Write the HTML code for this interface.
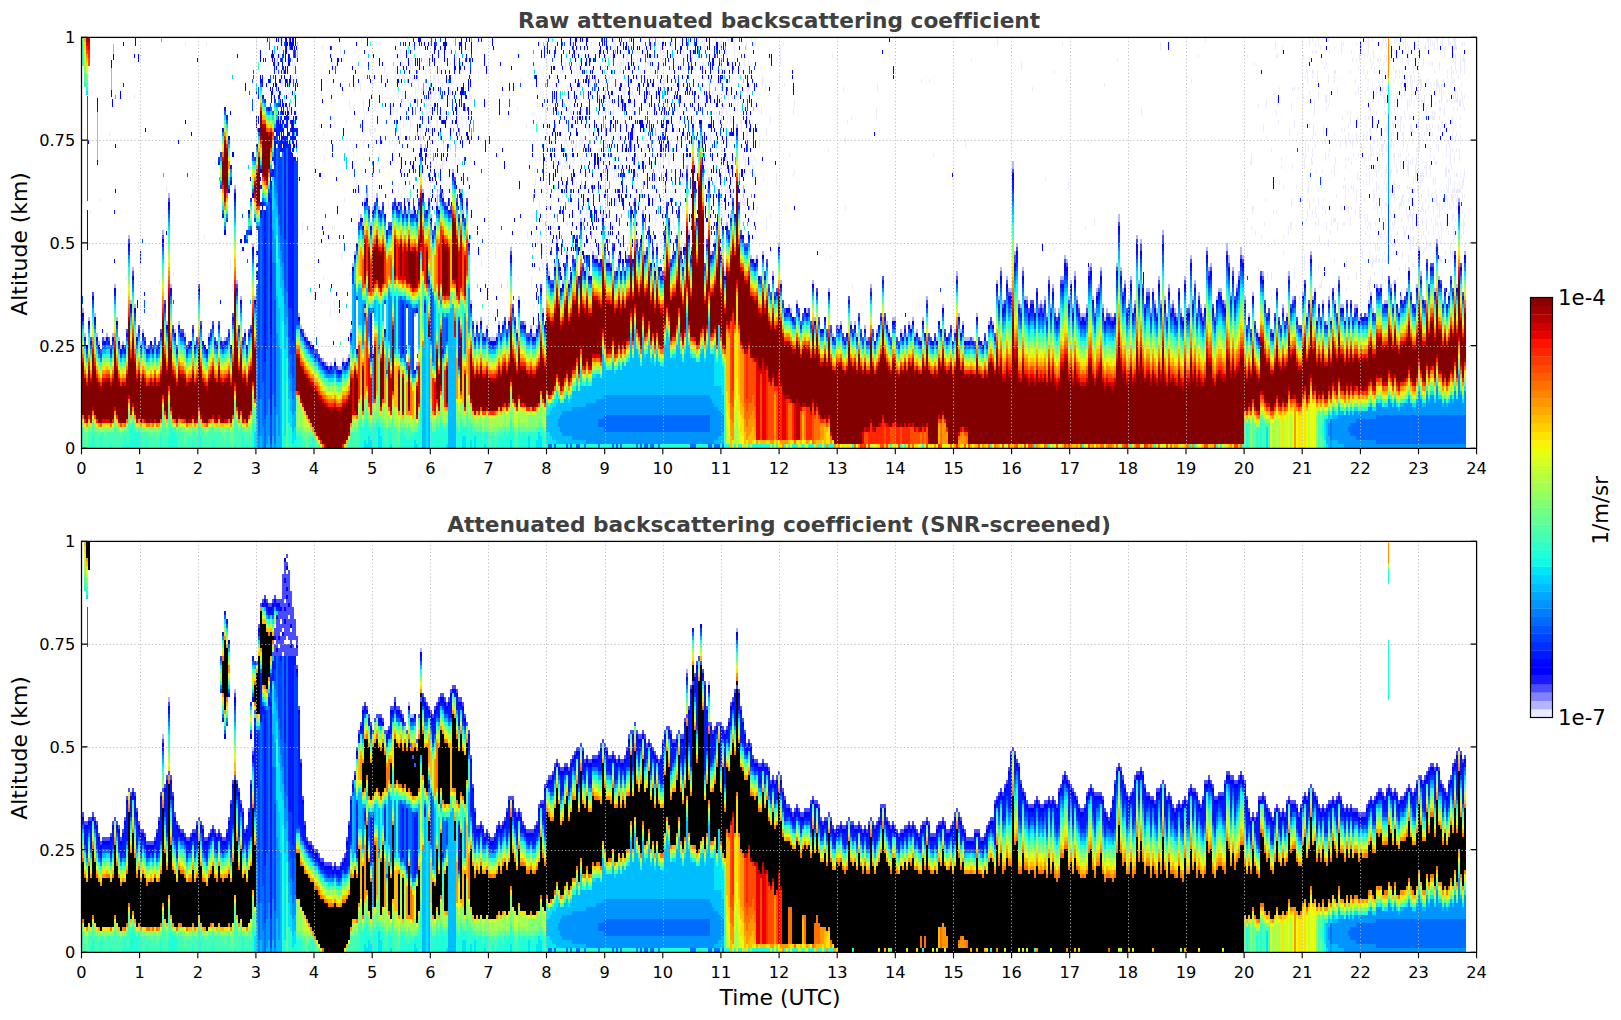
<!DOCTYPE html>
<html><head><meta charset="utf-8"><title>Backscatter</title>
<style>
html,body{margin:0;padding:0;background:#fff}
svg{display:block}
text{font-family:"DejaVu Sans","Liberation Sans",sans-serif;fill:#000;font-variant-ligatures:none;font-feature-settings:"liga" 0,"clig" 0}
.tk{font-size:16.2px}
.lb{font-size:21.9px}
.cb{font-size:21.3px}
.ti{font-size:21.7px;font-weight:bold;fill:#404040}
</style></head><body>
<svg width="1621" height="1020" viewBox="0 0 1621 1020">
<rect width="1621" height="1020" fill="#fff"/>
<g fill="none" stroke-width="2" shape-rendering="crispEdges">
<path stroke="#b4b4ff" d="m83 313v-5m2 29v-4m4-12v-4m6 0v-4m2 24v-4m2 12v-4m6 0v-4m2 0v-4m6 4v-4m2-45v-4m2 37v-4m2 24v-4m2 12v-4m2 0v-4m6-102v-4m2 69v-4m2-29v-4m2 41v-4m2 33v-4m4 12v-4m2-8v-4m4 20v-4m16-110v-5m4 95v-4m2-123v-5m2 95v-4m4 49v-4m4-4v-4m6 16v-4m10 12v-4m14-4v-4m12 8v-4m4 4v-4m10-148v-4m2 99v-4m4 20v-4m4 37v-4m8-82v-4m2 57v-4m44 21v-4m2 16v-4m4 12v-4m6 12v-4m12 21v-4m4 8v-4m4 4v-4m4 0v-4m4 12v-4m2 4v-4m2-4v-4m4 4v-4m2 0v-4m2-21v-4m2-62v-4m2-8v-4m6-33v-4m2 12v-4m2 91v-5m0-106v-4m2 0v-5m4 33v-4m2 132v-5m0-139v-4m4-8v-5m2 17v-4m18 0v-4m2 8v-4m4 8v-4m4 4v-4m2-8v-4m2 16v-4m2 4v-4m2 107v-4m2 53v-4m4-214v-4m2 49v-4m8 29v-4m4 12v-4m2-16v-4m2 8v-4m4-8v-5m4 13v-4m6-29v-4m8 24v-4m2 25v-4m6 33v-4m2 65v-4m4 37v-4m2-8v-4m4 0v-4m4 20v-4m2-4v-4m4 16v-4m2 4v-4m2 4v-4m2 0v-4m2-8v-4m4 4v-4m6 0v-4m2-66v-4m6 86v-4m2-29v-4m6 29v-4m6 8v-4m2 12v-4m2 4v-4m2-4v-4m6-12v-5m6-32v-5m6-4v-4m2-20v-4m6 45v-4m4-25v-4m2 33v-4m12-58v-4m4 53v-4m4 9v-5m4-16v-4m2 8v-4m2 4v-4m2 8v-4m4-41v-4m4 49v-4m2 4v-4m8 12v-4m2-8v-4m6 16v-4m2-8v-4m16-41v-4m2 45v-4m10 20v-4m2-20v-4m4 33v-5m12-16v-4m8 0v-4m2 20v-4m2-16v-4m2-74v-4m2 70v-5m20-49v-4m2 78v-4m4-8v-4m6 16v-4m4 25v-5m2-45v-4m4-4v-4m6-86v-4m14 135v-4m4 8v-4m2 0v-4m6 0v-4m10 25v-5m6-24v-4m2 41v-4m8 28v-4m2 9v-5m6-4v-4m10 13v-5m6-24v-4m2 41v-4m14-25v-4m4 49v-4m6-4v-4m2 0v-4m10 4v-4m4 4v-4m2 16v-4m8-4v-4m2 16v-4m4-49v-4m6 49v-4m10-4v-4m2 12v-4m4-8v-4m2 4v-4m6 16v-4m2 8v-4m4 4v-4m2-8v-4m2 8v-4m2-4v-4m2 20v-4m2 0v-4m4 12v-4m2-16v-4m4-17v-4m10 45v-4m6-29v-4m12 29v-4m2-53v-5m2 46v-4m2 20v-4m2-4v-4m2 20v-4m2 4v-4m2 4v-4m4 4v-4m4-20v-4m6 32v-4m6-16v-4m4 4v-4m4-37v-4m2 20v-4m2-25v-4m2 37v-4m4-20v-4m2 16v-4m2 4v-4m2-119v-8m2 94v-4m2-4v-4m2 61v-4m2 8v-4m2-33v-4m2 33v-4m2 4v-4m8 17v-5m4 0v-4m2 0v-4m2 8v-4m2-4v-4m2 21v-4m2-33v-4m2 32v-4m2-16v-4m2 29v-5m4 5v-5m2-28v-4m2 4v-4m2-17v-4m2 8v-4m2 41v-4m2-12v-4m2 28v-4m2-28v-5m2 29v-4m2 12v-4m2 13v-4m2 4v-4m2 4v-4m2-5v-4m2-33v-4m2 0v-4m2 37v-4m2 17v-5m2-16v-4m2 0v-4m2-13v-4m2 41v-4m2 17v-4m2-4v-5m4 9v-4m6-46v-4m2-41v-8m2 57v-4m2 25v-4m2-4v-4m4 24v-4m2-20v-4m2 37v-5m2-4v-4m2-61v-4m2 49v-4m2-37v-4m6 53v-4m2 4v-4m2 25v-5m2-16v-4m2 16v-4m2 13v-5m2-28v-4m2 28v-4m2-65v-5m2 70v-4m2 21v-4m2-25v-4m2 24v-4m2 0v-4m2 13v-5m2 9v-4m4 0v-5m4-28v-4m4 32v-4m2-45v-4m2 45v-4m2-12v-4m2 33v-5m2-12v-4m2 16v-4m2 13v-4m2-5v-4m2-53v-4m2 24v-4m2 0v-4m4 54v-4m2-13v-4m2-4v-4m2 4v-4m4 16v-4m2-49v-8m2 20v-8m2 41v-4m2-21v-4m4 21v-4m2-8v-5m2-16v-8m2 12v-4m2 45v-4m4 21v-4m4-17v-4m4 41v-4m2 8v-4m4-57v-5m10 62v-4m10-21v-4m4 13v-4m2-37v-5m4 29v-4m10 0v-4m4 25v-4m4-58v-4m2 49v-4m2-4v-4m2 33v-4m6-13v-4m4 25v-4m2-21v-4m2 25v-4m4-13v-4m4-20v-4m2 32v-4m2 4v-4m2 17v-4m10-9v-4m2 4v-4m2 17v-4m8 0v-4m2-9v-4m2-4v-4m2 21v-5m4-20v-4m4 4v-4m4 20v-4m2 4v-4m4-12v-4m4 0v-4m4 33v-5m2-8v-4m6-4v-4m2-17v-4m8 21v-4m2-33v-4m2 29v-5m2 29v-4m12-4v-4m2-45v-4m2 41v-4m4 28v-4m6-4v-4m8-4v-4m2-82v-4m6 57v-4"/>
<path stroke="#4b4bff" d="m91 341v-4m2-41v-4m8 62v-5m2-8v-4m6 4v-4m2 12v-4m14 4v-4m2-12v-4m2-86v-4m4 37v-5m6 58v-4m6 16v-4m4 12v-4m4 4v-4m2-4v-4m2 12v-4m2 0v-4m2-8v-4m2-90v-4m2 69v-4m4-98v-4m4 131v-4m4 24v-4m4-12v-4m2 4v-4m4 20v-4m2 0v-4m4-12v-4m4 16v-4m2-49v-4m2 41v-4m10 12v-4m2-4v-4m2 20v-4m2 8v-4m2-16v-4m4 24v-4m4 0v-4m2-4v-4m4-12v-4m2-120v-4m2 99v-4m2 45v-4m4 16v-4m6-4v-4m2 0v-4m52 8v-4m4 12v-4m8 17v-5m2 5v-5m2 9v-4m2 8v-4m4 8v-4m4 8v-4m4 4v-4m4 4v-4m8 0v-4m14-136v-4m10-12v-4m6 0v-4m6 12v-4m2-4v-4m6 24v-4m2 4v-4m2-16v-4m2 0v-4m6 8v-4m6 164v-4m10-144v-4m2-12v-4m6 16v-4m4-8v-4m4 37v-5m8-37v-4m4 17v-4m6 8v-4m4-25v-4m2 25v-4m2 20v-4m6 8v-4m2-16v-4m6 127v-4m6 16v-4m4 4v-4m6 8v-4m12 0v-4m4-12v-4m2 16v-4m4-74v-4m2 57v-4m2 17v-4m6 8v-4m2 4v-4m4 16v-4m2 4v-4m10-8v-4m2-33v-4m6-17v-4m4 21v-4m2 4v-4m6-13v-4m6 4v-4m8-4v-4m2 8v-4m2-20v-4m6 32v-4m22-16v-4m6 24v-4m2-16v-4m2 33v-5m14-12v-4m2-45v-4m4-4v-4m2 45v-4m2 16v-4m8 0v-4m2-17v-4m4 25v-4m10 29v-5m2-36v-5m2-24v-4m2 20v-4m2 45v-4m6-20v-4m2-25v-4m8-33v-4m4 90v-4m14 12v-4m2-20v-4m6 16v-4m6-58v-4m10 46v-5m4-28v-4m6 8v-4m2 33v-5m4 17v-4m2 4v-4m14 37v-4m4 0v-5m2-8v-4m2 29v-4m2 12v-4m4 4v-4m2 0v-4m6 16v-4m2 13v-5m10 13v-4m4-4v-5m2 17v-4m2-4v-4m6 0v-5m2 17v-4m6-29v-4m2 33v-4m8 16v-4m4 0v-4m4 16v-4m2-8v-4m6 12v-4m2 8v-4m4-37v-4m4 37v-4m6-12v-4m2 20v-4m2 12v-4m6 4v-4m2-45v-4m2 45v-4m8-12v-4m2-33v-4m2 41v-4m6 28v-4m6 4v-4m2 8v-4m6-12v-4m14 16v-4m8-33v-4m2 37v-4m2 8v-4m4 0v-4m10 0v-4m4 8v-4m2-4v-4m6-45v-4m14 65v-4m4 8v-4m4 0v-4m6 0v-4m2 12v-4m4-20v-4m4 20v-4m4-29v-4m2-24v-5m2 37v-4m2 0v-4m2-16v-4m2 16v-4m2 4v-4m2-119v-4m2 94v-8m2-4v-4m2 61v-4m2 9v-5m2-32v-5m4 33v-4m2 13v-5m2-4v-4m2 4v-4m4-8v-4m2 25v-5m2 0v-4m2 9v-5m2-4v-4m2 21v-4m2-33v-4m2 33v-5m2-16v-4m2 29v-4m2 8v-4m2 0v-4m2-29v-4m2 4v-4m2-17v-4m2 8v-4m2 41v-4m4 13v-5m2-28v-4m2 28v-4m2 13v-5m2 13v-4m4 4v-4m2-4v-5m2-32v-5m2 0v-4m4 50v-4m2-17v-4m2 0v-4m2-12v-5m2 42v-5m4 9v-4m2 4v-4m2 8v-4m2 4v-4m2 0v-4m2-42v-4m2-41v-4m2 54v-5m2 25v-4m2-4v-4m2 29v-5m2 0v-4m2-20v-4m4 28v-4m2-61v-4m2 49v-4m2-33v-8m2 45v-4m2 24v-4m2-8v-4m2 4v-4m2 25v-4m4-5v-4m2 13v-4m2-29v-4m2 28v-4m2-61v-8m2 69v-4m2 21v-4m2-25v-4m2 25v-5m2 0v-4m2 13v-4m2 8v-4m2-25v-4m2 29v-4m2 8v-4m2-33v-4m2 33v-5m2 5v-5m2-45v-4m2 45v-4m2-12v-4m2 33v-4m2-13v-4m2 17v-5m2 13v-4m4-62v-4m2 25v-5m2 0v-4m2 41v-4m2 17v-4m6-21v-4m2 12v-4m2 8v-4m2-49v-4m2 16v-4m2 37v-4m2-20v-5m2 29v-4m2-4v-4m2-8v-4m2-17v-4m2 8v-4m2 45v-4m2 29v-4m4 8v-4m4-4v-4m6-45v-5m2 9v-4m2 28v-4m2 17v-4m2 0v-5m2 25v-4m4-12v-4m2-21v-4m2 33v-4m2 12v-4m2-12v-5m2 17v-4m4-41v-4m2 32v-4m2 0v-4m2 0v-4m2 25v-4m2 12v-4m2 4v-4m4-41v-4m4 24v-4m2-41v-4m8 53v-4m2 17v-4m4 8v-4m4-17v-4m4-8v-4m4 29v-4m2-29v-4m8 24v-4m2 21v-4m2-13v-4m2 21v-4m2-4v-5m6 9v-4m4 4v-4m10 4v-4m4-21v-4m4 20v-4m6-24v-4m2 16v-4m2 20v-4m10 0v-4m2 0v-4m6 0v-4m4 16v-4m6-24v-4m4 28v-4m2-37v-4m2 29v-4m2-17v-4m2 4v-4m4-16v-4m4 41v-4m4 12v-4m6-8v-4m2 16v-4m2-33v-4m4-45v-4m2 65v-4m2 33v-4"/>
<path stroke="#00f" d="m83 317v-4m4 36v-4m2-20v-4m4-21v-4m2 25v-4m2 24v-4m2 12v-4m6 0v-4m2 0v-4m6 4v-4m2-45v-4m2 37v-4m2 24v-4m2 13v-5m2 0v-4m6-98v-4m2 65v-4m2-24v-4m2 37v-5m2 33v-4m6 0v-4m4 21v-5m4-4v-4m12-98v-4m4 90v-4m2-119v-4m2 90v-4m4 49v-4m4-4v-4m12 20v-4m4 8v-4m4-53v-4m4 57v-4m2 8v-4m2 9v-5m2-8v-4m12 8v-4m4-106v-5m4-37v-4m0-49v-4m2 213v-4m0-160v-4m2-24v-5m2 46v-5m6 111v-4m0-57v-4m4 98v-4m2 16v-4m2-131v-4m2 25v-5m2 21v-4m0-49v-5m2 111v-4m4-168v-4m2 45v-4m0-86v-4m10 254v-82m28 70v-4m2 16v-4m4 12v-4m4 8v-4m2 8v-4m2 4v-4m10 21v-4m4 8v-4m4 4v-4m4 0v-4m4 12v-4m2 4v-4m2-4v-4m4 4v-4m2 0v-4m2-21v-4m2-62v-4m2-8v-4m2 99v-5m0-102v-4m4-21v-4m2 12v-4m2-20v-4m2 0v-4m4 32v-4m2-12v-4m6 4v-4m6 123v-4m0-111v-4m2 21v-5m10-20v-4m8 4v-4m2 12v-4m2-8v-4m6 172v-4m0-156v-4m2 103v-5m4-156v-4m2 50v-5m4 21v-4m4 12v-4m4 12v-4m2-16v-4m2 8v-4m4-8v-4m6 16v-4m4-33v-4m8 25v-5m2 25v-4m6 33v-4m2 65v-4m4 37v-4m2-8v-4m4 0v-4m4 20v-4m2-4v-4m4 16v-4m2 4v-4m2 4v-4m2 0v-4m2-8v-4m4 4v-4m6 0v-4m2-62v-4m6 82v-4m2-29v-4m6 29v-4m6 8v-4m2 12v-4m2 4v-4m2-4v-4m4-37v-4m2 29v-4m2 16v-4m4-45v-4m6-5v-4m2-20v-4m4 49v-4m2 0v-4m4-25v-4m2 33v-4m2-4v-4m6-33v-4m2 41v-4m2-50v-4m4 54v-5m2-12v-4m2 25v-4m2 4v-4m2-17v-4m2 8v-4m2 4v-4m4 4v-4m2-37v-4m4 49v-4m2 4v-4m8 13v-5m4 5v-5m2-8v-4m8-45v-4m2 53v-4m2-53v-4m6 41v-4m2-21v-4m2 45v-4m6 12v-4m4 13v-5m2-20v-4m2 24v-4m6-28v-4m16 20v-4m4 0v-4m4-8v-4m6-46v-4m2 37v-4m4-94v-4m2 49v-4m6 20v-4m2 78v-4m4-8v-4m2-17v-4m4 37v-4m4 25v-4m2-46v-4m8-8v-4m2-82v-4m6 111v-4m6 4v-4m4 28v-4m2 8v-4m2 0v-4m2 21v-4m4-17v-4m10 25v-4m6-25v-4m2 41v-4m6 29v-5m2 5v-5m4 13v-4m4-9v-4m8 9v-5m2 9v-4m6-25v-4m2 41v-4m6 12v-4m2 4v-4m2-8v-4m4-21v-4m4 49v-4m8-8v-4m6 12v-4m4-4v-4m4 4v-4m2 16v-4m18 8v-4m4-12v-4m8 4v-4m2 12v-4m4-8v-4m2 4v-4m6 16v-4m2 8v-4m6-8v-4m2 8v-4m2-4v-4m4 16v-4m4 12v-4m2-16v-4m2 16v-4m8 12v-4m4 4v-4m2-16v-4m2 12v-4m2-16v-5m4 33v-4m6 8v-4m6-20v-4m2 20v-4m2-4v-4m2 20v-4m4 4v-4m8-20v-4m4 28v-4m2 8v-4m6-16v-4m4 4v-4m4-37v-4m4-4v-4m2 37v-5m2 0v-4m2-16v-4m2 16v-4m2 4v-4m2-115v-8m2 94v-4m2-8v-4m6 29v-4m2 28v-4m2 8v-4m2 13v-4m2-5v-4m2 4v-4m2 13v-4m2-17v-4m2 25v-4m4 4v-4m6-25v-4m2 33v-4m2-17v-4m4 33v-4m6-33v-4m2-13v-8m2 8v-4m2 41v-4m2-16v-4m2 33v-4m2-29v-4m2 28v-4m4 21v-4m2 0v-4m2 8v-4m2-4v-4m2-33v-4m2 0v-5m2 33v-4m4 0v-4m2 0v-4m2-12v-4m2 41v-4m2 12v-4m4 0v-4m4 8v-4m2 0v-4m2-41v-5m2-41v-4m2 54v-4m2 24v-4m2-4v-4m2 29v-4m4-25v-4m2 33v-4m2 0v-5m2-61v-4m2 49v-4m2-33v-4m2 41v-4m2 25v-5m2-8v-4m6 0v-4m2 21v-5m2 13v-4m2-29v-4m4-37v-4m2 65v-4m4-8v-4m2 25v-4m2 0v-5m2 13v-4m4-21v-4m2 29v-4m2 8v-4m2-33v-4m2 33v-4m2 4v-4m2-46v-4m2 45v-4m6 0v-4m2 17v-4m2 12v-4m2-8v-5m2-49v-4m2 25v-4m2 0v-5m2 42v-5m4-4v-4m2-4v-4m2 8v-4m2 12v-4m2 9v-5m2-49v-4m2 16v-4m4 13v-4m2 28v-4m2-4v-4m2-8v-4m2-17v-4m2 8v-4m2 45v-4m4 17v-4m4-17v-4m4 41v-4m2 8v-4m2-57v-4m2 8v-4m10 57v-4m4-37v-4m10 29v-4m16-17v-4m2-8v-4m2 37v-4m2-9v-4m2-41v-4m2 45v-4m2-4v-4m2 33v-4m2-8v-5m4 0v-4m8 21v-4m2-25v-4m2 16v-4m6 9v-5m2 5v-5m2 17v-4m6-13v-4m6 9v-5m2 17v-4m4 0v-4m4 4v-4m2-9v-4m2-4v-4m2 21v-4m4-21v-4m4 4v-4m4 20v-4m2 4v-4m8-16v-4m2 24v-4m2 13v-4m2-9v-4m6-4v-4m2-16v-5m4 37v-4m4-12v-4m2-33v-4m4 53v-4m8-29v-4m4 29v-4m4-8v-4m8 28v-4m2-4v-4m6-37v-4m2 37v-4m2-78v-4m2 65v-4m4-8v-4"/>
<path stroke="#0019ff" d="m83 321v-4m2 24v-4m6 8v-4m4-16v-4m8 24v-4m6 4v-4m2 13v-5m4-53v-4m10 62v-5m2-12v-4m2-82v-4m2 66v-5m8 25v-4m2 20v-4m4 0v-4m4 13v-5m4 5v-5m4 5v-5m2 0v-4m2-8v-4m2-86v-4m2 65v-4m4-94v-4m2 90v-4m2 41v-4m4 25v-5m4-12v-4m2 4v-4m2 8v-4m2 17v-5m2 0v-4m4-12v-4m8 0v-4m10 12v-4m2-4v-4m2 20v-4m2 8v-4m2-16v-4m0-160v-4m4 188v-4m0-127v-4m0-82v-4m2 217v-4m0-230v-4m2 238v-4m0-221v-5m2 222v-4m2-164v-4m2 156v-4m2-115v-4m2 94v-4m2 45v-4m4 16v-4m0-90v-4m2-4v-8m4 102v-4m2 0v-4m2-74v-4m0-94v-5m4 128v-9m0-4v-4m0-8v-4m0-103v-4m4 74v-8m0-4v-4m0-13v-4m2 21v-4m0-103v-4m2 267v-152m4-8v-9m0-82v-4m2 308v-82m0-82v-53m0-9v-8m0-4v-4m2 4v-8m0-8v-4m2 8v-29m0-4v-4m2 16v-4m0-4v-16m2 28v-4m0-8v-12m0-25v-4m2 57v-12m0-8v-4m2 24v-4m0-4v-8m0-4v-4m0-4v-4m0-50v-4m2 173v-103m0-8v-4m2 24v-12m0-8v-13m2 193v-164m0-8v-4m2 176v-156m0-12v-4m0-4v-4m2 213v-184m0-5v-4m0-4v-12m2 29v-4m0-17v-4m0-4v-4m2 8v-8m6 209v-4m4 12v-4m8 17v-4m4 8v-4m6 12v-4m4 8v-4m8 4v-4m8 0v-4m20-49v-4m4-99v-4m2 148v-45m2 45v-4m2-144v-4m2-4v-4m4 20v-4m2-4v-4m6 24v-4m2 4v-4m2-16v-4m2 0v-4m4 12v-4m4 144v-50m0-86v-4m4 94v-4m4-86v-4m2 4v-4m4 8v-4m2-12v-4m2-45v-5m4 161v-9m4-20v-4m0-74v-4m4 37v-4m8-37v-5m2 161v-5m2-139v-4m2 4v-4m4 8v-4m4-25v-4m2 25v-4m2 164v-45m0-99v-4m8-12v-4m6 127v-4m4 8v-4m2 12v-4m4 4v-4m6 8v-4m12 0v-4m4-12v-4m2 16v-4m4-70v-4m2 54v-5m2 17v-4m4-13v-4m2 25v-4m2 4v-4m6 16v-4m10-8v-4m8-54v-4m4 21v-4m2 4v-4m4-33v-4m2 24v-4m6 4v-4m8-4v-4m2 8v-4m8 8v-4m16 0v-4m2 4v-4m4-12v-4m6 24v-4m2-16v-4m6 16v-4m6 17v-5m2-8v-4m2 4v-4m8-12v-4m2 16v-4m8 0v-4m2-16v-5m4 25v-4m8 29v-4m2 4v-4m4-66v-4m2 20v-4m2 45v-4m2-4v-4m2 0v-4m2-8v-4m2-25v-4m4 61v-4m4-90v-4m4 90v-4m2-131v-4m6 20v-4m8 107v-4m2-54v-4m10 13v-5m4 37v-4m6 13v-4m2-13v-4m2-12v-4m4-66v-4m4 107v-4m10 28v-4m14 21v-4m10 24v-4m2 0v-4m8 25v-4m6 4v-4m8 4v-4m2 16v-4m16-29v-4m22 41v-4m4 12v-4m2 8v-4m4-37v-4m4 37v-4m6-12v-4m2 20v-4m4 0v-4m2 16v-4m4-45v-4m6 45v-4m4-12v-4m2-33v-4m2 41v-4m20 16v-4m2 12v-4m8 4v-4m4 8v-4m8-33v-4m4 41v-4m4 0v-4m10 0v-4m6 0v-4m4 8v-4m2-49v-4m10 65v-4m6 4v-4m6 4v-4m6 0v-4m6-12v-4m4 20v-4m2-45v-4m2 20v-4m2-20v-4m2 37v-4m2 0v-5m2-16v-4m2 16v-4m2 4v-4m2-111v-8m2 90v-4m2-4v-8m2 58v-5m2 9v-4m2-29v-4m2 28v-4m4 17v-4m2-4v-5m2 5v-5m2 13v-4m2-17v-4m4 17v-5m4 0v-4m2 21v-4m2-29v-4m4 12v-4m2 25v-4m2 12v-4m2-4v-4m2-29v-4m2 8v-4m2-12v-5m2 5v-5m2 42v-5m2-16v-4m2 33v-4m2-29v-4m2 29v-5m2 9v-4m4 12v-4m6-37v-4m2 0v-4m2 32v-4m2 17v-4m2-13v-4m2 0v-4m2-12v-4m4 49v-4m2-4v-4m2 8v-4m2 4v-4m2 8v-4m2 0v-4m2-41v-4m2-41v-5m2 54v-4m2 24v-4m2-4v-4m2 29v-4m2-4v-5m2-16v-4m2 33v-4m4-62v-8m2 49v-4m2-33v-4m2 41v-4m2 25v-4m2-9v-4m2 0v-4m2 25v-4m2-17v-4m2 21v-4m4-21v-4m2 25v-5m2-57v-4m2 66v-5m2 17v-4m2-21v-4m4 21v-4m2 12v-4m2 4v-4m2-21v-4m2 29v-4m2 8v-4m2-33v-4m2 33v-4m2 4v-4m2-46v-4m2 46v-5m2-16v-4m2 33v-4m2-9v-4m2 17v-4m4 0v-4m2-50v-4m2 25v-4m2 0v-4m2 41v-4m2 12v-4m2-13v-4m2-4v-4m2 8v-4m2 13v-5m2 9v-4m2-50v-4m2 17v-5m2 33v-4m2-16v-4m2 28v-4m4-16v-4m2-17v-4m2 8v-4m4 66v-4m4 8v-4m2-29v-4m2 29v-4m6-41v-4m4 28v-4m2 17v-4m2 0v-4m2 24v-4m4-12v-4m4 8v-4m2 12v-4m2-12v-4m2 16v-4m4-41v-4m2 33v-5m2 0v-4m2 0v-4m2 25v-4m4 12v-4m14-29v-4m6 29v-4m4 8v-4m2 4v-4m2-17v-4m8 17v-4m2-29v-4m8 24v-4m2 21v-4m4 4v-4m2-4v-4m6 8v-4m4 4v-4m14-21v-4m10-8v-4m2 16v-4m2 21v-5m2-16v-4m8 20v-4m2 0v-4m4-20v-4m2 24v-4m4 17v-5m4-49v-4m2 29v-4m4 28v-4m2-37v-4m2 29v-4m4-17v-4m4-16v-4m2 41v-4m2 4v-4m2 24v-4m2-8v-4m6-8v-4m2 16v-4m6-78v-4m4 90v-4m2-33v-4"/>
<path stroke="#0042ff" d="m87 354v-5m2-20v-4m4-21v-4m4 45v-4m2 13v-5m2 9v-4m6-9v-4m6 4v-4m4-12v-4m2 24v-4m2 13v-4m2 0v-5m6-94v-4m4 33v-4m2 37v-4m2 32v-4m6 0v-4m8 12v-4m4 0v-4m10-28v-5m2 25v-4m2-115v-4m6 131v-4m4-4v-4m12 20v-4m4 9v-5m2-4v-4m2-45v-4m4 57v-4m2 9v-5m2 9v-4m2-9v-4m10-180v-4m2 192v-4m0-156v-4m0-28v-5m6 70v-4m4 136v-5m0-168v-4m2 148v-4m2-115v-4m2 94v-4m4 16v-4m4 37v-4m2 17v-5m0-106v-4m0-4v-5m2 5v-5m2-28v-4m2 61v-4m2 53v-4m0-82v-4m0-57v-4m2 73v-4m2 173v-173m4 156v-172m2 209v-57m0-156v-4m0-99v-4m2 250v-143m0-95v-4m4 337v-29m0-217v-9m0-16v-4m4 238v-107m0-123v-12m0-62v-4m4 115v-66m0-41v-4m2 132v-78m4 131v-49m4 98v-29m2 46v-46m2 70v-37m2 13v-193m2 164v-164m2 164v-4m10 28v-4m2 9v-5m2 5v-5m4 9v-4m4 12v-4m2 8v-4m4 8v-4m4 4v-4m2 4v-4m2 0v-4m4 12v-4m8-4v-4m4-25v-4m2-53v-13m4 29v-4m0-45v-4m2-17v-4m2 0v-4m4 86v-4m2-98v-4m4 33v-5m2-12v-4m12 123v-4m0-29v-4m0-78v-4m2 21v-4m10-21v-4m4 148v-58m0-90v-4m2 98v-4m2-86v-4m8 164v-66m2 5v-5m0-90v-4m2 156v-4m6-164v-4m2 106v-4m0-82v-4m2 4v-4m4 127v-53m0-62v-4m6-8v-4m6-4v-4m4 139v-24m2-99v-4m4-33v-4m8 25v-4m2 24v-4m2 8v-4m4 29v-4m2 66v-5m4 37v-4m6-12v-4m6 12v-4m6 16v-4m4 0v-4m2-8v-4m4 4v-4m6 0v-4m8 16v-4m8-4v-4m2 12v-4m4 0v-4m2 12v-4m4-4v-4m4-37v-4m2 29v-4m2 16v-4m4-45v-4m6-4v-5m6 25v-4m2 0v-4m4-25v-4m4 25v-4m6-33v-4m2 41v-4m2-50v-4m4 54v-4m2-13v-4m2 25v-4m2 4v-4m2-17v-4m10-33v-4m4 49v-4m2 4v-4m6 13v-4m6 4v-4m2-9v-4m8-45v-4m2 53v-4m2-53v-4m6 41v-4m2-21v-4m2 45v-4m6 12v-4m4 13v-4m2-21v-4m2 25v-5m6-28v-4m2-25v-4m12 8v-4m2 45v-4m4 0v-4m2-70v-4m2 66v-4m6-46v-4m2 37v-4m4-94v-4m2 49v-4m2 102v-4m6-4v-4m2 0v-4m2-4v-4m2-17v-4m2-24v-4m2 65v-4m6-24v-5m8-8v-4m4-8v-4m4 37v-4m2 12v-4m2 4v-4m2-4v-4m4 28v-4m2 8v-4m2 0v-4m2 21v-4m2 4v-4m6-13v-4m2 29v-4m2 12v-4m8-41v-4m2 41v-4m2 20v-4m4 13v-4m6 12v-4m2 4v-4m2-8v-5m6 13v-4m2 0v-4m2 8v-4m2 0v-4m2 16v-4m2-33v-4m6 37v-4m2 16v-4m4-8v-4m2 16v-4m2-33v-4m2 37v-4m4 16v-4m2-8v-4m10 12v-4m4-4v-4m4 4v-4m8 16v-4m6 4v-4m4-4v-4m6 0v-4m4-41v-4m4 49v-4m4 16v-4m2-12v-4m2 4v-4m2 20v-4m2 8v-4m24-16v-4m2 16v-4m4 4v-4m4 12v-4m6-16v-4m2 12v-4m2-16v-4m4 32v-4m2 0v-4m10-12v-4m2 20v-4m2-4v-4m8 16v-4m4 8v-4m2-20v-4m10 28v-4m10-49v-4m2 21v-5m2-20v-4m4 33v-4m2-17v-4m2 16v-4m2 4v-4m2-111v-4m2 87v-5m2-4v-4m2 54v-4m2 8v-4m2-29v-4m2 29v-5m2 5v-5m2 17v-4m2-4v-4m2 4v-4m2 12v-4m2-17v-4m2 21v-4m2 0v-4m2 8v-4m2-4v-5m2 21v-4m2-29v-4m2 29v-4m2-13v-4m2 25v-4m4 4v-4m2-29v-4m2 8v-4m2-12v-4m2 4v-4m2 41v-4m2-17v-4m4 0v-4m2 29v-4m2 8v-4m2 12v-4m2 4v-4m2 4v-4m2-4v-4m2-29v-4m2 0v-4m2 33v-5m2 17v-4m4-17v-4m2-12v-4m2 37v-4m2 16v-4m2-4v-4m4 8v-4m6-37v-8m2-37v-8m2 53v-4m2 24v-4m2-4v-4m2 29v-4m2-4v-4m2-17v-4m2 33v-4m2-4v-4m2-54v-4m2 45v-4m2-33v-4m2 41v-4m2 25v-4m2-9v-4m2 0v-4m2 25v-4m2-17v-4m2 21v-4m2 8v-4m2-25v-4m2 25v-4m2-58v-4m4 78v-4m4-4v-4m6 12v-4m2-21v-4m8 25v-4m4-45v-5m2 46v-4m2-17v-4m2 33v-4m2-8v-5m4 21v-4m2-4v-4m2-50v-4m2 25v-4m2 0v-4m2 41v-4m2 12v-4m2-12v-5m2-4v-4m2 8v-4m2 13v-4m4-46v-4m2 17v-4m2 32v-4m2-16v-4m2 29v-5m2-8v-4m2-4v-4m2-17v-4m2 9v-5m2 42v-5m2 29v-4m2-8v-4m8 20v-4m2 8v-4m4-53v-4m2 29v-5m4 13v-4m4 24v-4m4-37v-4m10 29v-4m2-33v-4m6 24v-4m4 29v-4m4-25v-4m2-8v-4m2 37v-4m2-8v-5m2-41v-4m2 45v-4m4 25v-4m2-8v-4m4 0v-5m10-8v-4m2 17v-5m4-16v-4m2 29v-4m2 4v-4m8 0v-5m6 9v-4m6 12v-4m4 4v-4m2-8v-5m2-4v-4m2 21v-4m2 4v-4m2-21v-4m4 4v-4m2 21v-5m2 5v-5m2 5v-5m10 5v-5m4 0v-4m6-4v-4m6 17v-5m4-12v-4m6 16v-4m4-33v-4m4 9v-5m2 5v-5m2 29v-4m2-41v-4m10 62v-5m2-4v-4m6-37v-4m2 37v-4m4-16v-5"/>
<path stroke="#006bff" d="m83 325v-4m2 24v-4m6 8v-4m2-37v-4m2 25v-4m8 24v-4m2 4v-4m6 13v-4m4-54v-4m12 45v-4m4-20v-4m2-25v-4m2 37v-4m4 20v-4m2 21v-5m4 0v-4m2 13v-4m10 4v-4m2 0v-5m2-8v-4m2-86v-4m6-29v-4m2 86v-4m2 41v-4m8 8v-4m2 4v-4m2 8v-4m2 17v-4m6-17v-4m6-33v-4m2 37v-4m10 12v-4m2-4v-4m2 20v-4m4-12v-4m4 25v-5m0-135v-4m2 139v-4m0-115v-4m0-111v-4m2 238v-4m0-221v-4m2 221v-4m0-148v-4m0-41v-4m6 70v-4m4 131v-4m2-20v-5m8 33v-4m0-119v-4m2 16v-4m2 37v-4m0-66v-4m0-28v-4m4 201v-74m2 152v-37m0-263v-4m2 267v-181m0-49v-4m0-78v-4m2 344v-45m0-180v-4m2 250v-29m2-4v-66m2 50v-197m0-9v-4m2 259v-4m0-333v-4m2 288v-132m0-148v-4m2 333v-37m0-107v-37m0-78v-8m2 16v-45m0-41v-4m2 123v-12m2 37v-16m2 28v-111m2 152v-16m2 4v-144m2 210v-21m2 37v-20m2 45v-21m2 13v-37m6-17v-4m4 12v-4m2 8v-4m8 17v-4m4 8v-4m6 12v-4m12 8v-4m4 4v-4m2-4v-4m6 0v-4m6-99v-4m8-24v-5m2 91v-4m0-107v-4m4 127v-25m0-90v-4m2 148v-4m2-45v-5m2-94v-4m2-4v-4m2 147v-4m0-127v-4m2 8v-4m2-4v-4m4 164v-4m2-135v-5m2 5v-5m2-16v-4m2 0v-4m4 143v-49m0-82v-4m2 86v-4m2 62v-4m0-132v-4m2 144v-62m2 70v-4m0-144v-4m2 127v-41m0-94v-4m2 164v-66m0-82v-4m2 160v-4m0-152v-4m6-8v-4m2-45v-4m8 131v-4m0-4v-4m0-66v-4m4 156v-66m0-53v-4m2-4v-5m4-12v-4m2-12v-4m2 160v-4m0-5v-32m2 32v-32m0-103v-4m2 4v-4m4 8v-4m4-25v-4m4 185v-4m0-45v-4m8-107v-4m6 127v-4m4 8v-4m2 12v-4m4 4v-4m2 4v-4m4 8v-4m2 4v-4m4 4v-4m10-16v-4m2 16v-4m4-70v-4m2 54v-4m2 16v-4m4-12v-5m2 25v-4m2 4v-4m6 16v-4m6 4v-4m4-8v-4m8-53v-5m2 177v-4m2 4v-4m0-152v-4m2 4v-4m2 160v-4m2-189v-4m2 25v-5m6 5v-5m2 177v-4m2-152v-4m2 160v-4m2-177v-4m2 8v-4m2 181v-4m2 4v-4m4-168v-5m2 177v-4m10-177v-4m2 4v-4m2 185v-4m0-17v-8m0-148v-4m2 160v-8m0-148v-4m2 160v-8m0-189v-4m2 206v-17m0-160v-4m2 181v-17m2 17v-17m2 17v-17m2 33v-4m0-12v-17m0-160v-4m2 181v-17m2 33v-4m0-12v-17m0-135v-4m2 156v-17m0-148v-4m2 185v-4m0-12v-17m2 17v-17m2 17v-17m0-135v-4m2 156v-17m0-148v-4m2 169v-17m0-148v-4m2 169v-17m2 17v-17m2 17v-17m2 33v-4m0-12v-17m0-164v-4m2 185v-17m0-152v-4m2 189v-4m0-12v-17m2 17v-17m0-189v-4m2 226v-4m0-12v-17m2 33v-4m0-12v-17m0-156v-4m2 177v-17m0-176v-4m2 213v-4m0-12v-17m2 33v-4m0-12v-17m0-156v-4m2 177v-17m2 17v-17m2 33v-4m0-12v-17m2 17v-17m0-131v-4m2 152v-17m2 17v-17m2 17v-17m2 17v-17m0-185v-4m2 206v-17m2 17v-17m0-152v-4m2 173v-17m0-156v-4m2 177v-17m0-168v-4m2 189v-17m2 17v-17m2 17v-17m0-139v-5m2 161v-17m2 17v-17m2 17v-17m2 33v-4m0-12v-17m0-148v-4m2 185v-4m0-12v-17m0-283v-4m2 320v-4m0-12v-17m2 17v-17m2 17v-17m0-267v-4m2 288v-17m0-283v-4m2 304v-17m2 17v-17m2 17v-17m0-164v-4m2 201v-4m0-12v-17m0-222v-4m2 259v-4m4 4v-4m2 4v-4m2 4v-4m4 4v-4m0-209v-5m2 54v-4m4-37v-4m2-13v-4m2-12v-4m4-66v-4m14 131v-4m12 0v-4m10 25v-4m16 37v-4m2 8v-4m24 12v-4m2-25v-4m6 41v-4m10 12v-4m6-4v-4m2 0v-4m8-21v-4m8 41v-4m4 0v-4m4 0v-4m6-33v-4m4 53v-4m2-4v-4m8-12v-4m4 20v-4m12 4v-4m2 8v-4m2-4v-4m2 12v-4m2-8v-4m2 8v-4m2-4v-4m2 20v-4m2 0v-4m4 12v-4m6-32v-5m10 41v-4m8-4v-4m6 0v-4m2 16v-4m2-4v-4m2-49v-4m8 65v-4m4 4v-4m12 4v-4m2 9v-5m6-16v-4m2 0v-4m2 8v-4m6-12v-4m2-21v-4m2 33v-4m2 4v-4m2-17v-4m2 17v-5m4-106v-9m2 87v-4m2-5v-4m2 54v-4m2 8v-4m2-29v-4m2 29v-4m2 4v-4m4 8v-4m2 4v-4m2 12v-4m2-17v-4m2 21v-4m2 0v-4m2 8v-4m2-4v-4m2 20v-4m2-29v-4m2 29v-4m2-13v-4m2 25v-4m2 8v-4m2 0v-4m2-29v-4m2 8v-4m2-12v-4m2 4v-4m4 20v-4m2 29v-4m2-25v-4m4 33v-4m2 12v-4m4 4v-4m2-4v-4m2-29v-4m2 0v-4m2 33v-4m2 16v-4m2-17v-4m2 4v-4m2-12v-4m2 37v-4m4 8v-4m2 4v-4m2 8v-4m2 4v-4m2 0v-4m2-33v-4m2-41v-4m2 49v-4m2 25v-5m2-4v-4m4 21v-4m2-17v-4m4 25v-4m2-54v-4m2 45v-4m2-33v-4m2 41v-4m6 8v-4m2 25v-4m2-17v-4m4 25v-4m2-25v-4m2 25v-4m2-54v-8m2 62v-4m2 20v-4m2-25v-4m2 25v-4m2 0v-4m2 12v-4m2 8v-4m2-21v-4m2 25v-4m2 8v-4m2-33v-4m4 33v-4m2-41v-4m4 24v-4m2 33v-4m2-8v-4m2 12v-4m2 12v-4m2-4v-4m2-50v-4m2 25v-4m2 0v-4m4 49v-4m2-12v-4m2-5v-4m2 9v-5m2 13v-4m2 4v-4m2-46v-4m2 17v-4m2 33v-5m2-16v-4m2 29v-4m2-9v-4m2-4v-4m2-16v-5m2 9v-4m2 41v-4m4 16v-4m2 16v-4m2-29v-4m2 29v-4m6-41v-4m2 8v-4m4 37v-4m4 20v-4m4-12v-4m4 8v-4m2 12v-4m2-12v-4m2 16v-4m4-37v-4m2 29v-4m2 0v-5m4 21v-4m4 12v-4m2-25v-4m2-8v-4m6-21v-4m4 37v-4m6 29v-4m4 8v-4m2 4v-4m2-16v-5m2 132v-21m0-90v-4m6 0v-4m8 8v-4m2-12v-5m2 124v-5m0-98v-4m2 111v-13m2 13v-13m0-94v-4m2 111v-13m0-102v-4m2 123v-21m2 21v-21m0-90v-4m2 115v-21m0-94v-4m2 119v-21m2 21v-21m0-94v-4m2 119v-21m2 21v-21m2 21v-21m2 21v-21m2 21v-21m2 25v-29m0-115v-4m2 148v-29m0-115v-4m2 148v-29m2 29v-29m2 29v-29m2 29v-29m2 29v-29m0-127v-4m2 160v-29m0-115v-4m2 148v-29m2 29v-29m0-119v-4m2 152v-29m2 29v-29m0-94v-4m2 127v-29m2 29v-29m0-102v-5m2 136v-29m0-107v-4m2 140v-29m2 29v-29m0-131v-4m2 164v-29m0-111v-4m2 144v-29m2 29v-29m0-98v-4m2 131v-29m0-115v-4m2 148v-29m0-152v-4m2 185v-29m0-127v-4m2 160v-29m2 29v-29m0-102v-5m2 136v-29m2 29v-29m0-119v-4m2 152v-29m2 29v-29m2 29v-29m2 29v-29m2 29v-29m0-123v-4m2 156v-29m0-123v-4m2 156v-29m0-102v-5m2 136v-29m0-115v-4m2 148v-29m2 29v-29m2 29v-29m0-127v-4m2 160v-29m0-115v-4m2 148v-29m0-148v-4m2 181v-29m2 29v-29m0-197v-4m2 230v-29m2 29v-29m0-111v-4m2 144v-29m0-148v-4"/>
<path stroke="#0094ff" d="m87 358v-4m2-21v-4m8 20v-4m2 13v-4m2 8v-4m6-9v-4m2 4v-4m4 4v-4m2-41v-4m2 33v-4m8 29v-4m4-95v-4m4 37v-4m4 61v-4m6 0v-4m6 17v-4m2 0v-5m2 9v-4m2-5v-4m8-90v-4m2 66v-4m2 24v-4m2-111v-4m2 86v-4m4 45v-4m2 17v-4m2-17v-4m10 21v-5m2 5v-5m6 0v-4m4-8v-4m2 21v-5m2 9v-4m2 8v-4m2-9v-4m8 9v-5m4-164v-4m0-20v-4m2-21v-4m4 86v-4m4 144v-4m0-181v-4m2 160v-4m2-107v-8m2 90v-4m6 53v-4m2 0v-4m2 17v-4m4-17v-4m4-20v-5m2 111v-61m0-206v-4m2 300v-12m2 0v-37m2 49v-21m0-324v-4m4 345v-29m0-209v-4m2 234v-37m0-284v-4m4 325v-41m0-132v-33m2 218v-4m0-181v-24m0-41v-13m2 230v-82m0-127v-13m2 243v-91m0-102v-17m2 41v-16m2 29v-17m2 62v-21m2 13v-25m2 86v-20m2 33v-17m2 41v-16m2 12v-20m2-62v-4m2 4v-4m4 16v-4m6 17v-5m4 9v-4m4 8v-4m4 12v-4m6 12v-4m2 4v-4m2 4v-4m2 4v-4m2 0v-4m4 12v-4m6-4v-4m6-25v-4m4 8v-65m2 74v-4m0-99v-4m2-16v-5m2 0v-4m2 119v-41m4-94v-4m2 131v-4m2-20v-5m2 95v-45m12-132v-4m2 21v-4m2 102v-49m2 66v-62m4 53v-53m2-78v-4m2 86v-4m2-82v-4m4 90v-4m0-78v-4m2 90v-4m2 4v-4m6 78v-4m0-152v-4m2 90v-4m0-78v-4m6-16v-4m2 20v-4m2 4v-4m4 127v-4m0-111v-4m2 70v-4m4-74v-4m4 90v-4m2 17v-4m2 41v-5m2-4v-4m0-24v-4m2-91v-4m4-33v-4m4 29v-4m2 20v-4m2-16v-4m4 152v-37m0-87v-4m4 103v-41m0-33v-4m2 66v-4m2 24v-4m2 16v-4m6-12v-4m6 12v-4m12 0v-4m2 12v-4m2-4v-4m2 0v-4m4 4v-4m2-58v-4m2 54v-4m12 20v-4m2 12v-4m4 0v-4m10-37v-4m2 29v-4m2 16v-4m2-53v-4m8 4v-4m4 151v-8m2 13v-17m0-115v-4m2 140v-25m2 25v-25m2 25v-25m0-144v-4m2 173v-25m2 25v-25m0-123v-4m2 156v-33m2 33v-33m2 33v-33m0-156v-4m2 193v-33m0-119v-4m2 156v-33m0-172v-5m2 210v-33m2 33v-33m2 37v-41m0-136v-4m2 181v-41m2 41v-41m0-115v-4m2 160v-41m0-136v-4m2 181v-41m2 41v-45m2 45v-17m0-8v-20m2 45v-17m0-8v-20m2 45v-17m0-8v-20m2 45v-12m0-17v-20m2 49v-12m0-17v-20m2 49v-12m0-17v-20m2 49v-12m0-17v-20m0-119v-5m2 173v-12m0-17v-20m2 49v-12m0-17v-20m0-111v-4m2 164v-12m0-17v-20m2 49v-12m0-17v-20m2 49v-12m0-17v-20m0-111v-4m2 164v-12m0-17v-20m0-124v-4m2 177v-12m0-17v-20m2 49v-12m0-17v-20m2 49v-12m0-17v-20m2 49v-12m0-17v-20m0-173v-4m2 226v-12m0-17v-20m0-124v-4m2 177v-12m0-17v-20m0-181v-4m2 234v-12m0-17v-20m2 49v-12m0-17v-20m2 49v-12m0-17v-20m0-144v-4m2 197v-12m0-17v-20m2 49v-12m0-17v-20m2 49v-12m0-17v-20m2 49v-12m0-17v-20m2 49v-12m0-17v-20m0-119v-5m2 173v-12m0-17v-20m2 49v-12m0-17v-20m2 49v-12m0-17v-20m0-136v-4m2 189v-12m0-17v-20m0-115v-4m2 168v-12m0-17v-20m2 49v-12m0-17v-20m0-111v-4m2 164v-12m0-17v-20m0-148v-4m2 201v-12m0-17v-20m0-177v-4m2 230v-12m0-17v-20m0-160v-5m2 214v-12m0-17v-20m0-124v-4m2 177v-12m0-17v-20m2 49v-12m0-17v-20m2 49v-12m0-17v-20m2 49v-12m0-17v-20m0-173v-4m2 226v-12m0-17v-20m0-132v-4m2 185v-12m0-17v-20m2 49v-12m0-17v-20m0-136v-4m2 189v-12m0-17v-20m0-210v-4m2 263v-12m0-17v-20m0-148v-4m2 201v-12m0-17v-20m2 49v-12m0-17v-20m2 49v-12m0-17v-20m0-197v-5m2 251v-12m0-17v-20m0-165v-4m2 218v-12m0-17v-20m2 49v-12m0-17v-20m2 49v-12m0-17v-20m0-218v-4m2 271v-12m0-17v-20m0-119v-5m2 173v-12m0-17v-20m2 49v-12m0-17v-20m2 49v-45m2 45v-41m0-140v-4m2 181v-33m0-152v-4m2 189v-33m0-172v-5m2 206v-25m0-205v-4m2 234v-25m2 21v-17m4-176v-4m8-9v-4m4-8v-4m2 33v-4m4 16v-4m2 4v-4m2-4v-4m4 28v-4m4 4v-4m4 21v-4m4 0v-4m2-9v-4m2 29v-4m6 12v-4m2 0v-4m2-37v-4m2 41v-4m4 29v-4m10 12v-4m4-4v-4m2 16v-4m2-4v-4m2 0v-4m4 4v-4m2 16v-4m2-33v-4m6 37v-4m6 4v-4m2 16v-4m2-33v-4m2 37v-4m6 4v-4m6 12v-4m2 8v-4m8-4v-4m6-12v-4m4 28v-4m4 4v-4m2 4v-4m4-4v-4m6 0v-4m2-8v-4m2-29v-4m8 61v-4m2-12v-4m2 4v-4m2 20v-4m22 4v-4m4-12v-4m6 16v-4m2 8v-4m4 0v-4m4-8v-4m4-8v-4m6 28v-4m8-49v-4m2 41v-4m4 12v-4m4 16v-4m4 4v-4m2 4v-4m4-16v-4m2 24v-4m6 0v-4m10 4v-4m2-41v-4m2 25v-4m2-21v-4m2 33v-4m4-17v-4m2 17v-4m2 0v-5m2-102v-4m2 82v-4m2-4v-5m2 54v-4m2 8v-4m2-29v-4m2 29v-4m2 4v-4m2 12v-4m8-12v-5m2 21v-4m2 0v-4m2 8v-4m2-4v-4m4-13v-4m2 29v-4m4 8v-4m2 8v-4m2 0v-4m2-29v-4m2 8v-4m2-12v-4m2 4v-4m2 37v-4m2-13v-4m2 29v-4m2-25v-4m2 25v-4m2 12v-4m2 12v-4m2 0v-4m2 8v-4m2-4v-4m2-29v-4m2 0v-4m2 33v-4m2 16v-4m2-16v-5m2 5v-5m2-12v-4m2 37v-4m2 12v-4m2 0v-4m2 4v-4m4 8v-4m2 0v-4m2-33v-4m2-41v-4m2 49v-4m4 16v-4m2 25v-4m2 0v-4m2-17v-4m2 29v-4m2 0v-4m2-54v-4m2 45v-4m2-33v-4m2 41v-4m2 21v-4m2-8v-5m2 5v-5m2 25v-4m2-16v-5m2 17v-4m2 12v-4m2-25v-4m2 25v-4m2-54v-4m2 58v-4m4-9v-4m2 25v-4m2 0v-4m2 12v-4m4-16v-5m2 25v-4m2 8v-4m2-33v-4m2 33v-4m2 4v-4m2-37v-8m2 41v-4m2-13v-4m6 29v-4m2 12v-4m2-4v-4m2-45v-9m2 25v-4m2 0v-4m2 37v-4m4 0v-4m2-4v-5m6 17v-4m2-45v-5m2 17v-4m2 33v-4m2-17v-4m2 29v-4m2-9v-4m2-4v-4m2-16v-4m2 8v-4m2 41v-4m2 24v-4m10 8v-4m2 8v-4m2-53v-4m4 29v-4m4 12v-4m6 8v-4m2-21v-4m10 29v-4m4-4v-4m4-4v-5m4 29v-4m8-4v-4m2-8v-4m2-37v-5m2 42v-5m4 25v-4m2-8v-4m4 0v-4m6 123v-13m2 25v-8m2 0v-21m0-115v-4m2 140v-21m0-102v-4m2 127v-21m2 25v-29m0-119v-4m2 152v-29m0-94v-4m2 127v-29m0-94v-4m2 131v-33m2 33v-37m2 37v-16m0-5v-12m2 33v-12m0-13v-12m0-94v-4m2 135v-12m0-13v-8m2 33v-12m0-13v-12m2 37v-8m0-21v-8m0-90v-4m2 131v-8m0-21v-4m2 33v-8m0-21v-8m2 37v-8m0-21v-8m0-82v-4m2 123v-8m0-21v-8m2 37v-8m0-21v-8m0-82v-4m2 123v-8m0-21v-12m0-90v-4m2 135v-8m0-21v-12m0-99v-4m2 144v-8m0-21v-8m0-86v-4m2 127v-8m0-21v-8m0-86v-4m2 127v-4m0-29v-12m2 45v-4m0-29v-12m0-99v-4m2 148v-4m0-29v-12m0-103v-4m2 152v-4m0-29v-8m0-90v-4m2 135v-4m0-29v-8m0-90v-4m2 135v-4m0-29v-8m0-90v-4m2 135v-4m0-29v-16m0-107v-4m2 160v-4m0-29v-12m2 45v-4m0-29v-8m0-90v-4m2 135v-4m0-29v-12m2 45v-4m0-29v-8m0-90v-4m2 135v-4m0-29v-4m2 37v-4m0-29v-8m0-94v-5m2 140v-4m0-29v-8m2 41v-4m0-29v-12m2 45v-4m0-29v-12m0-99v-4m2 148v-4m0-29v-16m2 49v-4m0-29v-12m2 45v-4m0-29v-8m0-90v-4m2 135v-4m0-29v-8m2 41v-4m0-29v-12m2 45v-4m0-29v-24m0-124v-4m2 185v-4m0-29v-16m2 49v-4m0-29v-8m0-94v-5m2 140v-4m0-29v-8m2 41v-4m0-29v-20m0-119v-5m2 177v-4m0-29v-12m0-103v-4m2 152v-4m0-29v-20m0-115v-4m2 172v-4m0-29v-20m0-115v-4m2 172v-4m0-29v-12m0-99v-4m2 148v-4m0-29v-29m0-127v-4m2 193v-4m0-29v-16m2 49v-4m0-29v-16m2 49v-4m0-29v-8m2 41v-4m0-29v-12m0-99v-4m2 148v-4m0-29v-8m0-90v-4m2 135v-4m0-29v-12m0-95v-4m2 144v-4m0-29v-16m0-107v-4m2 160v-4m0-29v-12m2 45v-4m0-29v-24m2 57v-4m0-29v-16m0-99v-4m2 152v-4m0-29v-41m0-152v-4m2 230v-4m0-29v-20m0-115v-4m2 172v-4m0-29v-12m2 45v-4m0-29v-24m0-120v-4"/>
<path stroke="#00bdff" d="m83 329v-4m2 24v-4m6 9v-5m2-36v-5m2 25v-4m8 25v-5m2 5v-5m12-12v-4m2 21v-5m2 13v-4m2 0v-4m4-9v-4m2-78v-4m2 62v-4m4 8v-4m4 20v-4m2 21v-4m4 0v-5m2 13v-4m12 0v-4m2-9v-4m2-82v-4m2 66v-4m4-91v-4m4 119v-4m8 8v-4m2 4v-4m2 8v-4m8-4v-4m2 21v-4m4-50v-4m12 45v-4m2-4v-4m2 21v-5m4-12v-4m2 21v-5m4 5v-5m0-123v-4m4 123v-4m0-193v-4m2 33v-4m4 49v-4m2 86v-4m2 41v-4m2-20v-4m6-74v-4m2 110v-4m0-111v-4m2-20v-4m2 65v-4m2-45v-4m0-49v-4m2 287v-29m0-193v-4m2 4v-4m2 226v-12m4-234v-4m0-91v-4m2 345v-4m0-329v-4m2 337v-12m2-267v-4m2 283v-12m0-206v-20m0-53v-5m2 87v-41m0-70v-4m0-17v-4m2 345v-33m0-82v-37m0-78v-12m0-86v-5m2 333v-12m0-91v-37m0-49v-16m0-140v-4m2 349v-99m0-61v-21m2 29v-16m2 69v-24m2 12v-20m2 82v-21m2 33v-20m2 41v-17m2 12v-16m6-70v-4m4 12v-4m6 13v-4m8 16v-4m4 8v-4m2 8v-4m12 8v-4m4 4v-4m2-4v-4m4 4v-4m2 0v-4m4-12v-70m2-17v-4m4 62v-37m2 37v-37m2 16v-4m0-61v-4m2 90v-4m0-17v-4m0-86v-4m2 82v-4m2-66v-4m2 21v-4m2-13v-4m2 99v-17m0-82v-4m2-4v-4m2 148v-5m0-4v-41m0-82v-4m2 8v-4m2 99v-17m0-86v-4m2 127v-4m4-45v-4m4-70v-4m2 140v-5m4 5v-5m0-127v-4m2 144v-4m2-58v-4m0-70v-4m4 4v-4m2-8v-4m2 164v-4m0-144v-4m2 4v-4m2 86v-4m4 41v-45m2-45v-4m0-86v-4m2 287v-103m2 103v-135m0-13v-4m4 152v-111m0-45v-4m0-74v-4m2 78v-4m2 82v-4m2 4v-62m0-65v-4m4-13v-4m2-12v-4m2 8v-4m2 12v-4m2 4v-4m2 234v-135m2 135v-140m2 140v-144m2 144v-111m8-111v-4m2 95v-4m2-99v-4m2 123v-4m8 12v-4m2 12v-4m4 4v-4m2 4v-4m4 9v-5m2 5v-5m2 5v-5m2 5v-5m2 0v-4m10 0v-4m4-65v-5m4 62v-4m2 16v-4m2-24v-4m2 24v-4m2 4v-4m10 16v-4m2 4v-4m2-4v-4m2 0v-4m2-29v-4m6 132v-17m2 17v-17m0-127v-4m2 152v-25m0-115v-4m2 148v-33m2 33v-33m2 37v-41m0-144v-4m2 189v-17m0-8v-20m0-119v-4m2 168v-12m0-17v-12m2 41v-8m0-25v-8m0-107v-4m2 152v-8m0-25v-12m0-119v-4m2 168v-8m0-25v-16m2 49v-8m0-25v-8m0-107v-4m2 152v-8m0-25v-12m2 45v-4m0-33v-16m0-120v-4m2 177v-4m0-33v-16m0-115v-5m2 173v-4m0-33v-21m2 58v-4m0-33v-16m2 53v-4m0-33v-21m0-147v-4m2 209v-4m0-33v-21m0-106v-4m2 168v-4m0-33v-21m0-102v-4m2 123v-17m2 17v-17m0-98v-4m2 119v-17m2 17v-25m2 25v-25m0-107v-4m2 132v-25m0-103v-4m2 132v-25m0-98v-5m2 128v-21m0-102v-5m2 128v-45m0-119v-5m2 165v-29m0-107v-4m2 140v-25m0-94v-5m2 124v-25m0-94v-5m2 124v-25m2 25v-33m0-103v-4m2 140v-21m2 21v-25m0-86v-4m2 115v-29m0-95v-4m2 128v-25m2 25v-33m2 33v-29m0-82v-4m2 115v-33m0-91v-4m2 128v-33m2 33v-58m2 58v-37m2 37v-62m0-115v-4m2 181v-46m0-94v-4m2 144v-37m0-91v-4m2 132v-29m2 29v-58m0-107v-4m2 169v-37m0-91v-4m2 132v-41m0-91v-4m2 136v-50m0-102v-4m2 156v-33m2 33v-41m2 41v-29m0-82v-4m2 115v-41m2 41v-33m2 33v-29m0-78v-4m2 111v-29m2 29v-50m2 50v-62m2 62v-54m2 54v-37m2 37v-37m0-91v-4m2 132v-37m0-95v-4m2 136v-50m0-94v-4m2 148v-62m2 62v-41m2 41v-33m0-82v-4m2 119v-41m2 41v-78m0-128v-4m2 210v-50m2 50v-37m2 37v-37m0-222v-4m2 263v-37m2 37v-33m2 33v-33m0-210v-4m2 247v-41m0-218v-4m2 263v-46m2 46v-33m2 33v-46m0-94v-4m2 144v-74m0-123v-5m2 206v-45m0-87v-4m2 140v-49m2 90v-4m0-33v-21m2 58v-4m0-33v-21m2 58v-8m0-25v-25m2 58v-8m0-25v-25m0-119v-4m2 181v-12m0-17v-20m0-156v-4m2 53v-4m4-37v-4m2-13v-4m2-12v-4m4-66v-4m6 107v-4m8 28v-4m4 9v-5m4 17v-4m4-17v-4m8 41v-4m2-12v-4m10 29v-5m4 13v-4m2 4v-4m4 12v-4m4-8v-4m10 12v-4m8 12v-4m2-25v-4m4 41v-4m2 4v-4m12 12v-4m4-4v-4m2 0v-4m6 12v-4m2-28v-5m2 29v-4m4 4v-4m2 16v-4m8-4v-4m6-33v-4m4 54v-5m10-20v-4m2 12v-4m2 12v-4m10 13v-5m2-4v-4m8-4v-4m2 8v-4m2-4v-4m4 16v-4m8 4v-4m2-24v-4m6 41v-5m8-8v-4m6 12v-4m6 9v-5m8-4v-4m4 13v-5m10 5v-5m6 5v-5m6 5v-5m2-12v-4m2 0v-4m2 8v-4m4-29v-4m4 0v-4m2 33v-4m2 0v-4m2-13v-4m2 17v-4m2 0v-4m2-99v-8m2 82v-4m2-4v-4m2 53v-4m4-25v-4m2 29v-4m2 4v-4m2 12v-4m2-4v-4m2 4v-4m2 12v-4m2-12v-4m2 20v-4m2 0v-4m2 8v-4m2-4v-4m2 16v-4m2-25v-4m2 29v-4m2-16v-5m4 33v-4m4-33v-4m2 8v-4m2-12v-4m2 4v-4m2 37v-4m2-13v-4m2 29v-4m2-25v-4m2 25v-4m6 16v-4m4 0v-4m2-29v-4m2 0v-4m2 33v-4m4-4v-4m2 4v-4m2-13v-4m2 37v-4m2 12v-4m4 0v-4m2 4v-4m2 8v-4m2 0v-4m2-33v-4m2-37v-8m2 49v-4m2 21v-4m2 0v-5m2 25v-4m2 0v-4m2-17v-4m2 29v-4m2 0v-4m2-54v-4m2 46v-5m2-28v-9m2 42v-5m2 21v-4m2-8v-4m2 4v-4m4 4v-4m2 16v-4m2 12v-4m2-25v-4m2 25v-4m2-54v-4m2 58v-4m2 16v-4m2-20v-5m2 25v-4m2 0v-4m2 12v-4m2 4v-4m2-16v-4m2 24v-4m2 8v-4m2-33v-4m2 33v-4m2 4v-4m2-37v-4m2 37v-4m2-13v-4m2 29v-4m2-8v-4m2 16v-4m6-45v-4m2 20v-4m2 0v-4m2 37v-4m2 12v-4m2-8v-4m2-4v-4m2 4v-4m2 12v-4m2 8v-4m2-41v-8m2 16v-4m2 33v-4m2-17v-4m4 17v-5m2-4v-4m2-16v-4m2 8v-4m2 41v-4m4 12v-4m2 16v-4m2-28v-5m2 29v-4m8-37v-4m4 37v-4m6 20v-4m4-33v-4m2 29v-4m2 12v-4m2-12v-4m2 16v-4m4-37v-4m4 25v-4m4 20v-4m4 12v-4m2-24v-5m2-8v-4m8 21v-4m2-5v-4m6 29v-4m4 8v-4m2 111v-25m0-82v-4m2 115v-12m0-13v-8m0-98v-4m2 20v-4m2 119v-8m0-21v-8m2 37v-8m0-21v-4m2 33v-8m0-21v-4m0-86v-4m2 123v-4m0-29v-8m2 41v-4m0-29v-4m2 37v-4m0-29v-4m2-78v-4m2-12v-4m2 20v-4m4 4v-4m2-4v-4m4 94v-4m0-78v-4m6 0v-4m6 82v-4m6-99v-4m4 4v-4m10 4v-4m4 103v-4m0-99v-4m4 115v-4m0-82v-4m2 86v-4m2 4v-4m2-90v-5m4 91v-4m0-107v-4m2 24v-4m4 17v-4m2 86v-4m0-95v-4m4-8v-4m2 119v-4m2 4v-4m0-86v-4m2 82v-4m0-111v-4m2 127v-4m2-115v-4m2 4v-4m4-17v-4m2 37v-4m2 4v-4m2 115v-4m0-86v-4m2 90v-4m2 8v-4m4-4v-4m2 8v-4m0-95v-4m2-29v-4m4-41v-4m2 173v-4m0-107v-4m2 28v-4"/>
<path stroke="#00e5f7" d="m87 362v-4m0-263v-4m2 246v-4m4-16v-4m4 41v-5m10 5v-5m2 5v-5m2 13v-4m2-4v-5m2-41v-4m10 58v-4m4-91v-4m2 62v-4m2-25v-4m4 62v-5m6 0v-4m6 17v-4m2 0v-4m2 8v-4m2-4v-5m2 13v-4m6-95v-4m4 82v-4m2-107v-4m2 82v-4m4 45v-4m2 17v-4m2-17v-4m8 25v-4m2 0v-4m2 4v-4m6 0v-5m2-41v-4m2 37v-4m2 21v-4m6 0v-5m8 9v-4m6 4v-4m0-144v-4m2-86v-5m2 239v-5m0-221v-4m2 61v-4m2 181v-4m2-25v-4m2-103v-4m6 99v-4m2 37v-5m2 0v-4m2 17v-4m2-136v-4m2 123v-4m2-66v-4m0-78v-4m0-20v-4m2 287v-16m0-115v-4m4-173v-4m2 29v-4m0-70v-4m2 111v-5m6-4v-4m2-70v-4m2 99v-25m0-4v-4m0-57v-5m4 181v-33m0-28v-17m0-107v-4m2 201v-49m2 90v-61m2 33v-25m2 140v-87m2 9v-21m2 86v-24m2 28v-16m2 33v-12m2 8v-13m8-82v-4m4 13v-5m6 13v-4m2 8v-4m2 4v-4m4 12v-4m8 12v-4m2 4v-4m2 4v-4m2 0v-4m10 4v-4m6-25v-4m2 13v-4m2-70v-17m2 29v-4m2-4v-4m0-45v-4m4 114v-4m2 103v-8m2 8v-4m0-148v-4m2 156v-12m0-95v-4m0-29v-4m2 144v-8m2-132v-4m2 17v-4m2 4v-21m2 148v-21m2 21v-12m2-132v-4m2 0v-4m0-66v-4m2 144v-70m2 45v-4m0-102v-4m2 213v-4m0-82v-4m0-62v-4m0-53v-4m4-21v-4m6 8v-4m2 148v-4m2 8v-4m0-140v-4m2 156v-4m2-21v-4m2-41v-4m2 82v-4m0-70v-4m2 144v-8m2 8v-4m0-70v-4m0-140v-4m2 123v-4m0-131v-4m2 49v-4m4-29v-4m2 226v-148m0-74v-4m2 74v-4m0-16v-5m2-36v-5m2 17v-4m2 127v-4m0-62v-4m4 54v-41m2-5v-4m0-4v-4m2 66v-4m2-41v-4m2 135v-4m4-222v-4m2-29v-4m2 8v-4m2 25v-4m2 164v-4m0-140v-4m2-16v-4m2 242v-12m2 12v-12m0-201v-5m4 58v-4m2 164v-8m0-119v-4m2 24v-4m2 111v-12m6-99v-4m4 115v-4m2-99v-4m12 0v-4m2 12v-4m2-4v-4m2 0v-4m4 4v-4m2 115v-8m2-115v-4m12 20v-4m2 12v-4m2 103v-12m0-87v-4m2 0v-4m6 107v-8m2 8v-16m2 16v-12m2-107v-4m2 16v-4m2 107v-12m0-17v-12m0-119v-4m2 164v-12m0-17v-8m2 37v-8m0-25v-8m2 41v-4m0-33v-4m0-107v-4m2 152v-4m0-33v-8m0-115v-4m2 123v-12m10-120v-4m2 136v-4m2 0v-4m0-103v-4m6 98v-8m0-123v-4m4 135v-16m6 16v-8m0-107v-4m6 111v-4m0-103v-4m2 111v-4m10-8v-4m6-82v-4m4 98v-4m0-82v-4m4 82v-4m4-86v-5m6 91v-4m0-87v-4m2 70v-4m0-107v-4m2 54v-5m2 62v-4m4 29v-4m2-99v-4m4 107v-4m4-9v-4m0-94v-4m2 119v-4m2-95v-4m2 107v-4m2-8v-5m0-86v-4m6 29v-4m2-33v-4m2 86v-4m0-107v-4m2 123v-4m0-98v-4m2 41v-5m2 87v-4m2 4v-4m4-128v-4m2 45v-4m4 91v-5m0-86v-4m2 58v-4m2-62v-4m2 111v-4m0-83v-4m4-65v-4m2 37v-5m4 124v-5m2-168v-4m2 185v-4m0-78v-4m2 73v-4m2-24v-4m0-115v-4m4 69v-4m2 123v-41m0-86v-4m2 131v-24m0-123v-4m2 151v-61m0-115v-4m2 180v-32m2 41v-29m4-123v-4m8-9v-4m2-78v-4m2 74v-4m2 33v-4m6 16v-4m2-4v-4m12 45v-4m4 0v-4m2-8v-5m10 33v-4m2-37v-4m12 66v-4m8 4v-4m10 4v-4m4-21v-4m6 37v-4m10-21v-4m4 45v-4m10 4v-4m10 0v-4m6-12v-4m2 20v-4m6 13v-5m10-4v-4m4-12v-4m2-29v-4m20 57v-4m2-4v-4m2 12v-4m8 4v-4m6 9v-5m2-12v-4m8 21v-5m4 0v-4m2 9v-5m2-12v-4m4-8v-4m2 24v-4m6 0v-4m4 8v-4m2-45v-4m10 62v-5m2 5v-5m4 5v-5m4-16v-4m6 29v-4m2-5v-4m10 4v-4m2-37v-4m2 21v-4m2-17v-4m2 33v-4m2 0v-4m2-12v-5m4 13v-4m2-95v-8m2 78v-4m2-4v-4m4 53v-4m2-25v-4m4 29v-4m2 12v-4m2-4v-4m2 4v-4m2 12v-4m2-12v-4m10 24v-4m2-24v-5m4 9v-4m2 24v-4m4 4v-4m2-25v-4m2 9v-5m2-12v-4m2 4v-4m2 37v-4m2-12v-5m2 29v-4m2-25v-4m2 25v-4m2 8v-4m2 12v-4m2 4v-4m2 4v-4m4-33v-4m2 0v-4m4 41v-4m2-12v-4m4-13v-4m4 45v-4m2-4v-4m2 8v-4m2 4v-4m6-33v-4m2-37v-4m2 45v-4m2 21v-4m2 0v-4m2 24v-4m4-20v-5m2 29v-4m2 0v-4m2-49v-9m2 46v-4m2-29v-4m2 37v-4m2 20v-4m2-8v-4m2 4v-4m2 20v-4m2-12v-4m2 16v-4m4-16v-5m4-32v-5m2 58v-4m2 16v-4m2-20v-4m4 20v-4m4 12v-4m2-16v-4m6-9v-4m2 33v-4m2 4v-4m2-37v-4m2 37v-4m2-12v-5m2 29v-4m2-8v-4m2 16v-4m2 8v-4m2-4v-4m2-41v-4m2 20v-4m2 0v-4m2 37v-4m2 12v-4m4-16v-4m2 4v-4m2 12v-4m2 8v-4m2-41v-4m2 12v-4m2 33v-4m2-17v-4m2 25v-4m2-4v-4m2-5v-4m2-16v-4m2 8v-4m4 57v-4m6-24v-4m4 36v-4m4-49v-4m2 8v-4m2 25v-4m2 131v-21m0-94v-4m2 0v-4m2 20v-4m4-8v-4m12 4v-4m2-29v-4m2 29v-4m2 0v-4m2 0v-4m4 28v-4m6-33v-4m2 33v-4m2-8v-4m2-37v-4m4 37v-5m2 29v-4m2-8v-4m4 0v-4m2 123v-21m2 29v-4m2-29v-4m2 8v-4m2-4v-4m0-99v-4m2 111v-4m0-90v-4m4 90v-4m0-103v-4m2 29v-4m2 4v-4m4 90v-4m0-86v-4m2 98v-4m2 0v-4m0-86v-4m2 98v-4m2 0v-4m2 4v-4m0-82v-4m4 8v-4m2 8v-4m4 4v-4m2-8v-4m2-4v-5m2 103v-4m0-78v-4m2 86v-4m0-78v-4m2 78v-4m2-91v-4m2 99v-4m2-78v-4m2 90v-4m0-82v-4m2 90v-4m0-82v-4m2 82v-4m0-99v-4m2 111v-4m2 8v-4m0-82v-4m4 90v-4m0-82v-4m4 0v-4m2 4v-4m4 90v-4m0-91v-4m2-12v-4m2 25v-5m2 99v-4m0-82v-4m2 90v-4m4-12v-5m0-115v-4m2 132v-4m0-99v-4m2 25v-4m6-9v-4m2 95v-4m2 4v-4m2 12v-4m0-91v-4m2 82v-4m2 17v-4m2 4v-4m0-95v-4m4 12v-4m2 17v-4m2 86v-4m0-86v-5m2-12v-4m4 99v-5m0-110v-5m2 33v-4m2 74v-4m0-140v-4m4 177v-4m2-8v-5m0-110v-5"/>
<path stroke="#21ffd6" d="m83 333v-4m2 25v-5m0-262v-4m2 8v-4m4 361v-4m0-86v-4m2 94v-12m2-99v-4m4 29v-4m2 90v-12m0-70v-4m2-4v-4m2 4v-4m6 94v-4m4-131v-5m2 33v-4m2 21v-4m2 12v-4m2 86v-4m0-82v-4m2 90v-12m2 12v-4m0-95v-4m2 103v-4m0-173v-4m2 181v-21m2 21v-25m0-123v-4m2 152v-16m0-103v-4m2 123v-16m2 16v-16m0-87v-4m2 107v-12m4-78v-4m2 94v-8m14 8v-12m0-87v-4m2-78v-4m2 62v-4m4 127v-12m0-201v-5m2 218v-21m0-114v-5m2 140v-16m0-87v-4m2 107v-16m2 16v-12m2-91v-4m2 8v-4m2 4v-4m2 9v-5m8 99v-8m0-95v-4m2 21v-4m4 90v-21m0-114v-5m2 140v-12m4-74v-4m2 8v-4m4-13v-4m2 103v-8m0-99v-4m6 4v-4m2 21v-4m0-173v-4m0-12v-4m2-21v-4m2 222v-4m2-140v-4m2 139v-4m6 103v-4m0-214v-4m2 82v-4m2 41v-4m4 107v-12m4 12v-4m2-95v-4m2-119v-4m2 226v-25m0-147v-5m2 161v-5m0-106v-4m2-160v-5m6-45v-4m4 99v-4m2-78v-5m4 70v-4m4 82v-28m6 213v-127m2 127v-12m2-54v-24m2 90v-25m2 21v-17m2 21v-4m2 4v-8m2 8v-12m0-103v-4m2 119v-12m0-103v-4m2 119v-12m4-82v-5m4 9v-4m2 94v-4m0-82v-4m2 90v-12m10-58v-4m4 8v-4m10 8v-4m2 4v-4m2 4v-4m2-4v-4m4 4v-4m2 0v-4m6-16v-5m2 13v-4m0-99v-4m2 74v-4m2 123v-21m0-98v-4m0-37v-4m0-49v-5m2 218v-21m0-184v-4m2 201v-17m0-94v-4m0-107v-4m2 230v-25m0-205v-4m2 226v-9m0-201v-4m2 218v-8m0-66v-4m0-119v-4m2 209v-21m0-201v-4m2 226v-21m2 21v-25m0-123v-4m0-82v-4m2 217v-4m0-197v-4m2 214v-9m0-86v-37m2 144v-21m0-102v-4m0-99v-4m2 230v-4m0-99v-4m2 37v-4m0-74v-4m0-49v-4m2 205v-21m2 17v-12m2-132v-33m0-45v-4m2 78v-4m2 62v-66m0-66v-4m2 78v-4m2 156v-16m0-136v-4m2 156v-16m2 16v-12m0-140v-4m2 156v-8m0-210v-4m2 222v-8m0-140v-4m0-78v-4m2 234v-12m2 12v-12m2 4v-8m0-206v-4m2 222v-12m0-128v-4m2 148v-21m0-127v-4m2 152v-41m0-238v-4m2 160v-41m0-74v-4m6 12v-4m2 234v-21m0-78v-4m2 103v-16m2 16v-16m0-189v-4m2 209v-21m0-98v-33m0-74v-4m2 230v-16m0-74v-4m0-128v-4m2 226v-25m0-213v-4m2 242v-21m0-114v-5m0-94v-4m2 238v-16m0-74v-4m2 90v-17m0-78v-4m0-123v-4m2 8v-4m2 86v-12m6 152v-21m0-82v-37m2 140v-16m0-115v-4m2 135v-25m2 13v-9m0-73v-50m0-74v-4m2 210v-9m0-69v-4m2 94v-21m0-123v-4m0-82v-4m2 234v-12m0-99v-4m0-74v-4m2 185v-13m0-102v-4m2 127v-16m2 4v-4m0-78v-5m2 99v-12m0-91v-4m2 107v-16m2 16v-16m0-91v-4m2 111v-8m0-86v-5m2 95v-12m0-78v-5m2 99v-16m4-74v-4m2 94v-8m0-82v-4m2 4v-4m2 94v-4m0-90v-5m2 99v-12m2 12v-12m2 12v-8m2 8v-16m2 16v-12m0-87v-4m2 103v-16m2 8v-17m0-143v-4m2 172v-16m2-95v-4m2 16v-4m2 103v-16m0-111v-4m2 131v-12m0-95v-4m2 111v-16m0-91v-4m2 111v-16m2 16v-12m2 0v-4m2 16v-16m2 16v-12m0-82v-5m2 99v-16m0-78v-5m2 91v-8m0-87v-4m2 0v-4m2 99v-9m0-119v-4m2 144v-16m4 16v-4m2-152v-4m2 12v-4m2 152v-4m4 4v-4m0-181v-4m2 189v-4m0-45v-4m0-111v-4m2 168v-4m0-140v-4m2 148v-4m0-144v-4m2 152v-4m0-45v-4m0-111v-4m2 115v-4m2 57v-4m0-144v-4m4 152v-4m0-53v-5m0-110v-5m2 177v-4m0-53v-5m0-106v-4m4 16v-4m2 160v-4m0-201v-4m2 209v-4m0-58v-4m0-98v-4m2 8v-4m2 164v-4m2 4v-4m0-58v-4m0-90v-4m2 160v-4m0-58v-4m0-90v-4m2 160v-4m2 4v-4m0-168v-5m2 177v-4m0-168v-5m2 9v-4m2 172v-4m0-66v-4m0-94v-4m2 172v-4m0-205v-4m2 213v-4m0-181v-4m2 189v-4m0-164v-4m2 172v-4m0-164v-4m2 172v-4m2-82v-4m0-95v-4m2 189v-4m2-156v-4m2 164v-4m0-168v-5m2 99v-4m0-78v-4m2 164v-4m2 4v-4m2 4v-4m0-82v-4m0-82v-5m2 177v-4m2 4v-4m0-214v-4m2 222v-4m2 4v-4m0-222v-4m2 41v-4m2 193v-4m0-173v-4m2 99v-4m2 86v-4m0-107v-4m0-98v-5m2 41v-4m2 87v-5m0-82v-4m2 185v-4m2-164v-4m2 78v-5m2 99v-4m0-156v-4m2 164v-4m2-160v-4m2 168v-4m0-78v-4m2 86v-4m0-78v-4m2 86v-4m0-99v-4m2 107v-4m0-218v-4m2 226v-4m2 4v-4m2 4v-4m0-173v-4m2 181v-4m0-177v-4m2 185v-4m0-189v-4m2 197v-4m0-111v-4m2 119v-4m0-90v-5m2 99v-4m0-82v-4m0-74v-4m2 168v-4m2 4v-4m0-251v-4m2 259v-4m0-99v-4m0-86v-4m4 107v-4m0-214v-4m2 222v-4m2 94v-4m2 4v-4m0-82v-4m0-201v-5m2 296v-4m0-304v-4m2 312v-4m0-95v-4m2 103v-4m2 4v-4m0-185v-4m4 16v-4m2 181v-4m0-90v-5m4-106v-4m2-25v-4m2 238v-4m0-173v-4m2 99v-4m0-119v-4m2 209v-4m2 4v-4m2 4v-4m2-209v-5m2-12v-4m2 234v-4m4 4v-4m2 4v-4m2-193v-4m2 12v-4m4 193v-4m4 4v-4m0-168v-5m2 177v-4m0-164v-4m2 172v-4m0-168v-5m2 177v-4m0-152v-4m2 160v-4m2 4v-4m0-173v-4m2 181v-4m2 4v-4m2 4v-4m0-144v-4m2 12v-4m2 144v-4m0-152v-4m2 20v-4m2 144v-4m4-144v-4m2 21v-4m2 135v-4m0-119v-4m4 127v-4m4 4v-4m2 4v-4m0-111v-4m2 119v-4m0-123v-4m4 20v-4m2 115v-4m0-115v-4m2 0v-4m2 8v-4m2 123v-4m2 4v-4m0-107v-4m2 115v-4m4-136v-4m2 144v-4m2 4v-4m0-99v-4m4 107v-4m0-111v-4m2 16v-4m2 107v-4m2 4v-4m0-103v-4m2 111v-4m2-90v-5m2-8v-4m4 4v-4m4 17v-5m2 0v-4m2-28v-4m2 28v-4m2 111v-4m2-103v-4m8 17v-5m6 5v-5m2-41v-4m2 41v-4m6 0v-4m4-37v-4m2 37v-4m2 12v-4m4 111v-4m0-90v-5m2-12v-4m2 4v-4m2 21v-5m2 9v-4m2 94v-4m4 4v-4m4-103v-4m4 0v-4m6 21v-5m4 99v-4m2-95v-4m2-24v-4m2 32v-4m12 0v-4m6 13v-5m2 0v-4m10-12v-4m2 20v-4m2-4v-4m8 17v-5m4 9v-4m4 0v-5m8 9v-4m2-13v-4m2 111v-4m0-107v-4m2 8v-4m6-8v-4m2-17v-4m4 29v-4m2-12v-4m2 12v-4m2 4v-4m2-95v-4m2 74v-4m2 0v-8m2 49v-4m2 8v-4m2-25v-4m2 25v-4m2 8v-4m2 12v-4m2-4v-4m2 4v-4m2 119v-4m0-103v-4m2-12v-4m2 16v-4m2 0v-4m2 8v-4m2-4v-4m2 20v-4m2 107v-4m0-127v-4m2 24v-4m2-12v-4m2 24v-4m2 8v-4m2 0v-4m2-24v-5m2 9v-4m2-13v-4m2 4v-4m2 37v-4m2-12v-4m4 0v-5m2 25v-4m2 8v-4m2 12v-4m2 107v-4m2-99v-4m2-4v-4m2-25v-4m2 0v-4m2 29v-4m2 16v-4m2-12v-4m2 0v-4m2-9v-4m2 33v-4m4 8v-4m4 8v-4m2 4v-4m2 0v-4m2-29v-4m2-37v-4m2 45v-4m2 21v-4m2 0v-4m2 24v-4m2-4v-4m2 119v-4m0-127v-4m2 28v-4m4-53v-4m4 8v-4m2 37v-4m2 20v-4m2-8v-4m2 4v-4m2 20v-4m2-12v-4m2 127v-4m0-107v-4m2 8v-4m2-20v-4m2 20v-4m2-49v-4m2 57v-4m2 16v-4m2-20v-4m2 20v-4m4 8v-4m2 8v-4m2-16v-4m2 20v-4m2 8v-4m2-28v-5m6 140v-4m0-144v-4m2 37v-4m2 119v-4m0-127v-4m2 28v-4m2-8v-4m4 20v-4m2-4v-4m2-41v-4m2 20v-4m2 0v-4m2 37v-4m2 12v-4m2 107v-4m0-115v-4m2 0v-4m2 127v-4m0-119v-4m2 12v-4m2 8v-4m2-41v-4m2 12v-4m2 33v-4m2-17v-4m2 25v-4m2-4v-4m2-4v-5m2-12v-8m2 160v-4m0-148v-4m2 37v-4m2 123v-25m0-74v-4m2-8v-4m2 16v-4m4-4v-4m2 111v-16m2-78v-5m2 99v-29m0-119v-4m2 8v-4m2 25v-4m8 28v-4m4-32v-5m2 29v-4m2 12v-4m2-12v-4m2 16v-4m2 0v-4m8-12v-4m2 20v-4m6-16v-4m6 12v-4m2-37v-4m2 41v-4m8 20v-4m2 103v-13m0-98v-4m2 127v-8m0-21v-4m0-74v-4m2 82v-4m0-74v-4m2-16v-4m2 20v-4m2-20v-5m2 17v-4m2 94v-4m0-78v-4m2-25v-4m6 115v-4m0-74v-4m4 4v-4m4 4v-4m2-4v-4m4 12v-4m2 78v-4m2 4v-4m2 4v-4m0-74v-4m2 82v-4m2 0v-4m8-95v-4m2 99v-4m2-91v-4m2 103v-4m8-95v-4m4 95v-4m0-91v-4m4 29v-4m6 78v-4m0-82v-4m4 82v-4m2 12v-4m4-74v-4m2-13v-4m2-28v-5m4 132v-4m2-78v-4m2 74v-5m0-102v-4m2 119v-4m2-107v-4m2 4v-4m4-17v-4m2 37v-4m4 25v-4m10 82v-4m0-87v-4m4 95v-4m4-107v-4m2 29v-5m2-28v-4"/>
<path stroke="#42ffb5" d="m83 448v-21m0-90v-4m0-267v-24m2 406v-8m0-357v-9m2 13v-4m2 365v-16m0-91v-4m2 107v-12m2 4v-13m0-102v-4m2 131v-16m2 16v-16m0-74v-4m2 94v-12m2 0v-4m2 16v-16m2 16v-12m2 12v-16m0-74v-4m2 94v-16m0-74v-4m2 90v-12m0-66v-4m2 86v-16m0-74v-4m2 94v-21m2 21v-16m2 16v-16m2 16v-12m2 8v-12m2 4v-4m0-66v-4m2 82v-12m2 12v-25m0-143v-5m2 156v-4m0-94v-4m2 98v-4m2 13v-5m2-69v-4m2 78v-5m2 9v-4m0-70v-4m2 90v-16m0-78v-5m2 99v-16m2 8v-8m0-66v-4m2 86v-12m0-70v-4m2 86v-12m2 12v-12m0-70v-4m2 86v-16m0-74v-4m2 94v-8m0-74v-4m2 86v-12m0-74v-4m2 78v-4m2 16v-29m0-148v-4m2 181v-21m2 21v-12m0-91v-4m2 95v-25m0-168v-8m2 192v-4m0-106v-4m2 119v-5m2 5v-5m0-73v-5m2 87v-4m0-66v-4m2 86v-16m2 16v-16m2 16v-16m2 16v-4m2 4v-12m0-70v-4m2 86v-12m0-74v-4m2 90v-12m2 4v-8m2 16v-16m2 16v-12m0-78v-4m2 73v-4m2 13v-9m0-82v-4m2 107v-16m2 16v-12m2 12v-12m2 12v-16m2 16v-16m2 8v-13m2 21v-16m0-74v-4m2 94v-16m0-70v-4m2 90v-16m0-87v-4m2 107v-16m2 16v-12m0-74v-4m0-152v-4m2 246v-8m0-218v-4m0-94v-4m2 328v-16m0-74v-4m0-222v-4m2 320v-16m0-251v-4m0-25v-4m2 300v-4m2-107v-4m2 111v-33m0-176v-5m2 218v-25m0-110v-5m2 140v-16m2 16v-21m0-102v-4m2 115v-4m0-74v-4m2 94v-16m0-78v-5m2 95v-12m2 16v-16m0-206v-4m2 226v-12m0-91v-4m0-131v-4m2 217v-4m2 8v-4m0-209v-4m0-41v-4m2 57v-4m2 4v-4m2-57v-4m0-62v-4m4 107v-5m6-28v-4m2-9v-4m2-24v-4m0-9v-4m2 8v-4m10 312v-41m4 66v-4m6-8v-4m2 4v-4m2 4v-4m0-87v-4m2 107v-12m0-87v-4m2 103v-8m2-82v-4m2 94v-8m2 4v-8m4 12v-8m0-70v-4m2 4v-4m2 82v-4m0-70v-4m2 8v-4m4 8v-4m4 8v-4m4 4v-4m2 0v-4m10 4v-4m4 70v-8m2 8v-16m0-78v-5m2 99v-16m2 16v-16m2 16v-16m2 16v-25m0-180v-4m2 188v-8m2-119v-4m2 127v-4m0-119v-4m2 123v-8m0-111v-4m0-8v-4m2 143v-4m2 9v-5m0-119v-4m2 123v-4m2 4v-4m0-98v-4m0-21v-4m0-74v-4m2 205v-4m0-94v-4m2 102v-4m0-61v-4m0-50v-4m2 127v-4m0-193v-4m2 201v-4m2 21v-17m0-192v-5m2 218v-16m2-83v-4m0-57v-4m0-41v-4m2 193v-5m0-184v-4m2 209v-29m0-115v-4m2 148v-21m0-69v-4m0-136v-4m2 234v-16m0-74v-4m2 94v-4m0-86v-4m0-128v-4m2 210v-5m0-61v-4m0-140v-4m2 214v-5m0-197v-4m2 210v-9m2 13v-8m0-132v-4m2 144v-13m2 9v-4m0-54v-4m0-144v-4m2 210v-4m0-202v-4m2 156v-4m0-74v-4m2-65v-5m2 197v-4m0-205v-4m2 193v-8m0-136v-4m2 70v-4m2-95v-4m4 74v-4m2 131v-4m2-131v-4m0-37v-4m4 180v-4m2 9v-5m0-114v-5m2 115v-4m0-106v-5m2 119v-4m0-24v-37m2 70v-5m0-205v-4m2 209v-4m0-110v-5m2 5v-5m2-82v-4m2-29v-4m2 9v-5m2 234v-4m0-205v-4m2 21v-5m2 193v-4m0-106v-13m0-86v-4m2 217v-4m2-110v-5m0-69v-4m2 192v-12m0-115v-12m2 148v-13m0-139v-25m2 168v-4m2 9v-5m0-82v-4m2 91v-5m2 9v-4m2-78v-5m2 83v-5m2 13v-8m4-83v-4m2 103v-16m0-74v-4m2 94v-12m2 4v-8m2 16v-12m2 8v-12m2 4v-4m0-87v-4m2 95v-4m0-78v-5m2 91v-8m0-87v-4m2 91v-5m0-86v-4m2 99v-4m2-91v-4m2 86v-4m0-135v-4m2 152v-5m0-98v-4m2 123v-16m2 16v-12m2-4v-5m0-102v-4m2 115v-4m4-87v-4m2 95v-4m0-78v-5m2 5v-5m2 0v-4m2 91v-4m4 0v-5m2 5v-5m2 0v-4m0-110v-5m2 124v-5m0-94v-4m2 119v-16m0-87v-4m2 62v-4m0-111v-4m2 123v-4m4 0v-4m0-99v-4m2 103v-4m0-107v-4m8 119v-4m4-123v-5m10-12v-4m8 131v-4m2-106v-5m6 5v-5m4 103v-4m2 4v-4m4-16v-5m4 21v-4m2 4v-4m2 4v-4m0-82v-4m6 90v-4m6-86v-4m2 12v-4m4-8v-5m6 58v-4m2 24v-4m4-86v-4m8-4v-4m4 20v-4m4 4v-4m2 99v-4m2-66v-4m2 4v-4m2-33v-4m2 78v-4m2 12v-4m0-90v-4m2 119v-4m0-74v-4m6 69v-4m2-111v-4m6 41v-4m2 50v-5m0-110v-5m4 83v-5m2-127v-4m2 66v-4m2 160v-4m0-119v-4m2-74v-4m4 28v-4m2 103v-4m4 37v-4m0-107v-4m2 152v-5m2-78v-4m2-4v-4m2 103v-4m4-4v-5m2-102v-4m2 201v-41m0-111v-4m2-41v-4m2 8v-4m6-12v-5m2-78v-4m2 74v-4m2 33v-4m8 8v-4m2 25v-5m14 21v-4m2-8v-4m10 32v-4m2-37v-4m8 62v-4m2 4v-4m2 8v-4m2 8v-4m6 0v-4m14-21v-4m2 37v-4m8 12v-4m6-28v-5m4 46v-5m6-4v-4m18 13v-5m2-16v-4m2 20v-4m4 0v-4m6-28v-5m4 50v-4m2-5v-4m4-12v-4m8 20v-4m12 4v-4m2 9v-5m2-4v-4m2 13v-5m4-4v-4m4 13v-5m2 0v-4m4 13v-4m12 4v-4m4 4v-4m6-25v-4m2 24v-4m6 0v-4m2 17v-4m2-5v-4m2-45v-4m8 62v-4m4 4v-4m8-17v-4m4 25v-4m4 0v-5m10 5v-5m2-36v-5m2 25v-4m2-16v-5m2 29v-4m2 4v-4m2-12v-4m2 12v-4m2 4v-4m2-90v-9m2 74v-4m2 0v-4m2 45v-4m2 8v-4m2-24v-5m2 25v-4m6 8v-4m2 4v-4m2 12v-4m2-12v-4m2 16v-4m2 0v-4m2 8v-4m2-4v-4m4-8v-4m2 24v-4m2-12v-4m2 24v-4m2 8v-4m2 0v-4m2-24v-4m2 8v-4m2-13v-4m2 4v-4m2 37v-4m2-12v-4m2 24v-4m2-20v-4m2 24v-4m2 8v-4m2 12v-4m2 0v-4m2 8v-4m2-4v-4m2-24v-5m2 0v-4m2 29v-4m2 16v-4m2-12v-4m2 0v-4m2-8v-5m2 33v-4m2 12v-4m2 0v-4m2 4v-4m4 8v-4m2 0v-4m2-28v-5m2-32v-9m2 46v-5m2 21v-4m2 0v-4m4 16v-4m2-12v-4m4 20v-4m2-45v-4m2 37v-4m2-25v-4m2 37v-4m2 20v-4m2-8v-4m2 4v-4m2 20v-4m2-12v-4m4 20v-4m2-20v-4m2 20v-4m2-45v-8m2 57v-4m4-8v-4m2 20v-4m2 0v-4m2 12v-4m4-12v-4m2 20v-4m2 8v-4m2-28v-4m2 28v-4m2 4v-4m2-33v-4m2 37v-4m2-12v-4m2 28v-4m2-8v-4m2 12v-4m2 12v-4m2-4v-4m2-41v-4m2 21v-5m2 0v-4m2 37v-4m4-4v-4m2 0v-4m2 4v-4m2 12v-4m4-37v-4m2 12v-4m2 33v-4m2-16v-5m2 25v-4m2-4v-4m2-4v-4m2-13v-4m2 4v-4m2 37v-4m4 119v-29m0-78v-4m4-16v-4m4 115v-5m0-73v-5m2 99v-21m2-123v-4m2 148v-29m2 29v-25m2 4v-4m0-86v-4m2 115v-25m0-90v-4m2 20v-4m4-8v-4m2-16v-4m6 20v-4m6-25v-4m2 29v-4m2 0v-4m6 24v-4m2 4v-4m2-20v-4m2-9v-4m2 33v-4m4-45v-4m4 33v-4m2 28v-4m2 111v-37m0-82v-4m2 111v-13m2 25v-12m0-13v-12m6 0v-4m0-82v-4m6 90v-4m6 4v-4m0-78v-4m2 86v-4m0-78v-4m4 0v-4m4 86v-4m0-78v-4m6 8v-4m2 86v-4m2-74v-4m2 8v-4m4 4v-4m2-8v-4m2 82v-4m0-82v-4m2 20v-4m2 4v-4m4-16v-5m2 91v-4m2-70v-4m2 4v-4m2 4v-4m2-21v-4m2 103v-4m2-70v-4m4 4v-4m2 86v-4m2 0v-4m0-78v-4m2 86v-4m0-78v-4m4-4v-5m2-12v-4m2 25v-4m2 12v-4m4 78v-4m2-9v-4m2 13v-4m0-91v-4m2 25v-4m2 86v-4m4-91v-4m2 87v-5m0-94v-4m2 103v-5m2 13v-4m0-82v-5m2 74v-4m0-107v-4m2 128v-4m2-87v-4m2 103v-4m2 0v-4m0-82v-5m2 95v-4m0-74v-4m2-4v-4m2 82v-4m0-91v-4m4 90v-4m0-102v-4m2 32v-4m2 66v-4m0-131v-5m2 161v-5m2 13v-4m2-9v-4"/>
<path stroke="#63ff94" d="m83 42v-5m2 403v-8m0-74v-4m0-280v-4m2 378v-16m0-66v-4m0-279v-4m2 353v-5m0-82v-4m2 91v-5m2-4v-4m0-94v-4m2 111v-5m0-86v-4m4 99v-4m0-66v-4m2 8v-4m4 70v-4m0-70v-4m10 69v-4m0-106v-4m2 119v-5m0-82v-4m2 21v-4m2 78v-4m2-66v-4m4 70v-5m0-73v-5m2 70v-8m0-131v-4m4 143v-4m0-111v-4m2 127v-4m0-90v-4m2 103v-5m2-78v-4m2 87v-5m4-65v-4m4 78v-4m2 4v-4m0-70v-4m2 78v-4m4 8v-8m2 4v-4m2 0v-5m0-73v-5m2 70v-8m0-135v-5m2 156v-4m0-94v-4m2 111v-9m0-78v-4m2 66v-8m0-156v-4m2 180v-4m2-70v-4m6 87v-5m0-78v-4m2 87v-5m0-73v-5m2 5v-5m2 95v-12m0-74v-4m2 82v-4m2 4v-4m2 4v-4m0-70v-4m2 74v-5m0-78v-4m2 21v-4m2 74v-4m2-9v-4m0-102v-4m4 49v-4m2 78v-4m0-66v-4m2 74v-4m0-62v-4m2 66v-5m0-69v-4m2 78v-5m0-73v-5m2-4v-4m6 91v-5m2-65v-4m0-189v-4m2 271v-4m0-288v-4m2 300v-8m0-70v-4m4 74v-5m0-73v-5m2 95v-12m0-66v-4m2 86v-16m2-21v-8m0-164v-4m2 188v-4m0-102v-4m2 119v-5m0-78v-4m2 82v-4m2 9v-5m4-61v-4m2 70v-5m0-73v-5m2 87v-4m2-13v-8m0-131v-4m0-91v-4m0-12v-4m2 258v-16m0-82v-4m4-177v-4m4 53v-4m2-78v-4m2 13v-5m2 70v-4m2-61v-5m2 9v-4m14 328v-25m10 9v-5m0-90v-4m2 99v-5m0-90v-4m2 99v-5m2 9v-4m2 8v-8m2 16v-12m2 4v-8m0-70v-4m2 78v-4m0-66v-4m2 74v-4m0-66v-4m2 78v-4m2 12v-8m6-58v-4m4 8v-4m4 4v-4m8 9v-5m2 5v-5m2-4v-4m4 70v-4m0-62v-4m2 0v-4m4-12v-4m2 74v-5m2 5v-5m0-135v-4m0-25v-4m2 164v-4m2 0v-4m0-82v-4m0-90v-4m2 192v-4m0-69v-5m0-102v-4m2 176v-8m0-78v-4m0-107v-4m2 193v-4m0-189v-4m2 209v-4m0-74v-4m2 86v-4m0-176v-4m2 180v-4m0-115v-4m0-70v-4m2 197v-8m2 4v-8m0-193v-4m2 205v-4m0-12v-45m0-128v-4m2 197v-4m0-74v-4m2 82v-4m0-119v-4m2 131v-4m0-127v-4m2 140v-5m0-176v-4m2 180v-4m2 4v-4m0-57v-4m0-70v-4m2 131v-4m0-189v-4m4 210v-5m0-201v-4m2 222v-12m2-5v-4m2-57v-4m0-66v-4m2 135v-4m0-53v-4m0-140v-4m2 210v-5m2 0v-4m0-69v-5m0-127v-4m2 214v-5m2-123v-4m2 132v-5m0-197v-4m2 206v-5m2-4v-4m0-65v-5m2 50v-4m0-128v-4m0-90v-4m2 45v-4m2 86v-4m2 8v-4m0-66v-4m2 45v-4m0-45v-4m2 136v-5m0-65v-4m0-41v-4m2 197v-5m0-57v-4m2 66v-5m0-127v-4m2 127v-4m0-86v-4m0-33v-4m0-66v-4m2 205v-4m2-4v-4m0-119v-4m0-78v-4m2 8v-4m2 213v-4m0-110v-5m4-78v-4m2 70v-4m4 8v-4m2 127v-4m0-70v-4m2 87v-5m0-49v-4m2 45v-4m2 8v-4m0-61v-4m0-119v-5m2 197v-4m2-8v-4m0-103v-4m0-16v-4m0-62v-4m2 205v-4m2 4v-4m0-90v-4m2 102v-4m2-65v-4m2 78v-5m0-78v-4m2 87v-5m2 0v-4m0-78v-4m2 17v-4m2 78v-5m0-69v-4m2 78v-5m4 9v-4m2-70v-4m2 78v-4m2-74v-4m2 78v-5m2 5v-5m2 5v-5m4 5v-5m2 5v-5m2-8v-8m0-123v-4m2 143v-4m2 9v-5m0-86v-4m2 99v-4m0-78v-5m2 78v-4m2 9v-5m0-82v-4m2 91v-5m0-82v-4m2 91v-5m2 5v-5m2 5v-5m2 5v-5m2 5v-5m0-69v-4m2 78v-5m2-78v-4m2 82v-4m0-78v-4m2 82v-4m8-123v-4m8 99v-5m0-119v-4m2 25v-4m2 119v-4m0-91v-4m2 0v-4m2-12v-4m4 115v-4m2-99v-4m2-12v-4m2 8v-4m2 98v-4m2 17v-5m0-90v-4m2 78v-4m0-119v-4m4 49v-4m2 90v-4m2-78v-4m2 4v-4m2 82v-4m2 4v-4m0-90v-4m2 4v-4m2 8v-4m2 4v-4m2-37v-4m2 123v-4m0-91v-4m2 21v-4m2 4v-4m4-13v-4m2 107v-4m0-74v-4m4 74v-4m0-78v-4m2 16v-4m2 74v-4m2 8v-4m2-82v-4m2 82v-4m2-21v-4m0-94v-5m2 128v-4m0-74v-4m2-50v-4m2 41v-4m2 95v-5m0-73v-5m4-32v-4m2 119v-5m0-73v-5m2 0v-4m2 74v-4m2-53v-4m4 82v-4m0-66v-4m2 61v-4m2-57v-4m8-54v-4m6 128v-5m0-73v-5m2 83v-5m0-78v-4m2-8v-4m2 74v-4m0-90v-5m2 41v-4m4 82v-4m4-86v-4m2 99v-5m10 0v-4m0-201v-4m4 218v-4m2-9v-4m0-78v-4m2-49v-4m2 70v-5m4 74v-4m2-94v-4m2-25v-4m2 62v-5m4 132v-29m6-135v-4m2-13v-4m4-61v-5m6 103v-4m2 12v-4m2 4v-4m6 21v-4m4 4v-4m4 20v-4m2-16v-5m6 33v-4m6 13v-5m6-4v-4m4 29v-4m16 16v-4m2-4v-4m2 0v-4m2 8v-4m2 0v-4m2 16v-4m6-24v-5m2 29v-4m6 4v-4m2 16v-4m4 0v-4m6 4v-4m6 13v-5m2 9v-4m4-33v-4m2 28v-4m2 8v-4m2 0v-4m12 17v-4m2 4v-4m4-5v-4m6 0v-4m4-37v-4m4 45v-4m6 0v-4m2 4v-4m14 8v-4m4 0v-4m6 21v-4m4-13v-4m4-12v-4m2 33v-5m2 9v-4m4 0v-5m4-8v-4m2 12v-4m8 9v-5m8-45v-4m2 37v-4m4 12v-4m4 17v-4m6 4v-4m6 4v-4m4 8v-4m6-13v-4m4 4v-4m4-24v-4m4 4v-4m2 28v-4m2 4v-4m2-12v-4m2 12v-4m2 4v-4m2-90v-4m2 73v-8m2 0v-4m2 45v-4m2 8v-4m2-24v-4m2 24v-4m2 4v-4m2 12v-4m2 0v-4m2 4v-4m6 8v-4m2 0v-4m2 8v-4m2-4v-4m2 16v-4m2-20v-4m2 24v-4m2-12v-4m4 29v-5m4-28v-4m2 8v-4m2-13v-4m2 4v-4m2 37v-4m2-12v-4m2 24v-4m2-20v-4m4 28v-4m4 8v-4m4 0v-4m2-24v-4m2 0v-5m2 29v-4m4 0v-4m2 0v-4m2-8v-4m2 32v-4m2 13v-5m4 0v-4m2 4v-4m2 9v-5m2 0v-4m2-28v-4m2-33v-4m2 41v-4m2 20v-4m2 0v-4m2 20v-4m2 0v-4m2-12v-4m2 24v-4m2 0v-4m2-45v-4m2 37v-4m2-25v-4m2 37v-4m4 8v-4m2 4v-4m4 4v-4m2 12v-4m2 12v-4m2-20v-4m2 20v-4m2-45v-4m4 61v-4m2-16v-4m2 20v-4m2 0v-4m2 12v-4m2 4v-4m4 4v-4m2 9v-5m2-28v-4m2 28v-4m2 4v-4m2-33v-4m4 21v-4m4 16v-4m2 12v-4m4 4v-4m2-41v-4m2 21v-4m2 0v-5m4 41v-4m2-8v-4m4 0v-4m2 12v-4m2 4v-4m2-37v-4m2 12v-4m4 13v-4m2 24v-4m2-4v-4m2-4v-4m2-13v-4m2 4v-4m2 148v-29m0-82v-4m2 21v-5m4 5v-5m2 99v-29m0-94v-4m2 127v-25m0-78v-4m4 17v-4m2 65v-4m2 4v-4m0-107v-4m2 119v-4m0-90v-4m8 29v-5m6-8v-4m2 12v-4m4 0v-4m2 0v-4m2-29v-4m6 21v-4m2 20v-4m8-24v-5m4 21v-4m4 0v-4m8 127v-12m0-13v-8m0-74v-4m2-8v-4m4 20v-4m4 74v-4m0-70v-4m2 70v-4m0-86v-4m2 16v-4m2 12v-4m2 70v-4m0-91v-4m4 29v-4m2 12v-4m2 70v-4m2 8v-4m0-66v-4m4 74v-4m0-66v-4m2 70v-4m0-70v-4m2 78v-4m2-62v-4m2 70v-4m4-66v-4m6-12v-4m2 90v-4m2 4v-4m2-4v-4m0-82v-5m2 91v-4m2-82v-5m2 95v-4m2 4v-4m2 4v-4m2-4v-4m2-78v-5m2 95v-4m2-91v-4m2 99v-4m2-66v-4m6-8v-4m2 82v-4m4 4v-4m2 8v-4m2 4v-4m0-70v-4m2-12v-5m2-28v-4m6 49v-4m2-33v-4m6 8v-4m2 29v-4m4-9v-4m2 95v-4m2-66v-4m6 78v-4m4-82v-5m2-24v-4m4-41v-4m2 57v-4m2 29v-4m2-29v-4"/>
<path stroke="#84ff73" d="m83 427v-4m0-82v-4m2 95v-5m0-357v-4m2 13v-5m2 353v-4m2-61v-4m4 69v-4m0-78v-4m2 91v-5m0-65v-4m2 74v-5m4 5v-5m0-65v-4m2 74v-5m2 5v-5m0-65v-4m2 74v-5m0-65v-4m2 74v-5m0-57v-4m2 66v-5m2-4v-4m0-98v-4m2 110v-4m2 9v-5m2-57v-4m2 66v-5m2 5v-5m4-143v-4m2 53v-4m2-21v-4m2 33v-4m2 29v-4m4 8v-4m2 70v-5m0-69v-4m2 78v-5m2-57v-4m2 66v-5m2 5v-5m2 5v-5m2 5v-5m0-65v-4m2 12v-4m2 66v-5m0-61v-4m4 49v-4m0-127v-4m2 147v-4m0-86v-4m4-78v-4m2 74v-4m2 37v-5m2 9v-4m2 78v-5m2 0v-4m4 9v-5m2 5v-5m2-57v-4m2 66v-5m0-61v-4m2 70v-5m4 5v-5m2 5v-5m0-65v-4m2-37v-4m2 110v-4m0-74v-4m2 87v-5m2 5v-5m8 0v-4m2 9v-5m0-65v-4m2 74v-5m0-61v-4m2 65v-4m0-74v-4m2 87v-5m0-250v-4m2 259v-5m0-61v-4m2 70v-5m0-209v-4m2 218v-5m0-65v-4m0-148v-4m2-49v-5m4 280v-5m0-86v-4m2 66v-4m0-156v-4m6 184v-4m0-90v-4m2 37v-4m2 74v-5m0-69v-4m2 78v-5m4 5v-5m0-78v-4m0-123v-4m2 193v-16m0-111v-4m4-119v-4m6-46v-4m4 91v-5m2-69v-4m28 307v-28m4 28v-20m0-58v-4m2 87v-5m2-69v-4m2 82v-4m0-70v-4m4 74v-5m4-53v-4m4 8v-4m6 12v-4m4 9v-5m4 5v-5m2 0v-4m2 9v-5m8 0v-4m6 50v-5m0-69v-4m2 78v-5m2 0v-4m0-65v-4m2 12v-4m2 57v-4m0-82v-4m0-45v-4m0-33v-4m2 172v-4m0-127v-4m2 143v-4m2-8v-8m2 4v-12m0-91v-4m2 119v-8m0-107v-4m0-70v-4m2 197v-4m0-49v-4m2 53v-16m2 12v-4m0-82v-4m0-99v-4m2 189v-12m0-103v-4m2 123v-12m2 16v-4m0-111v-4m0-65v-5m2 189v-8m0-82v-4m0-99v-4m2 201v-4m0-70v-4m2 37v-4m0-82v-4m2 131v-8m0-168v-4m2 180v-4m0-172v-4m2 172v-4m0-103v-4m0-37v-4m2 164v-4m0-131v-4m0-66v-4m2 209v-4m0-135v-4m2 148v-5m0-135v-4m0-58v-4m2 197v-4m0-127v-4m2 139v-8m0-184v-5m2 62v-4m2 90v-4m0-139v-5m4 70v-4m0-61v-5m2 202v-5m0-41v-4m0-147v-5m2 197v-12m2 12v-4m0-45v-4m2 45v-8m0-115v-4m0-70v-4m2 177v-37m0-87v-4m2 66v-4m0-45v-4m6 24v-4m2 123v-4m2 8v-4m0-168v-4m2 176v-8m0-45v-4m0-123v-4m2 176v-8m2 12v-8m0-53v-4m0-128v-4m2 189v-8m0-90v-4m2 110v-4m2-57v-4m0-132v-4m2 201v-8m0-61v-5m0-123v-4m4 8v-4m2 70v-4m0-94v-5m2 9v-4m2 221v-16m0-95v-4m0-82v-4m2 209v-16m0-98v-5m2 107v-12m0-86v-4m0-95v-4m2 205v-16m0-99v-4m2 123v-8m0-53v-4m2 53v-8m2 16v-4m0-74v-4m2 82v-8m2 12v-8m0-66v-4m2 82v-8m2 8v-4m2 4v-8m0-61v-4m2 69v-8m2 17v-5m2 0v-8m2 8v-12m0-61v-5m2 83v-5m0-65v-4m2 74v-5m0-65v-4m2 74v-5m2 5v-5m0-65v-4m2 74v-5m2 0v-4m0-74v-4m2 13v-4m2 73v-4m0-74v-4m2 82v-16m0-66v-4m2 13v-5m2 78v-4m0-78v-4m2 70v-20m0-99v-4m2 135v-16m0-74v-4m4 103v-5m2-4v-4m0-90v-4m2 102v-4m2 4v-4m2 4v-4m0-74v-4m4 82v-12m0-57v-4m2 73v-16m2 16v-12m2 12v-12m0-57v-4m2 73v-16m2 12v-12m2 8v-20m0-82v-4m2 114v-4m0-86v-4m2 99v-5m0-78v-4m2-53v-4m4 16v-4m2 4v-4m2-8v-4m4 107v-4m6 4v-4m2 0v-5m0-106v-4m2 28v-4m2 95v-4m2-5v-4m2 4v-4m2-119v-4m6 123v-4m0-90v-4m4-4v-4m2 106v-4m2 4v-4m12-29v-4m8-57v-4m2 74v-4m4-62v-4m4 78v-4m4-70v-4m2 70v-4m2-74v-4m6 49v-4m0-91v-4m2 119v-4m4 21v-4m0-95v-4m2 74v-4m4 20v-4m2-90v-4m2 107v-4m2-5v-4m0-74v-4m8 29v-4m2 70v-4m2-17v-4m0-78v-4m4-8v-4m2 41v-4m4-4v-5m6 78v-4m2 13v-4m0-66v-4m2-13v-4m2 41v-4m0-102v-4m2 143v-4m2-57v-4m2 78v-5m0-201v-4m2 66v-4m2 37v-4m2 119v-4m0-189v-4m4 184v-4m0-152v-4m6 128v-5m4 41v-4m0-69v-5m2-4v-4m4-41v-4m4 144v-4m0-107v-4m2 127v-12m0-66v-4m2-41v-4m2 8v-4m10-25v-4m6 226v-4m4-185v-4m2 25v-4m4 8v-4m4 16v-4m8-8v-4m4 33v-5m2-12v-4m6-21v-4m4 54v-4m4 12v-4m6 12v-4m2 4v-4m2-8v-4m4 127v-4m4 4v-4m8-136v-4m2 37v-4m6 12v-4m2 4v-4m6-28v-4m6 45v-4m4-5v-4m2 0v-4m6 13v-5m2-24v-4m8 37v-4m2-17v-4m4 25v-4m2-5v-4m6-28v-4m6 41v-5m4-12v-4m4 4v-4m4 21v-5m2 9v-4m6 4v-4m2 8v-4m2-4v-5m4 0v-4m6 4v-4m6 9v-5m8 5v-5m8 13v-4m10-25v-4m4 29v-4m4-5v-4m10 9v-5m10 9v-4m4 8v-4m6 4v-4m6 4v-4m4-17v-4m6-16v-4m2 20v-4m2-12v-4m2 28v-4m4-12v-4m2 12v-4m2 4v-4m2-86v-8m2 74v-5m2-4v-4m2 45v-4m4-20v-4m2 24v-4m2 4v-4m2 12v-4m2 0v-4m4 8v-4m2-12v-4m2 20v-4m2 0v-4m2 8v-4m2-4v-4m2 17v-5m2-20v-4m2 24v-4m2-12v-4m2 20v-4m4 4v-4m2-20v-4m2 8v-4m2-12v-5m2 9v-9m4 21v-4m2 24v-4m2-20v-4m2 20v-4m4 17v-5m2 5v-5m2 5v-5m2 0v-4m2-24v-4m2 0v-4m2 28v-4m2 12v-4m2-8v-4m2 0v-4m2-8v-4m2 32v-4m2 13v-4m2-5v-4m2 9v-5m2 5v-5m4 5v-5m2-28v-4m2-33v-4m2 41v-4m2 20v-4m4 16v-4m2 0v-4m2-12v-4m2 24v-4m2 0v-4m2-45v-4m2 37v-4m2-25v-4m2 37v-4m2 16v-4m2-4v-4m2 4v-4m2 16v-4m4 0v-4m4-12v-4m2 20v-4m2-45v-4m2 49v-4m2 17v-5m2-16v-4m2 20v-4m2 0v-4m4 13v-5m2-16v-4m6-4v-4m2 28v-4m2 4v-4m2-32v-5m2 33v-4m2-8v-4m2 24v-4m2-4v-4m2 12v-4m2 9v-5m4-45v-4m2 21v-4m2 0v-4m2 32v-4m2 13v-5m2-8v-4m2-4v-4m2 8v-4m4 12v-4m2-37v-4m2 13v-5m2 29v-4m2-12v-4m2 24v-4m2-4v-4m2-4v-4m2-13v-4m2 4v-4m6 41v-4m2 107v-25m2-4v-4m8-107v-4m2 9v-5m4 115v-4m0-78v-4m2 86v-4m0-82v-4m2 21v-5m4-8v-4m2-16v-4m6 20v-4m8 0v-4m2 0v-4m6 24v-4m2 4v-4m2-20v-4m4 20v-4m4-45v-4m4 33v-4m2 131v-33m2-82v-4m2 86v-4m2 0v-4m2 8v-4m0-66v-4m2 74v-4m2-82v-4m8 86v-4m2-94v-5m2 25v-4m2 78v-4m2 8v-4m2-78v-4m4 4v-4m6 8v-4m4 8v-4m2 74v-4m0-62v-4m2 70v-4m2 4v-4m2 0v-4m0-70v-4m2 74v-4m2-58v-4m2 4v-4m4-16v-4m4 16v-4m2 4v-4m2 4v-4m2-21v-4m4 29v-4m2 70v-4m2-62v-4m4 0v-4m2 4v-4m2 78v-4m2-78v-4m2 78v-5m0-86v-4m2 25v-4m2 12v-4m4 70v-4m2-9v-4m0-94v-4m2 111v-5m0-82v-4m2 99v-4m0-70v-4m4 65v-4m0-90v-4m2 107v-4m0-78v-5m2 78v-4m0-86v-4m2 94v-4m0-86v-4m4-16v-5m2 37v-4m2 4v-4m4 91v-4m0-74v-4m2 16v-4m2-4v-4m2 74v-5m0-82v-4m2 95v-4m2-9v-4m2 17v-4m0-78v-5m2 58v-4m0-119v-4m2 147v-4m0-86v-4m4 90v-4"/>
<path stroke="#a5ff52" d="m85 362v-4m0-292v-8m2 374v-5m0-57v-4m2-17v-4m4-16v-4m6 45v-4m2 66v-5m0-53v-4m4-4v-4m8 0v-4m4-9v-4m2 21v-4m2 70v-5m2-57v-4m2 4v-4m2 61v-4m0-65v-4m2 57v-4m2 16v-4m0-82v-4m2-20v-5m2 115v-4m4 8v-4m0-69v-5m8 83v-5m2-57v-4m2 0v-4m2 8v-4m4 66v-5m4-69v-4m2-70v-4m4 147v-4m0-69v-5m2 54v-4m0-144v-4m2 74v-4m2 106v-4m4-53v-4m2-12v-5m2 9v-4m2 4v-4m2 8v-4m2 74v-5m4-61v-4m2 65v-4m0-69v-5m2 21v-4m4 53v-4m4-49v-4m2 8v-4m2 66v-5m2-65v-4m2 0v-4m2-5v-4m8 21v-4m2-160v-4m2-70v-4m2 12v-4m2 226v-4m0-177v-4m2 259v-5m0-57v-4m2 61v-4m0-78v-4m2-94v-4m2 176v-4m0-94v-4m2 110v-4m0-69v-5m2-16v-4m6 41v-4m2 61v-4m0-65v-4m2 73v-4m0-209v-4m2 78v-4m0-103v-4m2 152v-4m0-115v-4m0-33v-4m2 49v-4m2 4v-4m2-57v-5m0-53v-4m4 98v-4m8-41v-4m2-24v-9m22 288v-4m0-54v-4m2 90v-28m0-58v-4m4 90v-16m0-57v-5m2 83v-5m2 5v-5m2 5v-5m0-61v-4m4 8v-4m4 8v-4m4 12v-4m2 8v-4m4 9v-5m4 5v-5m8 9v-4m4-5v-4m4 4v-4m4-20v-4m2 69v-8m0-53v-4m2 61v-4m2 8v-8m0-152v-4m2 152v-8m2 4v-12m0-156v-4m4 164v-4m0-103v-4m0-66v-4m2 62v-4m0-58v-4m4 86v-4m2-65v-5m2 181v-4m2-8v-4m0-66v-4m0-103v-4m2 82v-4m0-61v-5m4 181v-4m2 12v-12m0-168v-4m2 192v-45m0-127v-4m2 103v-5m4 62v-8m0-173v-4m2 197v-16m0-45v-4m2 65v-4m0-57v-4m0-128v-4m2 201v-4m0-61v-4m2 61v-53m0-140v-4m4 201v-53m0-140v-4m2 201v-12m0-119v-4m2 131v-8m0-119v-4m2 135v-8m2 8v-8m2-33v-4m0-147v-5m2 70v-4m0-57v-4m4-58v-4m2 45v-4m2 21v-5m2 5v-5m2-4v-4m2 197v-16m0-160v-4m2 184v-8m0-127v-4m4 127v-4m0-70v-4m0-103v-4m2 82v-4m2 103v-8m0-181v-4m2 205v-20m0-91v-4m0-82v-4m2 205v-12m2 4v-4m0-103v-4m2-69v-5m6 74v-4m0-4v-4m2 62v-5m2-110v-4m2 65v-4m2 66v-4m0-119v-4m2 73v-4m0-61v-4m2 164v-25m0-65v-5m0-82v-4m2 193v-16m2 12v-4m0-74v-4m4 33v-4m2 65v-8m0-61v-5m4 0v-4m2 82v-8m2 0v-4m0-53v-4m4 69v-8m2 8v-8m2 8v-8m2 8v-8m2 8v-12m0-53v-4m2 65v-12m2 16v-12m2 8v-12m4 16v-12m2 8v-12m4-74v-4m2 94v-4m0-78v-4m2 17v-4m2 65v-16m2 20v-12m0-62v-4m2 78v-12m0-62v-4m2 78v-12m2 16v-12m0-57v-4m4 0v-5m6 5v-5m2 0v-4m2-24v-4m2 106v-16m2 20v-16m2-115v-4m2 8v-4m8-25v-4m2 25v-4m6 4v-4m6 12v-4m2-12v-4m2 8v-4m2 90v-4m2-70v-4m2 70v-4m0-111v-4m4 135v-4m0-82v-4m6 8v-4m2-16v-4m2 8v-4m2 90v-4m0-82v-4m2 90v-4m0-78v-4m2 90v-4m0-82v-4m2-37v-4m2 28v-4m2 99v-4m0-74v-4m2 82v-4m0-74v-4m2 82v-4m2-91v-4m2 29v-4m2 74v-4m4-66v-4m2-8v-4m8 49v-4m0-86v-4m2 49v-4m4-13v-4m6-20v-4m2 41v-4m2 0v-5m2 66v-4m2-45v-4m6-13v-4m2 91v-4m0-62v-4m2 74v-4m2-62v-4m4 33v-4m0-86v-5m2 103v-4m2 25v-5m2-69v-4m4 65v-4m0-74v-4m2-20v-4m2 41v-5m6-65v-4m2 61v-4m6 95v-5m2-102v-4m4-95v-4m4 144v-4m2-17v-4m2-49v-4m2 139v-4m0-65v-4m6 82v-4m0-103v-4m4 102v-4m0-65v-4m10-33v-4m2 209v-4m0-218v-4m2 222v-17m0-188v-4m2 209v-25m0-258v-4m4 98v-4m4 16v-4m2 4v-4m4 185v-4m2-160v-4m4 4v-4m4 20v-4m2-16v-4m2 20v-4m12 21v-5m4 0v-4m8 25v-4m2 8v-4m8 4v-4m6 4v-4m4 4v-4m6 119v-4m2-127v-4m2 28v-4m6 4v-4m8 21v-4m4-5v-4m6 13v-4m10 0v-5m8 5v-5m12 5v-5m2 13v-4m4-9v-4m4-37v-4m10 41v-4m2 4v-4m8 17v-4m4 4v-4m6-9v-4m2 17v-4m6 8v-4m2-13v-4m4-12v-4m8 33v-4m2 8v-4m2-13v-4m6 13v-5m8 13v-4m2-4v-5m2-41v-4m2 37v-4m4 12v-4m2 17v-4m2 4v-4m2 4v-4m4 4v-4m4-17v-4m6 29v-4m2-4v-4m8-5v-4m2 13v-4m4-13v-4m2-12v-4m2 28v-4m2 0v-4m4 0v-4m2 4v-4m2-82v-8m2 70v-4m2-5v-4m2 45v-4m2 4v-4m2-20v-4m2 24v-4m2 4v-4m2 13v-5m4-4v-4m2 13v-5m2-12v-4m4 16v-4m4 0v-4m2 17v-4m2-21v-4m4 119v-4m0-107v-4m2 21v-5m2 9v-4m2 0v-5m2-20v-4m2 8v-4m2-12v-4m2 8v-4m2 28v-4m2-8v-4m2 25v-5m2-20v-4m2 20v-4m2 8v-4m2 13v-4m2 4v-4m2 4v-4m4-29v-4m2 0v-4m2 28v-4m2 13v-5m2-8v-4m2 0v-4m2-8v-4m6 33v-5m4 9v-4m2 4v-4m4-29v-4m2-29v-8m2 164v-4m0-119v-4m2 20v-4m2-4v-4m2 25v-5m2 0v-4m2-12v-4m2 25v-5m2 0v-4m2-41v-8m2 37v-4m2-21v-8m2 37v-4m2 16v-4m2-4v-4m4 17v-5m2-12v-4m2 16v-4m2 9v-5m2-16v-4m2 20v-4m2-45v-4m2 49v-4m2 17v-4m2-17v-4m4 16v-4m2 9v-5m2 9v-4m2-17v-4m2 115v-4m0-90v-5m2 9v-4m2-25v-4m2 29v-5m2 5v-5m2-32v-4m2 32v-4m2-8v-4m2 119v-4m0-90v-5m2-4v-4m2 13v-5m2 9v-4m2-5v-4m2-37v-4m2 21v-4m2 0v-4m2 32v-4m2 13v-4m2-9v-4m2-4v-4m2 8v-4m2 8v-4m2 107v-4m0-95v-4m2-37v-4m2 13v-4m2 28v-4m2-12v-4m2 24v-4m2-4v-4m2-4v-4m2-12v-5m2 9v-9m2 111v-4m0-74v-4m2 86v-4m0-61v-4m2 65v-4m2 8v-4m0-61v-4m2-25v-4m2 24v-4m2 82v-4m0-65v-4m2 73v-4m0-61v-4m2 57v-4m0-98v-5m2 107v-4m2-78v-4m4 12v-4m4 111v-25m0-65v-4m2 94v-29m2-94v-4m2 127v-29m0-74v-4m2 13v-5m4 0v-4m2 0v-4m2-28v-5m2 140v-33m2-82v-4m2 0v-4m2 20v-4m8-24v-4m4 20v-4m2-33v-4m2 37v-4m2 0v-4m2 94v-4m0-66v-4m2 70v-4m2-62v-4m2-8v-4m4 20v-4m2 62v-4m2-58v-4m2 62v-4m0-78v-4m2 90v-4m0-70v-4m2 12v-4m2 62v-4m2 12v-4m2-66v-4m2 12v-4m2 62v-4m2-54v-4m2 62v-4m2-54v-4m2-4v-4m2 70v-4m0-62v-4m2 74v-4m0-58v-4m6 0v-4m2 4v-4m4-12v-4m6 74v-4m0-74v-4m4 82v-4m0-74v-4m8 78v-5m0-78v-4m2 91v-4m0-74v-4m4 0v-5m4 95v-4m0-62v-4m2 66v-4m2 4v-4m2-70v-4m2 74v-4m8-58v-4m2-12v-4m8 86v-4m0-66v-4m10 70v-4m0-70v-4m2 61v-4m0-94v-4m2 115v-5m2 5v-5m2 13v-4m0-66v-4m4 74v-4m4-87v-4m2 13v-4m2-25v-4m4 78v-4m0-111v-4m4 152v-4m0-70v-4m2-29v-4"/>
<path stroke="#c5ff31" d="m83 423v-4m0-74v-4m2-283v-4m2 20v-4m4 296v-4m4-13v-4m8 21v-4m4 4v-4m2 4v-4m6 57v-4m0-90v-4m6 53v-4m8-82v-4m6 57v-4m2 29v-4m4 8v-4m2 61v-4m0-61v-4m2 8v-4m2 12v-4m8-4v-4m4 8v-4m2 61v-4m4-86v-4m4-74v-4m2 164v-4m2-57v-4m2 73v-4m0-61v-4m6 69v-4m2 4v-4m14-57v-4m2-37v-4m2 33v-5m6 25v-4m4 57v-4m2-69v-5m2 17v-4m4-8v-5m2-176v-4m2 201v-4m0-218v-4m2 222v-4m2 4v-4m0-156v-4m2 225v-4m6-172v-4m2 78v-4m6 45v-4m2 65v-4m0-61v-4m6 65v-8m0-61v-5m2 46v-4m0-218v-4m6-21v-4m4 45v-4m2-70v-4m2 13v-4m4 41v-4m0-33v-4m2 8v-4m28 230v-5m4 78v-12m0-53v-4m2 69v-8m2 8v-4m2-53v-4m8 16v-4m2 70v-4m4-53v-5m8 9v-4m2 0v-5m2 9v-4m4 4v-4m4 0v-5m4-4v-4m10 29v-4m0-66v-4m0-82v-4m2 90v-4m2 86v-4m0-57v-4m0-58v-4m0-41v-4m2 90v-4m2-25v-4m2 45v-4m0-110v-5m2 21v-4m4 49v-4m0-62v-4m6 123v-4m0-106v-4m2 98v-4m0-33v-4m0-62v-4m2 181v-4m0-111v-4m4 127v-4m0-127v-4m0-29v-4m2 41v-4m2 119v-4m0-86v-5m2-82v-4m2 197v-12m2 16v-8m0-180v-5m4 62v-4m0-49v-4m4 4v-4m2 123v-4m0-128v-4m2 160v-4m0-139v-4m4 65v-4m4 62v-4m0-128v-4m2 54v-5m2 66v-4m2-41v-4m2 8v-4m2 16v-4m0-37v-4m2 95v-4m0-74v-4m2 98v-4m0-86v-29m2 41v-4m0-41v-4m2 45v-4m2-53v-5m2 91v-4m0-25v-4m4-58v-4m2 4v-4m2 82v-4m2-69v-5m2 70v-4m0-94v-4m2 8v-4m2 24v-4m4 181v-4m0-78v-4m6-33v-4m2 65v-4m4 13v-5m6 70v-4m0-53v-4m2 57v-4m2 8v-4m0-53v-4m4 0v-4m2 65v-4m0-49v-4m2 57v-4m0-49v-4m2 57v-4m0-49v-4m2 57v-4m0-49v-4m4-8v-5m2 13v-4m2-4v-5m2 0v-4m2 13v-4m2-5v-4m2-49v-4m4 131v-16m2 20v-16m2-78v-4m6 25v-5m2 66v-4m2-49v-4m4 4v-4m2 4v-4m4 53v-4m4 0v-4m0-62v-4m2 74v-4m0-53v-5m6 54v-4m0-91v-4m2 4v-4m2 91v-4m0-95v-4m2 94v-4m0-106v-5m4 42v-5m2 91v-4m0-87v-4m4 82v-4m0-98v-4m2 115v-4m0-83v-4m8-37v-4m2 123v-4m2-127v-4m2 41v-4m4 86v-4m0-86v-4m2 20v-4m4 74v-4m2 4v-4m8-115v-4m2 111v-4m12-58v-4m2 66v-4m0-70v-4m4 78v-4m2 8v-4m0-62v-4m2-8v-4m2 74v-5m0-65v-4m4 74v-5m2-114v-5m4 119v-4m0-65v-4m2-9v-4m2 66v-4m0-78v-4m2 106v-4m4-86v-4m4 21v-5m2 25v-4m2 53v-4m8-78v-4m4-8v-4m4 102v-4m2 4v-4m0-65v-4m4 49v-4m4-29v-4m2 57v-4m2-37v-4m4 49v-4m0-61v-4m2-128v-4m2 66v-4m2 148v-4m2-185v-4m2 180v-4m2 0v-4m0-144v-4m2 165v-5m2-8v-4m2-119v-4m4 66v-4m2 65v-4m0-66v-4m4-41v-4m4 33v-4m2 111v-4m0-58v-4m2 148v-17m0-172v-4m2 193v-8m0-177v-4m6 172v-16m2 8v-20m2 45v-17m0-197v-4m4 33v-4m8 29v-4m4 8v-4m4 16v-4m8-8v-4m2 24v-4m2 144v-4m0-127v-4m2-13v-4m2 152v-4m0-127v-4m4-37v-5m4 54v-4m2 12v-4m10 12v-4m2-8v-4m4 20v-4m2-4v-4m4 4v-4m4 12v-4m2-28v-5m10 140v-4m4-90v-5m2-28v-4m2 32v-4m10 4v-4m4 103v-4m0-82v-4m2 0v-4m2-25v-4m2 123v-4m0-95v-4m4 4v-4m4-4v-4m4 25v-4m2-4v-5m2 13v-4m2 4v-4m2 90v-4m0-123v-4m2 131v-4m8-103v-4m2-24v-5m2 33v-4m2 12v-4m4 17v-4m2 90v-4m4-82v-4m6 90v-4m6-95v-4m2 9v-5m8 13v-4m2 90v-4m4 4v-4m0-86v-4m4 4v-4m2 8v-4m10-4v-5m2-12v-4m6 25v-4m8-41v-5m4 50v-4m10 8v-4m8 4v-4m8 8v-4m2-13v-4m2 0v-4m6-16v-4m2 24v-4m2 107v-4m0-115v-4m2 29v-5m2 99v-4m0-95v-4m2 103v-4m0-111v-4m2 16v-4m2 4v-4m2-82v-4m2 66v-4m2-4v-5m4 46v-5m2 99v-4m0-115v-4m2 24v-4m2 103v-4m0-95v-4m2 13v-4m2-5v-4m2 4v-4m2 13v-4m2-13v-4m2 17v-5m4 5v-5m2 0v-4m4-8v-4m2 21v-5m2-8v-4m2 21v-4m2 8v-4m2 0v-4m2 94v-4m0-111v-4m2 8v-4m2-12v-4m2 8v-4m2 28v-4m2-8v-4m4 0v-4m2 20v-4m2 9v-5m2 13v-4m4 90v-4m0-82v-4m2-4v-5m2-20v-4m2 0v-4m2 28v-4m2 13v-4m4-13v-4m2-8v-4m2 29v-5m2 99v-4m0-82v-4m2 0v-4m2 4v-4m2 8v-4m2 4v-4m2 0v-4m2-25v-4m2 123v-4m0-148v-4m2 37v-4m2 20v-4m2-4v-4m2 25v-4m4-17v-4m2 115v-4m0-86v-4m4-46v-4m2 33v-4m2-20v-5m2 140v-4m0-103v-4m2 17v-5m2-4v-4m2 0v-4m2 21v-4m2-13v-4m2 17v-5m2 99v-4m0-86v-4m2-17v-4m4 115v-4m0-140v-4m2 49v-4m2 17v-4m2 90v-4m0-103v-4m2 17v-5m2 5v-5m2 9v-4m4-13v-4m2 21v-4m2 8v-4m2-25v-4m6-8v-4m2 32v-4m2-8v-4m2 25v-4m4 94v-4m2-82v-4m2-4v-5m2-32v-9m2 21v-4m2 0v-4m2 33v-5m4 0v-4m2-4v-4m2 8v-4m2 8v-4m2 9v-5m2-32v-9m2 17v-8m2 28v-4m2-12v-4m4 16v-4m2-4v-4m2-12v-4m2 8v-4m2 28v-4m4 8v-4m4 70v-4m0-78v-4m2 94v-4m0-65v-5m6-32v-4m2 4v-4m2 106v-4m0-78v-4m2 12v-4m2 78v-4m2-57v-4m4 65v-4m0-70v-4m2 107v-37m4 37v-29m2-78v-4m2 111v-29m2 29v-33m2-98v-4m2 102v-4m0-74v-4m4 0v-4m4 25v-5m2 5v-5m2-20v-4m2-4v-4m2 28v-4m2 107v-41m2-107v-4m2 37v-4m6 8v-4m4 74v-4m2-54v-4m4-12v-4m2 82v-4m2-82v-4m4 86v-4m2-86v-4m2 24v-4m6 0v-4m2 78v-4m2-70v-4m2 78v-4m2 0v-4m6 4v-4m0-58v-4m2 8v-4m2 62v-4m4 0v-4m0-62v-4m4 74v-4m2 4v-4m0-58v-4m2-16v-4m2 78v-4m0-70v-4m4 82v-4m0-62v-4m2 70v-4m0-62v-4m2 70v-4m0-62v-4m6 70v-4m0-62v-4m2 62v-5m0-69v-4m2 86v-4m0-62v-4m4 0v-4m2 4v-4m4-4v-4m2 69v-4m0-78v-4m2 95v-4m0-66v-4m2 78v-4m0-62v-4m2 70v-4m4-17v-4m0-86v-4m2 24v-4m2 25v-4m4 57v-4m0-82v-4m2 99v-5m0-69v-4m2-13v-4m2 4v-4m6 17v-5m2 5v-5m4 13v-4m2 16v-4m2 66v-4m0-66v-4m6 57v-4m2 17v-5m0-69v-4m4 69v-4m0-78v-4m4 82v-4m0-82v-4"/>
<path stroke="#e6ff10" d="m85 427v-4m0-57v-4m0-308v-4m2 324v-4m0-300v-4m2 288v-5m4 70v-4m0-82v-4m4 37v-4m14 12v-4m2 57v-4m0-57v-4m2-33v-4m2 29v-5m2 21v-4m6 8v-4m2-8v-4m2-66v-4m2 53v-4m2 78v-4m0-94v-4m6 45v-4m10 20v-4m2 0v-4m2 8v-4m4 4v-4m4-8v-4m2 49v-4m0-115v-4m2 57v-4m2 21v-4m2-91v-4m2 70v-4m6 49v-4m2-12v-4m2 8v-4m2 4v-4m2 69v-4m0-57v-4m2 12v-4m2 0v-4m2 4v-4m2-8v-4m6-25v-4m4 45v-4m6 61v-4m0-57v-4m2 0v-4m6 12v-4m4 4v-4m4-152v-4m2-70v-4m2 226v-4m0-185v-4m0-8v-4m2 217v-4m2 53v-4m0-70v-4m2 54v-4m0-140v-4m4 107v-4m2-17v-4m6 41v-4m2 53v-4m0-57v-4m2-140v-4m2 78v-4m2 119v-4m0-70v-4m2-164v-4m6-46v-4m4 82v-4m2-8v-4m32 230v-4m2-45v-4m4 12v-4m6 12v-4m2 8v-4m2 4v-4m2 70v-4m2-54v-4m6 13v-4m2 4v-4m2 4v-4m8 8v-4m4-4v-5m6 54v-4m2-70v-4m2 8v-4m2-4v-4m2-70v-21m2 13v-4m2 123v-4m0-115v-4m0-29v-4m4-13v-4m2 169v-4m0-78v-5m0-82v-4m2 78v-4m2 78v-4m2-70v-4m2 37v-4m2 4v-4m0-37v-4m0-62v-4m2 17v-4m6 119v-5m0-106v-4m6 180v-4m0-45v-4m0-115v-4m2 16v-4m0-24v-5m2 136v-4m2-78v-4m0-45v-5m4 58v-4m0-54v-4m2 144v-4m2-131v-5m6 189v-4m0-119v-4m2 8v-4m0-57v-4m2 180v-29m2 37v-4m0-176v-4m2 53v-4m2 70v-82m0-95v-4m2 103v-4m0-54v-4m2 21v-4m2 4v-4m2-5v-4m2 21v-4m4 176v-4m0-37v-4m2-139v-5m2 136v-4m2 37v-4m4-29v-4m0-54v-4m2 54v-4m2-115v-4m2 57v-4m2 4v-4m2 20v-4m2 99v-4m2 12v-33m0-135v-4m2-17v-4m4 148v-4m0-115v-4m2 74v-4m0-83v-4m2 173v-4m2-58v-4m4 33v-4m2-4v-4m4 0v-5m26 66v-4m4-111v-4m2 111v-4m0-62v-4m2 12v-4m2 17v-4m2-21v-4m2 21v-5m2 5v-5m4 13v-4m2 57v-4m2-53v-4m2 61v-4m2 4v-4m2-53v-4m2 0v-5m2 50v-4m0-70v-4m2 24v-4m4 58v-4m0-95v-4m2 107v-4m0-95v-4m4 99v-4m6-99v-4m2 107v-4m4-4v-5m0-90v-4m6 99v-5m0-82v-4m2 82v-4m0-90v-4m2 98v-4m2-107v-4m2 37v-4m4 78v-4m8 4v-4m2-90v-4m2 8v-4m2 4v-4m4 8v-4m2 57v-4m2-65v-5m2 21v-4m4 4v-4m2 66v-5m0-73v-5m2 95v-4m0-62v-4m8-8v-4m4 70v-5m4-106v-4m2 49v-4m2 37v-4m2 24v-4m0-66v-4m4 91v-4m4-70v-4m2 65v-4m0-61v-4m4 78v-5m0-57v-4m2 57v-4m2 17v-4m2-78v-5m4 29v-4m2 62v-4m0-54v-4m2 41v-4m2-12v-4m0-78v-4m4 53v-4m6 53v-4m0-66v-4m2-20v-4m2 106v-4m0-61v-4m2 78v-5m2-73v-5m2-61v-4m2 131v-4m0-66v-4m4 86v-4m2-127v-4m2 37v-4m2 107v-5m2-197v-4m4 144v-4m2-17v-4m2 41v-4m2-20v-4m2 65v-4m4-86v-4m4 33v-4m2 78v-4m4 73v-16m2 25v-17m2-172v-4m2-13v-4m2 185v-12m0-156v-4m2 160v-21m0-213v-4m2 266v-16m2 33v-12m0-173v-4m2 189v-8m4-165v-4m2-4v-4m6 185v-4m8-156v-4m2 20v-4m12 21v-4m2 131v-4m0-160v-4m8 172v-4m0-111v-4m2 4v-4m2 119v-4m2-103v-4m6 0v-4m4 111v-4m4 8v-4m2-107v-4m2 111v-4m4-95v-4m2-20v-4m4 37v-5m2 5v-5m12 13v-4m4-4v-5m2 99v-4m16 4v-4m0-82v-4m4 0v-4m14 94v-4m2-86v-4m12 4v-4m4-5v-4m2 4v-4m2 103v-4m2-78v-4m2-4v-4m2 8v-4m2-4v-5m2 13v-4m8 4v-4m2 0v-4m2 94v-4m4-95v-4m4-12v-4m2 119v-4m4 4v-4m0-78v-4m4 86v-4m2-95v-4m4 103v-4m2 4v-4m0-86v-4m2 94v-4m0-82v-4m2 90v-4m2-90v-5m2 99v-4m0-78v-4m2-4v-4m4-9v-4m6 25v-4m2 86v-4m2-78v-4m4 86v-4m2-78v-4m2-17v-4m4 107v-4m0-78v-4m4 0v-4m8 90v-4m2-82v-4m2-29v-4m2 24v-4m2-12v-4m4 25v-5m2-12v-4m2 16v-4m4-78v-8m2 66v-4m2-4v-4m2 135v-4m0-90v-5m2 9v-4m2-21v-4m4 25v-5m4 5v-5m2 5v-5m4-4v-4m2 17v-4m2 0v-5m2 99v-4m0-86v-4m4 8v-4m2-17v-4m2 111v-4m0-86v-4m2-9v-4m2 107v-4m0-82v-4m2 8v-4m2 86v-4m0-82v-4m2-21v-4m2 8v-4m2-12v-4m2 8v-4m2 29v-5m2-8v-4m2 21v-4m2-17v-4m2 21v-5m2 9v-4m4 8v-4m4 90v-4m0-86v-4m2-21v-4m2 0v-4m4 123v-4m0-82v-4m2-13v-4m2 4v-4m2-8v-4m2 29v-4m2 12v-4m2 0v-4m2 4v-4m4 8v-4m2 86v-4m0-82v-4m2-25v-4m2-29v-4m2 37v-4m4 12v-4m4 17v-5m2-8v-4m4 17v-5m2-36v-5m2 33v-4m2-20v-4m4 45v-4m4-9v-4m2 21v-4m2-13v-4m2 17v-4m2 8v-4m2-17v-4m2 111v-4m0-90v-5m2-36v-9m2 144v-4m0-90v-5m4-4v-4m2 17v-4m4 8v-4m2 4v-4m2-13v-4m2 21v-4m2 8v-4m2-25v-4m2 25v-4m2 4v-4m2-29v-4m2 33v-5m2-8v-4m2 25v-4m2 90v-4m0-95v-4m2 13v-4m4 4v-4m2-33v-4m2 16v-4m2 0v-4m2 33v-4m2 8v-4m4-13v-4m2 8v-4m2 103v-4m0-90v-5m4-28v-4m2 12v-4m2 24v-4m2-12v-4m2 20v-4m2 0v-4m2-4v-4m2-12v-4m2 8v-4m2 28v-4m2 17v-4m4 4v-4m6 4v-4m2 8v-4m2 49v-4m2 4v-4m0-86v-4m4 102v-4m2-70v-4m2 107v-29m2 4v-4m0-57v-4m4-29v-4m2 94v-4m0-66v-4m6 74v-4m0-61v-5m2 0v-4m2 103v-45m2-62v-4m2 111v-37m0-74v-4m4 115v-37m0-62v-4m6 103v-41m0-74v-4m4 119v-37m2-74v-4m2 115v-57m2 57v-45m2 45v-45m0-74v-4m2 24v-4m2-4v-4m2 74v-4m0-58v-4m2-8v-4m2 78v-4m2 4v-4m0-53v-5m2 54v-4m2-50v-4m2 54v-4m2 8v-4m0-62v-4m2 12v-4m2 54v-4m2 12v-4m0-58v-4m2 66v-4m0-58v-4m2 70v-4m0-54v-4m4 4v-4m4 4v-4m2-4v-4m2 4v-4m2 12v-4m4 58v-4m2-54v-4m2 62v-4m0-54v-4m4 54v-4m0-62v-4m2 16v-4m8 54v-5m0-65v-4m8 69v-4m0-69v-5m2 83v-5m0-65v-4m10 78v-4m4 4v-4m0-62v-4m4-17v-4m8 87v-5m0-65v-4m2-25v-4m2 98v-4m0-69v-5m2 87v-4m2-58v-4m2-29v-4m4 86v-4m0-74v-4m2 82v-4m2-53v-4m2 53v-4m0-86v-4m2 106v-4m4-49v-4m2 62v-5m6 0v-4m0-69v-5m2 83v-5m0-65v-4m2-25v-4m2 33v-4m2 41v-4m0-103v-4m4 78v-4"/>
<path stroke="#ffe300" d="m83 349v-4m2-295v-8m2 24v-4m2 361v-4m2 8v-4m0-53v-4m2-29v-4m2 90v-4m0-65v-5m2 78v-4m2-49v-4m2 8v-4m2 53v-4m0-53v-4m2 61v-4m0-53v-4m2 61v-4m2 4v-4m0-53v-4m6-33v-4m2 94v-4m4-41v-4m2 0v-4m6 37v-4m0-107v-4m4 29v-4m2 28v-4m2 86v-4m4-49v-4m2-4v-4m2 65v-4m0-53v-4m10 61v-4m0-53v-4m4 8v-4m4-78v-4m6 111v-4m0-128v-4m2 70v-4m2 33v-4m2 8v-4m20 12v-4m2 57v-4m4-65v-4m4 20v-4m2 8v-4m6-16v-4m2 73v-4m0-53v-4m4-8v-4m4-156v-5m0-41v-4m2 279v-4m0-53v-4m0-234v-4m2 299v-4m0-53v-4m8-107v-4m2 74v-4m4 94v-4m0-74v-4m2 90v-4m0-53v-4m2 0v-4m6-4v-4m2-58v-4m0-115v-4m2 164v-4m0-127v-4m0-25v-4m4 41v-4m2-58v-4m0-45v-4m4 90v-4m4-57v-4m4 20v-4m24 205v-4m2 58v-4m0-50v-4m4 70v-4m6-37v-4m2 8v-4m6 70v-4m6-45v-5m10 13v-4m2 0v-4m2 8v-4m4 4v-4m4 53v-4m2-53v-5m2 0v-4m8-12v-4m2-25v-4m0-82v-4m2 90v-4m2-82v-4m2 90v-4m0-45v-4m2-8v-4m2 135v-4m0-53v-5m0-110v-4m2 184v-4m0-115v-4m0-41v-4m2-12v-4m2 172v-4m0-168v-5m4 66v-4m2 123v-4m0-57v-5m0-49v-4m0-53v-4m2 168v-4m0-66v-4m0-98v-5m4 62v-4m0-29v-4m2 103v-4m4-37v-4m0-54v-24m2 53v-4m2 82v-4m2 4v-4m0-74v-4m0-45v-4m6 53v-4m2 98v-4m0-86v-4m0-45v-4m2 53v-4m0-58v-4m4 165v-5m2-147v-4m2 147v-4m0-82v-4m2 119v-4m0-45v-4m2-173v-4m2 160v-4m6-24v-5m2 95v-4m4-144v-4m2 90v-4m2-33v-4m0-61v-4m2 90v-4m0-99v-4m2 86v-4m0-74v-4m2 13v-5m2 74v-4m0-65v-5m4 9v-4m2 69v-4m0-94v-4m2 90v-4m0-78v-4m2 152v-4m0-50v-4m2 8v-4m2 21v-4m0-25v-4m2 74v-4m0-62v-4m0-53v-4m2 176v-4m2-33v-4m0-53v-4m2 32v-4m4 13v-4m2 65v-4m4-49v-4m4 4v-4m2 4v-4m2 53v-4m0-49v-4m4 12v-4m2 4v-4m2 4v-4m2 0v-4m2-4v-4m6 57v-4m0-53v-5m2 13v-4m2 53v-4m0-53v-5m2 42v-5m0-82v-4m10 111v-4m2 4v-4m2 4v-4m0-49v-4m8 12v-4m2 4v-4m16-49v-5m2 5v-5m2-8v-4m2-16v-4m2 115v-5m2-69v-4m2 0v-5m4-20v-4m2 29v-5m6-16v-4m2 82v-4m4-4v-4m0-99v-4m2 41v-4m2 86v-4m0-74v-4m2-8v-4m2 94v-4m0-70v-4m2 4v-4m2 66v-4m4 4v-4m2 4v-4m0-70v-4m2 82v-4m2-111v-4m2 103v-5m4 13v-4m0-66v-4m2 74v-4m6 4v-4m0-58v-4m2-8v-4m2 78v-4m0-58v-4m6-8v-4m2 4v-4m2 41v-4m0-74v-4m4-4v-4m4 49v-4m2-9v-4m2-16v-4m6 86v-4m0-66v-4m4 21v-4m2 24v-4m4 58v-5m0-53v-4m2 66v-4m4-87v-4m2-20v-4m2 90v-4m0-70v-4m2 98v-4m2-61v-4m2 4v-4m4 41v-4m4-21v-4m2 49v-4m2-37v-4m0-82v-4m4 78v-4m2-127v-5m2 197v-4m4-172v-4m4 29v-5m4 144v-4m2-111v-4m2 127v-4m2-57v-4m4 74v-5m2-119v-4m2 119v-4m2-82v-4m4 156v-20m0-132v-4m2 164v-16m0-140v-4m4 185v-4m2-41v-66m2 115v-4m0-66v-82m0-127v-4m2 246v-16m0-160v-5m2 202v-17m2 33v-4m0-8v-17m0-156v-4m2 12v-4m2 181v-8m6 4v-4m0-152v-4m2 8v-4m2 0v-4m2 160v-4m2-136v-4m6 144v-4m2 4v-4m0-127v-5m4-4v-4m2 144v-4m0-119v-4m4 131v-4m2 4v-4m0-131v-5m10 136v-4m0-103v-4m2 111v-4m4 4v-4m0-107v-4m2 119v-8m4-99v-4m2 107v-4m0-103v-4m2 8v-4m4 12v-4m2-28v-4m4 12v-4m2 24v-4m4 103v-4m2-95v-4m2 103v-12m0-74v-4m2 90v-17m0-102v-4m2 33v-5m2 95v-4m0-78v-4m4 90v-4m0-90v-5m4 5v-5m2 99v-4m0-82v-4m4 90v-4m2 4v-4m0-111v-4m2 25v-5m2 9v-4m2 0v-5m4-4v-4m8 107v-4m0-78v-4m4-37v-4m2 37v-4m2 12v-4m2 86v-4m2 4v-4m0-90v-5m2-4v-4m2-24v-4m2 32v-4m2 13v-5m2 99v-4m6 4v-4m12 4v-4m2-90v-5m2 99v-4m2-95v-4m2 103v-4m2 4v-4m2-78v-4m2 4v-4m8 0v-4m2 90v-4m0-78v-4m4 0v-4m2 8v-4m4-4v-4m2-13v-4m6 25v-4m8-41v-4m4 135v-4m2 4v-4m0-90v-5m4 17v-4m6 4v-4m6 4v-4m4 8v-4m4 82v-4m2-90v-5m2 0v-4m2 9v-5m8-12v-4m2 25v-4m2 4v-4m2-13v-4m2 17v-5m2 0v-4m2-69v-9m2 62v-4m2 0v-8m2 41v-4m2 8v-4m2-21v-4m2 21v-5m4 13v-4m2 0v-4m2 4v-4m2 8v-4m2-9v-4m2 17v-4m2 90v-4m0-86v-4m2 8v-4m2-4v-5m2 17v-4m2-17v-4m2 21v-4m2-9v-4m8-4v-4m2 8v-4m2-8v-8m2 8v-4m2 29v-4m2-9v-4m2 21v-4m2-17v-4m2 21v-4m2 94v-4m0-82v-4m2 8v-4m2 4v-4m2 4v-4m2 0v-4m2-21v-4m2 0v-4m2 25v-5m4 0v-4m2 4v-4m2-8v-4m2 29v-4m2 12v-4m4 0v-4m2 4v-4m4 4v-4m2-25v-4m2-29v-4m2 37v-4m2 16v-4m2 0v-4m2 21v-4m2 0v-4m2-9v-4m2 21v-4m2 0v-4m2-37v-4m2 32v-4m2 107v-4m0-123v-4m2 28v-4m4 8v-4m2 4v-4m4 4v-4m4 21v-4m2-17v-4m2 17v-4m2-37v-4m2 45v-4m2 12v-4m2-13v-4m2 17v-4m2 90v-4m0-86v-4m2 12v-4m2 4v-4m2 86v-4m0-95v-4m2 21v-4m2 86v-4m2-103v-4m2 25v-4m2 4v-4m2-29v-4m2 33v-4m2-9v-4m4 13v-5m2 13v-4m2 8v-4m2 0v-4m2-33v-4m2 127v-4m0-107v-4m2 0v-4m4 37v-4m2-8v-5m2 99v-4m0-95v-4m4 13v-4m2 4v-4m2 94v-4m0-119v-4m2 12v-4m2 25v-5m2 99v-4m0-107v-4m2 21v-5m2 0v-4m2-4v-4m2-12v-4m2 8v-4m2 29v-5m2 17v-4m2-8v-5m2 70v-4m2-4v-4m0-70v-4m2 86v-4m0-57v-4m2 69v-4m2 4v-4m2-98v-4m2 8v-4m2 94v-4m0-70v-4m2 12v-4m4 17v-4m4-9v-4m2 66v-4m4 12v-4m0-57v-4m2 94v-37m0-66v-4m4 74v-4m2-90v-4m4 94v-4m2-70v-4m4 115v-33m0-57v-4m2 94v-33m0-57v-4m2 53v-4m2 45v-49m0-74v-4m2 28v-4m2 62v-4m2-99v-4m2 37v-4m2 70v-4m2 12v-4m2 0v-4m6-49v-5m4-12v-4m2 74v-4m2-74v-4m6-4v-4m8 82v-4m0-58v-4m4 66v-4m0-58v-4m2 70v-4m2 0v-4m2 4v-4m2 8v-4m2-54v-4m2 8v-4m6-8v-4m4 66v-4m2-50v-4m2 50v-5m0-61v-4m2 70v-5m0-61v-4m2 4v-4m2 16v-4m8-8v-4m2 16v-4m2-12v-4m2 20v-4m2 66v-4m0-54v-4m2-4v-4m2 66v-4m0-58v-4m4 62v-5m0-61v-4m2 61v-4m2-49v-4m2 12v-4m2 4v-4m4 41v-4m4-37v-4m2 66v-4m2-13v-4m2-53v-4m4-13v-4m2 91v-5m2-98v-4m2 33v-4m2 73v-4m0-65v-4m2 82v-4m2-66v-4m2 74v-4m0-54v-4m2 58v-5m0-57v-4m6 49v-4m0-74v-4m4-37v-4m2 53v-4m2 91v-5m2-12v-4m0-74v-4"/>
<path stroke="#ffbd00" d="m83 354v-5m2 21v-4m0-324v-5m2 25v-4m2 300v-4m8 16v-4m10 4v-4m4 12v-4m2-4v-4m4-8v-4m2 73v-4m6-45v-4m2-8v-4m2-62v-4m2 123v-4m0-70v-4m2-16v-4m2 28v-4m2 25v-4m2-4v-4m8 20v-4m2 4v-4m2 53v-4m0-49v-4m2 8v-4m4 4v-4m4-8v-4m2-66v-4m2 127v-4m0-70v-4m2 82v-4m0-57v-4m2-87v-4m8 111v-4m2-12v-4m2 8v-4m2 4v-4m2 8v-4m2 12v-4m2 53v-4m0-49v-4m2 57v-4m0-49v-4m2-8v-4m4 12v-4m2 49v-4m0-78v-4m2 94v-4m2 8v-4m0-49v-4m6 0v-4m2 0v-4m2 61v-4m4 8v-4m0-49v-4m2 53v-4m2 8v-4m2 4v-4m0-49v-4m4-168v-4m2 168v-4m4-8v-5m2 46v-4m0-124v-8m2 156v-4m0-78v-4m2 33v-4m10 8v-4m4 29v-5m0-86v-4m4-82v-4m2-58v-4m4 37v-4m0-61v-5m2 5v-5m2 13v-4m4 33v-5m0-24v-4m2 8v-4m28 230v-4m2 8v-4m2 57v-4m0-45v-4m2 8v-4m8 16v-4m2 4v-4m2 8v-4m2 9v-5m4 9v-4m4 8v-4m2 4v-4m8 8v-4m4-4v-4m2 4v-4m2 53v-4m4-70v-4m2 53v-4m2 4v-4m4-139v-21m2 140v-54m0-90v-4m2 115v-4m0-66v-4m2 111v-4m0-160v-5m2 87v-4m0-83v-4m8 111v-4m0-41v-4m2 107v-4m0-54v-4m0-103v-4m6 66v-4m2 70v-4m0-66v-4m0-37v-4m4 37v-4m0-21v-4m2 4v-4m2 148v-4m2 12v-41m0-136v-4m2 181v-41m0-127v-4m4 0v-5m2 189v-4m0-172v-4m6 123v-4m2-115v-4m2 180v-4m0-172v-4m2 57v-4m4-62v-4m4 0v-4m2 66v-4m0-41v-4m4 24v-4m0-24v-5m2 169v-41m0-82v-29m2 131v-4m4 33v-4m0-115v-4m0-45v-4m2 180v-4m2-123v-4m4 127v-4m2-45v-4m2-54v-4m2-12v-49m4 74v-5m2-78v-4m2 21v-4m2-17v-4m2 181v-37m2-62v-4m0-49v-4m2 127v-53m0-41v-4m0-41v-5m4 177v-4m0-62v-4m2 78v-4m2-41v-4m2 49v-4m0-49v-4m4 0v-4m8 16v-4m12 49v-4m0-45v-4m2-4v-4m10-9v-4m2 13v-5m4 54v-4m0-58v-4m2 21v-4m2 4v-4m4 12v-4m2 4v-4m2 0v-4m6 53v-4m0-45v-4m2 0v-4m2-25v-4m2 24v-4m2 13v-4m2-50v-4m2 8v-4m14 91v-4m2-91v-4m2 86v-4m4-70v-4m2-12v-4m4-12v-5m2 111v-4m8-8v-4m6-78v-4m2 82v-4m0-70v-4m2 4v-4m4 8v-4m2 49v-4m2-57v-4m2 86v-4m4-62v-4m2 57v-4m0-65v-4m6 78v-5m4 5v-5m0-57v-4m2 70v-4m0-54v-4m4 53v-4m4 4v-4m0-53v-4m2 29v-4m2-37v-5m2 74v-4m2-65v-5m2 54v-4m2 24v-4m0-53v-4m2 0v-4m10 61v-4m0-57v-4m4 28v-4m4 33v-4m4-70v-4m2 37v-4m2 57v-4m2 4v-4m2-70v-4m2-20v-4m2 41v-4m4 0v-4m4-5v-4m2 78v-4m4-119v-4m2 136v-5m0-94v-4m4 90v-4m0-180v-5m2 185v-4m0-131v-4m2 151v-4m0-49v-4m2-16v-5m2 33v-4m2-12v-4m4 53v-4m0-57v-5m2-12v-4m2-20v-5m2 58v-4m4 74v-4m0-50v-4m2 91v-58m2 70v-66m2 111v-12m0-185v-4m2-12v-5m2 17v-4m2 53v-4m2 103v-62m2 82v-12m0-140v-4m2 160v-12m2 37v-12m4 12v-8m0-169v-4m2 181v-12m0-144v-4m2 156v-13m2 13v-4m4-132v-4m2 144v-4m2 4v-4m2 4v-4m2-148v-4m4 33v-4m6 127v-4m2-156v-4m4 49v-4m2 12v-4m4 111v-4m6-95v-4m6 103v-4m0-91v-4m2 95v-25m6 29v-4m0-99v-4m4-16v-4m2 32v-4m2 103v-8m2 4v-4m2 4v-4m0-82v-4m2 4v-4m2 90v-17m2 5v-5m8-61v-4m4-4v-4m6 12v-4m2 0v-4m16 8v-4m2-4v-4m4 12v-4m8 0v-4m8 90v-4m4-82v-4m2 8v-4m4-8v-5m2 17v-4m2 8v-4m2-4v-4m4 0v-4m6 4v-4m6 8v-4m6-4v-5m2 13v-4m2-21v-4m12 111v-21m0-69v-5m8 17v-4m4-4v-4m4 8v-4m4-9v-4m2 17v-4m10 90v-4m0-78v-4m4 86v-4m0-74v-4m2 82v-4m0-95v-4m8 103v-4m2-74v-4m8 0v-4m2-29v-4m2 119v-4m0-90v-5m2-8v-4m2 25v-4m2 4v-4m2-13v-4m4 107v-4m0-90v-5m2 99v-4m0-164v-4m2 57v-4m2 0v-4m2 37v-4m2 90v-4m2-103v-4m2 21v-4m2 4v-4m2 12v-4m2 0v-4m2 4v-4m2 8v-4m2-8v-5m2 99v-4m0-78v-4m2 0v-4m2 8v-4m2-4v-4m2 16v-4m2-17v-4m2 21v-4m2-8v-5m2 17v-4m2 8v-4m2 0v-4m2-17v-4m2 107v-4m0-95v-4m2-8v-4m2 4v-4m2 29v-4m2-9v-4m2 103v-4m0-78v-4m2 86v-4m0-99v-4m2 21v-4m4 12v-4m2 4v-4m2 4v-4m2 0v-4m2-21v-4m2 111v-4m0-107v-4m2 25v-4m2 12v-4m2-8v-5m2 99v-4m0-90v-5m2-8v-4m2 29v-4m4 4v-4m4 8v-4m2 4v-4m4-25v-4m2-24v-9m2 37v-4m2 17v-5m2 0v-4m2 21v-4m2 86v-4m0-82v-4m2-9v-4m2 21v-4m2 0v-4m2-37v-4m2 32v-4m2-20v-4m2 28v-4m2 17v-4m2-4v-5m2 5v-5m2 17v-4m2 86v-4m0-90v-5m2 13v-4m4-9v-4m2 17v-4m2-37v-4m4 53v-4m4 0v-4m2 0v-4m4 12v-4m2-12v-5m4 21v-4m2 82v-4m0-99v-4m2 25v-4m2 4v-4m2-29v-4m2 33v-4m2-9v-4m2 21v-4m2-4v-4m2 12v-4m2 86v-4m0-74v-4m4-37v-4m2 16v-4m2 111v-4m0-107v-4m2 115v-4m0-82v-4m2 12v-4m2-8v-4m2 0v-5m2 5v-5m2 13v-4m2 4v-4m2-29v-4m2 123v-4m0-107v-4m2 25v-4m2-13v-4m2 21v-4m4 94v-4m0-99v-4m2-8v-8m2 8v-4m2 86v-4m2 8v-4m2 0v-4m0-53v-4m2 12v-4m2-21v-4m4 29v-4m2 8v-4m2 41v-4m0-78v-4m2 86v-4m4 12v-4m0-57v-5m2 66v-4m0-62v-4m2 74v-4m2-49v-4m2 53v-4m2-78v-4m2 86v-4m0-57v-5m6 66v-4m0-53v-4m2 0v-5m2 54v-4m0-74v-4m2 90v-4m0-62v-4m2 0v-4m4 17v-5m2 66v-4m2 4v-4m2-74v-4m4 78v-4m2-66v-4m2 54v-5m0-78v-4m2 99v-4m2-66v-4m2 25v-5m2-4v-4m2 13v-5m2 54v-4m0-58v-4m4 21v-4m4 0v-5m2 46v-4m2-50v-4m2 66v-4m0-50v-4m2 46v-5m0-61v-4m2 24v-4m2 4v-4m2 13v-5m4 54v-4m2-58v-4m2 17v-5m2-4v-4m2 4v-4m2 13v-5m2 50v-4m4 4v-4m0-46v-4m2 4v-4m2 50v-4m2 0v-5m0-53v-4m2 16v-4m2 58v-4m4-66v-4m4 70v-4m2 4v-4m0-54v-4m2 62v-4m0-54v-4m2-16v-4m4 82v-4m2-5v-4m2 13v-4m8 0v-5m0-53v-4m4-16v-5m2 83v-5m2 9v-4m2 4v-4m2-66v-4m2-25v-4m2 90v-4m0-61v-4m6-9v-4m2 86v-4m2-4v-4m0-66v-4m2 74v-4m0-66v-4m2 25v-4m2 45v-4m4-45v-4m2 20v-4m8 49v-4m0-61v-4m2 73v-4m0-57v-4m4 65v-4m0-57v-4m2 33v-5m0-90v-4m2 123v-4m0-66v-4m2 25v-4m2-25v-4"/>
<path stroke="#ff9700" d="m87 427v-4m0-45v-4m0-316v-4m4 320v-4m2-29v-4m2 21v-4m4 73v-4m0-45v-4m2 8v-4m2-4v-4m2 4v-4m10 45v-4m0-74v-4m4 41v-4m4 57v-4m0-45v-4m6-70v-4m2 49v-4m2 66v-4m2 12v-4m4 8v-4m2 8v-4m2-53v-4m2 8v-4m14 57v-4m4-20v-4m0-99v-4m6 99v-4m0-115v-5m2 144v-4m0-74v-4m2 90v-4m0-53v-4m2 8v-4m4 57v-4m14 4v-4m0-53v-4m2 65v-4m0-45v-4m4-37v-4m2 29v-4m4 69v-4m0-45v-4m2 8v-4m6-16v-4m2 16v-4m4-8v-4m2 16v-4m2-177v-4m2 185v-4m0-160v-4m0-70v-4m2 242v-4m0-226v-4m2 29v-8m2 266v-4m0-45v-4m4-103v-4m4 156v-4m2-74v-4m2 33v-4m2 0v-4m2 61v-4m0-45v-4m4-12v-4m4-17v-4m2-168v-4m4-17v-4m0-37v-4m6 86v-4m2-8v-4m28 176v-4m2 4v-4m8 74v-4m2 8v-4m0-45v-4m2 57v-4m0-45v-4m2 58v-5m0-49v-4m2 62v-4m8-37v-4m4 8v-4m8 4v-4m2 8v-4m4 4v-4m6-4v-4m2 0v-5m2 41v-4m2-49v-4m2-4v-4m4 41v-4m0-54v-4m2-65v-25m2 8v-4m2 140v-54m2 50v-5m2-90v-4m0-49v-4m2 20v-4m2 41v-4m0-49v-4m2 0v-4m2 156v-54m0-49v-4m2-41v-4m4 102v-4m0-98v-4m2 168v-45m2-95v-4m4 115v-4m0-86v-4m2 41v-4m6 98v-4m4-37v-4m0-82v-4m2-45v-4m2 180v-33m2 33v-4m0-176v-5m2 156v-4m2 33v-24m0-95v-4m2-49v-4m2 8v-4m4-54v-4m2 91v-5m4 21v-4m0-45v-4m2 78v-4m0-54v-24m4 180v-4m2-119v-37m2 90v-4m2 29v-4m0-123v-4m2 90v-4m0-99v-4m2 8v-4m2 144v-4m0-62v-4m2 111v-4m0-168v-4m2 8v-4m4 49v-4m0-74v-4m2 111v-4m0-99v-4m2 189v-41m4 41v-4m0-66v-4m2-78v-4m2 127v-4m4-12v-5m4 13v-4m6 12v-4m4 4v-4m2 4v-4m2 0v-4m6 12v-4m4 45v-4m0-41v-4m2 45v-4m0-45v-4m4 53v-4m2-49v-4m2 12v-4m2-4v-4m2-46v-4m6 62v-4m8 0v-4m6 53v-4m2-37v-4m8-33v-4m6-21v-4m4 13v-4m4-9v-4m2 82v-4m0-94v-4m2 20v-4m2 25v-4m2 0v-4m2 73v-4m2-90v-4m2 103v-5m2 0v-4m2-4v-4m2 4v-4m0-78v-4m4 16v-4m2 54v-4m0-91v-4m2 115v-4m0-70v-4m2 8v-4m2-8v-4m2 20v-4m2 70v-4m0-62v-4m8-8v-4m2 8v-4m2-37v-4m4 41v-4m2 4v-4m6 70v-4m0-54v-4m4-8v-4m2 16v-4m6 49v-4m0-53v-4m4 33v-4m0-66v-4m4-4v-4m2 98v-4m2-45v-4m4-29v-4m4 90v-4m2-70v-4m2 86v-4m0-49v-4m2 49v-4m0-53v-4m2 74v-5m4-49v-4m4 8v-4m2-29v-4m2 50v-4m0-66v-4m2 82v-4m4-33v-4m2 4v-4m2 49v-4m2-78v-4m2 94v-4m2 12v-4m4-49v-4m0-74v-4m2 119v-4m4 16v-4m0-180v-4m6 20v-4m10 53v-4m4 119v-4m10 17v-5m0-86v-4m4 74v-4m0-66v-4m2 78v-4m0-66v-4m2 173v-17m2 21v-17m2-90v-4m2-156v-4m2 70v-4m2 168v-54m2 58v-53m2 78v-13m0-143v-5m2 169v-13m0-151v-5m2 165v-17m2 13v-17m2 12v-16m0-119v-4m2 148v-17m2 25v-4m0-148v-4m4 20v-4m2-16v-4m2 20v-4m6 144v-4m2 4v-4m0-132v-4m2 136v-45m2-74v-4m4 127v-4m0-123v-4m2 135v-8m2 4v-4m2 4v-4m0-103v-4m2 4v-4m2 8v-4m2 8v-4m6 0v-4m4 78v-4m2-70v-4m2 107v-4m8 4v-4m2-111v-4m2 24v-4m2 95v-17m2 17v-17m2 4v-4m0-74v-4m2 103v-4m2-17v-4m0-94v-4m2 119v-4m2-74v-4m2 86v-4m2-86v-4m2 94v-4m10-107v-4m2 25v-4m2 8v-4m2 0v-4m2 12v-4m2 86v-4m0-95v-4m2 17v-4m10-29v-4m2 37v-4m2 12v-4m4-8v-4m2-5v-4m2-24v-4m2 32v-4m2 13v-4m6 0v-5m10 17v-4m4 4v-4m2-4v-4m4 0v-5m2 17v-4m6 8v-4m12 4v-4m2 82v-4m0-78v-4m2 8v-4m4-4v-4m2 86v-25m0-74v-4m2 103v-21m0-61v-4m2 86v-12m6-62v-4m2 82v-4m2-123v-4m2 131v-8m2 4v-8m2 8v-12m0-74v-4m2 90v-8m0-66v-4m2 4v-4m2 4v-4m4 4v-4m8 4v-4m2 82v-4m2-78v-4m4-4v-4m2 0v-5m2 9v-4m4 94v-4m0-107v-4m2 25v-4m2-9v-4m2 25v-4m4-13v-4m2 13v-4m2 4v-4m2-66v-8m2 57v-4m2 0v-4m2 37v-4m2 4v-4m2-17v-4m2 21v-4m2 4v-4m2 12v-4m2 0v-4m2 4v-4m2 8v-4m2 82v-4m0-86v-4m4 12v-4m4 0v-4m2 90v-4m6-86v-4m2 16v-4m2 8v-4m2 0v-4m2-17v-4m4-4v-4m2 111v-4m0-103v-4m4 111v-4m0-90v-5m2 21v-4m2-17v-4m2 103v-4m2-78v-4m2 12v-4m4 4v-4m4-25v-4m2 0v-4m2 111v-4m0-82v-4m2 12v-4m2 82v-4m0-86v-4m2 4v-4m2-9v-4m4 33v-4m2 78v-4m0-74v-4m2 4v-4m2 8v-4m2 78v-4m0-70v-4m2 0v-4m2-21v-4m2-24v-4m2 32v-4m2 17v-4m2 0v-5m2 21v-4m2 0v-4m2-8v-5m2 21v-4m2 82v-4m0-78v-4m2-33v-8m2 33v-5m2-20v-4m2 29v-5m2 17v-4m2-4v-4m2 94v-4m0-86v-4m2 16v-4m2-8v-4m2 12v-4m2 8v-4m2-12v-5m2 17v-4m2-37v-4m2 41v-4m2 16v-4m2-16v-5m4 17v-4m2 86v-4m0-74v-4m2 82v-4m0-70v-4m2-12v-4m2 16v-4m2 8v-4m2-21v-4m2 25v-4m2 82v-4m0-74v-4m2-25v-8m2 115v-4m2-90v-5m2 21v-4m2-4v-4m2 12v-4m2 8v-4m2-4v-4m2-29v-4m2 16v-4m2 0v-4m2 29v-4m2 12v-4m2-8v-4m2 0v-4m2 4v-4m4 12v-4m2-29v-4m2 12v-4m2 111v-4m0-82v-4m2-13v-4m2 21v-4m2-4v-5m2 0v-4m2-8v-4m2 4v-4m2 25v-4m2 16v-4m8-4v-4m2 61v-4m6-86v-4m2 86v-4m0-62v-4m6 25v-4m2 57v-4m2-61v-5m2 58v-4m0-66v-4m2 25v-4m2 61v-4m0-49v-4m2 53v-4m0-58v-4m10 62v-4m2 45v-45m0-62v-4m2 74v-4m2-45v-4m2 4v-4m2 45v-4m2 0v-4m0-66v-4m2 29v-5m2-4v-4m2-28v-5m2 33v-4m2 62v-4m0-58v-4m2 74v-4m2 0v-4m2 8v-4m4 4v-4m0-45v-4m2 53v-4m2-4v-4m0-54v-4m4-4v-4m2 70v-4m6 4v-4m2 4v-4m2 8v-4m2-4v-4m0-50v-4m2 17v-5m2 46v-4m10-42v-4m2 54v-4m0-41v-5m4 50v-4m2-54v-4m6 12v-4m2 41v-4m0-53v-4m4 61v-4m0-53v-4m2 16v-4m6 45v-4m2 8v-4m0-53v-4m2 16v-4m2-12v-4m2 20v-4m2 8v-4m2 50v-5m0-49v-4m2 58v-5m0-49v-4m4 53v-4m0-53v-4m4 8v-4m2 12v-4m2 4v-4m2 49v-4m2-12v-4m0-66v-4m4 95v-5m0-49v-4m2 58v-5m0-49v-4m2 41v-4m2-45v-4m6 65v-4m2-90v-4m2 94v-4m0-57v-4m2 65v-4m2 13v-5m2 0v-4m0-53v-4m2 16v-4m2-4v-4m4 0v-4m2 45v-4m0-66v-4m4 53v-4m0-82v-4m4 127v-4"/>
<path stroke="#ff7100" d="m83 419v-4m0-57v-4m2 20v-4m4-8v-4m4 57v-4m0-66v-4m4 33v-4m10 4v-4m2 4v-4m2 57v-4m2-49v-4m2-29v-4m2 25v-4m4 24v-4m4 49v-4m2 0v-4m0-49v-4m2 37v-4m0-91v-4m4 25v-4m2 29v-5m2 25v-4m2-4v-4m2 16v-4m6 53v-4m0-41v-4m2 49v-4m2-45v-4m2 53v-4m2-49v-4m2 57v-4m2-45v-4m2 49v-4m0-49v-4m2-62v-4m2 49v-4m2 21v-4m2-82v-4m2 65v-4m6 90v-4m2-57v-4m2 61v-4m0-49v-4m2 4v-4m2 8v-4m2 57v-4m2-45v-4m2 4v-4m6 0v-4m6 8v-4m6 0v-4m2 53v-4m0-49v-4m6 12v-4m6 4v-4m0-217v-5m4 46v-5m2 230v-4m0-49v-4m4-8v-4m2-78v-5m2 66v-4m2 33v-4m14-58v-4m2-98v-4m0-17v-4m10 8v-4m4-49v-4m4 12v-4m28 226v-4m4 12v-4m10 20v-4m2 4v-4m2 9v-5m2 9v-4m2 57v-4m2-45v-4m4 8v-4m2 4v-4m2 4v-4m10 0v-4m2 4v-4m6-21v-4m6 49v-4m0-41v-4m6 45v-4m2-123v-4m2 37v-4m0-41v-5m0-36v-5m2 128v-4m2 24v-4m4-33v-4m2-102v-5m2 62v-4m2 70v-4m0-58v-4m0-45v-4m4 8v-4m2 41v-25m2 148v-4m0-45v-4m0-82v-21m2 4v-4m4 29v-4m0-45v-5m2 50v-4m2 94v-4m0-82v-4m0-37v-4m2 45v-4m0-41v-4m2 12v-4m2 41v-4m2-33v-4m2 45v-4m2 131v-29m0-94v-4m0-41v-4m2 4v-4m6 123v-4m0-74v-4m0-49v-5m4 115v-4m0-111v-4m12 156v-4m2-94v-45m4 156v-4m2-91v-4m2-57v-4m10 53v-4m2 16v-4m0-61v-5m2 74v-4m2-8v-4m0-58v-4m2 70v-4m4-53v-4m2 160v-41m2-9v-4m4 33v-4m2-4v-4m4 0v-4m8 16v-4m2 4v-4m4 4v-4m6 0v-4m2-4v-4m8 28v-4m0-69v-5m2 41v-4m2 13v-4m4-9v-4m2 21v-4m2 4v-4m4 12v-4m2 4v-4m2 0v-4m4 8v-4m2 0v-4m4 33v-4m2-37v-5m2 13v-4m2 37v-4m2-78v-5m2 91v-4m2-78v-4m2 78v-5m6 9v-4m8-74v-4m4-17v-4m4 74v-4m0-82v-4m4-9v-4m4 111v-4m2-4v-4m2 12v-4m4-8v-4m0-66v-4m2 8v-4m2 70v-4m0-62v-4m2 70v-4m2 8v-4m4-13v-4m0-61v-4m4 78v-4m2 4v-4m0-54v-4m2-12v-4m4 24v-4m4 58v-4m2-58v-4m2 12v-4m4-8v-4m6-41v-4m2 37v-4m4 78v-5m0-69v-4m2 45v-4m6 12v-4m6-21v-4m2-16v-4m4 74v-5m2 5v-5m6-86v-4m2 86v-4m0-45v-4m6-16v-5m2 46v-4m2-25v-4m2 16v-4m2 41v-4m0-49v-4m2-58v-4m2 58v-5m2 21v-4m4 57v-4m0-115v-4m2 37v-4m2 94v-4m2-184v-4m2 49v-4m4 131v-4m0-49v-4m2 24v-4m0-66v-4m2 115v-4m2-49v-4m2-4v-4m2-13v-4m2-20v-4m2 106v-4m4-29v-4m6 115v-16m2 20v-16m0-168v-4m2 16v-4m2 45v-4m0-111v-4m2 160v-4m2 20v-4m2 9v-5m0-82v-4m2 156v-16m2 24v-16m2 8v-16m0-132v-4m2 148v-12m0-111v-4m2 123v-16m2 24v-12m0-111v-4m4 16v-4m8-8v-4m2 25v-4m6 82v-4m0-66v-4m4-33v-4m4 49v-4m6 111v-37m2 37v-37m4 41v-4m2-103v-4m4 21v-5m2-4v-4m2 99v-29m2-66v-4m4 13v-5m2 95v-4m0-115v-4m2 119v-21m2 21v-29m2 29v-21m8-57v-4m4 82v-4m0-78v-4m8 8v-4m2 0v-4m2 12v-4m2 8v-4m2 0v-4m8 86v-4m8-74v-4m2-4v-4m2 12v-4m2 4v-4m2-33v-4m12-4v-4m8 49v-4m6 4v-4m14-4v-4m2 90v-4m4-78v-4m2 8v-4m2 78v-12m4 12v-12m0-66v-4m2-21v-4m2 29v-4m2 8v-4m8-8v-4m2 90v-21m8-57v-4m2 86v-4m0-82v-4m6-33v-4m2 119v-4m0-82v-5m2 87v-4m0-66v-4m6 82v-8m4-66v-4m6-12v-5m2 21v-4m4 8v-4m6 78v-4m6 4v-4m0-74v-4m2-25v-4m2 25v-4m2-9v-4m2 25v-4m2 0v-4m2-8v-5m2 13v-4m2 4v-4m2-66v-4m2 160v-4m0-103v-4m2 0v-4m2 37v-4m2 4v-4m2-17v-4m2 21v-4m2 4v-4m6 86v-4m2-70v-4m2-8v-4m2 12v-4m2 4v-4m2 4v-4m2 82v-4m0-78v-4m2 12v-4m2-16v-5m2 21v-4m4 8v-4m2 8v-4m2 0v-4m2-16v-5m2 5v-5m2-4v-4m2 4v-4m2 25v-4m2-4v-4m4 0v-5m2 17v-4m2 8v-4m2 82v-4m2-70v-4m4 0v-4m2-17v-4m2 0v-4m2 25v-4m2 12v-4m2-8v-4m2 4v-4m2 90v-4m0-95v-4m2 103v-4m0-74v-4m2 12v-4m2 0v-4m2 78v-4m0-70v-4m2 78v-4m2-66v-4m2 0v-4m2 78v-4m0-95v-4m2-24v-4m2 32v-4m2 103v-4m0-82v-4m2 0v-4m4 16v-4m2-8v-4m2 20v-4m2 0v-4m2-33v-4m2 29v-4m2-17v-8m2 29v-4m2 16v-4m2-4v-4m2 4v-4m2 90v-4m0-70v-4m2-8v-4m2 12v-4m2 8v-4m2 78v-4m0-86v-4m2 16v-4m2-33v-8m2 41v-4m4-4v-4m2 94v-4m0-74v-4m2 4v-4m2 8v-4m4-8v-4m2 16v-4m2 8v-4m2-20v-5m2 99v-4m4-99v-4m2 25v-4m2-4v-4m2 20v-4m2-4v-4m6 8v-4m2-29v-4m2 16v-4m2 0v-4m2 29v-4m4 0v-4m2 0v-4m2 4v-4m2 8v-4m2 8v-4m2-29v-4m2 12v-4m4 8v-4m2 21v-4m2-4v-4m2 0v-5m2 99v-4m0-103v-4m2 4v-4m2 25v-4m4 4v-4m2 12v-4m2 41v-4m0-58v-4m2 74v-4m2-41v-4m2 53v-4m0-41v-4m2 33v-4m0-70v-4m2 78v-4m0-66v-4m2 20v-4m2 13v-4m2 57v-4m0-53v-5m4 21v-4m2-8v-4m8 0v-5m2 13v-4m2 53v-4m0-49v-4m2 45v-4m0-66v-4m2 82v-4m0-54v-4m2 0v-4m2 4v-4m2 17v-4m4 57v-4m2-66v-4m2-4v-4m2 78v-4m2 0v-4m2-13v-4m6-24v-4m2-5v-4m2 13v-4m2 45v-4m0-50v-4m4 21v-4m2-13v-4m2 62v-4m0-41v-4m2-17v-4m2 12v-4m2 13v-5m2 37v-4m0-53v-4m2 24v-4m2 4v-4m2 13v-4m2-9v-4m4 4v-4m2 58v-4m2 0v-4m0-42v-4m2 50v-4m0-42v-4m2 54v-4m0-37v-4m6 0v-5m2 5v-5m2 42v-5m2-49v-4m2 62v-4m0-42v-4m6 41v-4m0-49v-4m6 62v-5m0-45v-4m2 54v-5m0-45v-4m2-16v-4m6 65v-4m4 17v-4m6-54v-4m2 0v-4m2 49v-4m0-57v-4m2 73v-4m2 9v-5m4-57v-4m4-4v-4m6-9v-4m2 78v-4m0-49v-4m2 49v-4m0-57v-5m2 66v-4m0-57v-5m2 25v-4m2 37v-4m0-66v-4m4 33v-4m2 20v-4m4 54v-5m2 0v-4m2-4v-4m0-53v-4m4-13v-4m2 82v-4m0-49v-4m2-58v-4m2 111v-4m0-57v-5m2 25v-4m2 41v-4m0-62v-4"/>
<path stroke="#ff4c00" d="m87 382v-4m0-324v-4m2 16v-8m2 320v-4m4 45v-4m0-53v-4m4 24v-4m2 49v-4m2-45v-4m2 4v-4m6 8v-4m6-12v-4m2 16v-4m2 53v-4m2-41v-4m2 4v-4m4-65v-5m2 46v-5m2-16v-4m6 41v-4m4 57v-4m0-45v-4m2 8v-4m4 8v-4m4 4v-4m4 4v-4m6-70v-4m2 50v-5m4-65v-4m4 90v-4m2 57v-4m0-45v-4m2 12v-4m6 45v-4m4-37v-4m6-8v-4m2 16v-4m4-37v-4m2 29v-4m4 20v-4m2 49v-4m6-57v-4m2 16v-4m4-8v-4m2 16v-4m4 4v-4m0-168v-4m6 180v-4m2 41v-4m0-53v-4m2 33v-5m0-106v-4m2 65v-4m4 78v-4m0-62v-4m4 78v-4m0-45v-4m2 12v-4m2-8v-4m2 49v-4m0-45v-4m2-54v-4m2 99v-4m0-54v-4m2-131v-4m2 4v-4m0-49v-5m4 29v-4m0-53v-4m2 4v-4m2 12v-4m4 24v-4m26 247v-4m0-37v-5m2 5v-5m4 17v-4m4 12v-4m2 8v-4m4 8v-4m10 21v-4m4 8v-4m8 4v-4m2 8v-4m2 4v-4m2 4v-4m6-4v-4m2 0v-4m4-13v-4m10-8v-4m0-74v-29m2-20v-4m4 172v-4m0-156v-4m2 53v-4m0-29v-4m2-12v-4m2 160v-4m0-111v-4m0-41v-4m4 8v-4m4 160v-4m0-111v-4m0-41v-4m8 41v-21m2 66v-4m4-78v-4m8 4v-4m2 49v-4m2 82v-4m0-123v-4m6 12v-4m2 143v-4m0-90v-4m0-37v-4m4-54v-4m4 58v-4m2 4v-4m2 78v-4m8 32v-4m2-45v-4m2-66v-4m2 9v-5m4 136v-4m0-62v-4m2 4v-4m0-49v-4m4-29v-4m2 111v-4m0-99v-4m4 37v-4m2 86v-4m2-37v-45m2 53v-4m0-41v-4m2 25v-5m6 95v-4m6 12v-4m2 41v-4m2 8v-4m0-37v-4m2 45v-4m0-37v-4m4 45v-4m6 4v-4m2-37v-4m2-4v-4m6 0v-4m2 12v-4m2-4v-4m2-41v-4m2 90v-4m2 8v-4m2-33v-4m22 41v-4m0-41v-4m2-21v-4m2 70v-4m2 8v-4m2-90v-5m4 13v-4m2 78v-4m2-83v-4m2-16v-4m2 102v-4m0-78v-4m6 4v-4m2 78v-4m0-78v-4m4 21v-5m4 66v-4m0-70v-4m4 82v-4m0-61v-5m2 46v-5m2-45v-4m2 8v-4m2-8v-4m4 21v-5m4 54v-4m4-58v-4m2 8v-4m2 37v-4m0-70v-4m4 99v-4m0-54v-4m2 4v-4m4 49v-4m2-33v-4m2 54v-4m2-5v-4m0-49v-4m4 57v-4m2 9v-5m2-53v-4m2 53v-4m2-86v-4m2 94v-4m0-45v-4m2 21v-5m4 33v-4m0-45v-4m4-29v-4m2 86v-4m0-45v-4m2 0v-4m2-13v-4m2 33v-4m2-8v-4m4 53v-4m2 16v-4m0-41v-4m2 8v-4m2 4v-4m2 25v-4m0-49v-5m2 42v-5m0-57v-4m6 94v-4m0-45v-4m2 53v-4m0-45v-4m4-33v-4m8 41v-4m2 41v-4m4-160v-4m4 188v-4m2-164v-4m2 160v-4m0-168v-4m2 172v-4m2 16v-4m0-41v-4m6-4v-4m4 45v-4m2 20v-4m4-53v-4m2-21v-4m2 91v-5m2-20v-4m0-58v-4m2 70v-4m0-58v-4m2 136v-82m0-66v-4m2 156v-16m2-62v-4m4-82v-4m2 28v-4m4 140v-49m2 57v-12m0-119v-4m2 127v-54m2 54v-45m2 37v-33m0-66v-4m2 115v-45m2-66v-4m4 148v-66m2-82v-4m2 20v-4m4 136v-58m2 58v-54m0-61v-4m2 119v-58m4 58v-49m0-66v-4m4 0v-4m4 24v-4m2 4v-4m2 4v-4m6 12v-4m4 0v-4m2 99v-29m2 0v-4m2 4v-4m0-62v-4m4 4v-4m4 99v-33m2 12v-4m0-61v-5m2-16v-4m2 25v-5m2 13v-4m2 4v-4m2 65v-4m0-65v-5m2 78v-4m2 0v-4m0-86v-4m6 41v-4m2-4v-4m12-17v-4m4 29v-4m4 8v-4m2-12v-5m2 17v-4m2 86v-4m2 0v-12m2 12v-12m2 16v-4m8-78v-4m2 0v-4m2 90v-4m0-90v-5m2 99v-4m2 0v-17m0-73v-5m2 99v-4m0-82v-4m2 8v-4m2 82v-17m2 17v-17m0-69v-4m2 90v-17m0-69v-4m4 94v-4m0-70v-4m2 74v-17m0-61v-4m2 8v-4m2-4v-4m2 12v-4m2 82v-4m2 0v-17m2 17v-17m0-69v-4m2 90v-12m0-62v-4m2 78v-12m2 12v-12m4 12v-12m0-74v-4m4 94v-21m6-53v-4m6 53v-4m2 29v-4m2-25v-4m0-66v-4m2 21v-4m2 8v-4m6 8v-4m2-4v-4m8 0v-4m2 90v-4m0-8v-4m2 4v-4m2 16v-4m6-70v-4m4 78v-4m2-70v-4m4 0v-4m2 8v-4m2-8v-4m2 0v-4m2 8v-4m6 8v-4m2-8v-5m2 99v-4m0-70v-4m2 0v-4m2-8v-4m2 94v-4m0-78v-4m2 4v-4m2-62v-8m2 53v-4m2 107v-4m0-103v-4m4 37v-4m2-16v-5m2 99v-4m0-74v-4m2 4v-4m2 82v-4m0-70v-4m2 78v-4m0-74v-4m2 4v-4m4 0v-4m2 12v-4m4 4v-4m2 0v-4m2 12v-4m2-16v-4m2 20v-4m2-8v-4m4 90v-4m2-66v-4m2-16v-4m2 4v-4m2 94v-4m0-95v-4m2 4v-4m2 103v-4m0-74v-4m2-4v-4m2 16v-4m2-12v-4m2 16v-4m2 8v-4m2 8v-4m2 4v-4m2 4v-4m2 0v-4m2 78v-4m0-90v-5m2 5v-9m2 25v-4m2 12v-4m2-8v-4m4-8v-5m2 25v-4m6 8v-4m2 4v-4m4 4v-4m2-20v-5m2-20v-8m2 33v-5m2 17v-4m2 86v-4m0-82v-4m2 16v-4m4-8v-4m6 90v-4m0-107v-4m2 115v-4m0-82v-4m2-17v-4m2 25v-4m2 16v-4m2 78v-4m0-78v-4m2 4v-4m4 4v-4m2 12v-4m2 8v-4m2-12v-4m4-21v-4m2 37v-4m2 82v-4m0-66v-4m2-12v-4m2 16v-4m2 4v-4m2 8v-4m2 4v-4m2-8v-4m2 16v-4m4-16v-4m2 20v-4m2 4v-4m2-21v-4m2 25v-4m2-4v-4m4 12v-4m2 8v-4m2 8v-4m2 74v-4m0-70v-4m2 78v-4m0-103v-4m2 17v-5m2 5v-9m2 29v-4m2 78v-4m0-66v-4m2-4v-4m2 0v-4m2 4v-4m2 8v-4m2 8v-4m2-29v-4m2 12v-4m2 21v-4m2-8v-5m2 99v-4m0-74v-4m2 82v-4m0-82v-4m2 0v-4m2-9v-4m2 4v-4m2 25v-4m2 12v-4m2 41v-4m2 8v-4m2-62v-4m2 21v-4m6 37v-4m0-62v-4m4 78v-4m2 8v-4m2-49v-4m2 61v-4m0-41v-4m2 49v-4m2 0v-4m2-4v-4m0-58v-4m2 74v-4m0-45v-4m2 8v-4m2 45v-4m2 8v-4m4-74v-4m4 74v-4m0-50v-4m2 58v-4m4 12v-4m0-41v-4m2 4v-4m2-17v-4m2 54v-4m2-33v-4m2-5v-4m2-28v-4m2 86v-4m0-50v-4m2 54v-4m0-50v-4m6 66v-4m2-50v-4m2 17v-4m4 37v-4m4 0v-5m2 9v-4m2 8v-4m2-62v-4m2 66v-4m2 4v-4m2 8v-4m4 4v-4m0-37v-4m4 4v-4m8 41v-4m0-37v-5m4 46v-4m4-46v-4m2 45v-4m4 13v-4m2-58v-4m4 53v-4m0-45v-4m2 62v-5m0-41v-4m6 37v-4m0-49v-4m2 12v-4m2 62v-5m0-41v-4m2-12v-4m2 66v-5m0-41v-4m2 8v-4m2-4v-4m2 4v-4m2 49v-4m4-61v-4m2 20v-4m2 12v-4m2 50v-5m0-41v-4m2 41v-4m0-45v-4m2 37v-4m0-58v-4m2 78v-4m2 12v-4m0-41v-4m2 4v-4m2 33v-4m0-53v-5m4 9v-4m8 65v-4m0-49v-4m2 57v-4m4 8v-4m0-45v-4m4 8v-4m2-8v-4m2 61v-4m0-45v-4m6 16v-4m6-33v-4"/>
<path stroke="#ff2600" d="m83 362v-4m2 65v-4m0-41v-4m2-324v-4m2 373v-4m0-49v-4m0-304v-8m4 299v-4m2 21v-4m2 61v-4m0-41v-4m4 12v-4m6-4v-4m2 4v-4m4 49v-4m0-41v-4m2-29v-4m2 78v-4m4-29v-4m6-8v-4m2-53v-4m2 45v-4m2-17v-4m2 25v-4m2 24v-4m4 8v-4m6 8v-4m8-4v-4m4 8v-4m2-4v-4m2 29v-4m0-82v-5m2 107v-4m2-41v-4m2 25v-5m0-98v-4m2 61v-4m8 29v-4m2 8v-4m2 4v-4m2 53v-4m4-37v-4m8 0v-4m2 37v-4m0-62v-4m8 45v-4m2 41v-4m0-41v-4m2 0v-4m6 12v-4m6 4v-4m0-189v-4m2-45v-4m2 242v-4m0-226v-4m2 230v-4m6-86v-4m2 131v-4m2-37v-4m2-12v-5m2 29v-4m6 45v-4m4-29v-4m0-69v-5m4-135v-4m4-25v-4m0-29v-4m8 66v-4m2-37v-4m2 8v-4m28 234v-4m4 12v-4m6 12v-4m6 13v-5m2 9v-4m2 53v-4m4-37v-4m4 8v-4m2 4v-4m2 4v-4m10 45v-4m0-41v-4m2 4v-4m6-21v-4m4-4v-4m4 33v-54m8 41v-65m0-50v-36m4 57v-29m2 29v-4m2 57v-4m2-57v-4m4 131v-4m0-156v-4m2 98v-4m2-57v-33m6 164v-4m0-33v-4m2 21v-4m2-152v-4m2 41v-33m2 4v-4m4 41v-4m0-29v-4m4 4v-4m4 4v-4m4 45v-4m4 119v-4m0-164v-4m2 16v-4m2-12v-5m2 54v-37m2 41v-4m6 127v-33m2 37v-4m2-8v-4m2-25v-4m0-123v-4m2 90v-4m0-45v-54m4 177v-37m0-70v-4m0-53v-4m2 4v-4m6 45v-4m4-41v-4m4 160v-4m0-156v-5m4 181v-4m0-33v-4m2-99v-32m4 110v-4m6 25v-4m2 49v-4m2-45v-4m6 8v-4m2 12v-4m2 41v-4m0-33v-4m2 41v-4m0-33v-4m2 4v-4m6 0v-4m2-4v-4m2 45v-4m2 8v-4m2 0v-4m4-49v-5m2 13v-4m2 53v-4m2-58v-4m2 21v-4m2 45v-4m0-37v-4m2 4v-4m2 49v-4m2 4v-4m0-33v-4m2 0v-4m2 8v-4m2 41v-4m0-33v-4m6-29v-4m2 21v-4m2 12v-4m4 37v-4m0-78v-4m4 8v-4m4 61v-4m4-49v-4m2 70v-5m0-65v-4m2 65v-4m4 8v-4m0-61v-4m2 65v-4m2-4v-4m0-70v-4m4 66v-4m0-74v-4m4-9v-4m2 103v-4m6-53v-5m4-12v-4m10-25v-4m2 25v-4m6 20v-4m2-12v-4m2 74v-4m2-46v-4m4 4v-4m2-4v-4m2 12v-4m2 41v-4m2-45v-4m2 25v-4m4-62v-4m2 86v-4m0-45v-4m4 4v-4m2-17v-4m4 78v-4m2-8v-4m2 24v-4m2-4v-4m2 16v-4m0-37v-4m2-16v-4m10-29v-4m2 70v-4m0-50v-4m2 37v-4m6 33v-4m0-45v-4m2 37v-5m2 29v-4m0-41v-4m2 16v-4m2-12v-4m2-58v-4m2 58v-4m2 65v-4m0-41v-4m2 49v-4m2-107v-4m2 37v-4m6-49v-4m4 78v-4m2 16v-4m0-57v-5m4 107v-4m0-41v-4m2-4v-4m2-13v-4m2-20v-4m4 110v-4m10 46v-78m0-70v-4m2 16v-4m2 37v-4m0-103v-4m2 152v-4m4-54v-4m2 13v-4m2 123v-45m2-5v-4m0-69v-5m2 25v-4m2 70v-4m2-58v-4m6 17v-5m6 132v-70m0-70v-4m2 25v-4m4 65v-4m0-65v-5m2 83v-5m0-57v-4m2 66v-5m2-94v-4m2 152v-54m6 54v-41m2 4v-4m2-54v-4m2 99v-37m0-54v-4m4-4v-4m6 12v-4m4 95v-33m0-58v-4m2 95v-33m2 33v-25m0-57v-4m2 53v-4m0-74v-4m4 86v-4m2 12v-4m2 8v-4m2 4v-4m6-82v-4m2 29v-4m2 12v-4m8-4v-4m2 12v-4m8-4v-4m4 4v-4m6 90v-4m4 4v-4m4 0v-12m2 12v-21m0-86v-4m2 111v-12m0-66v-4m2 82v-12m0-58v-4m2 74v-17m2 17v-17m2 17v-17m2 17v-25m0-90v-4m2 102v-4m2 21v-17m2 17v-17m4 0v-4m2 4v-4m2 21v-17m2 17v-17m4 17v-17m2 17v-17m2 17v-17m2 17v-17m0-65v-4m2 8v-4m6 70v-5m4-53v-4m2 62v-5m4-82v-4m2 29v-4m2 8v-4m4 0v-4m2 8v-4m2 78v-4m2-21v-4m0-53v-4m4 61v-4m2 13v-5m2-57v-4m8 82v-4m0-115v-4m2 33v-4m2 16v-4m2 66v-5m2-53v-4m2 4v-4m2 4v-4m4 4v-4m4-12v-4m2 20v-4m4 8v-4m14-29v-4m4 17v-4m4 20v-4m2-8v-4m2 12v-4m2 4v-4m2-58v-8m2 49v-4m2 0v-4m2 33v-4m2 8v-4m2-16v-4m2 20v-4m2 4v-4m2 8v-4m2 0v-4m2 4v-4m2 8v-4m2-4v-4m2 12v-4m2 0v-4m2 8v-4m2 0v-4m2 12v-4m2-16v-4m2 20v-4m2-8v-4m2 16v-4m2 8v-4m4-16v-4m2 4v-4m2-4v-5m2 5v-5m2 25v-4m2-4v-4m2 16v-4m2-12v-4m2 16v-4m2 8v-4m2 8v-4m2 4v-4m2 4v-4m2 0v-4m2-16v-4m2 4v-4m2 20v-4m4 0v-4m2 0v-4m2-4v-4m2 24v-4m2 8v-4m2 0v-4m2 8v-4m2 4v-4m2 4v-4m4-20v-4m2-21v-4m2 29v-4m2 16v-4m2 0v-4m2 86v-4m0-66v-4m2 0v-4m2-4v-4m2 16v-4m2 0v-4m2-29v-4m2 29v-4m2-17v-4m2 25v-4m2 86v-4m0-66v-4m2-4v-4m2 4v-4m2 12v-4m2-4v-4m8 8v-4m2-29v-4m2 37v-4m2 12v-4m2-12v-4m2 16v-4m6 8v-4m2-8v-4m4 16v-4m2-16v-4m2 20v-4m2 4v-4m2-20v-5m2 25v-4m2-4v-4m2 16v-4m4 4v-4m2 8v-4m2 0v-4m2-25v-8m2 17v-4m2 4v-4m2 24v-4m2 8v-4m2-4v-4m2 0v-4m2 4v-4m2 8v-4m4-21v-8m2 13v-5m2 21v-4m2-8v-4m4 12v-4m2 0v-4m2-9v-4m2 4v-4m4 70v-4m0-33v-4m2-8v-4m2 12v-4m2 33v-4m4 16v-4m0-37v-4m2 8v-4m2-37v-4m2 66v-4m0-58v-4m2 21v-5m2 13v-4m8 4v-4m2-13v-4m4 70v-4m2-49v-4m2 12v-4m2 45v-4m0-41v-4m2 37v-4m2 12v-4m0-45v-5m4 0v-4m2 62v-4m0-41v-4m6 41v-4m2-58v-4m4 66v-4m2-13v-4m0-57v-4m2 32v-4m4 58v-4m0-37v-4m2 41v-4m0-41v-5m2 13v-4m4 45v-4m2 4v-4m2-50v-4m2 17v-4m2-17v-4m2 12v-4m2 13v-4m4 0v-5m2 5v-5m2 13v-4m2 33v-5m0-37v-4m4 46v-5m0-37v-4m4 9v-5m2 42v-5m0-32v-5m6 46v-4m0-33v-4m4 41v-4m0-33v-4m4-13v-4m2 17v-5m2 5v-5m2 33v-4m2 4v-4m0-41v-4m6 12v-4m2 4v-4m4 41v-4m10 8v-4m2 4v-4m2-41v-4m2 45v-4m0-41v-4m2 41v-4m12-45v-4m4 65v-4m4-49v-4m4 41v-4m0-49v-4m2 69v-4m0-41v-4m2 29v-4m0-58v-4m2 33v-4m2 4v-4m2 61v-4m0-37v-4m4 4v-4m8 25v-4m0-54v-4m2 29v-4m2-58v-4m2 103v-4m0-49v-4m2 69v-4m0-41v-4m2 33v-4"/>
<path stroke="#e80000" d="m87 386v-4m0-336v-4m2 328v-4m0-316v-8m2 381v-4m0-37v-4m2-24v-5m10 74v-4m0-37v-4m2 45v-4m0-37v-4m2 45v-4m2 4v-4m2-33v-4m4 29v-4m0-58v-4m2 25v-4m2 16v-4m6 8v-4m4 17v-4m2 20v-4m2-4v-4m2-41v-4m2 65v-4m2-45v-4m6 53v-4m0-37v-4m4 8v-4m2 0v-4m2 8v-4m2 41v-4m2-33v-4m6-65v-4m2 45v-4m4-62v-4m2 123v-4m0-58v-4m2 29v-4m2 8v-4m2 12v-4m8-4v-4m2 12v-4m4 0v-4m2-4v-4m4 53v-4m4 0v-4m0-45v-4m2 16v-4m2 8v-4m8 37v-4m0-45v-4m2 57v-4m4 0v-4m0-45v-4m2 16v-4m2-217v-4m2 266v-4m0-37v-4m2 45v-4m0-226v-4m4 197v-4m2-16v-4m2 24v-4m0-94v-4m2 61v-4m6 82v-4m2-41v-4m2 12v-4m2-8v-4m2 0v-4m2-49v-4m2 36v-4m0-147v-5m0-8v-4m10 0v-4m2 8v-4m2-45v-4m30 263v-4m0-33v-4m2 49v-4m2 8v-4m0-33v-4m4 12v-4m6 12v-4m2 9v-5m4 54v-4m2-37v-4m2 8v-4m2 49v-4m2-37v-4m8 4v-4m4 8v-4m8-4v-4m2 37v-4m4-17v-37m2 37v-4m2-33v-4m8-90v-4m0-37v-4m4 164v-45m0-66v-4m2 127v-37m2-127v-4m2 0v-4m2-4v-4m2 16v-4m2 115v-4m0-66v-4m2-41v-4m6 123v-4m4-33v-4m2-45v-4m4 98v-4m0-90v-33m2 33v-4m0-33v-4m2 139v-4m0-94v-29m2 29v-4m0-29v-4m6 45v-4m2 8v-4m0-37v-4m4 172v-4m0-160v-4m2 152v-37m0-82v-4m2-82v-5m2 78v-36m4 16v-4m2 78v-4m6 90v-29m4 29v-4m0-111v-49m2 144v-5m2-147v-4m4 172v-4m2-152v-4m4-29v-4m2 123v-16m0-37v-4m0-58v-4m2 78v-4m2 8v-49m2 86v-4m0-45v-4m4-25v-4m6 148v-4m0-45v-5m2 21v-4m2 12v-4m8 4v-4m2 4v-4m2 37v-4m10-29v-4m2-4v-4m6 0v-4m2 12v-4m2-4v-4m2-41v-4m2 41v-4m4 20v-4m2 29v-4m0-41v-5m2 58v-4m4 4v-4m2-29v-4m6 41v-4m4-37v-4m2 0v-4m8-45v-4m8 0v-5m2-16v-4m2 20v-4m6 4v-4m2-4v-4m4 21v-4m4-9v-4m4 17v-4m4-5v-4m2 66v-4m0-53v-5m2 54v-4m0-58v-4m2 74v-4m2 4v-4m2-8v-4m2-54v-4m2 62v-4m0-54v-4m2 62v-4m0-50v-4m2 62v-4m0-50v-4m2 29v-4m2 16v-4m2-37v-4m2 54v-5m0-45v-4m2 54v-5m4-36v-5m4-8v-4m2 58v-5m6-49v-4m4-37v-4m2 45v-4m2 12v-4m4-8v-4m2 57v-4m2-28v-4m2-17v-4m2 0v-4m2-12v-5m2 33v-4m2-8v-4m8 25v-5m2 41v-4m0-32v-5m2-28v-4m8 20v-4m2 4v-4m4-33v-4m4 90v-4m2-8v-4m2-41v-4m6-115v-4m2 176v-4m4 8v-4m0-156v-4m2-12v-4m4 139v-4m2 29v-4m2-86v-4m2 102v-4m0-37v-4m8-45v-4m2 94v-4m0-37v-4m2-21v-4m2 46v-5m2 17v-4m0-50v-4m2 62v-4m2-66v-4m4 70v-4m2-37v-4m2-33v-4m2 102v-4m0-70v-4m2 82v-4m4 9v-5m0-65v-4m10 160v-78m0-62v-4m2 144v-70m0-57v-5m2 66v-4m2 70v-78m0-66v-4m2 148v-70m0-57v-5m2 62v-4m2 16v-4m2 8v-4m0-53v-4m8 115v-70m4 70v-45m0-58v-4m2 107v-41m0-54v-4m6 62v-4m4 41v-37m6 8v-4m0-49v-4m8-5v-4m2 70v-4m4 4v-4m0-53v-4m2-17v-4m4 33v-4m6 4v-4m2 57v-4m2 21v-4m8-66v-4m6 12v-4m2 0v-4m2-21v-4m14 103v-12m0-58v-4m2 62v-5m0-61v-4m2 12v-4m2 4v-4m4 62v-5m4-57v-4m4 61v-4m2-4v-4m2-57v-4m2 73v-4m2-53v-4m2 8v-4m2-8v-4m2 4v-4m2 16v-4m4 0v-4m4 61v-4m0-57v-4m4 65v-4m4 4v-4m0-61v-4m2 74v-5m2-57v-4m2 66v-5m0-53v-4m4-8v-4m2 74v-5m0-57v-4m2 61v-4m12-4v-4m0-53v-4m4-4v-5m2 21v-4m2 8v-4m4-4v-4m4 8v-4m4 70v-4m2 0v-5m2-61v-4m8 12v-4m16 8v-4m4-12v-4m2 8v-4m2 12v-4m2-21v-4m2 25v-4m2-4v-4m2 20v-4m2 4v-4m2-8v-4m2 12v-4m2 4v-4m2-57v-5m2 50v-9m2 0v-4m2 33v-4m2 8v-4m2-16v-4m4 20v-4m2 8v-4m2 0v-4m2 4v-4m2 8v-4m4 4v-4m2 0v-4m2 8v-4m6-12v-4m2 20v-4m2-8v-4m2 16v-4m2 8v-4m2 0v-4m2-12v-4m2 4v-4m2-4v-4m2 4v-4m2 24v-4m2-4v-4m2 16v-4m2-12v-4m2 16v-4m2 8v-4m2 8v-4m4 4v-4m2 0v-4m2-16v-4m2 4v-4m4 24v-4m2-4v-4m2 0v-4m2-4v-4m2 24v-4m2 8v-4m2 0v-4m4 8v-4m2 4v-4m2 0v-4m2-16v-4m2-21v-4m2 29v-4m2 16v-4m2 0v-4m2 16v-4m2 0v-4m4 8v-4m2 0v-4m2-29v-4m2 29v-4m2-17v-4m2 25v-4m4 8v-4m2 4v-4m2 12v-4m4 0v-4m2 8v-4m2-12v-4m2 16v-4m2-29v-4m2 37v-4m2 12v-4m2-12v-4m2 16v-4m2 0v-4m2 8v-4m2 8v-4m4 0v-4m2 8v-4m2-16v-4m2 20v-4m2 4v-4m2-20v-4m2 24v-4m2-4v-4m2 16v-4m2-4v-4m2 12v-4m2 8v-4m4-28v-5m2 13v-4m2 4v-4m4 28v-4m6-8v-4m2 8v-4m2 4v-4m2-20v-5m2 9v-4m2 20v-4m2-8v-4m2 16v-4m2 0v-4m2 0v-4m2-8v-5m2 5v-5m2 62v-4m0-37v-4m4 4v-4m4-12v-5m2 62v-4m0-37v-4m4 49v-4m2-16v-4m2-50v-4m4 70v-4m2 4v-4m0-41v-4m2 16v-4m2 4v-4m2 37v-4m2-4v-4m2 12v-4m0-37v-4m2 8v-4m8-29v-4m2 25v-4m2 0v-5m2 50v-4m4 12v-4m0-33v-4m2 41v-4m0-33v-4m2-17v-4m2 46v-5m0-45v-4m2 66v-4m0-37v-4m2-4v-5m4 46v-4m2-46v-4m8 54v-4m0-37v-5m2 17v-4m2 4v-4m4 37v-4m2-9v-4m2-28v-5m4 33v-4m0-41v-4m10 29v-4m4 37v-4m0-29v-4m2 33v-5m4 9v-4m0-29v-4m2 33v-5m0-28v-4m4 4v-4m4 32v-4m0-33v-4m4 46v-5m2 5v-5m2-49v-4m4 4v-4m2 16v-4m2 41v-4m2 4v-4m2-8v-4m0-41v-4m2 12v-4m2 16v-4m2 33v-4m0-41v-4m2 57v-4m2 9v-5m0-32v-5m2-4v-4m2 4v-4m6-16v-4m2 61v-4m0-37v-4m2 49v-4m2-33v-4m2-8v-4m2 29v-4m0-50v-4m2 70v-4m0-41v-4m2 20v-4m2 4v-4m2-24v-4m2 65v-4m2-4v-4m0-45v-4m2 4v-4m4-13v-4m8 37v-4m2 53v-4m2 0v-4m0-37v-4m2 37v-4m0-41v-4m2 53v-4m0-37v-4m2-20v-5m2 70v-4m2-33v-4m0-61v-5m2 50v-4m4-4v-5"/>
<path stroke="#b90000" d="m83 366v-4m4-320v-5m2 5v-5m4 374v-4m2-37v-4m2 16v-4m2 8v-4m2 9v-5m6-4v-4m2 4v-4m4 4v-4m6 45v-4m4-33v-4m4-4v-4m2-53v-4m2 45v-4m2-17v-4m2 78v-4m2-29v-4m2 41v-4m2-29v-4m2-4v-4m8 49v-4m4-37v-4m4 8v-4m2-4v-4m2-53v-4m4 102v-4m0-41v-4m2-74v-4m10 127v-4m0-41v-4m2 8v-4m2 4v-4m6 49v-4m2 4v-4m2 0v-4m2-29v-4m2 0v-4m2-29v-4m2 29v-4m2 53v-4m4-28v-5m2-4v-4m2 0v-4m4 8v-4m2 45v-4m4 4v-4m2-33v-4m0-197v-4m2 21v-4m0-54v-4m2 242v-4m0-226v-4m2 230v-4m6-82v-4m2 61v-4m2 74v-4m0-41v-4m2-12v-4m2 28v-4m14-172v-4m2 4v-4m2-62v-4m2 41v-4m0-45v-4m2 4v-4m6 24v-4m26 214v-4m12 28v-4m2 8v-4m6 54v-4m2-33v-4m6 12v-4m6 8v-4m2 4v-4m4 4v-4m4 4v-4m2 0v-4m2 41v-4m0-33v-4m4-4v-4m2-13v-4m12-8v-4m6-115v-4m6 37v-4m4 8v-4m2-29v-4m2 98v-4m6 62v-41m2 45v-33m4-135v-4m8 176v-4m2-135v-29m2 37v-33m2 160v-4m0-37v-4m0-82v-4m0-37v-4m6 12v-4m2 144v-5m0-98v-33m2-12v-4m2 8v-4m16 111v-5m4-12v-4m2-37v-4m2-45v-4m2 127v-4m0-70v-4m0-45v-4m2 53v-45m8-8v-4m4 45v-49m4 61v-37m8 152v-4m2 8v-4m2 0v-4m0-33v-4m2 8v-4m2-4v-4m6 8v-4m4 12v-4m2 4v-4m2 4v-4m6 33v-4m0-29v-4m2 33v-4m0-33v-4m8 16v-4m0-53v-4m4 45v-4m6 8v-4m2 4v-4m2 4v-4m4 12v-4m2 0v-4m2 8v-4m2 4v-4m2 33v-4m4-58v-4m2 21v-4m2 12v-4m4-45v-4m2 8v-4m2 4v-4m2 65v-4m2-86v-4m2 90v-4m2 13v-5m0-57v-4m2 0v-4m4 53v-4m2-45v-4m4 49v-4m0-62v-4m2 70v-4m2-78v-4m2 90v-4m2-21v-4m0-69v-5m8 46v-4m2 4v-4m2-13v-4m2 62v-4m8-83v-4m2 25v-4m2 66v-5m6-8v-4m0-45v-4m4 66v-5m2-4v-4m2-28v-5m2 37v-4m6 0v-4m0-37v-4m2 17v-5m0-45v-4m2 82v-4m2-82v-4m2 37v-4m2 53v-4m2-45v-4m2-17v-4m2 74v-4m10-20v-5m2 25v-4m0-37v-4m2 57v-4m0-33v-4m2 45v-4m4-20v-4m2-13v-4m0-45v-4m2 62v-4m0-42v-4m2 74v-4m2 0v-4m2 4v-4m2-49v-4m4 16v-4m2 16v-4m2-12v-4m2-58v-4m2 99v-4m0-37v-4m2 20v-4m4-61v-5m2 37v-4m4 70v-4m2 0v-4m0-111v-4m4 78v-4m2 8v-4m4 8v-4m2 37v-4m0-37v-4m2 61v-4m0-70v-4m8 82v-4m4-69v-5m2 50v-4m2-4v-5m0-61v-4m4-58v-4m2 144v-4m6 33v-5m0-65v-4m4 65v-4m0-61v-4m2 82v-4m2-54v-4m2 66v-4m0-54v-4m2 62v-4m2 12v-4m2-49v-4m2 49v-4m4-54v-4m6 78v-4m0-57v-4m4 16v-4m2-29v-4m2 94v-4m0-57v-4m2 74v-4m2 8v-4m2 4v-4m0-50v-4m2 58v-4m0-50v-4m4 13v-5m2 5v-5m2 91v-41m2 41v-37m0-54v-4m4 62v-4m2 4v-4m0-54v-4m2 9v-5m6 54v-4m0-66v-4m4 78v-4m2 12v-4m0-53v-4m2 65v-4m2-49v-4m2 57v-4m0-57v-4m2 69v-4m2-78v-4m2 29v-4m4 12v-4m2-4v-4m4 4v-4m10 4v-4m2 8v-4m2 0v-4m2 12v-4m2-12v-4m2 16v-4m6 66v-5m2 5v-5m2-4v-4m0-78v-4m2 33v-4m2 66v-5m4 0v-4m0-57v-4m2-4v-4m2-21v-4m4 37v-4m2 65v-4m6 0v-4m2 8v-4m2-45v-4m2 53v-4m2-49v-4m4 4v-4m2-4v-4m2 65v-4m4-49v-4m6 62v-5m2 0v-4m4-74v-4m2 99v-4m4-62v-4m2 0v-4m2 8v-4m4-4v-4m2 49v-4m10-33v-4m4-41v-4m2 33v-4m6 74v-5m0-49v-4m2 58v-5m2-49v-4m6 4v-4m2-12v-4m4 20v-4m4 0v-4m4-4v-4m8-8v-5m2 25v-4m2-4v-4m2 20v-4m2 4v-4m2-8v-4m2 12v-4m2 4v-4m2-53v-8m2 49v-4m2 0v-9m2 33v-4m4-12v-4m2 16v-4m4 12v-4m2 0v-4m2 4v-4m2 8v-4m2-8v-4m4 12v-4m4 0v-4m2 12v-4m2-12v-4m4 8v-4m2 16v-4m2 9v-5m2 0v-4m2-12v-4m2 4v-4m2-4v-4m2 4v-4m2 24v-4m4 8v-4m2-12v-4m2 16v-4m6 8v-4m6-16v-4m2 4v-4m2 16v-4m2 12v-4m2-4v-4m2 0v-4m2-4v-4m4 29v-5m2 0v-4m2 4v-4m4 9v-5m2 0v-4m2-16v-4m2-17v-8m2 29v-4m2 16v-4m2 0v-4m2 16v-4m2 0v-4m2-8v-4m2 20v-4m2 0v-4m2-24v-9m2 29v-4m2-16v-5m2 25v-4m2 12v-4m2 0v-4m4 12v-4m2-8v-4m2 12v-4m2 8v-4m2-12v-4m2 16v-4m2-29v-4m2 37v-4m4-4v-4m4 12v-4m2 8v-4m4-8v-4m2 16v-4m2 9v-5m2-16v-4m2 20v-4m2 4v-4m2-20v-4m2 24v-4m4 8v-4m2-4v-4m2 12v-4m4 0v-4m2-20v-4m2 12v-4m2 4v-4m2 20v-4m4 0v-4m2 0v-4m2 8v-4m2 8v-4m2 4v-4m2-20v-4m2 8v-4m2 20v-4m2-8v-4m2 16v-4m2 0v-4m2 0v-4m2-8v-4m2 4v-4m2 20v-4m2 12v-4m2 29v-4m2 8v-4m0-29v-4m2-16v-4m4 24v-4m2 8v-4m2-37v-4m2 58v-4m2 12v-4m0-41v-4m2 12v-4m4 49v-4m2 4v-4m2-41v-4m2-13v-4m6 58v-4m0-37v-4m2 49v-4m0-33v-4m2 0v-4m2 29v-5m0-45v-4m4 62v-4m2-41v-5m2 54v-4m0-33v-4m6 33v-4m8-13v-4m0-49v-4m2 33v-5m2 42v-5m0-37v-4m2 21v-4m2 33v-4m0-33v-4m2 45v-4m0-29v-4m8 29v-5m0-32v-5m2 17v-4m2-17v-4m2 50v-5m2 9v-4m0-29v-4m4 33v-5m0-28v-4m2 37v-5m0-28v-4m2 41v-4m0-25v-4m2 24v-4m0-28v-5m2 46v-4m2-5v-4m0-28v-5m4 9v-4m2 4v-4m6 8v-4m2 33v-5m2 5v-5m0-24v-4m4 24v-4m0-33v-4m2 17v-4m2 4v-4m2 24v-4m0-33v-4m2 4v-4m2 41v-4m2 12v-4m2-33v-4m2 4v-4m4 33v-4m2 12v-4m4-33v-4m8 37v-4m0-33v-4m2 0v-4m2 33v-4m4-17v-4m2 41v-4m2-4v-4m2-61v-5m4 74v-4m4-12v-4m0-41v-4m2 20v-4m6 8v-4m2 21v-4m2 20v-4m0-37v-4m2 45v-4m0-37v-4m2 20v-4m2 33v-4m2-25v-4m8 17v-4m2-21v-4m2 4v-4m0-53v-4m2 90v-4m2-21v-4m2 25v-4"/>
<path stroke="#830000" d="m83 415v-49m2 53v-41m2 45v-37m2 29v-45m2 49v-37m2 25v-53m2 61v-45m2 49v-37m2 41v-37m2 37v-32m2 28v-37m2 37v-37m2 37v-37m2 37v-37m2 41v-37m2 33v-37m2 25v-58m2 66v-45m2 49v-37m2 41v-37m2 37v-37m2 37v-37m2 33v-41m2 17v-74m2 90v-49m2 41v-62m2 70v-49m2 57v-37m2 33v-41m2 49v-37m2 33v-41m2 41v-37m2 41v-37m2 37v-37m2 33v-37m2 41v-37m2 33v-37m2 41v-37m2 37v-37m2 33v-41m2 17v-74m2 90v-53m2 57v-41m2 12v-90m2 111v-58m2 70v-45m2 45v-41m2 45v-37m2 29v-41m2 45v-41m2 41v-41m2 41v-41m2 45v-37m2 33v-37m2 37v-37m2 33v-41m2 49v-37m2 33v-37m2 25v-58m2 66v-41m2 45v-37m2 41v-37m2 37v-32m2 28v-37m2 37v-41m2 37v-45m2 49v-37m2 37v-37m2 33v-45m2 49v-37m2 41v-37m0-205v-20m2 258v-37m0-184v-54m2 275v-37m0-193v-37m2 267v-41m2 45v-37m2 29v-49m2 16v-90m2 115v-58m2 66v-41m2 37v-53m2 61v-37m2 37v-41m2 45v-37m2 29v-41m2 37v-41m2 12v-65m2 82v-50m0-156v-8m2 17v-29m2 29v-45m2-21v-25m2 62v-45m2 49v-49m2 53v-49m2 37v-33m2 8v-12m26 259v-33m2 33v-33m2 41v-33m2 37v-33m2 41v-37m2 41v-37m2 41v-37m2 41v-37m2 41v-41m2 46v-41m2 41v-41m2 45v-37m2 41v-41m2 45v-41m2 41v-37m2 41v-41m2 41v-41m2 41v-37m2 37v-37m2 37v-41m2 41v-37m2 37v-37m2 37v-37m2 33v-37m2 33v-33m2 33v-37m2 29v-33m2 24v-41m4 29v-41m2 45v-37m6 33v-41m2-90v-37m4 45v-37m4 37v-37m2 148v-54m0-65v-33m2 33v-41m2 45v-33m2 156v-45m0-74v-33m2 144v-50m0-65v-37m10 144v-62m2-53v-33m4 168v-37m2-98v-33m2 168v-33m6 29v-37m0-90v-37m2 41v-33m2 37v-37m2 37v-37m2 164v-24m2-111v-37m2 0v-45m6 86v-33m2 86v-12m8 74v-45m2 53v-33m2 12v-49m2-45v-53m2 57v-49m2 156v-33m0-78v-45m6 33v-62m2 62v-58m2 70v-49m4 148v-54m4 70v-33m6 25v-45m2 53v-37m2 41v-33m2 29v-33m2 37v-33m2 29v-37m2 41v-33m2 33v-33m2 29v-33m2 37v-33m2 33v-29m2 29v-29m2 29v-29m2 29v-33m2 29v-37m2 37v-29m2 25v-33m2 33v-37m2 41v-33m2 29v-37m2 12v-53m2 74v-41m2 45v-37m2 41v-33m2 21v-41m2 49v-33m2 33v-33m2 33v-33m2 37v-33m2 33v-29m2 29v-33m2 33v-29m2 29v-29m2 25v-33m2 33v-37m2 25v-46m2 54v-37m2 41v-33m2 21v-74m2 78v-74m2 74v-70m2 66v-66m2 57v-69m2 61v-78m2 82v-70m2 78v-57m2 57v-61m2 53v-70m2 62v-70m2 82v-57m2 53v-61m2 49v-62m2 62v-62m2 54v-70m2 82v-53m2 28v-69m2 90v-58m2 58v-53m2 45v-58m2 66v-49m2 49v-49m2 37v-54m2 54v-54m2 54v-54m2 54v-50m2 54v-50m2 21v-58m2 70v-49m2 57v-45m2 45v-45m2 45v-45m2 33v-45m2 62v-41m2 36v-41m2 33v-41m2 49v-36m2 28v-41m2 49v-41m2 33v-41m2 37v-37m2 8v-45m2 74v-37m2 4v-49m2 74v-41m2 45v-37m2 49v-57m2 25v-46m2 66v-37m2 37v-41m2 29v-45m2 65v-37m2 29v-41m2 53v-32m2 16v-37m2 49v-33m2 37v-32m2 32v-32m2 8v-41m2 24v-45m2 54v-42m2 66v-37m2 33v-37m2 37v-37m2 29v-41m2 24v-49m2 74v-37m2 45v-33m2 21v-37m2-8v-54m2 91v-37m2 53v-37m2 37v-168m2 168v-102m2 110v-78m2 74v-156m2 144v-160m2 156v-111m2 127v-37m2 21v-37m2 0v-49m2 94v-37m2 37v-37m2 29v-37m2 53v-70m2 54v-78m2 86v-37m2 49v-74m2 74v-32m2 8v-50m2 54v-49m2 41v-58m2 49v-61m2 74v-66m2 25v-95m2 136v-74m2 94v-70m2 74v-74m2 78v-65m2 65v-65m2 57v-61m2 74v-58m2 62v-58m2 58v-54m2 54v-58m2 66v-53m2 57v-53m2 41v-62m2 74v-57m2 53v-62m2 74v-57m2 61v-53m2 45v-57m2 69v-57m2 57v-57m2 41v-74m2 86v-57m2 66v-54m2 58v-50m2 50v-50m2 50v-50m2 54v-54m2 58v-49m2 49v-49m2 45v-58m2 62v-54m2 58v-49m2 45v-54m2 54v-54m2 58v-53m2 53v-58m2 62v-53m2 41v-66m2 78v-53m2 45v-66m2 74v-53m2 57v-49m2 53v-53m2 49v-57m2 61v-53m2 49v-74m2 91v-66m2 74v-70m2 74v-70m2 70v-78m2 78v-78m2 78v-78m2 78v-74m2 74v-70m2 70v-74m2 74v-99m2 99v-78m2 78v-74m2 74v-78m2 78v-70m2 70v-86m2 86v-74m2 62v-58m2 53v-61m2 61v-53m2 53v-53m2 45v-78m2 86v-57m2 57v-53m2 53v-57m2 53v-57m2 57v-65m2 57v-82m2 90v-65m2 65v-57m2 57v-53m2 57v-53m2 49v-61m2 57v-57m2 61v-49m2 53v-49m2 45v-53m2 57v-53m2 49v-57m2 61v-53m2 49v-57m2 57v-57m2 57v-61m2 65v-53m2 53v-57m2 57v-53m2 53v-53m2 49v-61m2 65v-57m2 53v-74m2 91v-70m2 74v-70m2 70v-66m2 66v-70m2 70v-66m2 37v-53m2 57v-49m2 41v-57m2 65v-49m2 57v-53m2 70v-74m2 74v-78m2 78v-66m2 66v-74m2 74v-111m2 99v-70m2 65v-57m2 57v-61m2 61v-49m2 49v-53m2 70v-66m2 66v-70m2 70v-70m2 70v-66m2 66v-82m2 82v-70m2 70v-66m2 66v-66m2 66v-70m2 70v-66m2 66v-78m2 78v-82m2 82v-78m2 78v-70m2 70v-90m2 90v-70m2 70v-78m2 78v-62m2 62v-62m2 62v-74m2 74v-66m2 66v-66m2 66v-123m2 123v-82m2 82v-86m2 86v-62m2 62v-62m2 62v-78m2 78v-66m2 66v-66m2 66v-58m2 58v-62m2 62v-62m2 62v-58m2 58v-70m2 70v-62m2 62v-62m2 62v-62m2 62v-66m2 66v-58m2 58v-74m2 74v-62m2 62v-70m2 70v-58m2 58v-53m2 53v-58m2 58v-74m2 74v-74m2 74v-82m2 82v-82m2 82v-62m2 62v-74m2 74v-58m2 58v-74m2 74v-62m2 62v-62m2 62v-58m2 58v-58m2 58v-58m2 58v-62m2 62v-78m2 78v-78m2 78v-66m2 66v-58m2 58v-66m2 66v-70m2 70v-78m2 78v-62m2 62v-53m2 53v-58m2 58v-58m2 58v-58m2 58v-53m2 53v-58m2 58v-78m2 78v-99m2 99v-78m2 78v-66m2 66v-70m2 70v-58m2 58v-62m2 62v-74m2 74v-58m2 58v-62m2 62v-90m2 90v-70m2 70v-90m2 90v-70m2 70v-62m2 62v-66m2 66v-70m2 70v-58m2 58v-70m2 70v-62m2 62v-58m2 58v-74m2 74v-62m2 62v-95m2 95v-62m2 62v-58m2 58v-70m2 70v-62m2 62v-62m2 62v-58m2 58v-58m2 58v-70m2 70v-58m2 58v-53m2 53v-74m2 74v-58m2 58v-58m2 58v-82m2 82v-62m2 62v-74m2 74v-58m2 58v-66m2 66v-58m2 58v-58m2 58v-62m2 62v-86m2 86v-78m2 78v-78m2 78v-62m2 62v-58m2 58v-66m2 66v-70m2 70v-66m2 66v-62m2 62v-62m2 62v-86m2 86v-82m2 82v-66m2 66v-78m2 78v-66m2 66v-70m2 70v-74m2 74v-86m2 86v-86m2 49v-33m2 37v-29m2 21v-33m2 37v-29m2 21v-41m2 49v-37m2 41v-33m2 33v-29m2 9v-50m2 50v-50m2 58v-41m2 45v-37m2 37v-41m2 45v-33m2 33v-33m2 29v-37m2 29v-46m2 54v-37m2 41v-37m2 29v-37m2 41v-33m2 33v-37m2 20v-45m2 58v-41m2 37v-41m2 41v-41m2 45v-33m2 37v-33m2 33v-33m2 21v-42m2 37v-45m2 58v-37m2 33v-41m2 20v-49m2 66v-37m2 32v-37m2 50v-33m2 25v-33m2 37v-29m2 25v-37m2 45v-33m2 33v-33m2 20v-32m2 41v-29m2 16v-37m2 41v-32m2 37v-29m2 16v-41m2 49v-28m2 28v-28m2 33v-25m2 16v-28m2 37v-29m2 20v-28m2 37v-29m2 24v-28m2 28v-28m2 33v-29m2 24v-28m2 33v-29m2 24v-28m2 28v-24m2 20v-33m2 29v-33m2 41v-28m2 28v-28m2 16v-33m2 37v-37m2 33v-37m2 45v-33m2 33v-33m2 33v-33m2 21v-41m2 45v-37m2 45v-33m2 25v-41m2 49v-33m2 37v-32m2 28v-37m2 37v-37m2 33v-33m2 33v-37m2 25v-41m2 53v-37m2 41v-33m2 33v-33m2 25v-37m2 21v-45m2 57v-41m2 49v-33m2 37v-37m2 17v-41m2 53v-37m2 29v-45m2 45v-45m2 57v-37m2 13v-50m2 66v-37m2 37v-37m2 49v-33m2 25v-37m2 45v-33m2 29v-37m2 29v-41m2 45v-37m2 21v-45m2 61v-37m2-4v-53m2 82v-41m2 57v-37m2 17v-45"/>
</g>
<g fill="none" stroke-width="1" shape-rendering="crispEdges">
<path stroke="#0057ff" d="m82 304v-4m0 0v-4m15-131v-4m0 0v-4m45 86v-4m2 74v-4m0-1v-4m0 0v-4m29 4v-4m14-123v-4m55 45v-4m5 49v-4m2-164v-4m3 20v-4m0 0v-4m0 0v-4m0-16v-4m1 0v-4m0-1v-4m5 25v-4m0 0v-4m11-37v-4m0 0v-4m1 65v-4m0-20v-4m0 0v-4m3 4v-4m3 65v-4m0-45v-4m1 53v-4m0-86v-4m1 98v-4m0-66v-4m2 50v-4m0-1v-4m0-16v-4m0-29v-4m2 70v-4m0-62v-4m0 0v-4m1 0v-4m1-4v-4m3 69v-4m0-24v-4m2 28v-4m0-61v-4m1 24v-4m3 29v-4m0 0v-4m0-21v-4m0 0v-4m2 24v-4m0 0v-4m0-8v-4m0 0v-4m2 111v-4m19 188v-4m0 0v-4m9-119v-4m5-94v-4m1-66v-4m4 28v-4m0 0v-4m9 185v-4m0 0v-4m0-189v-4m10 127v-4m0 0v-4m6-41v-4m6 69v-4m0 0v-4m1-106v-4m1-5v-4m1 95v-4m0-78v-4m3 274v-4m0-180v-4m13-21v-4m1-12v-4m6 65v-4m3-45v-4m0 0v-4m1-4v-4m3 86v-4m0-58v-4m1-94v-4m2 106v-4m2-70v-4m2 284v-4m0-1v-4m0-225v-4m0-1v-4m5-24v-4m2 127v-4m0 0v-4m0 0v-4m1-148v-4m1 127v-4m0-29v-4m2 222v-4m0-140v-4m3-82v-4m2 0v-4m2-21v-4m2-12v-4m2 98v-4m1-107v-4m0 0v-4m2-12v-4m0 0v-4m4 8v-4m0 0v-4m1 8v-4m1 73v-4m0 0v-4m0-33v-4m0 0v-4m3 29v-4m0 0v-4m0-45v-4m1 86v-4m0-21v-4m1 4v-4m0 0v-4m6 57v-4m1 62v-4m0 0v-4m2-144v-4m1 61v-4m0 0v-4m0 0v-4m2 0v-4m0-37v-4m3 144v-4m4-54v-4m2-29v-4m1 62v-4m0 0v-4m0-62v-4m1-29v-4m2 123v-4m0-66v-4m2 25v-4m0 0v-4m1 0v-4m0-50v-4m0 0v-4m0 0v-4m1 0v-4m10 119v-4m1 74v-4m19-9v-4m8-119v-4m0 0v-4m4 201v-4m7-209v-4m12 164v-4m1-119v-4m0-54v-4m1 17v-4m3 217v-4m0-115v-4m1 135v-4m0 0v-4m3-37v-4m1-82v-4m0-21v-4m1 25v-4m1-62v-4m3-12v-4m0 0v-4m3 73v-4m1 107v-4m0 0v-4m0-54v-4m1-37v-4m0-86v-4m1 107v-4m0-46v-4m1 107v-4m5-78v-4m1 78v-4m0-86v-4m1-50v-4m1 185v-4m0 0v-4m0-193v-4m1 176v-4m0 0v-4m1-17v-4m0-143v-4m1 168v-4m1-45v-4m0 0v-4m1 32v-4m0 0v-4m1-45v-4m0 0v-4m0 0v-4m1 49v-4m1 111v-4m0-74v-4m0-1v-4m1 4v-4m0-8v-4m0 0v-4m0-107v-4m2-8v-4m0 0v-4m0 0v-4m4 82v-4m0 0v-4m0-1v-4m1 91v-4m1 41v-4m0-148v-4m1 131v-4m2 0v-4m1-54v-4m1 115v-4m0 0v-4m0-25v-4m0-37v-4m1-45v-4m1 21v-4m0-1v-4m0-24v-4m0 0v-4m1 110v-4m0-107v-4m0 0v-4m0-28v-4m1 192v-4m0 0v-4m0 0v-4m3-66v-4m1-86v-4m0-4v-4m2 4v-4m0 0v-4m0-21v-4m2 82v-4m0-49v-4m2 32v-4m3-69v-4m1 69v-4m1 62v-4m1-4v-4m0-42v-4m2-24v-4m1 12v-4m0 0v-4m1 152v-4m1-13v-4m0 0v-4m1-53v-4m0-1v-4m0-33v-4m0-61v-4m1 111v-4m1-9v-4m1-74v-4m0 0v-4m1 90v-4m0-70v-4m1 62v-4m0 0v-4m0-37v-4m0 0v-4m2 114v-4m1-12v-4m0-4v-4m0-4v-4m1 69v-4m0 0v-4m2-16v-4m0-21v-4m0 0v-4m0-127v-4m1 147v-4m0 0v-4m0 0v-4m2-29v-4m1-16v-4m0-50v-4m1 123v-4m2-131v-4m0 0v-4m1 102v-4m0 0v-4m1-57v-4m1-29v-4m1 8v-4m3 107v-4m1 61v-4m2-140v-4m1 185v-4m0-132v-4m0 0v-4m2-24v-4m0 0v-4m4 135v-4m0-37v-4m0-45v-4m0-54v-4m0 0v-4m0-8v-4m2 78v-4m0-1v-4m1 25v-4m1 0v-4m0 0v-4m0 0v-4m0-74v-4m0 0v-4m1 98v-4m0-66v-4m2 181v-4m0-50v-4m0-28v-4m0-1v-4m0-4v-4m0-4v-4m0 0v-4m1 107v-4m1-173v-4m0 0v-4m0-4v-4m3 82v-4m1-13v-4m1 95v-4m3-54v-4m0 0v-4m3 25v-4m0-1v-4m0 0v-4m0-4v-4m0 0v-4m0 0v-4m0-25v-4m0-4v-4m2 4v-4m0 0v-4m2 24v-4m0-37v-4m1-20v-4m2 160v-4m0-83v-4m0 0v-4m3 136v-4m0-33v-4m0-107v-4m0-8v-4m2 139v-4m0-115v-4m1-12v-4m0 0v-4m1 110v-4m0 0v-4m0-70v-4m0 0v-4m0 0v-4m1 111v-4m3-136v-4m0 0v-4m1 66v-4m0 0v-4m1 12v-4m1 24v-4m0-33v-4m0-24v-4m1-29v-4m0 0v-4m1 90v-4m0 0v-4m0 0v-4m0-41v-4m0-1v-4m1 17v-4m0-13v-4m1 123v-4m0 0v-4m0 0v-4m1-111v-4m3 78v-4m0-82v-4m0-4v-4m0 0v-4m2 155v-4m0-49v-4m0-21v-4m2-24v-4m1-25v-4m0 0v-4m2 8v-4m1 61v-4m0 0v-4m3 111v-4m0-160v-4m1 8v-4m1 61v-4m0-8v-4m0 0v-4m1-29v-4m1 37v-4m0 0v-4m1-8v-4m1 36v-4m1 37v-4m1 86v-4m2-168v-4m1 0v-4m1 8v-4m1 16v-4m1-4v-4m1 78v-4m0 0v-4m1 98v-4m0 0v-4m0-20v-4m0-128v-4m0 0v-4m0-8v-4m1 45v-4m0 0v-4m4 0v-4m1 12v-4m2 49v-4m0-53v-4m4 118v-4m0-119v-4m1 82v-4m0-45v-4m5 90v-4m0-115v-4m0-20v-4m2 20v-4m6 98v-4m0 0v-4m0 0v-4m0-29v-4m0 0v-4m0 0v-4m1 136v-4m1-107v-4m0-46v-4m0 0v-4m3 111v-4m0 0v-4m0-123v-4m2 28v-4m1 164v-4"/>
<path stroke="#00f" d="m88 144v-4m24-33v-4m0 0v-4m2 164v-4m1-66v-4m0-41v-4m5-45v-4m0 0v-4m3-45v-4m11 16v-4m1-8v-4m0 0v-4m2 270v-4m0 0v-4m1-238v-4m0 0v-4m7 78v-4m21 107v-4m12-87v-4m7-16v-4m6 16v-4m6-70v-4m33 57v-4m7-53v-4m8 37v-4m0 0v-4m5 98v-4m6-49v-4m0 0v-4m0 0v-4m4-37v-4m0-13v-4m0 0v-4m0 0v-4m2 160v-4m4-119v-4m2 0v-4m1 4v-4m1 102v-4m0-86v-4m1 16v-4m0 0v-4m0 0v-4m1 4v-4m0 0v-4m0-25v-4m0 0v-4m0 0v-4m1 37v-4m0-25v-4m1 8v-4m1 29v-4m0 0v-4m0 0v-4m1 12v-4m0-13v-4m0-24v-4m2 86v-4m0 0v-4m0-25v-4m0-21v-4m0-4v-4m1 90v-4m0 0v-4m0-41v-4m1 37v-4m0 0v-4m1 20v-4m0 0v-4m0-21v-4m0-45v-4m0-12v-4m0 0v-4m1 77v-4m0-4v-4m0 0v-4m0-33v-4m1 86v-4m1-24v-4m0-37v-4m0-1v-4m1 45v-4m0-24v-4m0 0v-4m0-5v-4m0 0v-4m0-4v-4m0 0v-4m0 0v-4m0-8v-4m1 69v-4m0-4v-4m0-12v-4m0-25v-4m0 0v-4m0 0v-4m0 0v-4m1 98v-4m0 0v-4m0-13v-4m0-24v-4m0-9v-4m0 0v-4m0-20v-4m1 78v-4m0-1v-4m0-45v-4m0 0v-4m0 0v-4m1 90v-4m0-53v-4m0 0v-4m0-13v-4m0-16v-4m1 41v-4m0 0v-4m0-29v-4m0 0v-4m1 73v-4m0-57v-4m0 0v-4m1 115v-4m0-21v-4m0 0v-4m0 0v-4m0-25v-4m0-41v-4m0 0v-4m0 0v-4m1 110v-4m0-12v-4m0 0v-4m0-78v-4m0 0v-4m1 110v-4m0-94v-4m1 45v-4m0 0v-4m0-37v-4m0 0v-4m1 110v-4m0 0v-4m0-20v-4m0-66v-4m1 41v-4m0-21v-4m2 123v-4m16 123v-4m0 0v-4m0-119v-4m3 94v-4m2-82v-4m1 70v-4m0-111v-4m0-33v-4m0 0v-4m0 0v-4m1 151v-4m0-123v-4m1 136v-4m5 8v-4m2-107v-4m0-74v-4m1 242v-4m0-140v-4m0-78v-4m1 12v-4m1 279v-4m0-258v-4m3 217v-4m0-111v-4m1 37v-4m0 0v-4m0-140v-4m0 0v-4m1 4v-4m1 255v-4m0-1v-4m0 0v-4m0-258v-4m1 49v-4m1-21v-4m1 33v-4m1 49v-4m0 0v-4m5 213v-4m3-12v-4m0-99v-4m1-49v-4m0 0v-4m0-91v-4m1 127v-4m0-102v-4m0 0v-4m0 0v-4m1 40v-4m1 82v-4m0-115v-4m1-24v-4m2 151v-4m0-106v-4m4 143v-4m0-12v-4m0-70v-4m0 0v-4m0 0v-4m5-74v-4m0 0v-4m1 73v-4m1 0v-4m0 0v-4m1-16v-4m1 20v-4m2-37v-4m1 25v-4m5 114v-4m0-82v-4m0 0v-4m0-29v-4m0 0v-4m2 131v-4m0-41v-4m1-74v-4m3 45v-4m0-16v-4m5 82v-4m0-46v-4m2 82v-4m0-28v-4m0 0v-4m3-103v-4m2 78v-4m0-33v-4m0 0v-4m0-5v-4m0 0v-4m0-8v-4m1 152v-4m0-119v-4m1 78v-4m1 20v-4m0-49v-4m0-9v-4m1 66v-4m0 0v-4m0 0v-4m0-74v-4m2-9v-4m1 140v-4m0 0v-4m1-13v-4m0-16v-4m0-21v-4m0-90v-4m1 98v-4m0-78v-4m0 0v-4m1 127v-4m0-25v-4m1-24v-4m0-5v-4m0-24v-4m0-13v-4m0 0v-4m1 115v-4m0-95v-4m0-24v-4m1 123v-4m2 8v-4m0-50v-4m0 0v-4m1 82v-4m0-12v-4m0 0v-4m0 0v-4m0-9v-4m1 62v-4m0-103v-4m0-20v-4m0-29v-4m1 119v-4m0-54v-4m0-33v-4m0 0v-4m1 21v-4m1 57v-4m0 0v-4m0-58v-4m1 78v-4m0-94v-4m1 139v-4m0 0v-4m0 0v-4m0-8v-4m0-25v-4m0-54v-4m0 0v-4m0 0v-4m1 53v-4m1-4v-4m1 74v-4m0 0v-4m0-4v-4m0-37v-4m1-21v-4m0-21v-4m1-20v-4m1 123v-4m0 0v-4m0 0v-4m0-17v-4m0-82v-4m1 111v-4m0-1v-4m0-16v-4m1 41v-4m0-17v-4m0 0v-4m0-90v-4m1 53v-4m0 0v-4m0-45v-4m1 139v-4m0 0v-4m0-82v-4m1 94v-4m0-4v-4m0 0v-4m0 0v-4m0-66v-4m0 0v-4m1 115v-4m0-78v-4m0-29v-4m1 98v-4m0-33v-4m0-4v-4m0 0v-4m0-17v-4m0-45v-4m0 0v-4m1 37v-4m1 90v-4m0 0v-4m0-37v-4m0-62v-4m0 0v-4m0-4v-4m0 0v-4m1 156v-4m0-41v-4m0-46v-4m0-53v-4m1 139v-4m1-24v-4m0-1v-4m0-41v-4m1 33v-4m0-41v-4m1 33v-4m1 73v-4m0-53v-4m1 33v-4m0 0v-4m0-13v-4m0-62v-4m1 123v-4m0-65v-4m1 37v-4m0-29v-4m0-74v-4m1 82v-4m0-25v-4m0-29v-4m0 0v-4m0 0v-4m0 0v-4m0 0v-4m1 86v-4m0 0v-4m0-46v-4m0-20v-4m0 0v-4m0 0v-4m1 123v-4m0-37v-4m0-1v-4m0-28v-4m0 0v-4m0-29v-4m1 115v-4m0-1v-4m0 0v-4m0-37v-4m0 0v-4m0 0v-4m1 111v-4m0 0v-4m0-103v-4m0 0v-4m1 106v-4m0-12v-4m0 0v-4m0-86v-4m0 0v-4m0-1v-4m1 66v-4m0 0v-4m1 78v-4m1-78v-4m0-25v-4m1 24v-4m1-41v-4m0 0v-4m0 0v-4m1 66v-4m0-9v-4m0-4v-4m0-29v-4m1 123v-4m0-49v-4m0-8v-4m0 0v-4m0-1v-4m0 0v-4m0 0v-4m1 70v-4m0 0v-4m0-25v-4m0-45v-4m1 45v-4m1 70v-4m0-1v-4m0-82v-4m0 0v-4m0-25v-4m0 0v-4m0-16v-4m0 0v-4m1 102v-4m0-45v-4m0-21v-4m1 115v-4m0-78v-4m0 0v-4m0 0v-4m0-37v-4m0 0v-4m0 0v-4m1 172v-4m0 0v-4m0 0v-4m0-103v-4m0 0v-4m0-21v-4m1 33v-4m0 0v-4m0 0v-4m1 28v-4m0 0v-4m1 58v-4m1-21v-4m0-33v-4m0-33v-4m0-16v-4m1 102v-4m0 0v-4m1 8v-4m0-16v-4m0-1v-4m0 0v-4m0-16v-4m0 0v-4m0 0v-4m1 160v-4m0-46v-4m0-41v-4m0-78v-4m0-16v-4m1 49v-4m0 0v-4m0-5v-4m1 148v-4m0 0v-4m0-156v-4m0 0v-4m0 0v-4m1 20v-4m2 107v-4m3 74v-4m0-1v-4m1 29v-4m0 0v-4m0-107v-4m0-94v-4m2 254v-4m4-66v-4m0-111v-4m0 0v-4m0-33v-4m0 0v-4m0 0v-4m1 98v-4m0 0v-4m0 0v-4m1-66v-4m0 0v-4m1 234v-4m0 0v-4m0 0v-4m2-144v-4m3-94v-4m0 0v-4m1 12v-4m3 254v-4m3-181v-4m0 0v-4m0 0v-4m0 0v-4m1-33v-4m2 90v-4m0-57v-4m2 82v-4m0 0v-4m4-46v-4m1-20v-4m0 0v-4m2-13v-4m1 169v-4m1-140v-4m0 0v-4m1 139v-4m4-160v-4m1 135v-4m0 0v-4m12 54v-4m1 36v-4m0-106v-4m0-1v-4m0 0v-4m1 181v-4m0 0v-4m1-50v-4m1-16v-4m0-164v-4m1 225v-4m0 0v-4m0-62v-4m0-139v-4m0 0v-4m0 0v-4m1 24v-4m1 226v-4m0 0v-4m0-267v-4m1 180v-4m1 0v-4m0-33v-4m1 78v-4m0 0v-4m0 0v-4m0-50v-4m0-131v-4m0 0v-4m1 57v-4m1 49v-4m0 0v-4m0-16v-4m1 37v-4m2 53v-4m1-78v-4m1 106v-4m1-45v-4m0 0v-4m0-29v-4m0 0v-4m0-8v-4m0-70v-4m1 205v-4m0-16v-4m0-1v-4m0-16v-4m0-8v-4m0-37v-4m1 8v-4m0 0v-4m0-9v-4m0-66v-4m0 0v-4m1 70v-4m1 107v-4m0-46v-4m0-4v-4m0 0v-4m0-4v-4m0-33v-4m1 29v-4m0-1v-4m0-24v-4m0-21v-4m0 0v-4m0-21v-4m1 111v-4m0 0v-4m0-25v-4m0 0v-4m0 0v-4m1 107v-4m0-120v-4m0 0v-4m0-12v-4m0-4v-4m1 53v-4m0-53v-4m0-29v-4m1 209v-4m0-45v-4m0-33v-4m0-78v-4m1 160v-4m0 0v-4m0-1v-4m0-102v-4m1 160v-4m0 0v-4m0-1v-4m0-53v-4m0-74v-4m1 148v-4m0-29v-4m0-50v-4m0-37v-4m0 0v-4m0-29v-4m0-49v-4m0 0v-4m0-4v-4m0 0v-4m0 0v-4m1 176v-4m0-17v-4m0-4v-4m0-74v-4m0 0v-4m1 168v-4m0-41v-4m0-8v-4m0-49v-4m0-1v-4m2 9v-4m0-74v-4m1 118v-4m0 0v-4m0 0v-4m0-70v-4m1 144v-4m1-148v-4m0 0v-4m1 127v-4m1-12v-4m0-62v-4m0-45v-4m0-13v-4m0-20v-4m0 0v-4m1 238v-4m0-21v-4m0-12v-4m0-140v-4m1 139v-4m0-4v-4m0 0v-4m0-25v-4m0 0v-4m0-57v-4m0-58v-4m1 197v-4m0-4v-4m0 0v-4m0-42v-4m0-12v-4m0 0v-4m0-12v-4m1 86v-4m0-58v-4m0-66v-4m0-4v-4m0 0v-4m0-33v-4m0 0v-4m1 201v-4m0 0v-4m0 0v-4m0-115v-4m0-17v-4m0-16v-4m0-17v-4m0-12v-4m0 0v-4m1 192v-4m0-90v-4m0 0v-4m0-29v-4m0-45v-4m0-4v-4m1 119v-4m0-17v-4m0-25v-4m1 152v-4m0 0v-4m0-37v-4m0 0v-4m0-9v-4m0-102v-4m0 0v-4m0-21v-4m1 197v-4m0-127v-4m1 73v-4m0-12v-4m0-49v-4m0-1v-4m0 0v-4m0-37v-4m0-24v-4m1 160v-4m0-25v-4m0-41v-4m0-13v-4m0-37v-4m0 0v-4m1 197v-4m0-209v-4m1 221v-4m0 0v-4m0-49v-4m0 0v-4m1 53v-4m0-95v-4m0-94v-4m1 106v-4m0-20v-4m0-4v-4m0-50v-4m0-4v-4m1 189v-4m0 0v-4m0-152v-4m0 0v-4m0-29v-4m0 0v-4m1 205v-4m0-37v-4m0-148v-4m1 156v-4m0-5v-4m0-37v-4m0 0v-4m0-45v-4m0 0v-4m0-4v-4m0 0v-4m0-21v-4m1 74v-4m0-4v-4m0-1v-4m0-45v-4m0 0v-4m1 177v-4m0-1v-4m0-74v-4m0-53v-4m0-17v-4m1 152v-4m0 0v-4m0 0v-4m1 16v-4m0-33v-4m0-8v-4m0-94v-4m0-1v-4m1 160v-4m0-90v-4m0-62v-4m0-4v-4m1 164v-4m0 0v-4m0 0v-4m0 0v-4m0-17v-4m0-20v-4m0 0v-4m0 0v-4m0-25v-4m0 0v-4m0-41v-4m1 168v-4m0-78v-4m0 0v-4m0-91v-4m0 0v-4m1 193v-4m0-21v-4m0 0v-4m0 0v-4m0-82v-4m1 41v-4m0 0v-4m0 0v-4m0-21v-4m1 127v-4m0 0v-4m0 0v-4m0-21v-4m0-29v-4m0 0v-4m0-12v-4m0 0v-4m0 0v-4m0-21v-4m0 0v-4m0-37v-4m1 24v-4m0 0v-4m0 0v-4m0-41v-4m0 0v-4m0-4v-4m1 172v-4m0-21v-4m0-8v-4m0-119v-4m0 0v-4m1 135v-4m0 0v-4m0-21v-4m0-8v-4m0-4v-4m0 0v-4m0-21v-4m1-25v-4m0-24v-4m1 115v-4m0-1v-4m0 0v-4m0 0v-4m0-37v-4m0 0v-4m0-4v-4m1 111v-4m0-136v-4m1 144v-4m0-1v-4m0-69v-4m0-37v-4m0-13v-4m1 185v-4m0-21v-4m0-45v-4m0-29v-4m0 0v-4m1 65v-4m0-8v-4m0 0v-4m0 0v-4m1 86v-4m0-94v-4m0-58v-4m1 74v-4m0-13v-4m1 91v-4m0-1v-4m0 0v-4m1-16v-4m0 0v-4m0-74v-4m0-25v-4m0-17v-4m1 165v-4m0-1v-4m0-123v-4m1 41v-4m0-8v-4m1 127v-4m0 0v-4m0-41v-4m0-140v-4m1 139v-4m0-20v-4m0-41v-4m1 119v-4m0-13v-4m0 0v-4m1-62v-4m0 0v-4m0-90v-4m0 0v-4m1 189v-4m0-33v-4m0-1v-4m0-82v-4m1 152v-4m0-160v-4m0-45v-4m1 225v-4m0 0v-4m0 0v-4m0-74v-4m0-33v-4m0-4v-4m0 0v-4m0-70v-4m0-4v-4m1 156v-4m0-9v-4m0-78v-4m0 0v-4m1 98v-4m0 0v-4m0-16v-4m0-17v-4m0-33v-4m0 0v-4m0 0v-4m1 111v-4m0 0v-4m0 0v-4m0-140v-4m1 123v-4m1 90v-4m0 0v-4m0 0v-4m0-99v-4m0-8v-4m0-25v-4m0 0v-4m0-53v-4m1 123v-4m0-13v-4m0 0v-4m0-16v-4m0-9v-4m0-61v-4m0 0v-4m1 184v-4m1-70v-4m0-8v-4m0 0v-4m0-29v-4m0-4v-4m0-4v-4m0 0v-4m0 0v-4m0-5v-4m0 0v-4m1 111v-4m0 0v-4m0-95v-4m0-12v-4m1 148v-4m0-50v-4m0 0v-4m0 0v-4m0-29v-4m1 74v-4m0-49v-4m0-33v-4m0-13v-4m0 0v-4m0 0v-4m0-12v-4m1 209v-4m0 0v-4m0-25v-4m0-21v-4m0-24v-4m0-17v-4m0 0v-4m0 0v-4m0 0v-4m1 94v-4m0-41v-4m0-90v-4m0-9v-4m0-12v-4m0 0v-4m0 0v-4m1 135v-4m0-4v-4m0 0v-4m0 0v-4m0-1v-4m0 0v-4m0-37v-4m0 0v-4m0-29v-4m1 58v-4m1 115v-4m0-5v-4m0-29v-4m0-110v-4m1 69v-4m0 0v-4m0-12v-4m0-70v-4m1 164v-4m0-58v-4m1 58v-4m0 0v-4m0-70v-4m0-25v-4m0 0v-4m0 0v-4m0-33v-4m1 86v-4m0 0v-4m0 0v-4m1 119v-4m0-83v-4m0-20v-4m0 0v-4m0-9v-4m0 0v-4m1 95v-4m0-25v-4m0 0v-4m0-33v-4m0 0v-4m0-66v-4m1 82v-4m0 0v-4m0-37v-4m1 139v-4m0-33v-4m0-98v-4m0 0v-4m0-1v-4m1 148v-4m0-57v-4m0-50v-4m1 140v-4m0-107v-4m0-25v-4m0 0v-4m0 0v-4m0-37v-4m1 189v-4m0-54v-4m0-115v-4m0 0v-4m1 156v-4m0 0v-4m0 0v-4m0-46v-4m0-57v-4m1 139v-4m0 0v-4m0-8v-4m0 0v-4m0-33v-4m0 0v-4m0-5v-4m0-90v-4m1 189v-4m0 0v-4m0-95v-4m0-53v-4m0-21v-4m0-4v-4m0 0v-4m1 127v-4m0 0v-4m0-29v-4m0 0v-4m0-17v-4m0 0v-4m0 0v-4m1 152v-4m0-37v-4m0 0v-4m0-17v-4m0 0v-4m0-86v-4m0-17v-4m1 25v-4m0 0v-4m1 188v-4m0-24v-4m0-120v-4m0 0v-4m0 0v-4m1 136v-4m0-70v-4m0 0v-4m1 57v-4m0-17v-4m0-74v-4m0-12v-4m0 0v-4m1 66v-4m0-95v-4m1 86v-4m0-41v-4m0 0v-4m1 94v-4m0-33v-4m0-29v-4m0-4v-4m0 0v-4m0 0v-4m1 66v-4m0-1v-4m0 0v-4m0-4v-4m0-45v-4m0-4v-4m1 192v-4m0-115v-4m0 0v-4m0 0v-4m0-12v-4m0 0v-4m0-5v-4m0-32v-4m1 143v-4m0-86v-4m0-74v-4m0 0v-4m1 217v-4m0-20v-4m0-50v-4m0-25v-4m0-4v-4m0 0v-4m0 0v-4m0-4v-4m0 0v-4m0-74v-4m1 98v-4m0-21v-4m0 0v-4m1 123v-4m0-8v-4m0-21v-4m0-143v-4m1 139v-4m0 0v-4m0 0v-4m0-37v-4m0 0v-4m0 0v-4m1 4v-4m0-17v-4m0-16v-4m0 0v-4m0-21v-4m1 156v-4m0-50v-4m0 0v-4m0 0v-4m0-16v-4m0-29v-4m2 156v-4m0-181v-4m1 152v-4m0 0v-4m0-74v-4m0 0v-4m0-9v-4m1 111v-4m0 0v-4m0-74v-4m1 123v-4m0 0v-4m0-82v-4m0 0v-4m0-1v-4m0-33v-4m1 0v-4m0 0v-4m0-4v-4m0-16v-4m0-1v-4m1 123v-4m0-16v-4m0-119v-4m0 0v-4m0 0v-4m1 176v-4m0-58v-4m0 0v-4m0-45v-4m1 45v-4m0-41v-4m0-4v-4m0-29v-4m1 41v-4m0 0v-4m0-13v-4m1 66v-4m1 49v-4m0 0v-4m0-49v-4m0-13v-4m0 0v-4m0-41v-4m0 0v-4m1 102v-4m0 0v-4m0 0v-4m0-86v-4m1 217v-4m0-82v-4m0-37v-4m0-53v-4m0-29v-4m0 0v-4m1 217v-4m0 0v-4m0-90v-4m0-17v-4m0 0v-4m0-13v-4m1-4v-4m1 90v-4m0-94v-4m1-45v-4m0 0v-4m1 102v-4m0-16v-4m0-25v-4m0 0v-4m0-4v-4m0-13v-4m0 0v-4m2 168v-4m0 0v-4m0-70v-4m1 17v-4m0-62v-4m0-25v-4m0 0v-4m0 0v-4m0-8v-4m1 217v-4m0-53v-4m0-21v-4m0-25v-4m0 0v-4m0-62v-4m0 0v-4m1 41v-4m0-8v-4m1-37v-4m1 123v-4m0 0v-4m1 20v-4m0-127v-4m0 0v-4m0 0v-4m1 4v-4m0 0v-4m1 176v-4m0-156v-4m0 0v-4m1 65v-4m0 0v-4m0-4v-4m1 29v-4m1-70v-4m2 119v-4m0 0v-4m0-9v-4m0 0v-4m0 0v-4m0-49v-4m0-4v-4m0-1v-4m0 0v-4m1 91v-4m1 8v-4m0-13v-4m0 0v-4m0 0v-4m1 82v-4m0 0v-4m0-17v-4m0-33v-4m0 0v-4m0-70v-4m1 152v-4m0-20v-4m0-54v-4m0-33v-4m0 0v-4m0 0v-4m0-49v-4m1 12v-4m1 33v-4m1 53v-4m0-62v-4m0 0v-4m0-4v-4m0 0v-4m0 0v-4m1 180v-4m0-16v-4m0-66v-4m0-21v-4m0 0v-4m0-21v-4m0 0v-4m0 0v-4m1 119v-4m0-4v-4m0-41v-4m0 0v-4m0 0v-4m0-37v-4m1 86v-4m0 0v-4m0-91v-4m1 189v-4m0-29v-4m0-4v-4m0 0v-4m0 0v-4m0-21v-4m0 0v-4m0-41v-4m0-54v-4m0 0v-4m1 177v-4m0-99v-4m0-25v-4m2 99v-4m0-21v-4m0-33v-4m0-25v-4m0-53v-4m0 0v-4m1 115v-4m0-9v-4m0 0v-4m0-29v-4m0 0v-4m0-45v-4m0 0v-4m0 0v-4m1 41v-4m0 0v-4m0-1v-4m1 33v-4m0-33v-4m1 189v-4m0-4v-4m0-54v-4m1-16v-4m0 0v-4m0-29v-4m0-45v-4m1 65v-4m1 8v-4m0-8v-4m0-8v-4m0-66v-4m0 0v-4m1 160v-4m0-37v-4m0 0v-4m0-1v-4m0-74v-4m0-16v-4m1 180v-4m0-16v-4m0 0v-4m0 0v-4m0 0v-4m1-13v-4m0-82v-4m0 0v-4m1-4v-4m0-13v-4m0 0v-4m1 148v-4m0-29v-4m0 0v-4m1 24v-4m0-78v-4m0-29v-4m1 128v-4m0-1v-4m0-4v-4m0 0v-4m1-8v-4m0-58v-4m0-8v-4m0 0v-4m0-45v-4m1 139v-4m0 0v-4m0 0v-4m0-4v-4m0 0v-4m0-17v-4m0-58v-4m0 0v-4m1 70v-4m0 0v-4m0 0v-4m0 0v-4m0 0v-4m1-5v-4m1 70v-4m0-107v-4m1 33v-4m1-29v-4m1 16v-4m0 0v-4m1 127v-4m0-139v-4m2 131v-4m0 0v-4m0-127v-4m1 139v-4m0 0v-4m0-78v-4m1 94v-4m0-37v-4m0 0v-4m0-29v-4m0-25v-4m1 103v-4m0-17v-4m0-90v-4m1 164v-4m0-70v-4m0-16v-4m1 8v-4m0 0v-4m0 0v-4m1-29v-4m0 0v-4m0 0v-4m1 147v-4m0-53v-4m0 0v-4m0-70v-4m1 20v-4m0 0v-4m1 57v-4m0-16v-4m0 0v-4m0-9v-4m1-4v-4m0 0v-4m0-20v-4m0-1v-4m1 169v-4m1-25v-4m0 0v-4m0-54v-4m0 0v-4m0 0v-4m0 0v-4m0 0v-4m0-74v-4m1 176v-4m0-24v-4m0-103v-4m0 0v-4m1 102v-4m0 0v-4m0-29v-4m0 0v-4m0-8v-4m0 0v-4m1-37v-4m6 78v-4m7-66v-4m0-29v-4m1 197v-4m1-181v-4m0 0v-4m0 0v-4m4 111v-4m17-82v-4m0-1v-4m1 25v-4m0 0v-4m0 0v-4m1 127v-4m23 49v-4m57-115v-4m8-78v-4m7-8v-4m4 41v-4m0-1v-4m0 0v-4m12 251v-4m47-136v-4m90 78v-4m0 0v-4m46 24v-4m55 21v-4m0 0v-4m0 0v-4m25-222v-4m0 0v-4m93 32v-4m12 119v-4m0 0v-4m0 0v-4m5-74v-4m0 0v-4m5-41v-4m24 78v-4m2-58v-4m1 41v-4m1-37v-4m7 29v-4m3-25v-4m3 222v-4m0-1v-4m2-131v-4m0 0v-4m0-78v-4m0-4v-4m3 172v-4m0-62v-4m2-45v-4m13 176v-4m0-53v-4m12-78v-4m0 0v-4m4-66v-4m0 0v-4m0 0v-4m2 115v-4m1-111v-4m5 69v-4m1 95v-4m1-54v-4m1 33v-4m1-37v-4m0 0v-4m0 0v-4m1 53v-4m0-66v-4m0 0v-4m1 197v-4m3-123v-4m0-29v-4m1 111v-4m0-107v-4m0-74v-4m1 32v-4m1 21v-4m1 49v-4m0 0v-4m4-49v-4m2 28v-4m0 0v-4m4-37v-4m0 0v-4m0 0v-4m1 147v-4m0 0v-4m1-123v-4m1 185v-4m0-21v-4m1-86v-4m0-4v-4m1 139v-4m0-193v-4m0 0v-4m1 90v-4m0 0v-4m0-25v-4m0 0v-4m2-4v-4m0-41v-4m1-4v-4m2 16v-4m1 119v-4m0 0v-4m1-74v-4m0-4v-4m1 16v-4m0 0v-4m0-13v-4m2-8v-4m1 185v-4m1-25v-4m2-70v-4m0-78v-4m1 156v-4m0 0v-4m0-5v-4m1-69v-4m1-66v-4m0 0v-4m1 53v-4m0-25v-4m0 0v-4m1 168v-4m0 0v-4m0 0v-4m0-86v-4m0-33v-4m1 94v-4m0 0v-4m0-103v-4m2-8v-4m0 0v-4m4 61v-4m0 0v-4m2 45v-4m0-57v-4m3 37v-4m0-62v-4m1 86v-4m2 33v-4m0-54v-4m0 0v-4m0 0v-4m3 0v-4m4 168v-4m2-115v-4m0-86v-4m2 90v-4m2-4v-4m1 139v-4m1 33v-4m0-156v-4m1 98v-4m0 0v-4m0 0v-4m3-74v-4m0-12v-4m1-21v-4m1-37v-4m0 0v-4m0 0v-4m2 45v-4m10-33v-4"/>
<path stroke="#ebebff" d="m90 214v-4m2-115v-4m1-33v-4m4 86v-4m3 66v-4m9-62v-4m17 148v-4m8-177v-4m4 98v-4m0 0v-4m0 0v-4m21 103v-4m5-62v-4m2-21v-4m0 0v-4m7 91v-4m12-226v-4m6 156v-4m1-17v-4m12 66v-4m2-189v-4m9 123v-4m4 32v-4m0-37v-4m1 95v-4m10 32v-4m0 0v-4m0 0v-4m2 33v-4m0 0v-4m16-181v-4m2 16v-4m1 177v-4m0 0v-4m0 0v-4m0-115v-4m3-54v-4m1 172v-4m1-217v-4m0 0v-4m0 0v-4m1 65v-4m0 0v-4m2 33v-4m0-25v-4m0 0v-4m0 0v-4m0-21v-4m1 131v-4m6-82v-4m0-8v-4m0-45v-4m3 65v-4m4-4v-4m0-25v-4m1 29v-4m0-49v-4m1 98v-4m0-37v-4m0-21v-4m0 0v-4m0-4v-4m0 0v-4m0 0v-4m1 33v-4m0-1v-4m0-4v-4m0 0v-4m0 0v-4m1 41v-4m0 0v-4m0-17v-4m0-8v-4m0-12v-4m1 57v-4m0-21v-4m0-20v-4m1 37v-4m0-1v-4m0 0v-4m0-8v-4m0 0v-4m0 0v-4m1 90v-4m0-45v-4m0-4v-4m0-17v-4m0-4v-4m0 0v-4m0 0v-4m1 119v-4m0-29v-4m0-17v-4m0 0v-4m0-8v-4m0 0v-4m0-29v-4m1 45v-4m0 0v-4m0 0v-4m0 0v-4m0-1v-4m0-24v-4m0 0v-4m1 90v-4m0-37v-4m0-33v-4m0-4v-4m1 98v-4m0-8v-4m0-5v-4m0 0v-4m0 0v-4m0 0v-4m0-33v-4m1 62v-4m0-17v-4m0 0v-4m1 37v-4m0-17v-4m0-12v-4m0 0v-4m0 0v-4m0-13v-4m0 0v-4m0 0v-4m1 8v-4m0 0v-4m0-16v-4m1 106v-4m0 0v-4m0-8v-4m0 0v-4m0-21v-4m0 0v-4m0-17v-4m0-16v-4m0-8v-4m1 90v-4m0 0v-4m0 0v-4m0-1v-4m0-32v-4m1 61v-4m0-12v-4m0-5v-4m0 0v-4m0-8v-4m0 0v-4m0 0v-4m0-17v-4m1 82v-4m0-37v-4m0 0v-4m1 25v-4m0-5v-4m0-16v-4m0-8v-4m0-9v-4m0 0v-4m1 49v-4m0 0v-4m0 0v-4m0-21v-4m0 0v-4m1 86v-4m0-28v-4m0-5v-4m0 0v-4m0-20v-4m0-9v-4m0 0v-4m1 86v-4m0 0v-4m0-4v-4m0-4v-4m0-58v-4m1 66v-4m0 0v-4m0-5v-4m0 0v-4m0-28v-4m0-1v-4m0-8v-4m0 0v-4m1 98v-4m0 0v-4m0-24v-4m0-13v-4m5 136v-4m0-1v-4m0 0v-4m12 78v-4m2 33v-4m3-197v-4m2 180v-4m1-250v-4m1 234v-4m0-140v-4m1 45v-4m0-12v-4m2-74v-4m4 238v-4m0 0v-4m2-79v-4m0-160v-4m0 0v-4m2 255v-4m0-1v-4m0 0v-4m0-70v-4m0-98v-4m0 0v-4m0 0v-4m0-46v-4m2 4v-4m0 0v-4m4-8v-4m0 0v-4m1 213v-4m1 53v-4m0-49v-4m1-189v-4m0 0v-4m1 148v-4m2 143v-4m0-213v-4m3 156v-4m0-165v-4m0 0v-4m1 12v-4m1 169v-4m2-115v-4m0-1v-4m0-37v-4m1-16v-4m0 0v-4m0-29v-4m2 143v-4m0 0v-4m0 0v-4m1-102v-4m1 143v-4m0 0v-4m2-119v-4m0 0v-4m1-33v-4m0-4v-4m1 139v-4m1-12v-4m0-9v-4m0 0v-4m0-29v-4m0 0v-4m0 0v-4m1 37v-4m0-8v-4m0 0v-4m0-1v-4m0-32v-4m2 40v-4m2 87v-4m1-62v-4m1 8v-4m0 0v-4m3 20v-4m0-57v-4m0 0v-4m1 119v-4m0-1v-4m0-45v-4m0 0v-4m0-4v-4m1 4v-4m0-17v-4m0 0v-4m2 62v-4m0 0v-4m2 0v-4m1-5v-4m2-41v-4m2-25v-4m0 0v-4m1 58v-4m1 78v-4m0-107v-4m0 0v-4m0 0v-4m1 24v-4m1 115v-4m0 0v-4m1-58v-4m0-33v-4m3 4v-4m2 49v-4m1-69v-4m0-1v-4m0 0v-4m1 82v-4m0-24v-4m0-58v-4m0 0v-4m0-8v-4m1 160v-4m0-50v-4m0-25v-4m0 0v-4m0-12v-4m0 0v-4m1 106v-4m0 0v-4m0-53v-4m0-29v-4m0 0v-4m0-33v-4m1 29v-4m0 0v-4m1 90v-4m0 0v-4m0-21v-4m0 0v-4m0-4v-4m0-25v-4m0-33v-4m0 0v-4m1 148v-4m1-21v-4m0-70v-4m0 0v-4m0-4v-4m0-4v-4m0-1v-4m0 0v-4m0 0v-4m1 127v-4m0-8v-4m0-45v-4m0 0v-4m0-17v-4m0-20v-4m1 98v-4m2 33v-4m0 0v-4m1-95v-4m0-33v-4m0 0v-4m0-4v-4m0-4v-4m1 139v-4m0 0v-4m0-21v-4m0-41v-4m1 33v-4m0-62v-4m1 140v-4m0-70v-4m0 0v-4m0-17v-4m0 0v-4m0-16v-4m0-1v-4m0 0v-4m1 86v-4m0-86v-4m1 29v-4m0 0v-4m0 0v-4m0-5v-4m0 0v-4m0 0v-4m0-4v-4m0 0v-4m0 0v-4m1 151v-4m0-45v-4m0-25v-4m0-4v-4m1 251v-4m1-181v-4m0-29v-4m0-37v-4m0 0v-4m1 115v-4m0 0v-4m0-1v-4m0-127v-4m1 103v-4m1-25v-4m0-37v-4m0 0v-4m0 0v-4m1 41v-4m0-1v-4m0-61v-4m1 94v-4m0 0v-4m0 0v-4m0-58v-4m0 0v-4m1 78v-4m0-21v-4m0-16v-4m0 0v-4m0-17v-4m1 91v-4m0-1v-4m0-12v-4m0 0v-4m0-37v-4m1 20v-4m0 0v-4m0-49v-4m0 0v-4m1 139v-4m0-115v-4m1 123v-4m0-78v-4m0 0v-4m0-17v-4m0-12v-4m1 74v-4m0-4v-4m0-1v-4m0 0v-4m0 0v-4m0 0v-4m0-8v-4m0 0v-4m0-17v-4m1 148v-4m0-82v-4m0-5v-4m0 0v-4m0 0v-4m0-37v-4m0 0v-4m0-16v-4m1 151v-4m0-49v-4m0-25v-4m0 0v-4m0-12v-4m0 0v-4m0-9v-4m1 132v-4m0-70v-4m0-5v-4m0 0v-4m0-12v-4m1 123v-4m0 0v-4m0 0v-4m0-58v-4m0-57v-4m0 0v-4m0-1v-4m1 41v-4m0 0v-4m0-4v-4m0 0v-4m1 131v-4m0 0v-4m0-53v-4m0-66v-4m0 0v-4m0-41v-4m1 73v-4m0-4v-4m0-16v-4m0 0v-4m1 135v-4m0 0v-4m0 0v-4m0-29v-4m0-66v-4m0 0v-4m0 0v-4m0-8v-4m1 94v-4m0-70v-4m0 0v-4m0 0v-4m0 0v-4m0-5v-4m1 128v-4m0-17v-4m0-8v-4m0 0v-4m0-33v-4m1 53v-4m0 0v-4m0-33v-4m0 0v-4m0 0v-4m1 78v-4m0-1v-4m0-49v-4m0-33v-4m0-4v-4m0-8v-4m0 0v-4m0-33v-4m1 155v-4m0-90v-4m0-21v-4m0 0v-4m1 103v-4m0-13v-4m1-4v-4m0-37v-4m1 70v-4m0 0v-4m0-74v-4m1 82v-4m0 0v-4m0-5v-4m0 0v-4m0-24v-4m0-1v-4m1 54v-4m0-9v-4m0-28v-4m0-1v-4m1 37v-4m0-29v-4m0-16v-4m0-25v-4m1 131v-4m0 0v-4m0-61v-4m1-29v-4m0-17v-4m2 74v-4m0-4v-4m0-21v-4m0 0v-4m0 0v-4m1 57v-4m0 0v-4m0-16v-4m0-4v-4m0-1v-4m0-16v-4m0 0v-4m0-21v-4m0-8v-4m0 0v-4m1 119v-4m0-29v-4m0 0v-4m0 0v-4m2-29v-4m0-45v-4m2 139v-4m0 0v-4m0-4v-4m0 0v-4m0-78v-4m0-1v-4m1 78v-4m0 0v-4m0 0v-4m0-49v-4m0-17v-4m0 0v-4m0 0v-4m1 82v-4m0-58v-4m1 95v-4m0 0v-4m0-66v-4m0-21v-4m0-4v-4m0-8v-4m0 0v-4m1 77v-4m1-20v-4m0 0v-4m0-9v-4m1 50v-4m1 12v-4m0-62v-4m0-4v-4m0 0v-4m1 115v-4m1 57v-4m0 0v-4m0 0v-4m1-62v-4m0-45v-4m0-29v-4m0 0v-4m1 90v-4m0-8v-4m0 0v-4m1-58v-4m1 135v-4m0 0v-4m0 0v-4m0 0v-4m0-107v-4m0 0v-4m1 37v-4m0 0v-4m0 0v-4m0-37v-4m1 217v-4m0-37v-4m0 0v-4m0-53v-4m0-29v-4m0-25v-4m0-16v-4m1 217v-4m0-103v-4m0-82v-4m0-25v-4m1 251v-4m3-42v-4m2-221v-4m1 37v-4m0-1v-4m3 197v-4m0 0v-4m1-111v-4m3 140v-4m2-78v-4m1 127v-4m0 0v-4m1-87v-4m0-102v-4m2 78v-4m1 143v-4m1-16v-4m0-21v-4m0 0v-4m1-45v-4m1 90v-4m0-62v-4m0 0v-4m0 0v-4m4-82v-4m6 94v-4m2 37v-4m0 0v-4m1 24v-4m3-53v-4m2 20v-4m0-197v-4m2 33v-4m0 0v-4m2 28v-4m1 173v-4m2-193v-4m4 225v-4m2-172v-4m1 115v-4m0 0v-4m4 57v-4m0 0v-4m0 0v-4m1 53v-4m0-107v-4m0-127v-4m1 225v-4m0-53v-4m0-132v-4m0-53v-4m1 119v-4m0 0v-4m0-95v-4m1 177v-4m0-21v-4m0-29v-4m0 0v-4m0-16v-4m1 164v-4m1-4v-4m0-1v-4m0 0v-4m0 0v-4m0-53v-4m0 0v-4m0-13v-4m0-111v-4m1-53v-4m1 197v-4m0-29v-4m0 0v-4m0-41v-4m0-87v-4m0-24v-4m1 209v-4m0 0v-4m0 0v-4m0-74v-4m0-37v-4m0-21v-4m2 201v-4m0 0v-4m0 0v-4m0-13v-4m0 0v-4m0-4v-4m0 0v-4m0 0v-4m0-21v-4m0-20v-4m0-95v-4m1 176v-4m0 0v-4m0-37v-4m0-29v-4m0-94v-4m1 61v-4m0-8v-4m0-12v-4m1 0v-4m0-1v-4m0 0v-4m0-61v-4m0 0v-4m1 180v-4m0-29v-4m0-16v-4m0-99v-4m0-8v-4m1 147v-4m0-53v-4m0-62v-4m0 0v-4m1 148v-4m0-78v-4m0-41v-4m0 0v-4m1 196v-4m0-16v-4m0 0v-4m0 0v-4m0-103v-4m0-70v-4m1 193v-4m0 0v-4m0 0v-4m0-13v-4m0-111v-4m0 0v-4m0-33v-4m0 0v-4m0-8v-4m0 0v-4m1 217v-4m0-53v-4m0 0v-4m0-83v-4m0-53v-4m0-8v-4m0 0v-4m1 147v-4m0 0v-4m0-29v-4m0 0v-4m0-49v-4m1 189v-4m0-37v-4m0-1v-4m0 0v-4m0-29v-4m0-32v-4m0-9v-4m0-37v-4m0 0v-4m0-29v-4m0-20v-4m1 53v-4m1 164v-4m0-12v-4m0-1v-4m0-65v-4m0 0v-4m0-66v-4m0-4v-4m0-13v-4m1 160v-4m0-45v-4m0 0v-4m0 0v-4m0-17v-4m1 103v-4m0 0v-4m0-1v-4m0-135v-4m0-13v-4m2 193v-4m0 0v-4m0-90v-4m0 0v-4m0-50v-4m0 0v-4m0 0v-4m0-12v-4m1 184v-4m0-94v-4m0-87v-4m1 144v-4m0-33v-4m0 0v-4m1 111v-4m0-41v-4m0-33v-4m0-25v-4m0-45v-4m0-1v-4m0 0v-4m0-33v-4m1 37v-4m0-29v-4m1 99v-4m0-4v-4m0 0v-4m0-5v-4m0 0v-4m1 25v-4m0-21v-4m0 0v-4m0-62v-4m0 0v-4m1 164v-4m0-8v-4m0-66v-4m1 86v-4m0-53v-4m0 0v-4m0-4v-4m0-5v-4m0-41v-4m0 0v-4m0 0v-4m0 0v-4m1 24v-4m1 152v-4m0 0v-4m0-37v-4m0-21v-4m0-65v-4m0-5v-4m0 0v-4m0-53v-4m0 0v-4m1 217v-4m0-4v-4m0-62v-4m0-4v-4m0-4v-4m0 0v-4m0-4v-4m0-33v-4m0-1v-4m0-8v-4m0-8v-4m1 143v-4m0 0v-4m0-16v-4m0-87v-4m1 119v-4m0-57v-4m0-41v-4m0-74v-4m1 123v-4m0 0v-4m0-25v-4m0-29v-4m0 0v-4m0 0v-4m0 0v-4m0 0v-4m1 143v-4m0 0v-4m0-41v-4m0-8v-4m0-33v-4m0 0v-4m0-1v-4m0-20v-4m0-13v-4m0-28v-4m1 192v-4m0-24v-4m0 0v-4m0-42v-4m0 0v-4m1 91v-4m0-38v-4m0 0v-4m0 0v-4m0-33v-4m0 0v-4m0-25v-4m0-20v-4m0-17v-4m0 0v-4m0 0v-4m0-4v-4m0-4v-4m1 184v-4m0-123v-4m0-4v-4m0-8v-4m0-25v-4m0 0v-4m1 184v-4m0-24v-4m0-25v-4m0-37v-4m0-4v-4m0-13v-4m1 177v-4m0-58v-4m0 0v-4m0-17v-4m0-33v-4m0 0v-4m0 0v-4m0-41v-4m0-4v-4m0-13v-4m0 0v-4m0 0v-4m0-16v-4m1 119v-4m0-17v-4m0-33v-4m0-20v-4m0-1v-4m1 144v-4m0 0v-4m0-45v-4m0-13v-4m0 0v-4m0-25v-4m0-49v-4m1 189v-4m0-13v-4m0-4v-4m0-12v-4m0-9v-4m0-28v-4m0-9v-4m0-29v-4m1 132v-4m0 0v-4m0-140v-4m1 180v-4m0-61v-4m0 0v-4m0-1v-4m0-28v-4m0-17v-4m0-49v-4m0-13v-4m0-4v-4m0 0v-4m0 0v-4m1 160v-4m0 0v-4m0 0v-4m1 16v-4m0 0v-4m0-4v-4m0-17v-4m0 0v-4m0-41v-4m0 0v-4m0-66v-4m0 0v-4m0 0v-4m1 172v-4m0 0v-4m0 0v-4m0-17v-4m0-4v-4m0 0v-4m0 0v-4m0-17v-4m0 0v-4m0-41v-4m0-4v-4m0-4v-4m0-9v-4m0 0v-4m0-4v-4m0 0v-4m1 201v-4m0 0v-4m0-115v-4m0 0v-4m0-4v-4m0-1v-4m0 0v-4m0-65v-4m1 184v-4m0 0v-4m0 0v-4m0-21v-4m0-33v-4m0 0v-4m0-8v-4m0 0v-4m1 123v-4m0 0v-4m0-45v-4m0-46v-4m0-24v-4m0-1v-4m0-28v-4m0-13v-4m1 189v-4m0-115v-4m0-33v-4m0 0v-4m0 0v-4m0-9v-4m0 0v-4m0-20v-4m1 172v-4m0-25v-4m0-111v-4m1 91v-4m0-62v-4m0-4v-4m0 0v-4m1 164v-4m0-99v-4m0-78v-4m0-4v-4m1 131v-4m0 0v-4m0-25v-4m0 0v-4m0-21v-4m1 136v-4m0-4v-4m0-46v-4m0-86v-4m1 152v-4m0-58v-4m0 0v-4m0 0v-4m0 0v-4m0-78v-4m0 0v-4m0-25v-4m1 152v-4m0 0v-4m0-37v-4m0-1v-4m0-98v-4m1 209v-4m0 0v-4m0-66v-4m0-20v-4m0-1v-4m1 107v-4m0 0v-4m0-25v-4m0-12v-4m0-21v-4m0-37v-4m0-29v-4m0 0v-4m0-33v-4m1 193v-4m0 0v-4m0-21v-4m0 0v-4m0 0v-4m0-53v-4m1 57v-4m0 0v-4m0 0v-4m0-45v-4m0-17v-4m0 0v-4m0-13v-4m1 82v-4m0 0v-4m0-45v-4m0-78v-4m1 123v-4m0-8v-4m0 0v-4m0-5v-4m0 0v-4m0-37v-4m0 0v-4m1 144v-4m0 0v-4m0 0v-4m0-1v-4m0-12v-4m0 0v-4m0 0v-4m0-13v-4m0 0v-4m0 0v-4m0-33v-4m0-25v-4m0-53v-4m0-4v-4m1 147v-4m0-8v-4m0 0v-4m0 0v-4m0-17v-4m0 0v-4m0 0v-4m0-61v-4m0-1v-4m1 169v-4m0 0v-4m0-1v-4m0-16v-4m0-37v-4m0 0v-4m0 0v-4m0-50v-4m1 156v-4m0-4v-4m0-8v-4m0-5v-4m0 0v-4m0-4v-4m0 0v-4m0 0v-4m0-8v-4m0-5v-4m0-12v-4m0 0v-4m0-17v-4m0-29v-4m0 0v-4m0-4v-4m0 0v-4m0-12v-4m0 0v-4m1 127v-4m0-25v-4m0 0v-4m0-58v-4m0 0v-4m0-8v-4m0-8v-4m0-5v-4m0 0v-4m0-12v-4m1 90v-4m0-29v-4m0-29v-4m0-8v-4m1 209v-4m0 0v-4m0-25v-4m0 0v-4m0-82v-4m0 0v-4m0 0v-4m0 0v-4m0-4v-4m0-25v-4m0-37v-4m0 0v-4m1 156v-4m0-1v-4m0-20v-4m0-8v-4m0-13v-4m0-21v-4m0-32v-4m0-13v-4m0 0v-4m1 172v-4m0-4v-4m0-33v-4m0-12v-4m0 0v-4m0-21v-4m0-17v-4m0 0v-4m0 0v-4m0-16v-4m0-33v-4m0 0v-4m0 0v-4m1 225v-4m0-66v-4m0-12v-4m0 0v-4m0-115v-4m0 0v-4m0 0v-4m1 213v-4m0-181v-4m0-16v-4m0 0v-4m0 0v-4m1 229v-4m0-57v-4m0 0v-4m0-5v-4m0-8v-4m0 0v-4m0 0v-4m0 0v-4m0-4v-4m0 0v-4m0-25v-4m0 0v-4m0-29v-4m0 0v-4m0 0v-4m1 156v-4m0-29v-4m0-95v-4m0-29v-4m0 0v-4m1 164v-4m0-16v-4m0 0v-4m0-58v-4m0 0v-4m1 115v-4m0 0v-4m0 0v-4m0 0v-4m0-87v-4m0-66v-4m0 0v-4m0 0v-4m0-4v-4m0 0v-4m0 0v-4m1 225v-4m0-74v-4m0-24v-4m0-50v-4m0 0v-4m0 0v-4m0 0v-4m0-21v-4m0 0v-4m0 0v-4m1 177v-4m0-66v-4m0 0v-4m0-9v-4m0-28v-4m0-9v-4m0-37v-4m0-16v-4m1 102v-4m0 0v-4m1 115v-4m0-152v-4m0 0v-4m0-21v-4m0 0v-4m1 193v-4m0 0v-4m0-29v-4m0 0v-4m0-13v-4m0 0v-4m0-4v-4m0-53v-4m0 0v-4m0-17v-4m0 0v-4m0 0v-4m0 0v-4m0-25v-4m0 0v-4m1 98v-4m0 0v-4m0-45v-4m0 0v-4m0-4v-4m0 0v-4m0-29v-4m0 0v-4m1 172v-4m0-99v-4m0-20v-4m0-17v-4m0 0v-4m0 0v-4m1 205v-4m0-37v-4m0-41v-4m0 0v-4m0-41v-4m0-33v-4m0 0v-4m0-1v-4m0 0v-4m0 0v-4m0 0v-4m0 0v-4m1 189v-4m0 0v-4m0-33v-4m0-91v-4m1 140v-4m0-13v-4m0 0v-4m0 0v-4m0-57v-4m0-1v-4m0-8v-4m0 0v-4m0-21v-4m0 0v-4m1 78v-4m0 0v-4m0-16v-4m0-79v-4m1 25v-4m1 144v-4m0-62v-4m0-17v-4m0-24v-4m0-1v-4m0 0v-4m0-12v-4m0 0v-4m0-17v-4m0 0v-4m0 0v-4m1 177v-4m0-9v-4m0-4v-4m0-78v-4m0-13v-4m0-12v-4m0-33v-4m1 131v-4m0 0v-4m0-45v-4m0 0v-4m1 65v-4m0 0v-4m0-8v-4m0-4v-4m0-21v-4m0-20v-4m0-62v-4m1 172v-4m0-12v-4m0 0v-4m0 0v-4m0-13v-4m0 0v-4m0 0v-4m0-45v-4m0-21v-4m1 123v-4m0-16v-4m0-1v-4m0-4v-4m0 0v-4m0-16v-4m0 0v-4m0-1v-4m0-65v-4m0 0v-4m0-9v-4m0 0v-4m0-4v-4m1 197v-4m0 0v-4m0 0v-4m0-74v-4m0-17v-4m0-25v-4m0-16v-4m0-13v-4m1-16v-4m1 115v-4m0-70v-4m0-8v-4m0-1v-4m1 91v-4m0 0v-4m0-91v-4m1 103v-4m0-66v-4m0-13v-4m0-12v-4m0-4v-4m0 0v-4m1 160v-4m0 0v-4m0-91v-4m0-45v-4m1 115v-4m0 0v-4m0 0v-4m0-1v-4m0-4v-4m0 0v-4m0-82v-4m0 0v-4m1 197v-4m0 0v-4m0-83v-4m0 0v-4m0 0v-4m0-4v-4m0-8v-4m0-29v-4m0-4v-4m0-5v-4m0 0v-4m0 0v-4m0-8v-4m1 193v-4m0-58v-4m0-12v-4m0-58v-4m1 99v-4m0-29v-4m0-17v-4m0-8v-4m0 0v-4m0-17v-4m0-24v-4m0-9v-4m1 160v-4m0-4v-4m0-115v-4m0 0v-4m0-21v-4m0 0v-4m0 0v-4m0-4v-4m0 0v-4m0 0v-4m1 77v-4m0 0v-4m0-28v-4m1 184v-4m0 0v-4m0-66v-4m0 0v-4m0-12v-4m0-4v-4m0-21v-4m0-58v-4m0-24v-4m1 205v-4m0 0v-4m0 0v-4m0-17v-4m0-37v-4m0-82v-4m0-37v-4m0 0v-4m1 188v-4m0 0v-4m0 0v-4m0-86v-4m0 0v-4m0 0v-4m0-1v-4m0-49v-4m0 0v-4m0-4v-4m0 0v-4m0 0v-4m1 172v-4m0-29v-4m0-12v-4m0 0v-4m0-1v-4m0 0v-4m0 0v-4m1 62v-4m0-41v-4m0-5v-4m0-65v-4m0-1v-4m0 0v-4m1 197v-4m0 0v-4m0-29v-4m0 0v-4m0 0v-4m0-8v-4m0 0v-4m0 0v-4m0-5v-4m0-86v-4m0 0v-4m0 0v-4m0-25v-4m0 0v-4m0 0v-4m0 0v-4m1 176v-4m0-20v-4m0-9v-4m0 0v-4m0 0v-4m0-21v-4m0-8v-4m0 0v-4m0-74v-4m0-4v-4m1 164v-4m0-45v-4m0-66v-4m0-45v-4m1 155v-4m0-20v-4m0 0v-4m0-4v-4m0-9v-4m0-29v-4m0-20v-4m0-37v-4m1 193v-4m0-58v-4m0-17v-4m1 95v-4m0 0v-4m0-9v-4m0-53v-4m0 0v-4m0 0v-4m0-21v-4m0 0v-4m0-13v-4m0-53v-4m0 0v-4m0 0v-4m1 217v-4m0 0v-4m0-4v-4m0 0v-4m0 0v-4m0-152v-4m1 184v-4m0 0v-4m0-107v-4m0-82v-4m0 0v-4m1 156v-4m0-49v-4m0 0v-4m0-33v-4m0-1v-4m0-20v-4m0 0v-4m1 135v-4m0-111v-4m0-12v-4m0 0v-4m1 147v-4m0-49v-4m0 0v-4m0-58v-4m0-20v-4m0-21v-4m1 148v-4m0 0v-4m0-1v-4m0 0v-4m1-33v-4m0-28v-4m1 77v-4m0-20v-4m0 0v-4m0 0v-4m0-37v-4m0-13v-4m0 0v-4m0 0v-4m1 119v-4m0-41v-4m0-4v-4m0-21v-4m0 0v-4m0-21v-4m0 0v-4m0 0v-4m0-45v-4m1 217v-4m0-4v-4m0-12v-4m0-1v-4m0-8v-4m0 0v-4m0-49v-4m0 0v-4m0-1v-4m0 0v-4m1 13v-4m0-79v-4m0 0v-4m1 127v-4m0 0v-4m0-12v-4m0-119v-4m0 0v-4m0 0v-4m1 192v-4m0 0v-4m0 0v-4m0-127v-4m0 0v-4m1 160v-4m0 0v-4m0-5v-4m0-33v-4m0 0v-4m0 0v-4m0 0v-4m0-82v-4m1 144v-4m0-1v-4m0-8v-4m1 4v-4m0-21v-4m0 0v-4m0 0v-4m0 0v-4m0-41v-4m0 0v-4m0-45v-4m0-13v-4m1 173v-4m0-99v-4m0-13v-4m0 0v-4m0-28v-4m1 94v-4m0-58v-4m0-8v-4m0-17v-4m1 82v-4m0-4v-4m0-16v-4m0 0v-4m0-1v-4m0-24v-4m0-37v-4m1 160v-4m0 0v-4m0-13v-4m0-37v-4m0 0v-4m0-90v-4m1 119v-4m0-83v-4m0 0v-4m1 168v-4m0-12v-4m0 0v-4m0-21v-4m0 0v-4m0-16v-4m0-33v-4m0-62v-4m1 209v-4m0-33v-4m0-33v-4m0 0v-4m0 0v-4m0 0v-4m0 0v-4m0-111v-4m0 0v-4m1 185v-4m0-17v-4m0-29v-4m0 0v-4m0-12v-4m0-17v-4m0 0v-4m0-17v-4m0-49v-4m0 0v-4m1 144v-4m0-25v-4m0-45v-4m0-46v-4m1 95v-4m0-21v-4m0-53v-4m0-21v-4m0 0v-4m2 123v-4m0 0v-4m0 0v-4m0-13v-4m0-82v-4m1 66v-4m0-33v-4m0-17v-4m0 0v-4m0 0v-4m1 193v-4m0-4v-4m0-1v-4m0-4v-4m0-16v-4m0 0v-4m0-1v-4m0-45v-4m0-4v-4m0-62v-4m1 95v-4m0-5v-4m0 0v-4m0-37v-4m0 0v-4m1 21v-4m0-25v-4m0-29v-4m0 0v-4m1 74v-4m0 0v-4m1 61v-4m1 0v-4m0 0v-4m0 0v-4m0-37v-4m0-9v-4m1 107v-4m0-25v-4m0 0v-4m0-29v-4m0 0v-4m0-37v-4m0-16v-4m0-21v-4m1 119v-4m0-62v-4m0-12v-4m0 0v-4m0-17v-4m0 0v-4m0-16v-4m1 41v-4m0-33v-4m1 53v-4m0-4v-4m1 8v-4m0-29v-4m2 86v-4m0-66v-4m0-20v-4m1 28v-4m1 185v-4m0 0v-4m0 0v-4m0-42v-4m0-4v-4m0-61v-4m0-9v-4m0 0v-4m0 0v-4m0-4v-4m0-37v-4m0 0v-4m0 0v-4m1 164v-4m0-29v-4m0-66v-4m0 0v-4m0-21v-4m0 0v-4m1 148v-4m0 0v-4m0-21v-4m0-86v-4m1 152v-4m0-58v-4m0 0v-4m0-90v-4m1 77v-4m0 0v-4m0 0v-4m0-4v-4m0 0v-4m0-21v-4m0-8v-4m0-8v-4m1 98v-4m0-49v-4m0 0v-4m0-1v-4m0 0v-4m0-28v-4m1 118v-4m0-49v-4m0 0v-4m0 0v-4m1 49v-4m0-12v-4m0 0v-4m0-9v-4m0 0v-4m0-53v-4m1 16v-4m0-33v-4m1 41v-4m0-17v-4m1 148v-4m0-29v-4m0-66v-4m0-45v-4m1 173v-4m0-1v-4m0 0v-4m0-29v-4m0 0v-4m0 0v-4m0-33v-4m0-4v-4m0-74v-4m0-16v-4m1 143v-4m0 0v-4m0-21v-4m0-28v-4m0-1v-4m0-8v-4m0-57v-4m1 53v-4m0 0v-4m0 0v-4m1 82v-4m0 0v-4m0-25v-4m0 0v-4m0 0v-4m0-70v-4m1 57v-4m0 0v-4m0-8v-4m0 0v-4m0-1v-4m0-24v-4m1 180v-4m0-49v-4m0-37v-4m0-58v-4m0-12v-4m0 0v-4m1 197v-4m0-144v-4m0-17v-4m1 156v-4m0 0v-4m0-62v-4m0-33v-4m1 115v-4m0-37v-4m0-53v-4m0-13v-4m0-53v-4m1 168v-4m0 0v-4m0 0v-4m0-66v-4m0-66v-4m0-16v-4m1 221v-4m0-37v-4m0-29v-4m0-8v-4m0 0v-4m0 0v-4m0 0v-4m0-13v-4m0-20v-4m0-29v-4m0 0v-4m0-17v-4m1 156v-4m0-25v-4m0-24v-4m0 0v-4m0 0v-4m0-38v-4m0 0v-4m0 0v-4m0-41v-4m0 0v-4m0 0v-4m1 143v-4m0 0v-4m0 0v-4m0-8v-4m0-8v-4m0-33v-4m0 0v-4m0-74v-4m1 192v-4m0-12v-4m0-8v-4m0-5v-4m0-53v-4m0-29v-4m0 0v-4m0 0v-4m0-49v-4m1 155v-4m0-24v-4m0-13v-4m0-74v-4m0 0v-4m0 0v-4m0-4v-4m0-8v-4m1 176v-4m0-21v-4m0-12v-4m0 0v-4m0 0v-4m0-37v-4m0 0v-4m0-1v-4m1 95v-4m0 0v-4m0 0v-4m0-21v-4m0-45v-4m0 0v-4m0-46v-4m0 0v-4m1 136v-4m0-1v-4m0 0v-4m0-20v-4m0-62v-4m0-12v-4m0 0v-4m1 94v-4m0 0v-4m0-50v-4m0 0v-4m0 0v-4m1 37v-4m0-8v-4m0-58v-4m0 0v-4m0 0v-4m0 0v-4m0 0v-4m1 65v-4m0 0v-4m0 0v-4m1 4v-4m1 20v-4m0 0v-4m0 0v-4m1 66v-4m0 0v-4m0 0v-4m0-54v-4m0 0v-4m0 0v-4m0-12v-4m1 98v-4m0 0v-4m0 0v-4m0-107v-4m1 156v-4m0 0v-4m0-74v-4m1 12v-4m0 0v-4m0 0v-4m0-9v-4m0-8v-4m0 0v-4m0-45v-4m1 164v-4m0 0v-4m1 16v-4m0-4v-4m0-41v-4m0 0v-4m1 53v-4m0 0v-4m0-74v-4m0-54v-4m0 0v-4m1 152v-4m0 0v-4m0-33v-4m0 0v-4m0 0v-4m0-50v-4m1 41v-4m0 0v-4m0 0v-4m0 0v-4m0-29v-4m0-45v-4m0 0v-4m1 193v-4m0-95v-4m0-33v-4m0 0v-4m0 0v-4m1 12v-4m0-4v-4m0-21v-4m0 0v-4m1 115v-4m0-4v-4m0-33v-4m0-4v-4m1 57v-4m0-45v-4m1-78v-4m1 180v-4m0-45v-4m0-41v-4m0-41v-4m1 155v-4m0-28v-4m0-5v-4m0-16v-4m0-8v-4m0-103v-4m0 0v-4m1 135v-4m0-12v-4m1 69v-4m0-24v-4m0-17v-4m0-127v-4m0 0v-4m1 197v-4m0-17v-4m0 0v-4m1 4v-4m0-78v-4m1-74v-4m1 201v-4m0-95v-4m0 0v-4m0 0v-4m2-21v-4m0 0v-4m1-20v-4m0 0v-4m0 0v-4m1 106v-4m0-94v-4m2 12v-4m0 0v-4m1 147v-4m0 0v-4m0 0v-4m0-82v-4m0 0v-4m4 90v-4m0-90v-4m0 0v-4m0-46v-4m1 86v-4m5 91v-4m0-50v-4m0 0v-4m0 0v-4m0-111v-4m2 45v-4m0 0v-4m1-16v-4m1-9v-4m0 0v-4m0 0v-4m0 0v-4m0 0v-4m3 94v-4m0-90v-4m1 45v-4m5 74v-4m4 24v-4m0-58v-4m0 0v-4m1 66v-4m0-62v-4m0 0v-4m34 53v-4m2 111v-4m2-197v-4m11 37v-4m2 123v-4m0-62v-4m0 0v-4m2-12v-4m4 0v-4m1 172v-4m14 20v-4m10-180v-4m0-1v-4m0 0v-4m1-16v-4m0 0v-4m12-25v-4m12 263v-4m14 20v-4m6-246v-4m4 221v-4m4-213v-4m4 78v-4m32-5v-4m0 0v-4m6-78v-4m26-12v-4m0 0v-4m24 32v-4m0 0v-4m11 29v-4m13 94v-4m9 74v-4m0-173v-4m7 70v-4m1-90v-4m4 41v-4m2 151v-4m0-37v-4m0 0v-4m17 49v-4m9 0v-4m0 0v-4m10-131v-4m13-21v-4m24 57v-4m0 0v-4m19-57v-4m0 0v-4m31 41v-4m7-21v-4m7-12v-4m39 139v-4m3 49v-4m0-20v-4m0-1v-4m0-131v-4m3 111v-4m1 69v-4m0-61v-4m0 0v-4m0 0v-4m1 61v-4m0 0v-4m1 4v-4m1-140v-4m1 173v-4m3 40v-4m0-160v-4m3 136v-4m2-103v-4m0 0v-4m1 102v-4m1-20v-4m1-58v-4m0-29v-4m0 0v-4m1 181v-4m0 0v-4m1-25v-4m3 57v-4m0-16v-4m0 0v-4m0-120v-4m2 66v-4m1 33v-4m0-144v-4m1-41v-4m0 0v-4m1 172v-4m0-95v-4m0-53v-4m1 53v-4m0 0v-4m0 0v-4m0-37v-4m1 70v-4m1 65v-4m0-90v-4m2 82v-4m0-4v-4m1-103v-4m0 0v-4m1 209v-4m0-12v-4m0-46v-4m5 50v-4m0-1v-4m1-90v-4m0 0v-4m1 102v-4m0 0v-4m1 8v-4m0 0v-4m0-16v-4m0 0v-4m0-87v-4m0 0v-4m1 66v-4m0-74v-4m2 193v-4m0 0v-4m0-1v-4m0-139v-4m0 0v-4m0-29v-4m2 201v-4m0-95v-4m1-49v-4m1 70v-4m0 0v-4m0-103v-4m1 217v-4m0 0v-4m3-37v-4m0-209v-4m1 246v-4m0 0v-4m0-29v-4m0-90v-4m0-54v-4m0-8v-4m0-25v-4m1 217v-4m0 0v-4m0 0v-4m0 0v-4m0-86v-4m0 0v-4m0 0v-4m1 0v-4m0-1v-4m0 0v-4m0 0v-4m0-61v-4m1 147v-4m0-144v-4m0 0v-4m1 152v-4m0 0v-4m0-8v-4m0-5v-4m0-65v-4m0-37v-4m0 0v-4m0-1v-4m1 123v-4m0 0v-4m0 0v-4m0-29v-4m0 0v-4m1 66v-4m0 0v-4m0-74v-4m0-29v-4m0-45v-4m0 0v-4m1 135v-4m1-4v-4m0 0v-4m1 57v-4m0-45v-4m0-4v-4m0-1v-4m0-8v-4m0-57v-4m0-1v-4m0-16v-4m0-8v-4m1 164v-4m0-62v-4m0 0v-4m0 0v-4m0-50v-4m1 45v-4m0 0v-4m0 0v-4m0 0v-4m1 127v-4m0-8v-4m0 0v-4m0-58v-4m0-8v-4m0-86v-4m1 176v-4m0-41v-4m0-115v-4m1 33v-4m0 0v-4m0-1v-4m1 201v-4m0 0v-4m0-37v-4m0 0v-4m0-12v-4m0 0v-4m0-99v-4m0 0v-4m0-45v-4m0 0v-4m1 250v-4m0-41v-4m0 0v-4m1 53v-4m0-234v-4m1 242v-4m0 0v-4m0-91v-4m0-4v-4m1 33v-4m0-33v-4m0-25v-4m1 62v-4m0-62v-4m0 0v-4m0 0v-4m1 86v-4m0-136v-4m1 148v-4m0-49v-4m0 0v-4m0-9v-4m0-37v-4m0 0v-4m1 135v-4m0 0v-4m0-111v-4m0-4v-4m0 0v-4m0-29v-4m1 70v-4m1 119v-4m0 0v-4m0-82v-4m0-46v-4m0-20v-4m0 0v-4m0-33v-4m1 258v-4m0 0v-4m0 0v-4m0-132v-4m0-45v-4m0 0v-4m0 0v-4m0-37v-4m1 185v-4m1 69v-4m0-70v-4m0 0v-4m0-45v-4m2 53v-4m1 70v-4m0-21v-4m0-37v-4m0-41v-4m0 0v-4m0 0v-4m0-29v-4m0-49v-4m0 0v-4m0-1v-4m0-20v-4m1 250v-4m0-70v-4m0-53v-4m0 0v-4m0-83v-4m1 222v-4m0-90v-4m1 36v-4m0 0v-4m0-127v-4m0 0v-4m3 213v-4m0 0v-4m0-144v-4m0 0v-4m1 70v-4m0-74v-4m0-74v-4m0 0v-4m0 0v-4m1 78v-4m1 110v-4m0-33v-4m0-139v-4m1 184v-4m0-41v-4m0-45v-4m1 176v-4m0-98v-4m0 0v-4m0-1v-4m0 0v-4m0-16v-4m0-4v-4m0-13v-4m0 0v-4m1 156v-4m0-21v-4m0 0v-4m0-111v-4m0 0v-4m1-25v-4m1 169v-4m0-62v-4m0 0v-4m0-13v-4m0-28v-4m0-17v-4m0 0v-4m0-4v-4m2 102v-4m0 0v-4m0-74v-4m0-16v-4m0 0v-4m0-1v-4m0-37v-4m1 140v-4m0-17v-4m0-20v-4m0-107v-4m1 98v-4m0 0v-4m0-78v-4m1 135v-4m0 0v-4m0-28v-4m1-29v-4m1 94v-4m0-115v-4m0-8v-4m1 201v-4m0 0v-4m0-70v-4m0 0v-4m0-1v-4m0-49v-4m0 0v-4m0-70v-4m0-12v-4m1 139v-4m0 0v-4m0-29v-4m0-16v-4m0 0v-4m1 41v-4m0-58v-4m0 0v-4m0-17v-4m1 152v-4m0 0v-4m0 0v-4m0-25v-4m0-115v-4m0 0v-4m1 222v-4m0-1v-4m0-16v-4m0-12v-4m0-1v-4m0-8v-4m0-16v-4m0-1v-4m0-115v-4m1 136v-4m0-4v-4m0-46v-4m0-94v-4m0 0v-4m1 217v-4m0 0v-4m0-99v-4m0-45v-4m1 144v-4m0-54v-4m0-41v-4m0 0v-4m0-58v-4m0 0v-4m1 152v-4m0-12v-4m0-33v-4m0-103v-4m1 181v-4m0-5v-4m0 0v-4m0-57v-4m0-37v-4m0-21v-4m0-12v-4m1 110v-4m0-4v-4m0-4v-4m0-25v-4m0-8v-4m1 168v-4m0 0v-4m0-54v-4m0-4v-4m0 0v-4m0-78v-4m0-41v-4m0-13v-4m0-12v-4m1 230v-4m0-54v-4m0-61v-4m0-37v-4m0-33v-4m0-25v-4m0 0v-4m0 0v-4m0 0v-4m1 254v-4m0 0v-4m0 0v-4m0-21v-4m0 0v-4m0-12v-4m0-50v-4m0 0v-4m0 0v-4m0-4v-4m0-33v-4m0-8v-4m0-5v-4m1 185v-4m0-4v-4m0 0v-4m0-46v-4m0 0v-4m0-61v-4m0 0v-4m0-1v-4m0 0v-4m0-8v-4m0 0v-4m0-13v-4m0 0v-4m0-45v-4m1 99v-4m0-83v-4m1 201v-4m0 0v-4m0-78v-4m0-25v-4m0-45v-4m0-8v-4m0 0v-4m0-17v-4m0-20v-4m1 270v-4m0 0v-4m0-37v-4m0-57v-4m0 0v-4m0-1v-4m0-32v-4m0-50v-4m0-41v-4m0 0v-4m1 226v-4m0-62v-4m0-8v-4m0-50v-4m0-66v-4m0 0v-4m1 197v-4m0-8v-4m0 0v-4m0-17v-4m0-53v-4m1 98v-4m0 0v-4m0-49v-4m0-9v-4m0 0v-4m0 0v-4m0-4v-4m0 0v-4m0-37v-4m0 0v-4m0 0v-4m0-5v-4m0-16v-4m0 0v-4m1 164v-4m0 0v-4m0-29v-4m0 0v-4m0-58v-4m0-82v-4m0-12v-4m1 221v-4m0-70v-4m0-12v-4m0-66v-4m0-16v-4m0-17v-4m1 205v-4m0-8v-4m0-78v-4m0-8v-4m0-1v-4m0-61v-4m1 156v-4m0-95v-4m0 0v-4m0 0v-4m0-33v-4m0-29v-4m1 177v-4m0-17v-4m0 0v-4m0-29v-4m0-21v-4m0 0v-4m0-94v-4m1 234v-4m0 0v-4m0-1v-4m0-4v-4m0-37v-4m0-16v-4m0-29v-4m0-8v-4m0-1v-4m0 0v-4m0-4v-4m0-41v-4m0 0v-4m0-4v-4m0 0v-4m0-1v-4m0-24v-4m1 106v-4m0-45v-4m0-4v-4m0-21v-4m0-20v-4m1 217v-4m0-16v-4m0-46v-4m0-37v-4m0-8v-4m0-13v-4m0-4v-4m0 0v-4m0 0v-4m0-21v-4m0-12v-4m1 242v-4m0-8v-4m0-17v-4m0-29v-4m0 0v-4m0 0v-4m0-12v-4m0-21v-4m0 0v-4m0 0v-4m0-54v-4m0-8v-4m0-57v-4m1 254v-4m0-45v-4m0 0v-4m0-29v-4m0-9v-4m0 0v-4m0 0v-4m0-8v-4m0 0v-4m0-13v-4m0 0v-4m0-12v-4m0 0v-4m0-33v-4m0-25v-4m0 0v-4m0-4v-4m0 0v-4m1 221v-4m0 0v-4m0-20v-4m0-66v-4m0-25v-4m0 0v-4m0-37v-4m0 0v-4m0-4v-4m0-1v-4m1 177v-4m0 0v-4m0 0v-4m0-25v-4m0-8v-4m0-5v-4m0-16v-4m0 0v-4m0 0v-4m0 0v-4m0-1v-4m1 82v-4m0-33v-4m0-49v-4m0-66v-4m0 0v-4m0 0v-4m0 0v-4m1 189v-4m0-17v-4m0-4v-4m0-4v-4m0-9v-4m0-12v-4m0 0v-4m0-21v-4m1 95v-4m0-17v-4m0-16v-4m0-1v-4m0-16v-4m0-21v-4m0 0v-4m0 0v-4m0 0v-4m0-17v-4m0-16v-4m0-29v-4m1 189v-4m0-17v-4m0-98v-4m1 164v-4m0-25v-4m0-21v-4m0-8v-4m0 0v-4m0-12v-4m0-37v-4m0-5v-4m0-8v-4m0-4v-4m0-41v-4m0-9v-4m1 181v-4m0-17v-4m0 0v-4m0-16v-4m0 0v-4m0-1v-4m0 0v-4m0 0v-4m0-16v-4m0 0v-4m0 0v-4m0-29v-4m0 0v-4m0-5v-4m0 0v-4m0 0v-4m0-45v-4m0-4v-4m0 0v-4m1 41v-4m0-1v-4m1 103v-4m0 0v-4m0-66v-4m0-21v-4m0-28v-4m1 242v-4m0-21v-4m0-8v-4m0-4v-4m0-42v-4m0-12v-4m0-45v-4m1 37v-4m0-17v-4m1 139v-4m0-20v-4m0-33v-4m0 0v-4m0-13v-4m0-106v-4m0-1v-4m1 136v-4m0-33v-4m0 0v-4m0-4v-4m0-21v-4m0 0v-4m0 0v-4m0 0v-4m0-21v-4m1 205v-4m0 0v-4m0-66v-4m0-12v-4m0 0v-4m0-78v-4m0-17v-4m0-4v-4m0 0v-4m0-21v-4m0-8v-4m1 213v-4m0 0v-4m0-49v-4m0 0v-4m0-58v-4m0-49v-4m0-5v-4m0-8v-4m1 172v-4m0-20v-4m0-4v-4m0-46v-4m0 0v-4m0 0v-4m0 0v-4m0-4v-4m0-78v-4m1 197v-4m0 0v-4m0-116v-4m0-16v-4m0 0v-4m0-17v-4m1 205v-4m0 0v-4m0-28v-4m0-111v-4m0-33v-4m0-29v-4m0 0v-4m0 0v-4m1 192v-4m0-12v-4m0 0v-4m0-45v-4m0-5v-4m1 70v-4m0-25v-4m0-12v-4m0 0v-4m0-17v-4m0-33v-4m0 0v-4m0 0v-4m0-12v-4m0 0v-4m0-33v-4m1 221v-4m0 0v-4m0-33v-4m0 0v-4m0-12v-4m0-21v-4m0 0v-4m0 0v-4m0 0v-4m0-4v-4m0-87v-4m0 0v-4m0 0v-4m0 0v-4m0 0v-4m1 156v-4m0-9v-4m0-65v-4m0-9v-4m0 0v-4m1 152v-4m0 0v-4m0 0v-4m0-9v-4m0-8v-4m0 0v-4m0-45v-4m0-29v-4m0 0v-4m0-4v-4m0-29v-4m0 0v-4m0 0v-4m1 168v-4m0-33v-4m0 0v-4m0 0v-4m0-1v-4m0-57v-4m0 0v-4m0-21v-4m0 0v-4m0 0v-4m0 0v-4m0-8v-4m1 192v-4m0-33v-4m0 0v-4m0 0v-4m0 0v-4m0-49v-4m0 0v-4m0-13v-4m0-8v-4m0-41v-4m0 0v-4m1 188v-4m0-16v-4m0 0v-4m0 0v-4m0-5v-4m0-12v-4m0 0v-4m0 0v-4m0-9v-4m0-4v-4m0 0v-4m0-103v-4m0 0v-4m1 127v-4m0-86v-4m0-16v-4m0 0v-4m1 217v-4m0 0v-4m0-58v-4m0-41v-4m0 0v-4m0 0v-4m0 0v-4m0-119v-4m1 205v-4m0-66v-4m0 0v-4m0-4v-4m0 0v-4m0-5v-4m0-49v-4m1 152v-4m0 0v-4m0-13v-4m0-29v-4m0 0v-4m0-12v-4m0-12v-4m0-1v-4m0-45v-4m0-12v-4m0-33v-4m1 152v-4m0-1v-4m0 0v-4m0-41v-4m0-12v-4m0 0v-4m0-21v-4m1 107v-4m0-46v-4m0 0v-4m0 0v-4m0 0v-4m0 0v-4m0-12v-4m0-1v-4m0-8v-4m0-16v-4m1 110v-4m0 0v-4m0 0v-4m0 0v-4m0-82v-4m0 0v-4m0 0v-4m1 160v-4m0-25v-4m0-8v-4m0-17v-4m0-66v-4m0 0v-4m0-12v-4m0 0v-4m1 147v-4m0 0v-4m0-8v-4m0 0v-4m0-21v-4m0 0v-4m0 0v-4m0-29v-4m0-33v-4m1 156v-4m0-16v-4m0-17v-4m0-33v-4m0-53v-4m0-50v-4m0 0v-4m1 193v-4m0-78v-4m0-29v-4m0-25v-4m0 0v-4m0 0v-4m0-4v-4m0-37v-4m1 193v-4m0-21v-4m0-8v-4m0-148v-4m0 0v-4m1 209v-4m0 0v-4m0 0v-4m0-9v-4m0 0v-4m0 0v-4m0-41v-4m0 0v-4m0 0v-4m0 0v-4m0-29v-4m0 0v-4m0-9v-4m0 0v-4m0-20v-4m0 0v-4m1 53v-4m0-86v-4m1 197v-4m0-21v-4m0-8v-4m0-1v-4m0-106v-4m0-29v-4m0 0v-4m0 0v-4m1 209v-4m0-74v-4m0-37v-4m1 123v-4m0-66v-4m0 0v-4m0 0v-4m0-8v-4m0-1v-4m0-12v-4m0 0v-4m0-62v-4m0-16v-4m0 0v-4m1 184v-4m0-20v-4m1-58v-4m0-4v-4m0-4v-4m0-1v-4m0-45v-4m0-16v-4m1 221v-4m0 0v-4m0-20v-4m0-1v-4m0-12v-4m0 0v-4m0-21v-4m0 0v-4m0-57v-4m1 45v-4m0-37v-4m0-1v-4m0-24v-4m0-9v-4m0-20v-4m0 0v-4m1 238v-4m0 0v-4m0-13v-4m0 0v-4m0 0v-4m0-4v-4m0-13v-4m0 0v-4m0-16v-4m0-5v-4m0-4v-4m0 0v-4m0-12v-4m0-54v-4m1 103v-4m0 0v-4m0 0v-4m0-29v-4m0-13v-4m0-4v-4m0-45v-4m0 0v-4m0 0v-4m0-37v-4m1 188v-4m0-4v-4m0-4v-4m0 0v-4m0-115v-4m0 0v-4m0-29v-4m0 0v-4m0 0v-4m1 197v-4m0-79v-4m0 0v-4m0-12v-4m0 0v-4m0-37v-4m1 180v-4m0-20v-4m0-17v-4m0 0v-4m0 0v-4m0 0v-4m0-82v-4m0-5v-4m0-4v-4m0-4v-4m0 0v-4m0-17v-4m0 0v-4m1 201v-4m0-16v-4m0-13v-4m0-90v-4m0-17v-4m1 156v-4m0-20v-4m0 0v-4m0-1v-4m0-33v-4m0-86v-4m0 0v-4m0 0v-4m0 0v-4m0 0v-4m1 127v-4m0-78v-4m0 0v-4m0-74v-4m0 0v-4m1 160v-4m0-99v-4m0-4v-4m0 0v-4m1 184v-4m0-53v-4m0-9v-4m0-57v-4m0-13v-4m0 0v-4m0-49v-4m0 0v-4m0 0v-4m1 209v-4m0-74v-4m0 0v-4m0-45v-4m0-70v-4m1 180v-4m0 0v-4m0 0v-4m0-16v-4m0-5v-4m0-8v-4m0 0v-4m0 0v-4m0-8v-4m0-1v-4m0 0v-4m1 62v-4m0 0v-4m0-5v-4m0-86v-4m0-20v-4m0-1v-4m1 193v-4m0-24v-4m0-38v-4m0 0v-4m0 0v-4m0 0v-4m0-4v-4m0-25v-4m0-94v-4m0 0v-4m1 188v-4m0-12v-4m0 0v-4m0-29v-4m0-21v-4m1 132v-4m0-9v-4m0 0v-4m0 0v-4m0 0v-4m0 0v-4m0-58v-4m0 0v-4m0-12v-4m0 0v-4m0 0v-4m0-1v-4m0-61v-4m0-37v-4m1 168v-4m0-4v-4m0 0v-4m0-25v-4m0-41v-4m0-41v-4m0-1v-4m0 0v-4m0-16v-4m1 213v-4m0 0v-4m0-29v-4m0 0v-4m0-12v-4m0 0v-4m0-1v-4m0-37v-4m0-8v-4m0 0v-4m0-4v-4m0 0v-4m0 0v-4m0-33v-4m1 201v-4m0-25v-4m0-4v-4m0-4v-4m0-13v-4m0-8v-4m0-4v-4m0-1v-4m0-57v-4m0-17v-4m0-8v-4m0-21v-4m0-8v-4m0 0v-4m0-12v-4m1 201v-4m0 0v-4m0-1v-4m0-33v-4m0 0v-4m0 0v-4m0-4v-4m0-12v-4m0-13v-4m0-57v-4m0-29v-4m0 0v-4m0 0v-4m1 184v-4m0-20v-4m0-54v-4m0-33v-4m0 0v-4m0 0v-4m0 0v-4m0-17v-4m0 0v-4m0 0v-4m0 0v-4m0-4v-4m0 0v-4m0 0v-4m1 197v-4m0-21v-4m0-4v-4m0-5v-4m0-12v-4m0-21v-4m0-12v-4m0-29v-4m0-25v-4m0-20v-4m1 234v-4m0-37v-4m0-33v-4m0 0v-4m0-1v-4m0 0v-4m0-8v-4m0-62v-4m0-4v-4m0 0v-4m0 0v-4m1 102v-4m0-110v-4m1 118v-4m0-4v-4m0-20v-4m0 0v-4m0-1v-4m0-41v-4m0 0v-4m0-8v-4m1 106v-4m0 0v-4m0-8v-4m0-29v-4m0 0v-4m0-8v-4m0-4v-4m0-9v-4m0 0v-4m0-25v-4m0 0v-4m0 0v-4m0 0v-4m0 0v-4m1 185v-4m0-9v-4m0-127v-4m0-4v-4m1 205v-4m0-17v-4m0-49v-4m0-12v-4m0-5v-4m0 0v-4m0-78v-4m0 0v-4m0-49v-4m1 193v-4m0-1v-4m0 0v-4m0 0v-4m0-33v-4m0 0v-4m0-70v-4m0-41v-4m0 0v-4m1 193v-4m0-17v-4m0-4v-4m0-16v-4m0-17v-4m0 0v-4m0-58v-4m0-8v-4m0-21v-4m0 0v-4m0 0v-4m0 0v-4m0-12v-4"/>
<path stroke="#0019ff" d="m102 333v-4m12-115v-4m9-123v-4m17 180v-4m0 0v-4m0 0v-4m4 45v-4m76 12v-4m36-205v-4m2 33v-4m0 0v-4m0-17v-4m2 86v-4m2-90v-4m0 0v-4m0 0v-4m1-13v-4m2 4v-4m2-16v-4m4 20v-4m2 12v-4m1 37v-4m0-21v-4m0 0v-4m0 0v-4m4 53v-4m0-69v-4m1 45v-4m1 28v-4m0 0v-4m0-16v-4m1 49v-4m0-4v-4m0-1v-4m0-32v-4m0-1v-4m2 66v-4m0-17v-4m0 0v-4m0 0v-4m0-45v-4m2 66v-4m0-9v-4m0-53v-4m0 0v-4m4 20v-4m0 0v-4m1 98v-4m0 0v-4m0-20v-4m0-70v-4m1 82v-4m0 0v-4m0-5v-4m2 13v-4m0 0v-4m1-1v-4m0-53v-4m0 0v-4m1 74v-4m0 0v-4m0-1v-4m0-4v-4m0 0v-4m0 0v-4m1-12v-4m23 209v-4m0-107v-4m10-99v-4m1-12v-4m1 45v-4m1 62v-4m0-1v-4m0 0v-4m7 95v-4m4 4v-4m4 61v-4m9-144v-4m2 45v-4m6-131v-4m1 123v-4m3-21v-4m0-78v-4m4 115v-4m1 0v-4m0 0v-4m0 0v-4m3-17v-4m1-16v-4m0 0v-4m3 28v-4m0 0v-4m1-53v-4m0 0v-4m4 123v-4m2-111v-4m3 32v-4m0 0v-4m3 4v-4m1 21v-4m4 20v-4m2-70v-4m1 115v-4m2-127v-4m1 135v-4m1-74v-4m0 0v-4m1-21v-4m4-12v-4m3-8v-4m3 36v-4m1 128v-4m0-1v-4m0-127v-4m2-12v-4m0 0v-4m1 82v-4m0-74v-4m1 8v-4m3 110v-4m2-49v-4m2 37v-4m0-4v-4m0 0v-4m1 24v-4m3 74v-4m0-8v-4m0-1v-4m0-74v-4m2 0v-4m0 0v-4m0-57v-4m1 139v-4m0 0v-4m3-115v-4m0 0v-4m2 131v-4m0 0v-4m0 0v-4m0-49v-4m0-1v-4m0 0v-4m0-57v-4m7 20v-4m0 0v-4m3 25v-4m0 0v-4m4-1v-4m1 25v-4m3 119v-4m1-140v-4m0 0v-4m1-12v-4m1 65v-4m0 0v-4m0-45v-4m1 98v-4m0 0v-4m1 45v-4m0 0v-4m0 0v-4m0-62v-4m1-37v-4m1 33v-4m0 0v-4m0-41v-4m0 0v-4m1 16v-4m3 25v-4m2 65v-4m0-16v-4m0-1v-4m10-69v-4m4 250v-4m4-144v-4m6 185v-4m1-160v-4m1 164v-4m0 0v-4m23-91v-4m9-45v-4m5 33v-4m0-1v-4m2 99v-4m7-103v-4m0 0v-4m0 0v-4m0-4v-4m0 0v-4m0 0v-4m1-95v-4m0 0v-4m0 0v-4m1 279v-4m0-181v-4m2 16v-4m0-45v-4m0-45v-4m0 0v-4m0 0v-4m1 0v-4m1 147v-4m0-102v-4m3 168v-4m0-136v-4m0 0v-4m0 0v-4m1 20v-4m0-37v-4m1 197v-4m0-127v-4m0 0v-4m0-66v-4m0 0v-4m1 61v-4m0 0v-4m0-49v-4m0 0v-4m1 57v-4m0 0v-4m1 78v-4m0 0v-4m0-58v-4m1 160v-4m0-29v-4m0-37v-4m0 0v-4m1 33v-4m2 45v-4m0 0v-4m0-66v-4m1-25v-4m0-78v-4m1-12v-4m1 70v-4m2 8v-4m3 20v-4m0-82v-4m1 221v-4m1-65v-4m0-70v-4m0-50v-4m1 87v-4m0-1v-4m0-20v-4m0-74v-4m1 69v-4m4-24v-4m2 32v-4m1-61v-4m2 74v-4m0-42v-4m1 136v-4m0-119v-4m1 143v-4m0-144v-4m1 119v-4m0 0v-4m0-4v-4m0 0v-4m0-86v-4m1 36v-4m0 0v-4m0-41v-4m0 0v-4m1-16v-4m1 131v-4m1 106v-4m0 0v-4m0 0v-4m0 0v-4m0-45v-4m0-33v-4m0-4v-4m0-50v-4m0 0v-4m0 0v-4m1 119v-4m0 0v-4m0-148v-4m1 99v-4m1 40v-4m1 17v-4m0 0v-4m0 0v-4m1-25v-4m0-21v-4m1 74v-4m0-45v-4m1 69v-4m1-123v-4m0 0v-4m0 0v-4m1-8v-4m1 123v-4m0 0v-4m1-33v-4m0-87v-4m1 169v-4m1-189v-4m1 176v-4m0-99v-4m0-53v-4m1 49v-4m0-49v-4m0 0v-4m2 12v-4m0 0v-4m0 0v-4m1 213v-4m0 0v-4m0 0v-4m0-169v-4m0-12v-4m0 0v-4m2 160v-4m0-103v-4m1 37v-4m0 0v-4m0 0v-4m1 28v-4m1-49v-4m0-49v-4m1 82v-4m0-58v-4m0 0v-4m1 156v-4m0-33v-4m0-62v-4m1 62v-4m2-33v-4m1 123v-4m0-136v-4m0 0v-4m1 107v-4m0 0v-4m0-1v-4m1 58v-4m0-152v-4m0 0v-4m1 4v-4m1 123v-4m0 0v-4m0-46v-4m1 99v-4m0 0v-4m0 0v-4m0-58v-4m0 0v-4m0-95v-4m0-20v-4m0 0v-4m1 69v-4m0 0v-4m1 95v-4m1 4v-4m0-1v-4m0-28v-4m0-25v-4m3 78v-4m0-82v-4m0-13v-4m0 0v-4m0 0v-4m0 0v-4m1 65v-4m0 0v-4m1-4v-4m0 0v-4m0 0v-4m1-54v-4m1 111v-4m0 0v-4m0-45v-4m1 53v-4m0-58v-4m3-20v-4m1 82v-4m0-78v-4m1 86v-4m1-103v-4m0-16v-4m3 135v-4m0 0v-4m0 0v-4m1 37v-4m0-91v-4m0 0v-4m0 0v-4m3 98v-4m0 0v-4m0 0v-4m0-53v-4m0-25v-4m0-4v-4m0 0v-4m2 102v-4m0-70v-4m4 25v-4m1 65v-4m0-4v-4m0 0v-4m1-99v-4m3 0v-4m0 0v-4m2 209v-4m0-53v-4m0 0v-4m0-4v-4m2-87v-4m1 119v-4m0-53v-4m0-58v-4m0-37v-4m2 123v-4m0-4v-4m0-107v-4m0 0v-4m1 90v-4m0-29v-4m1 33v-4m0 0v-4m0-78v-4m1 61v-4m0-49v-4m2 144v-4m1 37v-4m0-50v-4m0-86v-4m0-4v-4m0-37v-4m1 90v-4m1 8v-4m0-58v-4m0 0v-4m0 0v-4m2 127v-4m0 0v-4m0 0v-4m5-103v-4m1 169v-4m2-62v-4m0 0v-4m0 0v-4m0-70v-4m2 119v-4m1-41v-4m0-1v-4m0-57v-4m1 70v-4m0-1v-4m0-12v-4m0-37v-4m1-21v-4m0 0v-4m1 95v-4m0-17v-4m0-37v-4m1 16v-4m1 127v-4m0-8v-4m0-90v-4m0 0v-4m1-46v-4m1 21v-4m0 0v-4m1 106v-4m0-70v-4m0-4v-4m0 0v-4m0 0v-4m1 4v-4m0-25v-4m2 119v-4m0 0v-4m0-37v-4m3-21v-4m0-37v-4m3 86v-4m1-53v-4m1 16v-4m1 99v-4m1 24v-4m1-90v-4m2 33v-4m0-1v-4m1 87v-4m0-1v-4m0-16v-4m0-74v-4m1-58v-4m0 0v-4m1 66v-4m1 102v-4m0-74v-4m0 0v-4m0-82v-4m0 0v-4m0 0v-4m1 172v-4m2 8v-4m0 0v-4m0-115v-4m2 82v-4m0 0v-4m0-115v-4m1 131v-4m0 0v-4m0-49v-4m0-37v-4m0 0v-4m2 32v-4m0-24v-4m0-1v-4m1 95v-4m0 0v-4m0-95v-4m0 0v-4m2 103v-4m0-107v-4m1 106v-4m0 0v-4m0 0v-4m1 33v-4m0 0v-4m1 57v-4m0-148v-4m2 74v-4m1 4v-4m0 0v-4m1-62v-4m0-20v-4m6 155v-4m0 0v-4m2-86v-4m1 53v-4m2-24v-4m0-1v-4m1 82v-4m1-78v-4m0-28v-4m1 77v-4m0 0v-4m0-29v-4m1 95v-4m0 0v-4m1 12v-4m1-74v-4m3-45v-4m3-13v-4m1 70v-4m0-21v-4"/>
<path stroke="#00d1ff" d="m115 99v-4m46-53v-4m2 139v-4m56 8v-4m13-98v-4m16 94v-4m2 139v-4m6-209v-4m0 0v-4m1 49v-4m12-86v-4m5 16v-4m0 0v-4m5 78v-4m4-46v-4m1 29v-4m5-45v-4m5 90v-4m0-8v-4m2 32v-4m11 82v-4m3 66v-4m20 4v-4m12-148v-4m2 25v-4m0 0v-4m2 155v-4m0-135v-4m0 0v-4m0 0v-4m3-70v-4m9-17v-4m10-4v-4m10 107v-4m1 16v-4m3-62v-4m14 29v-4m0 0v-4m4-50v-4m1 33v-4m6 103v-4m2-13v-4m0-41v-4m1-29v-4m5 78v-4m0-62v-4m0 0v-4m1 74v-4m1-41v-4m0-25v-4m0 0v-4m0-20v-4m0-1v-4m4-8v-4m2 82v-4m0-45v-4m0 0v-4m1 127v-4m0 0v-4m0-95v-4m1-20v-4m5 8v-4m3 78v-4m0 0v-4m1 36v-4m5 17v-4m0 0v-4m1-54v-4m0 0v-4m8-49v-4m2 61v-4m3-4v-4m1 16v-4m1-94v-4m0 0v-4m2 90v-4m2 12v-4m0 0v-4m3 70v-4m0-1v-4m0-24v-4m0-103v-4m3 57v-4m5 132v-4m1-99v-4m0 0v-4m0-86v-4m2 94v-4m0 0v-4m0 0v-4m1-13v-4m0 0v-4m58 160v-4m1-53v-4m0 0v-4m0-140v-4m1 24v-4m2 152v-4m0 0v-4m0 0v-4m4 25v-4m5-144v-4m2 28v-4m8 21v-4m2 98v-4m0 0v-4m1-99v-4m2-12v-4m0 0v-4m1 148v-4m3 16v-4m0-95v-4m1 58v-4m0-13v-4m1-127v-4m2 148v-4m1-132v-4m1 0v-4m2 189v-4m0 0v-4m0 0v-4m1-91v-4m7-45v-4m2 0v-4m1 139v-4m0-123v-4m0 0v-4m0-17v-4m1 99v-4m1 98v-4m0 0v-4m3-45v-4m0 0v-4m1-58v-4m0-57v-4m0 0v-4m2 164v-4m0 0v-4m1-9v-4m0 0v-4m0-41v-4m1 20v-4m2-94v-4m0 0v-4m0 0v-4m0 0v-4m1 36v-4m2 86v-4m1-90v-4m1 115v-4m2-144v-4m1 115v-4m0-41v-4m0 0v-4m0 0v-4m1 123v-4m0 0v-4m0-1v-4m1-90v-4m0 0v-4m0 0v-4m2 82v-4m0 0v-4m0 0v-4m0-46v-4m2 115v-4m0 0v-4m0-8v-4m0-50v-4m0 0v-4m0-49v-4m3-54v-4m3-16v-4m6 168v-4m2-107v-4m0 0v-4m1 16v-4m0-32v-4m4 143v-4m0 0v-4m0-37v-4m3-17v-4m0 0v-4m0 0v-4m1 45v-4m0 0v-4m1 49v-4m0-16v-4m0-37v-4m0 0v-4m2-42v-4m2 66v-4m1 33v-4m0-37v-4m5 28v-4m0 0v-4m1-49v-4m1 102v-4m0 0v-4m0 0v-4m2-70v-4m2-49v-4m2 57v-4m0 0v-4m2 33v-4m2-58v-4m0-61v-4m0 0v-4m2 41v-4m0-1v-4m0 0v-4m1 148v-4m0 0v-4m2 57v-4m1-78v-4m0 0v-4m0-16v-4m1-54v-4m0 0v-4m1 8v-4m1 0v-4m0 0v-4m1 102v-4m6-12v-4m1 16v-4m0-29v-4m0-45v-4m0-41v-4m0 0v-4m4 156v-4m2-99v-4m2 86v-4m5-41v-4m3-90v-4m0 0v-4m3 213v-4m0-185v-4m6 99v-4m0-1v-4m0-33v-4m1-53v-4m0 0v-4m0 0v-4m1 82v-4m1-33v-4m4 86v-4m0-12v-4m3 45v-4m0-1v-4m3-74v-4m2 74v-4m2 12v-4m0 0v-4m1-94v-4m1 82v-4m3-50v-4m1 87v-4m4-9v-4m0 0v-4m0-78v-4m0-16v-4m1-25v-4m1 90v-4m0 0v-4m3 49v-4m2 41v-4m4-45v-4m0 0v-4m3-70v-4m1 98v-4m0 0v-4m1-78v-4m2 20v-4m0 0v-4m1 123v-4m4 4v-4m2-12v-4m2-8v-4m1-99v-4"/>
<path stroke="#31ffc5" d="m258 70v-4m0 0v-4m15 103v-4m4-13v-4m0-78v-4m0 0v-4m11 29v-4m1 28v-4m1 37v-4m0-37v-4m4 0v-4m0 0v-4m3-33v-4m0 0v-4m0-4v-4m43 303v-4m27-148v-4m0 0v-4m3-139v-4m23 24v-4m5 29v-4m6-4v-4m3 4v-4m1-25v-4m0 0v-4m2 152v-4m0-1v-4m4-131v-4m8 61v-4m3 41v-4m0 0v-4m9 70v-4m3-8v-4m0 0v-4m0-1v-4m1-12v-4m5-29v-4m5-25v-4m7 46v-4m0-1v-4m0 0v-4m0-90v-4m5 16v-4m17 226v-4m5 24v-4m19-16v-4m35-152v-4m0 0v-4m3 147v-4m4-221v-4m2 184v-4m7-180v-4m2 151v-4m8-90v-4m2 16v-4m0-8v-4m2 107v-4m5-50v-4m9-78v-4m1 127v-4m5-107v-4m4 74v-4m4-8v-4m3 123v-4m3-103v-4m4-66v-4m1 103v-4m0-74v-4m3 61v-4m0-82v-4m0 0v-4m6 103v-4m13 94v-4m2-205v-4m8 188v-4m3-24v-4m1 4v-4m0-1v-4m1-49v-4m12 29v-4m0-111v-4m1 90v-4m0 0v-4m8 20v-4m1-24v-4m1-5v-4m2 0v-4m10 41v-4m11 53v-4m3 37v-4m0 0v-4m11-61v-4m0-1v-4m7-57v-4m0 0v-4m7 65v-4m0 0v-4m13 33v-4m0-86v-4m9 106v-4m2-102v-4m3 123v-4m0-1v-4m0 0v-4m0-102v-4m1 151v-4m1-176v-4m8 65v-4"/>
<path stroke="#0042ff" d="m940 292v-4m307-8v-4m50-124v-4m3 54v-4m2 28v-4m8-45v-4m10 12v-4m0 0v-4m48 86v-4m11-37v-4m0-12v-4m0 0v-4m4 32v-4m0 0v-4m17 74v-4m26-172v-4m6 86v-4m11 4v-4m1 4v-4m0 0v-4m0-107v-4m11 152v-4m6-25v-4"/>
</g>
<g fill="none" stroke-width="2" shape-rendering="crispEdges">
<path stroke="#b4b4ff" d="m163 739v-5m6-32v-5m66-4v-4m18 62v-4m156-41v-4m2 16v-4m2 4v-4m8-62v-4m266 25v-4m22 16v-4m28-49v-4"/>
<path stroke="#4b4bff" d="m83 817v-5m2 13v-4m2 4v-4m2 0v-4m2 4v-4m2 0v-5m2 9v-4m2 8v-4m2 16v-4m2 12v-4m2 0v-4m2 4v-4m2 4v-4m2 4v-4m2 0v-4m2-8v-4m2 0v-4m2 8v-4m2 8v-4m2 16v-4m2-4v-4m2-8v-4m2-17v-4m2-4v-4m2 8v-4m2 0v-4m2 8v-4m2 20v-4m2 17v-4m2 12v-4m2 4v-4m2 8v-4m2 12v-4m2 4v-4m2 4v-4m2 4v-4m2 0v-4m2-4v-4m2-8v-4m2-21v-4m2 0v-4m0-45v-4m2 49v-4m2-4v-5m2 0v-4m0-65v-4m2 78v-5m2 21v-4m2 25v-5m2 13v-4m2 8v-4m2 8v-4m2 4v-4m2 8v-4m2 8v-4m2 4v-4m2 0v-4m2 0v-4m2 4v-4m2-4v-4m2 0v-4m2 8v-4m2 8v-4m2 16v-4m2 4v-4m2 0v-4m2 0v-4m2 0v-4m2 8v-4m2 8v-4m2 0v-4m2 8v-4m2 8v-4m2 4v-4m2-4v-4m2-8v-4m2-13v-4m2-16v-4m2 0v-5m0-78v-4m2 91v-4m2 12v-4m2 16v-4m2 12v-4m2 25v-4m2 0v-4m2-13v-4m2-24v-4m2-25v-4m2-37v-4m2-45v-4m2-33v-4m2-17v-4m2 0v-4m2 0v-4m2 8v-4m2 8v-4m2 4v-4m2 53v-4m0-49v-4m2 57v-12m0-8v-8m0-29v-4m2 61v-4m0-4v-29m0-16v-4m2 57v-8m0-4v-4m0-4v-25m0-8v-4m2 57v-20m0-4v-8m0-5v-8m0-4v-8m2 53v-16m0-8v-54m2 82v-12m0-4v-16m0-5v-8m0-4v-4m0-4v-16m0-5v-16m2 94v-12m0-8v-37m0-4v-4m0-4v-13m0-8v-4m0-4v-4m2 102v-12m0-4v-21m0-4v-8m0-4v-33m2 86v-8m0-4v-12m0-8v-33m2 65v-12m0-4v-33m2 49v-8m0-8v-21m2 50v-4m0-9v-8m0-4v-8m2 74v-4m2 57v-4m2 41v-4m2 29v-4m2 20v-4m2 8v-4m2 4v-4m2 8v-4m2 8v-4m2 4v-4m2 9v-5m2 9v-4m2 4v-4m2 8v-4m2 4v-4m2 4v-4m2 4v-4m2 8v-4m2 0v-4m2 8v-4m2 4v-4m2 0v-4m2 0v-4m2 0v-5m2-12v-4m2-12v-4m2-21v-4m2-12v-4m2-5v-4m2-20v-4m2-13v-4m2-4v-4m2-12v-4m2 0v-4m2 8v-4m2 12v-4m2 12v-4m2 12v-4m2-8v-4m2 0v-4m2 4v-4m2 4v-4m2 8v-4m2 16v-4m2 4v-4m2 0v-4m2-16v-4m2 4v-4m2-4v-5m2 13v-4m2 4v-4m2 8v-4m2 8v-4m2 12v-4m2 12v-4m2 13v-4m2 8v-4m2 16v-4m2 12v-4m2-20v-4m2-21v-4m2-12v-5m2 0v-4m2 9v-5m2 9v-4m2 8v-4m2 8v-4m2 8v-4m2-4v-4m2 0v-4m2 0v-5m2 0v-4m2 4v-4m2 9v-5m2 9v-4m2 0v-5m2-4v-4m2 0v-4m2 4v-4m2 8v-4m2 13v-5m2 5v-5m2 9v-4m2 16v-4m2 12v-4m2 12v-4m2 29v-4m2 33v-4m2 28v-4m2 21v-4m2 4v-4m2 0v-4m2 8v-4m2 12v-4m2 0v-4m2 8v-4m2 8v-4m2 4v-4m2 0v-4m2-4v-4m2 0v-4m2 8v-4m2 0v-4m2 0v-4m2-5v-4m2-8v-4m2 4v-4m2 4v-4m2 16v-4m2 9v-5m2 0v-4m2 9v-5m2 13v-4m2 8v-4m2 8v-4m2 4v-4m2 4v-4m2 4v-4m2 0v-4m2 0v-4m2-13v-4m2 0v-4m2 4v-4m2-12v-4m2 0v-4m2 0v-5m2 5v-5m2 0v-4m2-4v-4m2 0v-4m2 8v-4m2 8v-4m2 4v-4m2 0v-4m2 4v-4m2 8v-4m2-4v-4m2 0v-4m2 0v-4m2 0v-4m2 4v-4m2 0v-4m2 8v-4m2 16v-4m2 0v-4m2 8v-4m2 4v-4m2 0v-4m2 4v-4m2 4v-4m2 0v-4m2-4v-4m2 0v-4m2 8v-4m2 8v-4m2 12v-4m2 4v-4m2 0v-4m2 8v-4m2 8v-4m2 0v-4m2 8v-4m2 4v-4m2 0v-4m2-4v-4m2-8v-5m2 0v-4m2 4v-4m2-4v-4m2 12v-4m2 9v-5m2 5v-5m2 0v-4m2 9v-5m2 13v-4m2 0v-4m2 8v-4m2 8v-4m2 8v-4m2 8v-4m2 8v-4m2 0v-4m2-12v-4m2-5v-4m2 0v-4m2 4v-4m2 8v-4m2 13v-4m2 4v-4m2 0v-5m2 0v-4m2 9v-5m2 5v-5m2-12v-4m2 0v-4m0-37v-4m2 37v-4m2-17v-4m2 0v-4m2-4v-4m2-8v-4m2 0v-5m2 9v-4m2 12v-4m2 16v-4m2 29v-4m2 20v-4m2 4v-4m2 12v-4m2 0v-4m2 0v-4m2 4v-4m2 4v-4m2 8v-4m2 8v-4m2 0v-4m2-4v-4m2-12v-4m2 0v-5m2-4v-4m2 0v-4m2 8v-4m2 21v-4m2 16v-4m2 16v-4m2 17v-4m2 0v-4m2 8v-4m2 16v-4m2 8v-4m2 4v-4m2 8v-4m2 4v-4m2 0v-4m2 8v-4m2 4v-4m2 8v-4m2 17v-4m2 0v-5m2 9v-4m2 0v-5m2 0v-4m2 9v-5m2 17v-4m2 12v-4m2 12v-4m2 4v-4m2 8v-4m2 9v-5m2 0v-4m2 0v-4m2 8v-4m2 9v-5m2 5v-5m2 0v-4m2 4v-4m2 4v-4m2-4v-4m2 0v-4m2 8v-4m2 4v-4m2 8v-4m2 17v-4m2 8v-4m2 0v-4m2 4v-4m2 0v-5m2 9v-4m2 12v-4m2 8v-4m2 0v-4m2 4v-4m2 0v-4m2 8v-4m2 4v-4m2 0v-4m2 0v-4m2 8v-4m2 4v-4m2 8v-4m2 4v-4m2 0v-4m2 8v-4m2 8v-4m2 0v-4m2 8v-4m2-4v-4m2 0v-4m2 8v-4m2 8v-4m2 0v-4m2 0v-4m2-9v-4m2 4v-4m2 4v-4m2 17v-4m2 8v-4m2 8v-4m2 0v-4m2 8v-4m2 8v-4m2 8v-4m2 0v-4m2 4v-4m2 0v-4m2 4v-4m2 0v-4m2 8v-4m2 0v-4m2 8v-4m2 8v-4m2 8v-4m2-4v-4m2 0v-4m2 4v-4m2 0v-4m2 8v-4m2 16v-4m2 4v-4m2 4v-4m2-4v-4m2 0v-4m2 4v-4m2 0v-4m2 8v-4m2 12v-4m2 4v-4m2 0v-4m2 0v-4m2-4v-5m2 0v-4m2 9v-5m2 9v-4m2 12v-4m2 8v-4m2 12v-4m2 4v-4m2 4v-4m2 4v-4m2-4v-4m2 4v-4m2 4v-4m2 12v-4m2 4v-4m2 0v-4m2-4v-4m2 0v-4m2 0v-4m2 4v-4m2-13v-4m2 0v-4m2 0v-4m2 0v-4m2 8v-4m2-4v-4m2 0v-4m2-9v-4m2-12v-4m2 0v-4m2 8v-4m2 12v-4m2 8v-4m2 21v-4m2 12v-4m2 8v-4m2 12v-4m2 8v-4m2 4v-4m2 4v-4m2 0v-4m2 0v-4m2 8v-4m2 8v-4m2 4v-4m2 0v-4m2 4v-4m2 0v-4m2 8v-4m2 0v-4m2 8v-4m2 8v-4m2-12v-4m2 0v-4m2-4v-5m2 0v-4m2 9v-5m2 9v-4m2 8v-4m2 8v-4m2 8v-4m2 8v-4m2 12v-4m2 8v-4m2 4v-4m2 0v-4m2-8v-4m2 0v-4m2 0v-4m2 8v-4m2 8v-4m2 4v-4m2 4v-4m2 4v-4m2 8v-4m2 16v-4m2 9v-5m2 9v-4m2-5v-4m2-8v-4m2-12v-4m2-9v-4m2 0v-4m2 8v-4m2 13v-5m2 13v-4m2 12v-4m2 8v-4m2 0v-4m2 0v-4m2-8v-5m2 0v-4m2 4v-4m2 0v-4m2 8v-4m2 17v-4m2 12v-4m2 4v-4m2 8v-4m2 4v-4m2 8v-4m2-8v-4m2 4v-4m2 0v-4m2 0v-4m2 8v-4m2 16v-4m2 0v-4m2 8v-4m2 12v-4m2 8v-4m2 0v-4m2 0v-4m2 8v-4m2 0v-4m2 0v-4m2 8v-4m2-8v-4m2 0v-4m2 8v-4m2 4v-4m2 8v-4m2 12v-4m2 8v-4m2-4v-4m2-12v-4m2 4v-4m2 0v-5m2 9v-4m2 8v-4m2 16v-4m2 4v-4m2 0v-4m2 4v-4m2 4v-4m2-8v-4m2-5v-4m2 4v-4m2 9v-5m2 5v-5m2 9v-4m2 4v-4m2 0v-5m2 0v-4m2 9v-5m2 9v-4m2 20v-4m2 16v-4m2 13v-4m2 0v-5m2 9v-4m2 0v-5m2-12v-4m2 4v-4m2 0v-4m2 8v-4m2 12v-4m2 8v-4m2 9v-5m2 9v-4m2-5v-4m2 0v-4m2 8v-4m2 9v-5m2 0v-4m2 9v-5m2-8v-4m2 0v-4m2 8v-4m2 4v-4m2 4v-4m2 8v-4m2 13v-5m2-4v-4m2-4v-4m2 0v-4m2 8v-4m2-4v-4m2 0v-4m2 8v-4m2 8v-4m2 8v-4m2 12v-4m2 8v-4m2 0v-4m2 8v-4m2 0v-4m2 0v-4m2 4v-4m2 0v-4m2 8v-4m2 0v-4m2 0v-4m2 8v-4m2 12v-4m2 8v-4m2 0v-4m2 8v-4m2 0v-4m2 8v-4m2 4v-4m2 4v-4m2 9v-5m2 5v-5m2 5v-5m2 5v-5m2-4v-4m2 0v-4m2 0v-4m2 8v-4m2 0v-4m2 0v-4m2 0v-4m2 4v-4m2 8v-4m2 8v-4m2-4v-4m2 0v-4m2 8v-4m2 8v-4m2 0v-4m2 8v-4m2 12v-4m2 0v-4m2 4v-4m2 0v-4m2 0v-4m2 0v-4m2 8v-4m2 8v-4m2 0v-4m2-4v-4m2 0v-5m2 5v-5m2 9v-4m2 0v-5m2 0v-4m2 0v-4m2 0v-4m2 4v-4m2 8v-4m2 0v-4m2 8v-4m2 17v-4m2 8v-4m2 8v-4m2 8v-4m2-8v-4m2 0v-5m2-8v-4m2 0v-4m2-4v-4m2 0v-4m2 8v-4m2 12v-4m2 0v-4"/>
<path stroke="#00f" d="m83 821v-4m2 12v-4m2 4v-4m2 0v-4m2 4v-4m2 0v-4m2 8v-4m2 8v-4m2 16v-4m2 12v-4m2 0v-4m2 4v-4m2 4v-4m2 4v-4m2 0v-4m2-8v-4m4 4v-4m2 8v-4m2 16v-4m2-4v-4m2-8v-4m2-17v-4m4 0v-4m2 0v-4m2 8v-4m2 21v-5m2 17v-4m2 12v-4m2 4v-4m2 8v-4m2 12v-4m2 4v-4m2 4v-4m2 4v-4m2 0v-4m2-4v-4m2-8v-4m2-21v-4m2-49v-4m2 49v-4m2-4v-4m2-70v-4m2 78v-4m2 20v-4m2 25v-4m2 12v-4m2 8v-4m2 8v-4m2 4v-4m2 8v-4m2 8v-4m2 4v-4m2 0v-4m2 0v-4m2 4v-4m2-4v-4m4 4v-4m2 8v-4m2 16v-4m2 4v-4m2 0v-4m2 0v-4m2 0v-4m2 8v-4m2 8v-4m2 0v-4m2 8v-4m2 8v-4m2 4v-4m0-102v-5m2 103v-4m2-8v-4m0-124v-4m0-49v-4m2 168v-4m2-16v-4m2-82v-5m2 91v-4m2 12v-4m2 16v-4m2 13v-5m2 25v-4m2 0v-4m2-12v-5m2-24v-4m0-45v-5m2 25v-4m0-53v-5m6-65v-4m4-21v-4m2 0v-4m2 8v-4m2 8v-4m2 4v-4m2 0v-4m2 37v-4m0-33v-4m2 53v-4m0-29v-4m0-8v-4m2 37v-4m0-29v-4m2 8v-4m2 29v-4m2-8v-5m0-8v-4m0-24v-5m0-16v-4m2 41v-4m0-4v-4m0-17v-4m2 41v-4m2 45v-4m0-16v-4m6 49v-4m0-21v-4m2 70v-4m2 57v-4m2 41v-4m2 29v-4m2 20v-4m2 8v-4m2 4v-4m2 8v-4m2 9v-5m2 5v-5m2 9v-4m2 8v-4m2 4v-4m2 8v-4m2 4v-4m2 4v-4m2 4v-4m2 8v-4m2 0v-4m2 8v-4m2 4v-4m2 0v-4m2 0v-4m2 0v-4m2-13v-4m2-12v-4m2-21v-4m2-12v-4m2-4v-5m2-20v-4m2-12v-5m2-4v-4m2-12v-4m2 0v-4m2 8v-4m2 12v-4m2 12v-4m8-4v-4m2 4v-4m2 8v-4m4 17v-5m2 0v-4m2-16v-4m2 4v-4m2-4v-4m2 12v-4m2 4v-4m2 8v-4m2 8v-4m6-8v-4m6 12v-4m6-58v-4m2 50v-5m2 9v-4m2 8v-4m2 8v-4m2 8v-4m2 8v-4m2-4v-4m2 0v-4m2 0v-4m2 0v-5m2 5v-5m2 9v-4m2 8v-4m2 0v-4m2-5v-4m2 0v-4m2 4v-4m2 8v-4m2 13v-4m2 4v-4m2 8v-4m2 16v-4m4 21v-5m2 29v-4m2 33v-4m2 29v-5m2 21v-4m2 4v-4m2 0v-4m2 8v-4m2 12v-4m2 0v-4m2 8v-4m2 8v-4m2 4v-4m2 0v-4m2-4v-4m2 0v-4m2 8v-4m2 0v-4m2 0v-4m2-4v-5m2-8v-4m4 4v-4m2 17v-5m2 9v-4m2 0v-5m2 9v-4m2 12v-4m2 8v-4m2 8v-4m2 4v-4m2 4v-4m2 4v-4m2 0v-4m2 0v-4m2-13v-4m2 0v-4m2 4v-4m2-12v-4m2 0v-4m2 0v-4m2 4v-4m2 0v-5m2-4v-4m2 0v-4m2 8v-4m2 8v-4m2 4v-4m2 0v-4m2 4v-4m2 8v-4m2-4v-4m2 0v-4m2 0v-4m2 0v-4m2 4v-4m4 4v-4m2 16v-4m2 0v-4m2 8v-4m2 4v-4m2 0v-4m2 4v-4m2 4v-4m2 0v-4m2-4v-4m4 4v-4m2 8v-4m2 12v-4m2 4v-4m2 0v-4m2 8v-4m2 8v-4m2 0v-4m2 8v-4m2 4v-4m2 0v-4m2-4v-4m2-8v-4m4 0v-5m4 5v-5m2 9v-4m2 4v-4m2 0v-5m2 9v-4m2 12v-4m2 0v-4m2 8v-4m2 8v-4m2 8v-4m2 8v-4m2 8v-4m2 0v-4m2-12v-4m2-4v-5m4 0v-4m2 9v-5m2 13v-4m2 4v-4m2 0v-4m4 4v-4m2 4v-4m2-13v-4m4-8v-4m2-17v-4m4-8v-4m2-8v-4m4-37v-4m2 53v-4m2 16v-4m2 29v-4m2-21v-4m2 45v-4m2 13v-5m2 0v-4m2 0v-4m4 4v-4m2 8v-4m2 9v-5m2 0v-4m2-4v-4m2-12v-4m2 0v-4m2-5v-4m2-57v-4m2 65v-4m2 21v-4m2 16v-4m2 17v-5m2 17v-4m2 0v-4m2 8v-4m2 16v-4m2 8v-4m2 4v-4m2 8v-4m2 4v-4m2 0v-4m2 8v-4m2 4v-4m2 8v-4m2 17v-4m2 0v-4m2 8v-4m2 0v-4m4 4v-4m2 16v-4m2 12v-4m2 12v-4m2 4v-4m2 9v-5m2 9v-4m2 0v-5m2 0v-4m2 9v-5m2 9v-4m2 4v-4m2 0v-5m2 5v-5m2 5v-5m2-4v-4m2 0v-4m2 8v-4m2 4v-4m2 8v-4m2 17v-4m2 8v-4m2 0v-4m2 4v-4m4 4v-4m2 12v-4m2 8v-4m2 0v-4m2 4v-4m2 0v-4m2 8v-4m2 4v-4m2 0v-4m4 4v-4m2 4v-4m2 8v-4m2 4v-4m2 0v-4m2 8v-4m2 8v-4m2 0v-4m2 8v-4m2-4v-4m4 4v-4m2 8v-4m2 0v-4m2 0v-4m2-9v-4m4 4v-4m2 17v-4m2 8v-4m2 8v-4m2 0v-4m2 8v-4m2 8v-4m2 8v-4m2 0v-4m2 4v-4m2 0v-4m2 4v-4m2 0v-4m2 8v-4m2 0v-4m2 8v-4m2 8v-4m2 8v-4m2-4v-4m2 0v-4m2 4v-4m2 0v-4m2 8v-4m2 16v-4m2 4v-4m2 4v-4m2-4v-4m2 0v-4m2 4v-4m2 0v-4m2 8v-4m2 12v-4m2 4v-4m2 0v-4m2 0v-4m2-4v-4m4 4v-4m2 8v-4m2 12v-4m2 8v-4m2 12v-4m2 4v-4m2 4v-4m2 4v-4m2-4v-4m2 4v-4m2 4v-4m2 12v-4m2 4v-4m2 0v-4m2-4v-4m2 0v-4m2 0v-4m2 4v-4m2-13v-4m2 0v-4m2 0v-4m2 0v-4m2 8v-4m2-4v-4m2 0v-4m2-9v-4m2-12v-4m4 4v-4m2 12v-4m2 8v-4m2 21v-4m2 12v-4m2 8v-4m2 12v-4m2 8v-4m2 4v-4m2 4v-4m2 0v-4m2 0v-4m2 8v-4m2 8v-4m2 4v-4m2 0v-4m2 4v-4m2 0v-4m2 8v-4m2 0v-4m2 8v-4m2 8v-4m2-12v-4m2 0v-4m2-4v-4m2 0v-5m2 9v-4m2 8v-4m2 8v-4m2 8v-4m2 8v-4m2 8v-4m2 12v-4m2 9v-5m2 5v-5m2 0v-4m2-8v-4m2 0v-4m2 0v-4m2 8v-4m2 8v-4m2 4v-4m2 4v-4m2 4v-4m2 8v-4m2 17v-5m2 9v-4m2 8v-4m2-4v-5m2-8v-4m2-12v-4m2-9v-4m2 0v-4m2 8v-4m2 13v-4m2 12v-4m2 12v-4m2 8v-4m2 0v-4m2 0v-4m2-8v-4m2 0v-5m2 5v-5m2 0v-4m2 9v-5m2 17v-4m2 12v-4m2 4v-4m2 8v-4m2 4v-4m2 8v-4m2-8v-4m2 4v-4m2 0v-4m4 4v-4m2 16v-4m2 0v-4m2 8v-4m2 12v-4m2 9v-5m2 0v-4m2 0v-4m2 8v-4m2 0v-4m2 0v-4m2 8v-4m2-8v-4m2 0v-4m2 8v-4m2 4v-4m2 8v-4m2 12v-4m2 8v-4m2-4v-4m2-12v-4m2 4v-4m2 0v-4m2 8v-4m2 8v-4m2 16v-4m2 4v-4m2 0v-4m2 4v-4m2 4v-4m2-8v-4m2-4v-5m2 5v-5m2 9v-4m2 4v-4m2 8v-4m2 4v-4m2 0v-4m2 0v-5m2 9v-4m2 8v-4m2 20v-4m2 17v-5m2 13v-4m2 0v-4m2 8v-4m2 0v-4m2-13v-4m2 4v-4m2 0v-4m2 8v-4m2 12v-4m2 9v-5m2 9v-4m2 8v-4m2-4v-5m2 0v-4m2 9v-5m2 9v-4m2 0v-5m2 9v-4m2-9v-4m2 0v-4m2 8v-4m2 4v-4m2 4v-4m2 8v-4m2 13v-4m2-5v-4m2-4v-4m2 0v-4m2 8v-4m2-4v-4m4 4v-4m2 8v-4m2 8v-4m2 12v-4m2 9v-5m2 0v-4m2 9v-5m2 0v-4m2 0v-4m2 4v-4m2 0v-4m2 8v-4m2 0v-4m2 0v-4m2 8v-4m2 12v-4m2 9v-5m2 0v-4m2 9v-5m2 0v-4m2 9v-5m2 5v-5m2 5v-5m2 9v-4m2 4v-4m2 4v-4m2 4v-4m2-5v-4m2 0v-4m2 0v-4m2 8v-4m2 0v-4m2 0v-4m2 0v-4m2 4v-4m2 8v-4m2 8v-4m2-4v-4m2 0v-4m2 8v-4m2 8v-4m2 0v-4m2 8v-4m2 12v-4m2 0v-4m2 4v-4m2 0v-4m2 0v-4m2 0v-4m2 8v-4m2 8v-4m2 0v-4m2-4v-4m4 0v-4m2 8v-4m2 0v-4m2 0v-5m2 0v-4m2 0v-4m2 4v-4m2 8v-4m2 0v-4m2 8v-4m2 17v-4m2 8v-4m2 8v-4m2 8v-4m2-8v-4m2 0v-4m2-9v-4m2 0v-4m2-4v-4m4 4v-4m2 12v-4m2 0v-4"/>
<path stroke="#0019ff" d="m83 825v-4m2 24v-16m2 24v-24m2 0v-4m2 24v-24m4 4v-4m2 20v-16m2 24v-12m2 17v-9m2 0v-4m2 4v-4m2 4v-4m2 4v-4m2 13v-17m2 4v-16m4 4v-4m2 20v-16m2 25v-13m2 8v-16m2 21v-33m2 16v-37m4 13v-17m2 0v-4m2 21v-17m2 45v-28m2 20v-8m2 24v-16m2 4v-4m2 12v-8m2 17v-9m2 9v-9m2 4v-4m2 9v-9m2 0v-4m2 13v-21m2 16v-28m2 16v-41m2-49v-4m2 65v-20m2 41v-49m2-70v-4m2 90v-16m2 53v-37m2 41v-20m2 37v-29m2 8v-4m2 8v-4m2 4v-4m2 8v-4m2 17v-13m2 8v-8m2 4v-8m2 0v-4m2 16v-16m2 8v-16m4 4v-4m2 20v-16m2 20v-8m2 13v-13m2 0v-4m2 0v-4m2 0v-4m2 16v-12m2 16v-12m2 0v-4m2 12v-8m2 12v-8m0-123v-4m0-82v-4m2 217v-4m0-230v-4m2 238v-12m0-213v-5m2 222v-16m2 28v-45m2 17v-37m2-82v-4m2 94v-8m2 49v-41m2 16v-4m2 41v-32m2 24v-4m2 16v-20m2 8v-24m2 20v-49m2-25v-4m0-98v-5m2 152v-82m0-4v-4m2 70v-54m2-98v-4m2 90v-49m2 41v-8m2 160v-156m0-103v-4m2 8v-4m2 99v-9m0-82v-4m2 308v-217m0-9v-16m0-62v-4m2 70v-20m0-46v-8m2 62v-13m0-49v-4m2 8v-4m2 4v-4m2 54v-5m4 87v-87m4 156v-156m2 156v-156m2 189v-189m2 9v-9m2 21v-4m2 152v-111m2 123v-70m2 74v-37m2 41v-16m2 20v-4m2 8v-4m2 4v-4m2 9v-5m2 9v-4m2 4v-4m2 8v-4m2 8v-4m2 4v-4m2 8v-4m2 4v-4m2 8v-8m2 4v-4m2 8v-4m2 0v-4m2 8v-4m2 4v-4m2 4v-8m2 0v-4m2 8v-12m2 8v-25m2 21v-37m2 12v-37m2-12v-4m4 70v-54m0-45v-4m2-12v-4m2-5v-4m2 4v-20m2 107v-9m0-98v-4m4 16v-4m2 140v-45m0-83v-4m2 132v-45m6-91v-4m2 4v-4m4 115v-29m2-65v-4m2 0v-5m2 0v-20m2 4v-4m2-4v-4m2 12v-4m2 4v-4m2 8v-4m2 140v-50m0-82v-4m4 148v-62m4-86v-4m2 4v-4m2 160v-61m2 53v-58m4-151v-5m2 50v-4m2 115v-9m0-90v-12m2 12v-8m2 78v-4m0-66v-4m2 12v-8m2 25v-21m2 12v-20m2 0v-4m2 8v-12m2 0v-4m2 156v-5m0-147v-4m2 12v-8m2 8v-4m2 8v-12m2 12v-21m4 0v-4m2 17v-13m2 173v-45m0-99v-20m2 4v-4m2 16v-12m2 16v-4m4 29v-12m2 73v-49m2 70v-41m2 53v-28m2 20v-4m2 12v-12m2 0v-4m2 16v-12m2 12v-4m2 0v-4m2 12v-8m2 8v-4m2 4v-4m2 4v-8m2 4v-12m2 0v-4m2 16v-12m2 0v-4m2 0v-4m2 16v-24m2 12v-25m4 13v-13m2 25v-12m2 24v-20m2 0v-4m2 16v-12m2 12v-4m2 8v-4m2 8v-4m2 8v-8m2 4v-4m2 8v-8m2 8v-12m2 4v-8m2 4v-21m4 9v-13m2 25v-41m4-4v-4m2 8v-8m2 8v-12m2-5v-4m4 4v-4m2 25v-21m2 17v-17m2 0v-4m2 4v-4m2 21v-17m2 9v-17m2 0v-4m2 8v-12m2 0v-4m2 29v-29m4 20v-20m2 25v-13m2 0v-4m2 21v-17m2 17v-17m2 0v-4m2 4v-4m2 4v-4m2 8v-12m2 12v-20m4 4v-4m2 20v-16m2 16v-8m2 12v-12m2 0v-4m2 21v-17m2 17v-13m2 0v-4m2 17v-13m2 4v-4m2 13v-17m2 4v-12m2 12v-24m4 24v-28m4 12v-12m2 24v-20m2 4v-4m4 20v-20m2 16v-8m4 20v-20m2 8v-4m2 25v-21m4 16v-8m2 17v-21m2 21v-37m2-4v-4m4 0v-5m2 37v-32m2 24v-16m2 12v-12m2 0v-4m4 16v-16m2 32v-32m2 12v-29m2-45v-4m2 66v-29m2 53v-74m2-61v-4m2 65v-12m2 45v-57m6 12v-4m2 94v-82m2 62v-37m2-21v-4m2 74v-33m2 29v-20m2 12v-17m2 0v-4m4 33v-33m2 9v-5m2 50v-45m2 0v-5m2 9v-17m2 0v-16m2 0v-4m2 16v-25m2-57v-4m2 74v-13m2 46v-29m2 29v-17m2 25v-12m2 16v-4m2 0v-4m2 20v-16m2 16v-4m2 8v-4m2 4v-4m2 17v-13m2 13v-13m2 0v-4m2 17v-13m2 4v-4m2 21v-17m2 25v-12m2 0v-4m2 20v-16m2 12v-16m4 8v-8m2 24v-12m2 25v-17m2 13v-5m2 5v-5m2 9v-4m2 8v-4m2 4v-8m2 0v-5m2 9v-4m2 16v-12m2 4v-4m2 0v-4m2 4v-4m2 4v-4m2 12v-21m4 21v-21m4 17v-13m2 25v-12m2 12v-8m2 0v-4m2 12v-12m4 8v-8m2 20v-12m2 12v-8m2 0v-4m2 4v-4m2 0v-4m2 16v-12m2 16v-16m2 8v-12m4 4v-4m2 12v-12m2 8v-4m2 12v-12m2 0v-4m2 12v-8m2 12v-8m2 0v-4m2 16v-12m2 8v-16m4 8v-8m2 20v-16m2 8v-12m2 4v-8m2 0v-13m4 13v-13m2 21v-8m2 16v-12m2 16v-12m2 0v-4m2 8v-4m2 12v-8m2 12v-8m2 0v-4m2 8v-8m2 0v-4m2 12v-12m2 0v-4m2 8v-4m2 0v-4m2 16v-12m2 8v-4m2 12v-8m2 8v-16m2 0v-4m2 12v-12m4 12v-12m2 20v-8m2 8v-8m2 4v-4m2 8v-16m2 0v-4m2 8v-8m2 0v-4m2 16v-12m2 16v-8m2 4v-4m2 0v-4m2 16v-20m2 12v-20m4 4v-4m2 20v-16m2 12v-4m2 16v-12m2 12v-4m2 4v-4m2 4v-4m2 4v-4m2 4v-12m4 12v-12m2 12v-4m2 8v-8m2 0v-4m2 8v-16m2 0v-4m2 0v-4m2 8v-8m2 20v-37m2 0v-4m2 8v-12m2 0v-4m2 25v-21m2 17v-25m2 4v-8m2 20v-33m2 33v-49m4 16v-16m2 12v-4m2 50v-46m2 50v-33m2 12v-4m2 16v-12m2 12v-4m2 17v-13m2 5v-5m2 5v-5m2 13v-17m2 0v-4m2 17v-13m2 9v-5m2 9v-9m2 0v-4m2 21v-21m2 0v-4m2 17v-13m2 0v-4m2 21v-17m2 25v-21m2 13v-29m2 0v-4m2 4v-12m2 0v-4m2 8v-4m2 33v-29m2 8v-4m2 33v-29m2 8v-4m2 17v-13m2 17v-9m2 17v-12m2 12v-12m2 12v-17m2 9v-21m2 0v-4m2 0v-4m2 20v-16m2 29v-25m2 8v-8m2 4v-4m2 4v-4m2 21v-17m2 29v-16m2 8v-4m2 8v-4m2 4v-12m2 16v-29m2 25v-41m2-4v-9m4 13v-13m2 33v-24m2 16v-8m2 33v-25m2 17v-13m2 0v-4m2 25v-29m2 21v-33m4 16v-20m2 0v-5m2 25v-20m2 41v-29m2 16v-8m2 4v-4m2 25v-21m2 4v-4m2 17v-13m2 17v-29m2 4v-4m2 21v-25m4 25v-25m2 37v-25m2 0v-4m2 21v-17m2 17v-9m2 17v-12m2 12v-17m2 0v-4m2 21v-17m2 21v-25m2 0v-4m2 21v-17m2 17v-29m2 0v-4m2 25v-21m2 4v-4m2 29v-25m2 12v-4m2 17v-13m2 17v-25m2 17v-33m2 4v-4m2 0v-4m2 8v-4m2 33v-29m2 37v-25m2 8v-8m2 0v-4m2 8v-8m2 17v-17m2 21v-33m2-4v-4m2 4v-4m2 28v-24m2 4v-4m2 28v-24m2 12v-12m2 4v-8m2 0v-4m2 8v-4m2 28v-24m2 49v-33m2 21v-8m2 24v-16m4 8v-8m2 16v-20m2 24v-41m4 0v-4m2 12v-8m2 21v-13m2 9v-4m2 24v-20m2 20v-16m2 0v-8m4 12v-12m2 20v-16m2 0v-4m2 16v-12m2 4v-17m4 9v-9m2 4v-4m2 4v-4m2 21v-17m2 21v-12m2 16v-25m2-4v-4m2 0v-4m2 25v-21m2 8v-16m4 12v-12m2 8v-4m2 29v-25m2 13v-5m2 17v-12m2 0v-5m2 21v-16m2 16v-21m2 0v-4m2 21v-21m2 0v-4m2 8v-4m2 17v-21m2 0v-4m2 17v-13m2 13v-5m2 17v-12m2 0v-5m2 17v-12m2 0v-5m2 17v-12m2 4v-4m2 4v-4m2 12v-8m2 4v-4m2 4v-4m2 4v-4m2 4v-13m2 0v-4m2 0v-4m2 17v-13m2 13v-17m2 0v-4m2 0v-4m2 4v-4m2 16v-12m2 12v-8m2 8v-16m2 0v-4m2 8v-4m2 21v-17m2 0v-4m2 16v-12m2 21v-13m2 0v-4m2 8v-8m2 4v-8m2 0v-4m4 8v-8m2 16v-12m2 17v-21m2 0v-8m4 0v-4m2 24v-20m2 24v-28m2 0v-4m2 16v-21m2 0v-4m2 4v-4m2 29v-25m4 17v-17m2 17v-4m2 24v-20m2 8v-4m2 16v-12m2 4v-16m2 0v-4m2 16v-29m2 0v-4m2 29v-37m4 16v-16m2 45v-37m2 0v-4"/>
<path stroke="#0042ff" d="m87 858v-5m2-20v-4m8 20v-4m2 13v-5m2 9v-4m12-9v-4m6 8v-4m2 13v-4m2 0v-5m12-32v-4m2 32v-4m6 0v-4m22-24v-5m2 25v-4m2-115v-4m6 131v-4m16 12v-4m4 9v-5m2-4v-4m6 8v-4m2 9v-5m2 9v-4m2-9v-4m12 8v-4m0-156v-4m0-28v-5m6 70v-4m4 136v-5m2-24v-4m2-115v-4m2 94v-4m8 49v-4m2 17v-5m4-147v-4m4 110v-4m0-82v-4m0-57v-4m2 73v-4m2 173v-173m4 156v-172m2 209v-57m0-156v-4m2 147v-143m0-95v-4m4 337v-29m0-217v-9m0-16v-4m4 238v-107m0-123v-12m4 49v-62m2 83v-78m4 131v-49m4 98v-29m2 46v-46m2 70v-37m2 13v-193m2 164v-152m2 152v-4m12 33v-5m12 21v-4m4 8v-4m4 4v-4m8 8v-4m8-4v-4m4-25v-4m6-37v-4m8 12v-4m6-69v-5m14 107v-4m0-29v-4m16 58v-58m2 4v-4m10 74v-66m2 5v-5m0-90v-4m2 156v-4m8-62v-4m0-82v-4m2 4v-4m4 127v-53m0-62v-4m6-8v-4m6-4v-4m4 139v-24m2-99v-4m14 8v-4m2 8v-4m4 29v-4m2 66v-5m4 37v-4m18 8v-4m4 0v-4m2-8v-4m4 4v-4m6 0v-4m8 16v-4m10 4v-4m6 8v-4m4-4v-4m6-12v-4m2 16v-4m10-53v-5m6 25v-4m2 0v-4m8-4v-4m8 4v-4m6 0v-4m4 8v-4m2 4v-4m16-9v-4m2 4v-4m6 13v-4m6 4v-4m12-9v-4m8-16v-4m4 20v-4m6 12v-4m4 13v-4m4 0v-5m6-28v-4m16 20v-4m4 0v-4m2-70v-4m2 66v-4m6-46v-4m2 37v-4m4-94v-4m4 147v-4m6-4v-4m2 0v-4m2-4v-4m6 16v-4m14-37v-4m4-8v-4m4 37v-4m2 12v-4m8 20v-4m2 8v-4m4 17v-4m2 4v-4m8 12v-4m2 12v-4m10-4v-4m2 20v-4m4 13v-4m6 12v-4m2 4v-4m12 0v-4m4 12v-4m8 0v-4m2 16v-4m6 4v-4m4 0v-4m4 16v-4m12 0v-4m4-4v-4m12 16v-4m6 4v-4m4-4v-4m6 0v-4m8 4v-4m4 16v-4m6 4v-4m2 8v-4m26-4v-4m4 4v-4m4 12v-4m8-8v-4m6 12v-4m2 0v-4m10-12v-4m2 20v-4m14 12v-4m12 4v-4m12-32v-5m6 9v-4m2-17v-4m2 16v-4m2 4v-4m4-28v-5m4 46v-4m2 8v-4m4-4v-5m2 5v-5m2 17v-4m2-4v-4m2 4v-4m2 12v-4m4 0v-4m2 0v-4m2 8v-4m2-4v-5m2 21v-4m4-4v-4m4 8v-4m4 4v-4m4-25v-4m6 25v-4m2-17v-4m6 25v-4m2 8v-4m2 12v-4m2 4v-4m2 4v-4m2-4v-4m6-4v-5m2 17v-4m4-17v-4m4 21v-4m2 16v-4m2-4v-4m4 8v-4m6-37v-8m4 8v-4m2 24v-4m2-4v-4m2 29v-4m2-4v-4m4 12v-4m2-4v-4m4-13v-4m4 4v-4m2 25v-4m2-9v-4m2 0v-4m2 25v-4m4 0v-4m2 8v-4m4-4v-4m6 16v-4m4-4v-4m6 12v-4m10 0v-4m6-4v-4m4 12v-4m2-8v-5m4 21v-4m2-4v-4m4-29v-4m4 37v-4m2 12v-4m2-12v-5m2-4v-4m2 8v-4m2 13v-4m8-5v-4m2-16v-4m2 29v-5m2-8v-4m2-4v-4m6 25v-5m2 29v-4m2-8v-4m8 20v-4m2 8v-4m6-28v-5m4 13v-4m4 24v-4m14-12v-4m12 12v-4m8-4v-4m2-8v-5m4 0v-4m4 25v-4m2-8v-4m16 0v-5m6 9v-4m2 4v-4m20 12v-4m4 4v-4m2-8v-5m4 13v-4m2 4v-4m8-4v-5m2 5v-5m2 5v-5m10 5v-5m4 0v-4m6-4v-4m6 17v-5m4-12v-4m6 16v-4m8-28v-5m2 5v-5m2 29v-4m12 17v-5m2-4v-4m8-4v-4m4-16v-5"/>
<path stroke="#006bff" d="m83 829v-4m2 24v-4m6 8v-4m4-16v-4m8 24v-4m2 4v-4m2 4v-4m2 4v-4m2 13v-4m6-21v-4m10 12v-4m4-20v-4m4 8v-4m4 20v-4m2 21v-5m4 0v-4m2 13v-4m4 0v-5m4 0v-4m2 13v-4m2 0v-5m2-8v-4m2-86v-4m6-29v-4m2 86v-4m2 41v-4m6 4v-4m2 8v-4m2 4v-4m2 8v-4m2 17v-4m6-13v-4m8-4v-4m10 12v-4m2 0v-4m2 16v-4m8 9v-5m0-135v-4m2 139v-4m0-115v-4m0-111v-4m2 238v-4m0-221v-4m2 221v-4m0-148v-4m0-41v-4m6 70v-4m4 131v-4m2-20v-5m8 33v-4m2-107v-4m2 37v-4m0-66v-4m0-28v-4m4 201v-74m2 152v-37m0-263v-4m2 267v-181m0-49v-4m2 262v-45m0-180v-4m2 250v-29m2-4v-66m2 50v-197m0-9v-4m0-74v-4m2 337v-4m2-49v-132m0-148v-4m2 333v-37m0-107v-37m0-78v-8m2 16v-41m2 74v-12m2 37v-16m2 28v-111m2 152v-16m2 4v-140m2 206v-21m2 37v-20m2 45v-21m2 13v-37m6-17v-4m4 12v-4m2 8v-4m2 9v-5m4 9v-4m2 8v-4m2 4v-4m2 8v-4m2 8v-4m4 8v-4m8 8v-4m2 0v-4m2 8v-4m4 4v-4m2-4v-4m6 0v-4m4-70v-4m10-53v-5m2 91v-4m0-103v-4m4 123v-25m2 54v-4m2-45v-5m6 41v-4m8 29v-4m0-127v-4m4-4v-5m2-12v-4m2-4v-4m2 12v-4m2 135v-49m0-82v-4m2 86v-4m2 62v-4m2 8v-62m2 70v-4m2-21v-41m0-94v-4m2 164v-66m0-82v-4m2 160v-4m0-152v-4m8-57v-4m2 49v-4m6 86v-4m0-4v-4m4 86v-66m0-53v-4m2-4v-5m4-12v-4m4 144v-4m0-5v-32m2 32v-32m0-103v-4m2 4v-4m4 8v-4m8 156v-4m0-45v-4m14 16v-4m4 8v-4m2 12v-4m2-8v-4m2 16v-4m2 4v-4m2 0v-4m2 12v-4m2 4v-4m4 4v-4m10-16v-4m2 16v-4m6-20v-4m2 16v-4m6 8v-4m2 4v-4m2 8v-4m4 12v-4m2 0v-4m4 8v-4m4-8v-4m10 119v-4m0-156v-4m2 164v-4m0-152v-4m2 4v-4m2 160v-4m4-168v-5m6 5v-5m2 177v-4m2-152v-4m2 160v-4m2-177v-4m2 8v-4m2 181v-4m2 4v-4m4-168v-5m2 177v-4m2-177v-4m6 4v-4m2 4v-4m2 4v-4m2 185v-4m0-17v-8m0-148v-4m2 160v-8m0-148v-4m2 160v-8m2 13v-17m0-160v-4m2 181v-17m2 17v-17m2 17v-17m2 33v-4m0-12v-17m2 17v-17m2 33v-4m0-12v-17m0-135v-4m2 156v-17m0-148v-4m2 185v-4m0-12v-17m2 17v-17m0-144v-4m2 165v-17m0-135v-4m2 156v-17m0-148v-4m2 169v-17m0-148v-4m2 169v-17m2 17v-17m2 17v-17m2 33v-4m0-12v-17m0-164v-4m2 185v-17m0-152v-4m2 189v-4m0-12v-17m2 17v-17m2 33v-4m0-12v-17m2 33v-4m0-12v-17m0-156v-4m2 177v-17m2 33v-4m0-12v-17m2 33v-4m0-12v-17m0-156v-4m2 177v-17m2 17v-17m2 33v-4m0-12v-17m2 17v-17m0-131v-4m2 152v-17m2 17v-17m2 17v-17m2 17v-17m2 17v-17m2 17v-17m0-152v-4m2 173v-17m0-156v-4m2 177v-17m0-168v-4m2 189v-17m2 17v-17m2 17v-17m0-139v-5m2 161v-17m2 17v-17m2 17v-17m2 33v-4m0-12v-17m0-148v-4m2 185v-4m0-12v-17m0-283v-4m2 320v-4m0-12v-17m2 17v-17m2 17v-17m2 17v-17m0-283v-4m2 304v-17m2 17v-17m2 17v-17m0-164v-4m2 201v-4m0-12v-17m0-222v-4m2 259v-4m4 4v-4m2 4v-4m0-209v-5m2 218v-4m4 4v-4m0-205v-4m2 49v-4m2-41v-4m2 8v-4m2-13v-4m2-12v-4m4-66v-4m10 119v-4m4 16v-4m6 8v-4m16 21v-4m16 33v-4m2 8v-4m6 0v-4m2 8v-4m4 8v-4m2 0v-4m4 4v-4m6 12v-4m8 12v-4m2-4v-4m8 20v-4m4-4v-4m2 4v-4m2 0v-4m14 8v-4m2 12v-4m4 0v-4m4 0v-4m10 16v-4m2-4v-4m8-12v-4m4 20v-4m4-4v-4m8 12v-4m2 8v-4m2-4v-4m2 12v-4m2-8v-4m2 8v-4m2 0v-4m2 16v-4m2 0v-4m4 12v-4m2-12v-4m12 16v-4m2 8v-4m2-12v-4m6 12v-4m6 0v-4m2 16v-4m2-4v-4m8 0v-4m2 16v-4m2 4v-4m2 4v-4m2 4v-4m2 4v-4m8 4v-4m2 9v-5m2-4v-4m4-8v-4m2 0v-4m2 8v-4m6-12v-4m2-13v-4m2 25v-4m2 4v-4m2-17v-4m2 17v-5m6-28v-4m2-5v-4m2 54v-4m2 8v-4m2-21v-4m2 21v-4m2 4v-4m4 8v-4m2 4v-4m2 12v-4m2-17v-4m2 21v-4m2 0v-4m2 8v-4m2-4v-4m2 20v-4m4-4v-4m2-13v-4m2 25v-4m2 8v-4m2 0v-4m2-29v-4m2 8v-4m2-12v-4m2 8v-4m4 16v-4m2 29v-4m2-17v-4m4 25v-4m2 12v-4m4 4v-4m2-4v-4m2-21v-4m4 21v-4m2 16v-4m2-17v-4m2 4v-4m4 21v-4m4 8v-4m2 4v-4m2 8v-4m2 4v-4m2 0v-4m2-33v-4m4 4v-4m2 25v-5m2-4v-4m4 21v-4m2-13v-4m4 21v-4m4-13v-4m4 4v-4m6 8v-4m2 25v-4m2-17v-4m4 25v-4m2-25v-4m2 25v-4m4 0v-4m2 20v-4m2-25v-4m2 25v-4m2 0v-4m2 12v-4m2 8v-4m2-16v-5m2 21v-4m2 8v-4m6-4v-4m6-21v-4m2 33v-4m2-8v-4m2 12v-4m2 12v-4m2-4v-4m4-29v-4m2 4v-4m4 45v-4m2-12v-4m2-5v-4m2 9v-5m2 13v-4m2 4v-4m4-33v-4m2 33v-5m2-16v-4m2 29v-4m2-9v-4m2-4v-4m2-8v-4m2 8v-4m2 33v-4m4 16v-4m2 16v-4m4-4v-4m12-4v-4m4 20v-4m4-12v-4m4 8v-4m2 12v-4m2-12v-4m2 16v-4m6-12v-4m2 0v-5m2 5v-5m2 21v-4m4 12v-4m2-25v-4m12 0v-4m6 29v-4m2-8v-4m2 20v-4m2 4v-4m2-16v-5m2 132v-21m0-90v-4m6 0v-4m8 8v-4m2-8v-4m2 119v-5m0-98v-4m2 111v-13m0-106v-4m2 123v-13m0-94v-4m2 111v-13m0-102v-4m2 123v-21m0-98v-4m2 123v-21m0-90v-4m2 115v-21m0-94v-4m2 119v-21m2 21v-21m0-94v-4m2 119v-21m2 21v-21m2 21v-21m0-111v-4m2 136v-21m2 21v-21m2 25v-29m2 29v-29m0-115v-4m2 148v-29m0-115v-4m2 148v-29m2 29v-29m2 29v-29m2 29v-29m2 29v-29m0-115v-4m2 148v-29m2 29v-29m2 29v-29m2 29v-29m0-94v-4m2 127v-29m2 29v-29m0-102v-5m2 136v-29m0-107v-4m2 140v-29m2 29v-29m2 29v-29m0-111v-4m2 144v-29m2 29v-29m0-98v-4m2 131v-29m0-115v-4m2 148v-29m2 29v-29m0-127v-4m2 160v-29m2 29v-29m0-102v-5m2 136v-29m2 29v-29m0-119v-4m2 152v-29m2 29v-29m2 29v-29m2 29v-29m2 29v-29m0-123v-4m2 156v-29m0-123v-4m2 156v-29m0-102v-5m2 136v-29m0-115v-4m2 148v-29m2 29v-29m2 29v-29m0-127v-4m2 160v-29m0-115v-4m2 148v-29m0-144v-4m2 177v-29m2 29v-29m2 29v-29m2 29v-29m0-111v-4m2 144v-29m0-148v-4"/>
<path stroke="#0094ff" d="m87 862v-4m2-21v-4m8 20v-4m2 13v-4m2 8v-4m12-9v-4m12 13v-4m12-5v-4m6 0v-4m6 17v-4m4 4v-4m10-99v-4m2 66v-4m2 24v-4m2-111v-4m2 86v-4m4 45v-4m2 17v-4m12 0v-5m2 5v-5m6 0v-4m4-8v-4m2 21v-5m2 9v-4m2 8v-4m2-9v-4m8 9v-5m4-164v-4m0-20v-4m2-21v-4m4 86v-4m4 144v-4m2-25v-4m2-107v-8m2 90v-4m6 53v-4m2 0v-4m2 17v-4m4-17v-4m4-20v-5m2 111v-61m2 90v-12m2 0v-37m2 49v-21m4 17v-29m0-209v-4m2 234v-37m4 37v-41m0-132v-33m2 218v-4m0-181v-24m0-41v-13m2 230v-82m0-127v-13m2 243v-91m0-102v-17m2 41v-16m2 29v-17m2 62v-21m2 13v-25m2 86v-20m2 33v-17m2 41v-16m2 12v-20m2-62v-4m2 4v-4m4 16v-4m24 41v-4m2 4v-4m2 4v-4m8 8v-4m6-4v-4m6-25v-4m4 8v-65m2 74v-4m6-9v-41m6 33v-4m2-20v-5m2 95v-45m16-17v-49m2 66v-62m4 53v-53m4 4v-4m6 4v-4m2 8v-4m2 4v-4m6 78v-4m0-152v-4m2 90v-4m8-82v-4m2 4v-4m4 127v-4m0-111v-4m2 70v-4m4-74v-4m4 90v-4m2 17v-4m2 41v-5m2-4v-4m0-24v-4m2-91v-4m8-8v-4m2 20v-4m6 132v-37m0-87v-4m4 103v-41m0-33v-4m2 66v-4m2 24v-4m2 16v-4m24-8v-4m2 12v-4m2-4v-4m2 0v-4m4 4v-4m4-8v-4m14 28v-4m16-16v-4m2 16v-4m10-53v-4m4 151v-8m2 13v-17m0-115v-4m2 140v-25m2 25v-25m2 25v-25m2 25v-25m2 25v-25m0-123v-4m2 156v-33m2 33v-33m2 33v-33m2 33v-33m0-119v-4m2 156v-33m2 33v-33m2 33v-33m2 37v-41m2 41v-41m2 41v-41m0-115v-4m2 160v-41m2 41v-41m2 41v-45m2 45v-17m0-8v-20m2 45v-17m0-8v-20m2 45v-17m0-8v-20m2 45v-12m0-17v-20m2 49v-12m0-17v-20m2 49v-12m0-17v-20m2 49v-12m0-17v-20m0-119v-5m2 173v-12m0-17v-20m2 49v-12m0-17v-20m0-111v-4m2 164v-12m0-17v-20m2 49v-12m0-17v-20m2 49v-12m0-17v-20m0-111v-4m2 164v-12m0-17v-20m2 49v-12m0-17v-20m2 49v-12m0-17v-20m2 49v-12m0-17v-20m2 49v-12m0-17v-20m2 49v-12m0-17v-20m0-124v-4m2 177v-12m0-17v-20m2 49v-12m0-17v-20m2 49v-12m0-17v-20m2 49v-12m0-17v-20m0-144v-4m2 197v-12m0-17v-20m2 49v-12m0-17v-20m2 49v-12m0-17v-20m2 49v-12m0-17v-20m2 49v-12m0-17v-20m0-119v-5m2 173v-12m0-17v-20m2 49v-12m0-17v-20m2 49v-12m0-17v-20m2 49v-12m0-17v-20m0-115v-4m2 168v-12m0-17v-20m2 49v-12m0-17v-20m0-111v-4m2 164v-12m0-17v-20m0-148v-4m2 201v-12m0-17v-20m2 49v-12m0-17v-20m2 49v-12m0-17v-20m0-124v-4m2 177v-12m0-17v-20m2 49v-12m0-17v-20m2 49v-12m0-17v-20m2 49v-12m0-17v-20m2 49v-12m0-17v-20m0-132v-4m2 185v-12m0-17v-20m2 49v-12m0-17v-20m0-136v-4m2 189v-12m0-17v-20m0-210v-4m2 263v-12m0-17v-20m0-148v-4m2 201v-12m0-17v-20m2 49v-12m0-17v-20m2 49v-12m0-17v-20m0-197v-5m2 251v-12m0-17v-20m0-165v-4m2 218v-12m0-17v-20m2 49v-12m0-17v-20m2 49v-12m0-17v-20m2 49v-12m0-17v-20m0-119v-5m2 173v-12m0-17v-20m2 49v-12m0-17v-20m2 49v-45m2 45v-41m0-140v-4m2 181v-33m0-152v-4m2 189v-33m2 29v-25m2 25v-25m2 21v-17m12-189v-4m4-8v-4m2 33v-4m4 16v-4m8 20v-4m8 21v-4m4 0v-4m4 16v-4m6 12v-4m2 0v-4m4 0v-4m4 29v-4m10 12v-4m6 8v-4m10 4v-4m8 0v-4m8 16v-4m4 0v-4m12 12v-4m2 8v-4m8-4v-4m10 12v-4m4 4v-4m2 4v-4m4-4v-4m6 0v-4m2-8v-4m10 28v-4m6 4v-4m22 4v-4m10 0v-4m2 8v-4m18 0v-4m10-12v-4m20 24v-4m16 0v-4m4-20v-4m4 8v-4m4-17v-4m2 17v-4m2 0v-5m4-24v-4m2-4v-5m2 54v-4m2 8v-4m4-4v-4m2 4v-4m2 12v-4m8-12v-5m2 21v-4m2 0v-4m2 8v-4m2-4v-4m6 12v-4m4 8v-4m2 8v-4m2 0v-4m2-29v-4m2 8v-4m2-12v-4m4 37v-4m2-13v-4m2 29v-4m4-4v-4m2 12v-4m2 12v-4m2 0v-4m2 8v-4m2-4v-4m6-4v-4m2 16v-4m2-16v-5m2 5v-5m4 21v-4m2 12v-4m2 0v-4m2 4v-4m4 8v-4m2 0v-4m2-33v-4m4 4v-4m4 16v-4m2 25v-4m2 0v-4m4 8v-4m2 0v-4m4-13v-4m4 4v-4m2 21v-4m2-8v-5m2 5v-5m2 25v-4m2-16v-5m2 17v-4m2 12v-4m2-25v-4m2 25v-4m4 0v-4m4-9v-4m2 25v-4m2 0v-4m2 12v-4m6 4v-4m2 8v-4m4-4v-4m2 4v-4m4-4v-4m2-13v-4m6 29v-4m2 12v-4m2-4v-4m4-29v-4m4 33v-4m4 0v-4m2-4v-5m6 17v-4m4-33v-4m2 33v-4m2-17v-4m2 29v-4m2-9v-4m2-4v-4m6 25v-4m2 24v-4m10 8v-4m2 8v-4m6-28v-4m4 12v-4m6 8v-4m12 4v-4m4-4v-4m8 20v-4m8-4v-4m2-8v-4m4 0v-5m4 25v-4m2-8v-4m10 119v-13m2 25v-8m2 0v-21m2 21v-21m0-102v-4m2 127v-21m2 25v-29m2 29v-29m0-94v-4m2 127v-29m0-94v-4m2 131v-33m2 33v-37m2 37v-16m0-5v-12m2 33v-12m0-13v-12m2 37v-12m0-13v-8m2 33v-12m0-13v-12m2 37v-8m0-21v-8m2 37v-8m0-21v-4m2 33v-8m0-21v-8m2 37v-8m0-21v-8m0-82v-4m2 123v-8m0-21v-8m2 37v-8m0-21v-8m0-82v-4m2 123v-8m0-21v-12m0-90v-4m2 135v-8m0-21v-12m2 41v-8m0-21v-8m0-86v-4m2 127v-8m0-21v-8m0-86v-4m2 127v-4m0-29v-12m2 45v-4m0-29v-12m0-99v-4m2 148v-4m0-29v-12m2 45v-4m0-29v-8m0-90v-4m2 135v-4m0-29v-8m0-90v-4m2 135v-4m0-29v-8m0-90v-4m2 135v-4m0-29v-16m2 49v-4m0-29v-12m2 45v-4m0-29v-8m0-90v-4m2 135v-4m0-29v-12m2 45v-4m0-29v-8m0-90v-4m2 135v-4m0-29v-4m2 37v-4m0-29v-8m0-94v-5m2 140v-4m0-29v-8m2 41v-4m0-29v-12m2 45v-4m0-29v-12m0-99v-4m2 148v-4m0-29v-16m2 49v-4m0-29v-12m2 45v-4m0-29v-8m0-90v-4m2 135v-4m0-29v-8m2 41v-4m0-29v-12m2 45v-4m0-29v-24m2 57v-4m0-29v-16m2 49v-4m0-29v-8m0-94v-5m2 140v-4m0-29v-8m2 41v-4m0-29v-20m2 53v-4m0-29v-12m0-103v-4m2 152v-4m0-29v-20m0-115v-4m2 172v-4m0-29v-20m0-115v-4m2 172v-4m0-29v-12m0-99v-4m2 148v-4m0-29v-29m2 62v-4m0-29v-16m2 49v-4m0-29v-16m2 49v-4m0-29v-8m2 41v-4m0-29v-12m0-99v-4m2 148v-4m0-29v-8m0-90v-4m2 135v-4m0-29v-12m0-95v-4m2 144v-4m0-29v-16m0-107v-4m2 160v-4m0-29v-12m2 45v-4m0-29v-24m2 57v-4m0-29v-16m0-99v-4m2 152v-4m0-29v-41m2 74v-4m0-29v-20m0-115v-4m2 172v-4m0-29v-12m2 45v-4m0-29v-24m0-120v-4"/>
<path stroke="#00bdff" d="m83 833v-4m2 24v-4m6 9v-5m4-16v-4m8 25v-5m2 5v-5m12-12v-4m2 21v-5m2 13v-4m2 0v-4m4-9v-4m4-20v-4m4 8v-4m4 20v-4m2 21v-4m4 0v-5m2 13v-4m12 0v-4m2-9v-4m2-82v-4m2 66v-4m4-91v-4m4 119v-4m8 8v-4m2 4v-4m2 8v-4m10 13v-4m16-9v-4m4 13v-5m6 5v-5m4 5v-5m0-123v-4m4 123v-4m0-193v-4m6 78v-4m2 86v-4m2 41v-4m2-20v-4m8 32v-4m2-135v-4m2 65v-4m2-98v-4m2 287v-29m0-193v-4m2 4v-4m2 226v-12m4-234v-4m0-91v-4m2 345v-4m0-329v-4m2 337v-12m2-267v-4m2 283v-12m0-206v-20m0-53v-5m2 87v-41m0-91v-4m2 345v-33m0-82v-37m0-78v-12m2 242v-12m0-91v-37m0-49v-16m2 205v-99m0-61v-21m2 29v-16m2 69v-24m2 12v-20m2 82v-21m2 33v-20m2 41v-17m2 12v-16m6-70v-4m4 12v-4m6 13v-4m8 16v-4m4 8v-4m2 8v-4m12 8v-4m4 4v-4m2-4v-4m4 4v-4m2 0v-4m4-12v-62m6 33v-37m2 37v-37m2 16v-4m0-61v-4m2 90v-4m0-17v-4m2-8v-4m4-49v-4m4 82v-17m4 54v-5m0-4v-41m2-78v-4m2 99v-17m2 37v-4m4-45v-4m6 66v-5m4 5v-5m0-127v-4m2 144v-4m2-58v-4m0-70v-4m6-8v-4m2 164v-4m0-144v-4m2 4v-4m2 86v-4m4 41v-45m2-45v-4m0-86v-4m2 287v-103m2 103v-135m0-13v-4m4 152v-111m0-45v-4m2 0v-4m2 82v-4m2 4v-62m0-65v-4m4-13v-4m2-12v-4m2 8v-4m2 12v-4m2 4v-4m2 234v-135m2 135v-140m2 140v-144m2 144v-111m8-111v-4m2 95v-4m4 20v-4m8 12v-4m2 12v-4m4 4v-4m2 4v-4m4 9v-5m2 5v-5m2 5v-5m2 5v-5m2 0v-4m10 0v-4m8-8v-4m2 16v-4m4-4v-4m2 4v-4m10 16v-4m2 4v-4m2-4v-4m2 0v-4m8 99v-17m2 17v-17m2 21v-25m0-115v-4m2 148v-33m2 33v-33m2 37v-41m2 41v-17m0-8v-20m0-119v-4m2 168v-12m0-17v-12m2 41v-8m0-25v-8m0-107v-4m2 152v-8m0-25v-12m0-119v-4m2 168v-8m0-25v-16m2 49v-8m0-25v-8m0-107v-4m2 152v-8m0-25v-12m2 45v-4m0-33v-16m0-120v-4m2 177v-4m0-33v-16m0-115v-5m2 173v-4m0-33v-21m2 58v-4m0-33v-16m2 53v-4m0-33v-21m2 58v-4m0-33v-21m0-106v-4m2 168v-4m0-33v-21m0-102v-4m2 123v-17m2 17v-17m0-98v-4m2 119v-17m2 17v-25m2 25v-25m0-107v-4m2 132v-25m0-103v-4m2 132v-25m0-98v-5m2 128v-21m0-102v-5m2 128v-45m2 41v-29m0-107v-4m2 140v-25m0-94v-5m2 124v-25m0-94v-5m2 124v-25m2 25v-33m2 33v-21m2 21v-25m0-86v-4m2 115v-29m0-95v-4m2 128v-25m2 25v-33m2 33v-29m0-82v-4m2 115v-33m0-91v-4m2 128v-33m2 33v-58m2 58v-37m2 37v-62m2 62v-46m0-94v-4m2 144v-37m0-91v-4m2 132v-29m2 29v-58m2 58v-37m0-91v-4m2 132v-41m0-91v-4m2 136v-50m2 50v-33m2 33v-41m2 41v-29m0-82v-4m2 115v-41m2 41v-33m2 33v-29m0-78v-4m2 111v-29m2 29v-50m2 50v-62m2 62v-54m2 54v-37m2 37v-37m0-91v-4m2 132v-37m0-95v-4m2 136v-50m0-94v-4m2 148v-62m2 62v-41m2 41v-33m0-82v-4m2 119v-41m2 41v-78m0-128v-4m2 210v-50m2 50v-37m2 37v-37m0-222v-4m2 263v-37m2 37v-33m2 33v-33m2 33v-41m0-218v-4m2 263v-46m2 46v-33m2 33v-46m0-94v-4m2 144v-74m0-123v-5m2 206v-45m0-87v-4m2 140v-49m2 90v-4m0-33v-21m2 58v-4m0-33v-21m2 58v-8m0-25v-25m2 58v-8m0-25v-25m0-119v-4m2 181v-12m0-17v-20m2-107v-4m4-37v-4m2-13v-4m2-12v-4m4-66v-4m6 107v-4m8 28v-4m4 9v-5m4 17v-4m12 20v-4m12 13v-5m4 13v-4m2 4v-4m4 12v-4m14 0v-4m8 12v-4m6 12v-4m2 4v-4m12 12v-4m4-4v-4m2 0v-4m6 12v-4m4-4v-4m6 16v-4m8-4v-4m10 17v-5m10-20v-4m2 12v-4m2 12v-4m10 13v-5m2-4v-4m8-4v-4m2 8v-4m6 8v-4m8 4v-4m8 13v-5m8-8v-4m6 12v-4m6 9v-5m8-4v-4m4 13v-5m10 5v-5m6 5v-5m6 5v-5m2-12v-4m2 0v-4m2 8v-4m10-4v-4m2 0v-4m2-13v-4m2 17v-4m2 0v-4m4-25v-4m2-4v-4m2 53v-4m6 0v-4m2 4v-4m2 12v-4m2-4v-4m2 4v-4m2 12v-4m2-12v-4m2 20v-4m2 0v-4m2 8v-4m2-4v-4m2 16v-4m2-25v-4m2 29v-4m2-16v-5m4 33v-4m4-33v-4m2 8v-4m2-12v-4m2 4v-4m2 37v-4m2-13v-4m2 29v-4m4-4v-4m6 16v-4m4 0v-4m4-33v-4m2 33v-4m4-4v-4m2 4v-4m4 20v-4m2 12v-4m4 0v-4m2 4v-4m2 8v-4m2 0v-4m2-33v-4m4 4v-4m2 21v-4m2 0v-5m2 25v-4m2 0v-4m2-17v-4m2 29v-4m2 0v-4m4-12v-5m2-28v-4m2 37v-5m2 21v-4m2-8v-4m2 4v-4m4 4v-4m2 16v-4m2 12v-4m2-25v-4m2 25v-4m4 0v-4m2 16v-4m2-20v-5m2 25v-4m2 0v-4m2 12v-4m2 4v-4m2-16v-4m2 24v-4m2 8v-4m4-4v-4m2 4v-4m4-4v-4m2-13v-4m2 29v-4m2-8v-4m2 16v-4m8-29v-4m2 0v-4m2 37v-4m2 12v-4m2-8v-4m2-4v-4m2 4v-4m2 12v-4m2 8v-4m2-41v-4m2 12v-4m2 33v-4m2-17v-4m4 17v-5m2-4v-4m6 25v-4m4 12v-4m2 16v-4m4-4v-4m12-4v-4m6 20v-4m6-8v-4m2 12v-4m2-12v-4m2 16v-4m8-16v-4m4 20v-4m4 12v-4m2-24v-5m10 9v-4m2-5v-4m6 29v-4m4 8v-4m2 111v-25m0-82v-4m2 115v-12m0-13v-8m0-98v-4m2 20v-4m2 119v-8m0-21v-8m2 37v-8m0-21v-4m2 33v-8m0-21v-4m0-86v-4m2 123v-4m0-29v-8m2 41v-4m0-29v-4m2 37v-4m0-29v-4m2-78v-4m4 4v-4m4 4v-4m2-4v-4m4 94v-4m0-78v-4m6 0v-4m6 82v-4m6-99v-4m4 4v-4m10 4v-4m4 103v-4m0-99v-4m4 115v-4m0-82v-4m2 86v-4m2 4v-4m2-90v-5m4 91v-4m2-87v-4m4 17v-4m2 86v-4m0-95v-4m4-8v-4m2 119v-4m2 4v-4m0-86v-4m2 82v-4m2 12v-4m2-115v-4m2 4v-4m6 16v-4m2 4v-4m2 115v-4m0-86v-4m2 90v-4m2 8v-4m4-4v-4m2 8v-4m0-95v-4m8 95v-4m0-107v-4m2 28v-4"/>
<path stroke="#00e5f7" d="m87 866v-4m0-263v-4m2 246v-4m8 21v-5m10 5v-5m2 5v-5m2 13v-4m2-4v-5m12 13v-4m6-33v-4m6 33v-5m6 0v-4m6 17v-4m2 0v-4m2 8v-4m2-4v-5m2 13v-4m6-95v-4m4 82v-4m2-107v-4m2 82v-4m4 45v-4m2 17v-4m2-17v-4m8 25v-4m2 0v-4m2 4v-4m6 0v-5m4-8v-4m2 21v-4m6 0v-5m8 9v-4m6 4v-4m0-144v-4m2-86v-5m2 239v-5m0-221v-4m2 61v-4m2 181v-4m2-25v-4m2-103v-4m6 99v-4m2 37v-5m2 0v-4m2 17v-4m4-17v-4m2-66v-4m0-78v-4m0-20v-4m2 287v-16m0-115v-4m4-173v-4m2 29v-4m2 37v-5m6-4v-4m2-70v-4m2 99v-25m0-4v-4m0-57v-5m4 181v-33m0-28v-17m0-107v-4m2 201v-49m2 90v-61m2 33v-25m2 140v-87m2 9v-21m2 86v-24m2 28v-16m2 33v-12m2 8v-13m8-82v-4m4 13v-5m6 13v-4m2 8v-4m2 4v-4m4 12v-4m8 12v-4m2 4v-4m2 4v-4m2 0v-4m10 4v-4m6-25v-4m2 13v-4m2-70v-8m2 20v-4m2-4v-4m4 65v-4m2 103v-8m2 8v-4m0-148v-4m2 156v-12m0-95v-4m0-29v-4m2 144v-8m2-132v-4m2 17v-4m2 4v-21m2 148v-21m2 21v-12m2-132v-4m2 0v-4m2 74v-70m2 45v-4m0-102v-4m2 213v-4m0-82v-4m0-62v-4m0-53v-4m4-21v-4m8 152v-4m2 8v-4m2 12v-4m2-21v-4m2-41v-4m2 82v-4m0-70v-4m2 144v-8m2 8v-4m0-70v-4m2-21v-4m2-86v-4m4-29v-4m2 226v-148m0-74v-4m2 74v-4m0-16v-5m2-36v-5m2 17v-4m2 127v-4m0-62v-4m4 54v-41m2-5v-4m0-4v-4m2 66v-4m2-41v-4m2 135v-4m4-222v-4m6-4v-4m2 164v-4m0-140v-4m2-16v-4m2 242v-12m2 12v-12m0-201v-5m4 58v-4m2 164v-8m0-119v-4m2 24v-4m2 111v-12m6-99v-4m4 115v-4m2-99v-4m12 0v-4m2 12v-4m2-4v-4m2 0v-4m4 4v-4m2 115v-8m2-115v-4m12 20v-4m2 12v-4m2 103v-12m0-87v-4m2 0v-4m6 107v-8m2 8v-16m2 16v-12m2-107v-4m2 16v-4m2 107v-12m0-17v-12m2 41v-12m0-17v-8m2 37v-8m0-25v-8m2 41v-4m0-33v-4m0-107v-4m2 152v-4m0-33v-8m0-115v-4m2 123v-12m12 12v-4m2 0v-4m0-103v-4m6 98v-8m4 8v-16m6 16v-8m0-107v-4m6 111v-4m0-103v-4m2 111v-4m10-8v-4m6-82v-4m4 98v-4m0-82v-4m4 82v-4m4-86v-5m6 91v-4m0-87v-4m2 70v-4m2-57v-5m2 62v-4m4 29v-4m2-99v-4m4 107v-4m4-9v-4m0-94v-4m2 119v-4m2-95v-4m2 107v-4m2-8v-5m0-86v-4m6 29v-4m2-33v-4m2 86v-4m2 12v-4m0-98v-4m2 41v-5m2 87v-4m2 4v-4m6-87v-4m4 91v-5m0-86v-4m2 58v-4m2-62v-4m2 111v-4m0-83v-4m4-65v-4m2 37v-5m4 124v-5m2-168v-4m2 185v-4m0-78v-4m2 73v-4m2-24v-4m0-115v-4m4 69v-4m2 123v-41m0-86v-4m2 131v-24m0-123v-4m2 151v-61m2 61v-32m2 41v-29m4-123v-4m8-9v-4m2-78v-4m2 74v-4m2 33v-4m6 16v-4m2-4v-4m12 45v-4m4 0v-4m2-8v-5m10 33v-4m14 25v-4m8 4v-4m10 4v-4m10 12v-4m14 20v-4m10 4v-4m10 0v-4m8 4v-4m6 13v-5m10-4v-4m4-12v-4m22 24v-4m2-4v-4m2 12v-4m8 4v-4m6 9v-5m2-12v-4m8 21v-5m4 0v-4m2 9v-5m2-12v-4m6 12v-4m6 0v-4m4 8v-4m12 13v-5m2 5v-5m4 5v-5m10 9v-4m2-5v-4m10 4v-4m2-37v-4m2 21v-4m2-17v-4m2 33v-4m2 0v-4m2-12v-5m4 13v-4m4-25v-4m2-4v-4m4 53v-4m2-25v-4m4 29v-4m2 12v-4m2-4v-4m2 4v-4m2 12v-4m2-12v-4m10 24v-4m2-24v-5m4 9v-4m2 24v-4m4 4v-4m2-25v-4m2 9v-5m2-12v-4m2 4v-4m2 37v-4m2-12v-5m2 29v-4m2-25v-4m2 25v-4m2 8v-4m2 12v-4m2 4v-4m2 4v-4m4-33v-4m2 0v-4m4 41v-4m2-12v-4m4-13v-4m4 45v-4m2-4v-4m2 8v-4m2 4v-4m6-33v-4m4 4v-4m2 21v-4m2 0v-4m2 24v-4m4-20v-5m2 29v-4m2 0v-4m2-49v-4m2 41v-4m2-29v-4m2 37v-4m2 20v-4m2-8v-4m2 4v-4m2 20v-4m2-12v-4m2 16v-4m4-16v-5m6 21v-4m2 16v-4m2-20v-4m4 20v-4m4 12v-4m2-16v-4m6-9v-4m2 33v-4m2 4v-4m2-37v-4m2 37v-4m2-12v-5m2 29v-4m2-8v-4m2 16v-4m2 8v-4m2-4v-4m4-25v-4m2 0v-4m2 37v-4m2 12v-4m4-16v-4m2 4v-4m2 12v-4m2 8v-4m2-41v-4m2 12v-4m2 33v-4m2-17v-4m2 25v-4m2-4v-4m2-5v-4m2-16v-4m2 8v-4m4 57v-4m10 8v-4m8-24v-4m2 131v-21m0-94v-4m2 0v-4m2 20v-4m4-8v-4m12 4v-4m4-4v-4m2 0v-4m2 0v-4m4 28v-4m6-33v-4m2 33v-4m2-8v-4m6-4v-5m2 29v-4m2-8v-4m4 0v-4m2 123v-21m2 29v-4m2-29v-4m2 8v-4m2-4v-4m0-99v-4m2 111v-4m0-90v-4m4 90v-4m2-78v-4m2 4v-4m4 90v-4m0-86v-4m2 98v-4m2 0v-4m0-86v-4m2 98v-4m2 0v-4m2 4v-4m0-82v-4m4 8v-4m2 8v-4m4 4v-4m2-8v-4m2-4v-5m2 103v-4m0-78v-4m2 86v-4m0-78v-4m2 78v-4m2-91v-4m2 99v-4m2-78v-4m2 90v-4m0-82v-4m2 90v-4m0-82v-4m2 82v-4m0-99v-4m2 111v-4m2 8v-4m0-82v-4m4 90v-4m0-82v-4m4 0v-4m2 4v-4m4 90v-4m0-91v-4m2-12v-4m2 25v-5m2 99v-4m0-82v-4m2 90v-4m4-12v-5m2 13v-4m0-99v-4m2 25v-4m6-9v-4m2 95v-4m2 4v-4m2 12v-4m0-91v-4m2 82v-4m2 17v-4m2 4v-4m0-95v-4m4 12v-4m2 17v-4m2 86v-4m0-86v-5m2-12v-4m4 99v-5m0-110v-5m2 33v-4m2 74v-4m4 33v-4m2-8v-5m0-110v-5"/>
<path stroke="#21ffd6" d="m83 837v-4m2 25v-5m0-262v-4m2 8v-4m4 361v-4m0-86v-4m2 94v-12m2-99v-4m4 29v-4m2 90v-12m0-70v-4m2-4v-4m2 4v-4m6 94v-4m6-103v-4m2 21v-4m2 12v-4m2 86v-4m0-82v-4m2 90v-12m2 12v-4m0-95v-4m2 103v-4m2 4v-21m2 21v-25m0-123v-4m2 152v-16m0-103v-4m2 123v-16m2 16v-16m0-87v-4m2 107v-12m4-78v-4m2 94v-8m14 8v-12m0-87v-4m2-78v-4m2 62v-4m4 127v-12m0-201v-5m2 218v-21m0-114v-5m2 140v-16m0-87v-4m2 107v-16m2 16v-12m2-91v-4m2 8v-4m2 4v-4m2 9v-5m8 99v-8m0-95v-4m2 21v-4m4 90v-21m2 21v-12m4-74v-4m2 8v-4m4-13v-4m2 103v-8m0-99v-4m6 4v-4m2 21v-4m0-173v-4m0-12v-4m2-21v-4m2 222v-4m2-140v-4m2 139v-4m6 103v-4m0-214v-4m2 82v-4m2 41v-4m4 107v-12m4 12v-4m2-95v-4m2-119v-4m2 226v-25m0-147v-5m2 161v-5m0-106v-4m8-210v-4m4 99v-4m2-78v-5m4 70v-4m4 82v-28m6 213v-127m2 127v-12m2-54v-24m2 90v-25m2 21v-17m2 21v-4m2 4v-8m2 8v-12m0-103v-4m2 119v-12m0-103v-4m2 119v-12m4-82v-5m4 9v-4m2 94v-4m0-82v-4m2 90v-12m10-58v-4m4 8v-4m10 8v-4m2 4v-4m2 4v-4m2-4v-4m4 4v-4m2 0v-4m6-16v-5m2 13v-4m0-99v-4m2 74v-4m2 123v-21m0-98v-4m0-37v-4m0-49v-5m2 218v-21m0-184v-4m2 201v-17m0-94v-4m0-107v-4m2 230v-25m0-205v-4m2 226v-9m0-201v-4m2 218v-8m0-66v-4m0-119v-4m2 209v-21m2 21v-21m2 21v-25m0-123v-4m2 131v-4m0-197v-4m2 214v-9m0-86v-37m2 144v-21m0-102v-4m2 127v-4m0-99v-4m2 37v-4m0-74v-4m0-49v-4m2 205v-21m2 17v-12m2-132v-33m0-45v-4m2 78v-4m2 62v-66m0-66v-4m2 78v-4m2 156v-16m0-136v-4m2 156v-16m2 16v-12m0-140v-4m2 156v-8m2 8v-8m0-140v-4m0-78v-4m2 234v-12m2 12v-12m2 4v-8m0-206v-4m2 222v-12m0-128v-4m2 148v-21m0-127v-4m2 152v-41m0-238v-4m2 160v-41m0-74v-4m6 12v-4m2 234v-21m0-78v-4m2 103v-16m2 16v-16m0-189v-4m2 209v-21m0-98v-33m0-74v-4m2 230v-16m0-74v-4m0-128v-4m2 226v-25m0-213v-4m2 242v-21m0-114v-5m0-94v-4m2 238v-16m0-74v-4m2 90v-17m0-78v-4m0-123v-4m2 8v-4m2 86v-12m6 152v-21m0-82v-37m2 140v-16m0-115v-4m2 135v-25m2 13v-9m0-73v-50m0-74v-4m2 210v-9m0-69v-4m2 94v-21m0-123v-4m2 148v-12m0-99v-4m0-74v-4m2 185v-13m0-102v-4m2 127v-16m2 4v-4m0-78v-5m2 99v-12m0-91v-4m2 107v-16m2 16v-16m0-91v-4m2 111v-8m0-86v-5m2 95v-12m0-78v-5m2 99v-16m4-74v-4m2 94v-8m0-82v-4m2 4v-4m2 94v-4m0-90v-5m2 99v-12m2 12v-12m2 12v-8m2 8v-16m2 16v-12m0-87v-4m2 103v-16m2 8v-17m2 25v-16m2-95v-4m2 16v-4m2 103v-16m0-111v-4m2 131v-12m0-95v-4m2 111v-16m0-91v-4m2 111v-16m2 16v-12m2 0v-4m2 16v-16m2 16v-12m0-82v-5m2 99v-16m0-78v-5m2 91v-8m0-87v-4m2 0v-4m2 99v-9m0-119v-4m2 144v-16m4 16v-4m2-152v-4m2 12v-4m2 152v-4m4 4v-4m2 4v-4m0-45v-4m0-111v-4m2 168v-4m0-140v-4m2 148v-4m0-144v-4m2 152v-4m0-45v-4m0-111v-4m2 115v-4m2 57v-4m0-144v-4m4 152v-4m0-53v-5m0-110v-5m2 177v-4m0-53v-5m0-106v-4m4 16v-4m2 160v-4m2 4v-4m0-58v-4m0-98v-4m2 8v-4m2 164v-4m2 4v-4m0-58v-4m0-90v-4m2 160v-4m0-58v-4m0-90v-4m2 160v-4m2 4v-4m0-168v-5m2 177v-4m0-168v-5m2 9v-4m2 172v-4m0-66v-4m0-94v-4m2 172v-4m2 4v-4m0-181v-4m2 189v-4m0-164v-4m2 172v-4m0-164v-4m2 172v-4m2-82v-4m0-95v-4m2 189v-4m2-156v-4m2 164v-4m0-168v-5m2 99v-4m0-78v-4m2 164v-4m2 4v-4m2 4v-4m0-82v-4m0-82v-5m2 177v-4m2 4v-4m2 4v-4m2 4v-4m2-185v-4m2 193v-4m0-173v-4m2 99v-4m2 86v-4m0-107v-4m2-62v-4m2 87v-5m0-82v-4m2 185v-4m2-164v-4m2 78v-5m2 99v-4m0-156v-4m2 164v-4m2-160v-4m2 168v-4m0-78v-4m2 86v-4m0-78v-4m2 86v-4m0-99v-4m2 107v-4m2 4v-4m2 4v-4m2 4v-4m0-173v-4m2 181v-4m0-177v-4m2 185v-4m0-189v-4m2 197v-4m0-111v-4m2 119v-4m0-90v-5m2 99v-4m0-82v-4m0-74v-4m2 168v-4m2 4v-4m0-251v-4m2 259v-4m0-99v-4m0-86v-4m4 107v-4m0-214v-4m2 222v-4m2 94v-4m2 4v-4m0-82v-4m2 90v-4m0-304v-4m2 312v-4m0-95v-4m2 103v-4m2 4v-4m0-185v-4m4 16v-4m2 181v-4m0-90v-5m4-106v-4m4 209v-4m0-173v-4m2 99v-4m0-119v-4m2 209v-4m2 4v-4m2 4v-4m2-209v-5m2-12v-4m2 234v-4m4 4v-4m2 4v-4m2-193v-4m2 12v-4m4 193v-4m4 4v-4m0-168v-5m2 177v-4m0-164v-4m2 172v-4m0-168v-5m2 177v-4m0-152v-4m2 160v-4m2 4v-4m0-173v-4m2 181v-4m2 4v-4m2 4v-4m0-144v-4m2 12v-4m2 144v-4m0-152v-4m2 20v-4m2 144v-4m4-144v-4m2 21v-4m2 135v-4m0-119v-4m4 127v-4m4 4v-4m2 4v-4m0-111v-4m2 119v-4m0-123v-4m4 20v-4m2 115v-4m0-115v-4m2 0v-4m2 8v-4m2 123v-4m2 4v-4m0-107v-4m2 115v-4m4-136v-4m2 144v-4m2 4v-4m0-99v-4m4 107v-4m0-111v-4m2 16v-4m2 107v-4m2 4v-4m0-103v-4m2 111v-4m2-90v-5m2-8v-4m4 4v-4m4 17v-5m2 0v-4m4-4v-4m2 111v-4m2-103v-4m8 17v-5m6 5v-5m4-4v-4m6 0v-4m6-4v-4m2 12v-4m4 111v-4m0-90v-5m2-12v-4m2 4v-4m2 21v-5m2 9v-4m10-13v-4m4 0v-4m6 21v-5m4 99v-4m2-95v-4m4 4v-4m12 0v-4m6 13v-5m2 0v-4m10-12v-4m2 20v-4m2-4v-4m8 17v-5m4 9v-4m4 0v-5m8 9v-4m2-13v-4m2 111v-4m0-107v-4m2 8v-4m6-8v-4m2-17v-4m4 29v-4m2-12v-4m2 12v-4m2 4v-4m4-25v-4m2 0v-8m2 49v-4m2 8v-4m2-25v-4m2 25v-4m2 8v-4m2 12v-4m2-4v-4m2 4v-4m2 119v-4m0-103v-4m2-12v-4m2 16v-4m2 0v-4m2 8v-4m2-4v-4m2 20v-4m2-24v-4m2 24v-4m2-12v-4m2 24v-4m2 8v-4m2 0v-4m2-24v-5m2 9v-4m2-13v-4m2 4v-4m2 37v-4m2-12v-4m4 0v-5m2 25v-4m2 8v-4m2 12v-4m4 4v-4m2-4v-4m2-25v-4m2 0v-4m2 29v-4m2 16v-4m2-12v-4m2 0v-4m2-9v-4m2 33v-4m4 8v-4m4 8v-4m2 4v-4m2 0v-4m2-29v-4m4 4v-4m2 21v-4m2 0v-4m2 24v-4m2-4v-4m2-12v-4m2 28v-4m4-53v-4m4 8v-4m2 37v-4m2 20v-4m2-8v-4m2 4v-4m2 20v-4m2-12v-4m2 16v-4m2 8v-4m2-20v-4m2 20v-4m4 4v-4m2 16v-4m2-20v-4m2 20v-4m4 8v-4m2 8v-4m2-16v-4m2 20v-4m2 8v-4m2-28v-5m6-8v-4m2 37v-4m2-12v-4m2 28v-4m2-8v-4m4 20v-4m2-4v-4m2-41v-4m2 20v-4m2 0v-4m2 37v-4m2 12v-4m2-12v-4m2 0v-4m2 4v-4m2 12v-4m2 8v-4m2-41v-4m2 12v-4m2 33v-4m2-17v-4m2 25v-4m2-4v-4m2-4v-5m2-12v-8m2 8v-4m2 37v-4m2 123v-25m0-74v-4m2-8v-4m2 16v-4m4-4v-4m2 111v-16m2-78v-5m2 99v-29m2-115v-4m2 25v-4m8 28v-4m4-32v-5m2 29v-4m2 12v-4m2-12v-4m2 16v-4m2 0v-4m8-12v-4m2 20v-4m6-16v-4m6 12v-4m4 0v-4m8 20v-4m2 103v-13m0-98v-4m2 127v-8m0-21v-4m0-74v-4m2 82v-4m0-74v-4m2-16v-4m2 20v-4m2-20v-5m2 17v-4m2 94v-4m0-78v-4m2-25v-4m6 115v-4m0-74v-4m4 4v-4m4 4v-4m2-4v-4m4 12v-4m2 78v-4m2 4v-4m2 4v-4m0-74v-4m2 82v-4m2 0v-4m8-95v-4m2 99v-4m2-91v-4m2 103v-4m8-95v-4m4 95v-4m0-91v-4m4 29v-4m6 78v-4m0-82v-4m4 82v-4m2 12v-4m4-74v-4m2-13v-4m6 99v-4m2-78v-4m2 74v-5m0-102v-4m2 119v-4m2-107v-4m2 4v-4m6 16v-4m4 25v-4m10 82v-4m0-87v-4m4 95v-4m4-107v-4m2 29v-5m2-28v-4"/>
<path stroke="#42ffb5" d="m83 952v-21m0-90v-4m2 115v-8m0-357v-9m2 13v-4m2 365v-16m0-91v-4m2 107v-12m2 4v-13m0-102v-4m2 131v-16m2 16v-16m0-74v-4m2 94v-12m2 0v-4m2 16v-16m2 16v-12m2 12v-16m0-74v-4m2 94v-16m0-74v-4m2 90v-12m0-66v-4m2 86v-16m0-74v-4m2 94v-21m2 21v-16m2 16v-16m2 16v-12m2 8v-12m2 4v-4m0-66v-4m2 82v-12m2 12v-25m2 8v-4m0-94v-4m2 98v-4m2 13v-5m2-69v-4m2 78v-5m2 9v-4m0-70v-4m2 90v-16m0-78v-5m2 99v-16m2 8v-8m0-66v-4m2 86v-12m0-70v-4m2 86v-12m2 12v-12m0-70v-4m2 86v-16m0-74v-4m2 94v-8m0-74v-4m2 86v-12m0-74v-4m2 78v-4m2 16v-29m0-148v-4m2 181v-21m2 21v-12m0-91v-4m2 95v-25m0-168v-8m2 192v-4m0-106v-4m2 119v-5m2 5v-5m0-73v-5m2 87v-4m0-66v-4m2 86v-16m2 16v-16m2 16v-16m2 16v-4m2 4v-12m0-70v-4m2 86v-12m0-74v-4m2 90v-12m2 4v-8m2 16v-16m2 16v-12m0-78v-4m2 73v-4m2 13v-9m0-82v-4m2 107v-16m2 16v-12m2 12v-12m2 12v-16m2 16v-16m2 8v-13m2 21v-16m0-74v-4m2 94v-16m0-70v-4m2 90v-16m0-87v-4m2 107v-16m2 16v-12m0-74v-4m0-152v-4m2 246v-8m0-218v-4m0-94v-4m2 328v-16m0-74v-4m0-222v-4m2 320v-16m0-251v-4m0-25v-4m2 300v-4m2-107v-4m2 111v-33m0-176v-5m2 218v-25m0-110v-5m2 140v-16m2 16v-21m0-102v-4m2 115v-4m0-74v-4m2 94v-16m0-78v-5m2 95v-12m2 16v-16m2 16v-12m0-91v-4m0-131v-4m2 217v-4m2 8v-4m0-209v-4m0-41v-4m2 57v-4m2 4v-4m2-57v-4m4 41v-5m6-28v-4m4-50v-4m12 316v-41m4 66v-4m6-8v-4m2 4v-4m2 4v-4m0-87v-4m2 107v-12m0-87v-4m2 103v-8m2-82v-4m2 94v-8m2 4v-8m4 12v-8m0-70v-4m2 4v-4m2 82v-4m0-70v-4m2 8v-4m4 8v-4m4 8v-4m4 4v-4m2 0v-4m10 4v-4m4 70v-8m2 8v-16m0-78v-5m2 99v-16m2 16v-16m2 16v-16m2 16v-25m0-180v-4m2 188v-8m2-119v-4m2 127v-4m0-119v-4m2 123v-8m0-111v-4m0-8v-4m2 143v-4m2 9v-5m0-119v-4m2 123v-4m2 4v-4m0-98v-4m0-21v-4m0-74v-4m2 205v-4m0-94v-4m2 102v-4m0-61v-4m0-50v-4m2 127v-4m0-193v-4m2 201v-4m2 21v-17m0-192v-5m2 218v-16m2-83v-4m0-57v-4m0-41v-4m2 193v-5m0-184v-4m2 209v-29m0-115v-4m2 148v-21m0-69v-4m0-136v-4m2 234v-16m0-74v-4m2 94v-4m0-86v-4m0-128v-4m2 210v-5m0-61v-4m0-140v-4m2 214v-5m0-197v-4m2 210v-9m2 13v-8m0-132v-4m2 144v-13m2 9v-4m0-54v-4m0-144v-4m2 210v-4m0-202v-4m2 156v-4m0-74v-4m4 127v-4m0-205v-4m2 193v-8m0-136v-4m2 70v-4m2-95v-4m4 74v-4m2 131v-4m2-131v-4m0-37v-4m4 180v-4m2 9v-5m0-114v-5m2 115v-4m0-106v-5m2 119v-4m0-24v-37m2 70v-5m0-205v-4m2 209v-4m0-110v-5m2 5v-5m2-82v-4m2-29v-4m2 9v-5m2 234v-4m0-205v-4m2 21v-5m2 193v-4m0-106v-13m0-86v-4m2 217v-4m2-110v-5m0-69v-4m2 192v-12m0-115v-12m2 148v-13m0-139v-25m2 168v-4m2 9v-5m0-82v-4m2 91v-5m2 9v-4m2-78v-5m2 83v-5m2 13v-8m4-83v-4m2 103v-16m0-74v-4m2 94v-12m2 4v-8m2 16v-12m2 8v-12m2 4v-4m0-87v-4m2 95v-4m0-78v-5m2 91v-8m0-87v-4m2 91v-5m0-86v-4m2 99v-4m2-91v-4m2 86v-4m2 13v-5m0-98v-4m2 123v-16m2 16v-12m2-4v-5m0-102v-4m2 115v-4m4-87v-4m2 95v-4m0-78v-5m2 5v-5m2 0v-4m2 91v-4m4 0v-5m2 5v-5m2 0v-4m0-110v-5m2 124v-5m0-94v-4m2 119v-16m0-87v-4m2 62v-4m0-111v-4m2 123v-4m4 0v-4m0-99v-4m2 103v-4m0-107v-4m8 119v-4m4-123v-5m10-12v-4m8 131v-4m2-106v-5m6 5v-5m4 103v-4m2 4v-4m4-16v-5m4 21v-4m2 4v-4m2 4v-4m0-82v-4m6 90v-4m6-86v-4m2 12v-4m4-8v-5m6 58v-4m2 24v-4m4-86v-4m8-4v-4m4 20v-4m4 4v-4m2 99v-4m2-66v-4m2 4v-4m2-33v-4m2 78v-4m2 12v-4m0-90v-4m2 119v-4m0-74v-4m6 69v-4m8-74v-4m2 50v-5m0-110v-5m4 83v-5m2-127v-4m2 66v-4m2 160v-4m0-119v-4m2-74v-4m4 28v-4m2 103v-4m4 37v-4m0-107v-4m2 152v-5m2-78v-4m2-4v-4m2 103v-4m4-4v-5m2-102v-4m2 201v-41m0-111v-4m2-41v-4m2 8v-4m6-12v-5m2-78v-4m2 74v-4m2 33v-4m8 8v-4m2 25v-5m14 21v-4m2-8v-4m10 32v-4m10 21v-4m2 4v-4m2 8v-4m2 8v-4m6 0v-4m14-21v-4m2 37v-4m8 12v-4m10 13v-5m6-4v-4m18 13v-5m2-16v-4m2 20v-4m4 0v-4m10 17v-4m2-5v-4m4-12v-4m8 20v-4m12 4v-4m2 9v-5m2-4v-4m2 13v-5m4-4v-4m4 13v-5m2 0v-4m4 13v-4m12 4v-4m4 4v-4m6-25v-4m2 24v-4m6 0v-4m2 17v-4m2-5v-4m10 13v-4m4 4v-4m8-17v-4m4 25v-4m4 0v-5m10 5v-5m2-36v-5m2 25v-4m2-16v-5m2 29v-4m2 4v-4m2-12v-4m2 12v-4m2 4v-4m4-25v-4m2 0v-4m2 45v-4m2 8v-4m2-24v-5m2 25v-4m6 8v-4m2 4v-4m2 12v-4m2-12v-4m2 16v-4m2 0v-4m2 8v-4m2-4v-4m4-8v-4m2 24v-4m2-12v-4m2 24v-4m2 8v-4m2 0v-4m2-24v-4m2 8v-4m2-13v-4m2 4v-4m2 37v-4m2-12v-4m2 24v-4m2-20v-4m2 24v-4m2 8v-4m2 12v-4m2 0v-4m2 8v-4m2-4v-4m2-24v-5m2 0v-4m2 29v-4m2 16v-4m2-12v-4m2 0v-4m2-8v-5m2 33v-4m2 12v-4m2 0v-4m2 4v-4m4 8v-4m2 0v-4m2-28v-5m2-32v-9m2 46v-5m2 21v-4m2 0v-4m4 16v-4m2-12v-4m4 20v-4m2-45v-4m2 37v-4m2-25v-4m2 37v-4m2 20v-4m2-8v-4m2 4v-4m2 20v-4m2-12v-4m4 20v-4m2-20v-4m2 20v-4m2-45v-8m2 57v-4m4-8v-4m2 20v-4m2 0v-4m2 12v-4m4-12v-4m2 20v-4m2 8v-4m2-28v-4m2 28v-4m2 4v-4m2-33v-4m2 37v-4m2-12v-4m2 28v-4m2-8v-4m2 12v-4m2 12v-4m2-4v-4m2-41v-4m2 21v-5m2 0v-4m2 37v-4m4-4v-4m2 0v-4m2 4v-4m2 12v-4m4-37v-4m2 12v-4m2 33v-4m2-16v-5m2 25v-4m2-4v-4m2-4v-4m2-13v-4m2 4v-4m2 37v-4m4 119v-29m0-78v-4m4-16v-4m4 115v-5m0-73v-5m2 99v-21m2-123v-4m2 148v-29m2 29v-25m2 4v-4m0-86v-4m2 115v-25m0-90v-4m2 20v-4m4-8v-4m2-16v-4m6 20v-4m6-25v-4m2 29v-4m2 0v-4m6 24v-4m2 4v-4m2-20v-4m2-9v-4m2 33v-4m4-45v-4m4 33v-4m2 28v-4m2 111v-37m0-82v-4m2 111v-13m2 25v-12m0-13v-12m6 0v-4m0-82v-4m6 90v-4m6 4v-4m0-78v-4m2 86v-4m0-78v-4m4 0v-4m4 86v-4m0-78v-4m6 8v-4m2 86v-4m2-74v-4m2 8v-4m4 4v-4m2-8v-4m2 82v-4m0-82v-4m2 20v-4m2 4v-4m4-16v-5m2 91v-4m2-70v-4m2 4v-4m2 4v-4m2-21v-4m2 103v-4m2-70v-4m4 4v-4m2 86v-4m2 0v-4m0-78v-4m2 86v-4m0-78v-4m4-4v-5m2-12v-4m2 25v-4m2 12v-4m4 78v-4m2-9v-4m2 13v-4m0-91v-4m2 25v-4m2 86v-4m4-91v-4m2 87v-5m0-94v-4m2 103v-5m2 13v-4m0-82v-5m2 74v-4m0-107v-4m2 128v-4m2-87v-4m2 103v-4m2 0v-4m0-82v-5m2 95v-4m0-74v-4m2-4v-4m2 82v-4m0-91v-4m4 90v-4m0-102v-4m2 32v-4m2 66v-4m2 25v-5m2 13v-4m2-9v-4"/>
<path stroke="#63ff94" d="m85 944v-8m0-74v-4m0-280v-4m2 378v-16m0-66v-4m0-279v-4m2 353v-5m0-82v-4m2 91v-5m2-4v-4m0-94v-4m2 111v-5m0-86v-4m4 99v-4m0-66v-4m2 8v-4m4 70v-4m0-70v-4m10 69v-4m2 9v-5m0-82v-4m2 21v-4m2 78v-4m2-66v-4m4 70v-5m0-73v-5m2 70v-8m4 8v-4m0-111v-4m2 127v-4m0-90v-4m2 103v-5m2-78v-4m2 87v-5m4-65v-4m4 78v-4m2 4v-4m0-70v-4m2 78v-4m4 8v-8m2 4v-4m2 0v-5m0-73v-5m2 70v-8m0-135v-5m2 156v-4m0-94v-4m2 111v-9m0-78v-4m2 66v-8m0-156v-4m2 180v-4m2-70v-4m6 87v-5m0-78v-4m2 87v-5m0-73v-5m2 5v-5m2 95v-12m0-74v-4m2 82v-4m2 4v-4m2 4v-4m0-70v-4m2 74v-5m0-78v-4m2 21v-4m2 74v-4m2-9v-4m4-57v-4m2 78v-4m0-66v-4m2 74v-4m0-62v-4m2 66v-5m0-69v-4m2 78v-5m0-73v-5m2-4v-4m6 91v-5m2-65v-4m0-189v-4m2 271v-4m0-288v-4m2 300v-8m0-70v-4m4 74v-5m0-73v-5m2 95v-12m0-66v-4m2 86v-16m2-21v-8m0-164v-4m2 188v-4m0-102v-4m2 119v-5m0-78v-4m2 82v-4m2 9v-5m4-61v-4m2 70v-5m0-73v-5m2 87v-4m2-13v-8m0-131v-4m0-91v-4m0-12v-4m2 258v-16m0-82v-4m4-177v-4m4 53v-4m2-78v-4m2 13v-5m2 70v-4m2-61v-5m2 9v-4m14 328v-25m10 9v-5m0-90v-4m2 99v-5m0-90v-4m2 99v-5m2 9v-4m2 8v-8m2 16v-12m2 4v-8m0-70v-4m2 78v-4m0-66v-4m2 74v-4m0-66v-4m2 78v-4m2 12v-8m6-58v-4m4 8v-4m4 4v-4m8 9v-5m2 5v-5m2-4v-4m4 70v-4m0-62v-4m2 0v-4m4-12v-4m2 74v-5m2 5v-5m0-135v-4m0-25v-4m2 164v-4m2 0v-4m0-82v-4m0-90v-4m2 192v-4m0-69v-5m0-102v-4m2 176v-8m0-78v-4m0-107v-4m2 193v-4m0-189v-4m2 209v-4m0-74v-4m2 86v-4m0-176v-4m2 180v-4m0-115v-4m2 123v-8m2 4v-8m0-193v-4m2 205v-4m0-12v-45m0-128v-4m2 197v-4m0-74v-4m2 82v-4m0-119v-4m2 131v-4m0-127v-4m2 140v-5m0-176v-4m2 180v-4m2 4v-4m0-57v-4m0-70v-4m2 131v-4m0-189v-4m4 210v-5m0-201v-4m2 222v-12m2-5v-4m2-57v-4m0-66v-4m2 135v-4m0-53v-4m0-140v-4m2 210v-5m2 0v-4m0-69v-5m0-127v-4m2 214v-5m2-123v-4m2 132v-5m0-197v-4m2 206v-5m2-4v-4m0-65v-5m2 50v-4m0-128v-4m0-90v-4m2 45v-4m2 86v-4m2 8v-4m0-66v-4m2 45v-4m0-45v-4m2 136v-5m0-65v-4m0-41v-4m2 197v-5m0-57v-4m2 66v-5m0-127v-4m2 127v-4m0-86v-4m0-33v-4m0-66v-4m2 205v-4m2-4v-4m0-119v-4m0-78v-4m2 8v-4m2 213v-4m0-110v-5m4-78v-4m2 70v-4m4 8v-4m2 127v-4m0-70v-4m2 87v-5m0-49v-4m2 45v-4m2 8v-4m0-61v-4m0-119v-5m2 197v-4m2-8v-4m0-103v-4m0-16v-4m2 139v-4m2 4v-4m0-90v-4m2 102v-4m2-65v-4m2 78v-5m0-78v-4m2 87v-5m2 0v-4m0-78v-4m2 17v-4m2 78v-5m0-69v-4m2 78v-5m4 9v-4m2-70v-4m2 78v-4m2-74v-4m2 78v-5m2 5v-5m2 5v-5m4 5v-5m2 5v-5m2-8v-8m2 16v-4m2 9v-5m0-86v-4m2 99v-4m0-78v-5m2 78v-4m2 9v-5m0-82v-4m2 91v-5m0-82v-4m2 91v-5m2 5v-5m2 5v-5m2 5v-5m2 5v-5m0-69v-4m2 78v-5m2-78v-4m2 82v-4m0-78v-4m2 82v-4m8-123v-4m8 99v-5m0-119v-4m2 25v-4m2 119v-4m0-91v-4m2 0v-4m2-12v-4m4 115v-4m2-99v-4m2-12v-4m2 8v-4m2 98v-4m2 17v-5m0-90v-4m2 78v-4m0-119v-4m4 49v-4m2 90v-4m2-78v-4m2 4v-4m2 82v-4m2 4v-4m0-90v-4m2 4v-4m2 8v-4m2 4v-4m2-37v-4m2 123v-4m0-91v-4m2 21v-4m2 4v-4m4-13v-4m2 107v-4m0-74v-4m4 74v-4m0-78v-4m2 16v-4m2 74v-4m2 8v-4m2-82v-4m2 82v-4m2-21v-4m0-94v-5m2 128v-4m0-74v-4m2-50v-4m2 41v-4m2 95v-5m0-73v-5m4-32v-4m2 119v-5m0-73v-5m2 0v-4m2 74v-4m2-53v-4m4 82v-4m0-66v-4m2 61v-4m2-57v-4m8-54v-4m6 128v-5m0-73v-5m2 83v-5m0-78v-4m2-8v-4m2 74v-4m0-90v-5m2 41v-4m4 82v-4m4-86v-4m2 99v-5m10 0v-4m0-201v-4m4 218v-4m2-9v-4m0-78v-4m2-49v-4m2 70v-5m4 74v-4m2-94v-4m4 33v-5m4 132v-29m6-135v-4m2-13v-4m4-61v-5m6 103v-4m2 12v-4m2 4v-4m6 21v-4m4 4v-4m4 20v-4m2-16v-5m6 33v-4m6 13v-5m6-4v-4m4 29v-4m16 16v-4m2-4v-4m2 0v-4m2 8v-4m2 0v-4m2 16v-4m6-24v-5m2 29v-4m6 4v-4m2 16v-4m4 0v-4m6 4v-4m6 13v-5m2 9v-4m4-33v-4m2 28v-4m2 8v-4m2 0v-4m12 17v-4m2 4v-4m4-5v-4m6 0v-4m8 4v-4m6 0v-4m2 4v-4m14 8v-4m4 0v-4m6 21v-4m4-13v-4m4-12v-4m2 33v-5m2 9v-4m4 0v-5m4-8v-4m2 12v-4m8 9v-5m10-12v-4m4 12v-4m4 17v-4m6 4v-4m6 4v-4m4 8v-4m6-13v-4m4 4v-4m4-24v-4m4 4v-4m2 28v-4m2 4v-4m2-12v-4m2 12v-4m2 4v-4m4-21v-8m2 0v-4m2 45v-4m2 8v-4m2-24v-4m2 24v-4m2 4v-4m2 12v-4m2 0v-4m2 4v-4m6 8v-4m2 0v-4m2 8v-4m2-4v-4m2 16v-4m2-20v-4m2 24v-4m2-12v-4m4 29v-5m4-28v-4m2 8v-4m2-13v-4m2 4v-4m2 37v-4m2-12v-4m2 24v-4m2-20v-4m4 28v-4m4 8v-4m4 0v-4m2-24v-4m2 0v-5m2 29v-4m4 0v-4m2 0v-4m2-8v-4m2 32v-4m2 13v-5m4 0v-4m2 4v-4m2 9v-5m2 0v-4m2-28v-4m2-33v-4m2 41v-4m2 20v-4m2 0v-4m2 20v-4m2 0v-4m2-12v-4m2 24v-4m2 0v-4m2-45v-4m2 37v-4m2-25v-4m2 37v-4m4 8v-4m2 4v-4m4 4v-4m2 12v-4m2 12v-4m2-20v-4m2 20v-4m2-45v-4m4 61v-4m2-16v-4m2 20v-4m2 0v-4m2 12v-4m2 4v-4m4 4v-4m2 9v-5m2-28v-4m2 28v-4m2 4v-4m2-33v-4m4 21v-4m4 16v-4m2 12v-4m4 4v-4m2-41v-4m2 21v-4m2 0v-5m4 41v-4m2-8v-4m4 0v-4m2 12v-4m2 4v-4m2-37v-4m2 12v-4m4 13v-4m2 24v-4m2-4v-4m2-4v-4m2-13v-4m2 4v-4m2 148v-29m0-82v-4m2 21v-5m4 5v-5m2 99v-29m0-94v-4m2 127v-25m0-78v-4m4 17v-4m2 65v-4m2 4v-4m0-107v-4m2 119v-4m0-90v-4m8 29v-5m6-8v-4m2 12v-4m4 0v-4m2 0v-4m2-29v-4m6 21v-4m2 20v-4m8-24v-5m4 21v-4m4 0v-4m8 127v-12m0-13v-8m0-74v-4m2-8v-4m4 20v-4m4 74v-4m0-70v-4m2 70v-4m0-86v-4m2 16v-4m2 12v-4m2 70v-4m0-91v-4m4 29v-4m2 12v-4m2 70v-4m2 8v-4m0-66v-4m4 74v-4m0-66v-4m2 70v-4m0-70v-4m2 78v-4m2-62v-4m2 70v-4m4-66v-4m6-12v-4m2 90v-4m2 4v-4m2-4v-4m0-82v-5m2 91v-4m2-82v-5m2 95v-4m2 4v-4m2 4v-4m2-4v-4m2-78v-5m2 95v-4m2-91v-4m2 99v-4m2-66v-4m6-8v-4m2 82v-4m4 4v-4m2 8v-4m2 4v-4m0-70v-4m2-12v-5m2-28v-4m6 49v-4m2-33v-4m6 8v-4m2 29v-4m4-9v-4m2 95v-4m2-66v-4m6 78v-4m4-82v-5m2-24v-4m6 12v-4m2 29v-4m2-29v-4"/>
<path stroke="#84ff73" d="m83 931v-4m0-82v-4m2 95v-5m0-357v-4m2 13v-5m2 353v-4m2-61v-4m4 69v-4m0-78v-4m2 91v-5m0-65v-4m2 74v-5m4 5v-5m0-65v-4m2 74v-5m2 5v-5m0-65v-4m2 74v-5m0-65v-4m2 74v-5m0-57v-4m2 66v-5m2-4v-4m0-98v-4m2 110v-4m2 9v-5m2-57v-4m2 66v-5m2 5v-5m6-94v-4m2-21v-4m2 33v-4m2 29v-4m4 8v-4m2 70v-5m0-69v-4m2 78v-5m2-57v-4m2 66v-5m2 5v-5m2 5v-5m2 5v-5m0-65v-4m2 12v-4m2 66v-5m0-61v-4m4 49v-4m0-127v-4m2 147v-4m0-86v-4m4-78v-4m2 74v-4m2 37v-5m2 9v-4m2 78v-5m2 0v-4m4 9v-5m2 5v-5m2-57v-4m2 66v-5m0-61v-4m2 70v-5m4 5v-5m2 5v-5m0-65v-4m2-37v-4m2 110v-4m0-74v-4m2 87v-5m2 5v-5m8 0v-4m2 9v-5m0-65v-4m2 74v-5m0-61v-4m2 65v-4m0-74v-4m2 87v-5m0-250v-4m2 259v-5m0-61v-4m2 70v-5m0-209v-4m2 218v-5m0-65v-4m0-148v-4m2-49v-5m4 280v-5m0-86v-4m2 66v-4m0-156v-4m6 184v-4m0-90v-4m2 37v-4m2 74v-5m0-69v-4m2 78v-5m4 5v-5m0-78v-4m0-123v-4m2 193v-16m0-111v-4m10-169v-4m4 91v-5m2-69v-4m28 307v-28m4 28v-20m0-58v-4m2 87v-5m2-69v-4m2 82v-4m0-70v-4m4 74v-5m4-53v-4m4 8v-4m6 12v-4m4 9v-5m4 5v-5m2 0v-4m2 9v-5m8 0v-4m6 50v-5m0-69v-4m2 78v-5m2 0v-4m0-65v-4m2 12v-4m2 57v-4m0-82v-4m0-45v-4m0-33v-4m2 172v-4m0-127v-4m2 143v-4m2-8v-8m2 4v-12m0-91v-4m2 119v-8m0-107v-4m0-70v-4m2 197v-4m0-49v-4m2 53v-16m2 12v-4m0-82v-4m0-99v-4m2 189v-12m0-103v-4m2 123v-12m2 16v-4m0-111v-4m0-65v-5m2 189v-8m0-82v-4m0-99v-4m2 201v-4m0-70v-4m2 37v-4m0-82v-4m2 131v-8m0-168v-4m2 180v-4m0-172v-4m2 172v-4m0-103v-4m0-37v-4m2 164v-4m0-131v-4m0-66v-4m2 209v-4m0-135v-4m2 148v-5m0-135v-4m0-58v-4m2 197v-4m0-127v-4m2 139v-8m0-184v-5m2 62v-4m2 90v-4m0-139v-5m4 70v-4m0-61v-5m2 202v-5m0-41v-4m0-147v-5m2 197v-12m2 12v-4m0-45v-4m2 45v-8m0-115v-4m0-70v-4m2 177v-37m0-87v-4m2 66v-4m0-45v-4m6 24v-4m2 123v-4m2 8v-4m0-168v-4m2 176v-8m0-45v-4m0-123v-4m2 176v-8m2 12v-8m0-53v-4m0-128v-4m2 189v-8m0-90v-4m2 110v-4m2-57v-4m0-132v-4m2 201v-8m0-61v-5m0-123v-4m4 8v-4m2 70v-4m0-94v-5m2 9v-4m2 221v-16m0-95v-4m0-82v-4m2 209v-16m0-98v-5m2 107v-12m0-86v-4m0-95v-4m2 205v-16m0-99v-4m2 123v-8m0-53v-4m2 53v-8m2 16v-4m0-74v-4m2 82v-8m2 12v-8m0-66v-4m2 82v-8m2 8v-4m2 4v-8m0-61v-4m2 69v-8m2 17v-5m2 0v-8m2 8v-12m0-61v-5m2 83v-5m0-65v-4m2 74v-5m0-65v-4m2 74v-5m2 5v-5m0-65v-4m2 74v-5m2 0v-4m0-74v-4m2 13v-4m2 73v-4m0-74v-4m2 82v-16m0-66v-4m2 13v-5m2 78v-4m0-78v-4m2 70v-20m2 32v-16m0-74v-4m4 103v-5m2-4v-4m0-90v-4m2 102v-4m2 4v-4m2 4v-4m0-74v-4m4 82v-12m0-57v-4m2 73v-16m2 16v-12m2 12v-12m0-57v-4m2 73v-16m2 12v-12m2 8v-20m0-82v-4m2 114v-4m0-86v-4m2 99v-5m0-78v-4m2-53v-4m4 16v-4m2 4v-4m2-8v-4m4 107v-4m6 4v-4m2 0v-5m0-106v-4m2 28v-4m2 95v-4m2-5v-4m2 4v-4m2-119v-4m6 123v-4m0-90v-4m4-4v-4m2 106v-4m2 4v-4m12-29v-4m8-57v-4m2 74v-4m4-62v-4m4 78v-4m4-70v-4m2 70v-4m2-74v-4m6 49v-4m0-91v-4m2 119v-4m4 21v-4m0-95v-4m2 74v-4m4 20v-4m2-90v-4m2 107v-4m2-5v-4m0-74v-4m8 29v-4m2 70v-4m2-17v-4m0-78v-4m4-8v-4m2 41v-4m4-4v-5m6 78v-4m2 13v-4m0-66v-4m2-13v-4m2 41v-4m0-102v-4m2 143v-4m2-57v-4m2 78v-5m0-201v-4m2 66v-4m2 37v-4m2 119v-4m0-189v-4m4 184v-4m0-152v-4m6 128v-5m4 41v-4m0-69v-5m2-4v-4m8 99v-4m0-107v-4m2 127v-12m0-66v-4m2-41v-4m2 8v-4m10-25v-4m6 226v-4m4-185v-4m2 25v-4m4 8v-4m4 16v-4m8-8v-4m4 33v-5m2-12v-4m10 29v-4m4 12v-4m6 12v-4m2 4v-4m2-8v-4m4 127v-4m4 4v-4m8-136v-4m2 37v-4m6 12v-4m2 4v-4m6-28v-4m6 45v-4m4-5v-4m2 0v-4m6 13v-5m2-24v-4m8 37v-4m2-17v-4m4 25v-4m2-5v-4m12 9v-5m4-12v-4m4 4v-4m4 21v-5m2 9v-4m6 4v-4m2 8v-4m2-4v-5m4 0v-4m6 4v-4m6 9v-5m8 5v-5m8 13v-4m10-25v-4m4 29v-4m4-5v-4m10 9v-5m10 9v-4m4 8v-4m6 4v-4m6 4v-4m4-17v-4m6-16v-4m2 20v-4m2-12v-4m2 28v-4m4-12v-4m2 12v-4m2 4v-4m4-20v-5m2-4v-4m2 45v-4m4-20v-4m2 24v-4m2 4v-4m2 12v-4m2 0v-4m4 8v-4m2-12v-4m2 20v-4m2 0v-4m2 8v-4m2-4v-4m2 17v-5m2-20v-4m2 24v-4m2-12v-4m2 20v-4m4 4v-4m2-20v-4m2 8v-4m2-12v-5m2 9v-9m4 21v-4m2 24v-4m2-20v-4m2 20v-4m4 17v-5m2 5v-5m2 5v-5m2 0v-4m2-24v-4m2 0v-4m2 28v-4m2 12v-4m2-8v-4m2 0v-4m2-8v-4m2 32v-4m2 13v-4m2-5v-4m2 9v-5m2 5v-5m4 5v-5m2-28v-4m2-33v-4m2 41v-4m2 20v-4m4 16v-4m2 0v-4m2-12v-4m2 24v-4m2 0v-4m2-45v-4m2 37v-4m2-25v-4m2 37v-4m2 16v-4m2-4v-4m2 4v-4m2 16v-4m4 0v-4m4-12v-4m2 20v-4m2-45v-4m2 49v-4m2 17v-5m2-16v-4m2 20v-4m2 0v-4m4 13v-5m2-16v-4m6-4v-4m2 28v-4m2 4v-4m2-32v-5m2 33v-4m2-8v-4m2 24v-4m2-4v-4m2 12v-4m2 9v-5m4-45v-4m2 21v-4m2 0v-4m2 32v-4m2 13v-5m2-8v-4m2-4v-4m2 8v-4m4 12v-4m2-37v-4m2 13v-5m2 29v-4m2-12v-4m2 24v-4m2-4v-4m2-4v-4m2-13v-4m2 4v-4m6 41v-4m2 107v-25m2-4v-4m8-107v-4m2 9v-5m4 115v-4m0-78v-4m2 86v-4m0-82v-4m2 21v-5m4-8v-4m2-16v-4m6 20v-4m8 0v-4m2 0v-4m6 24v-4m2 4v-4m2-20v-4m4 20v-4m4-45v-4m4 33v-4m2 131v-33m2-82v-4m2 86v-4m2 0v-4m2 8v-4m0-66v-4m2 74v-4m2-82v-4m8 86v-4m2-94v-5m2 25v-4m2 78v-4m2 8v-4m2-78v-4m4 4v-4m6 8v-4m4 8v-4m2 74v-4m0-62v-4m2 70v-4m2 4v-4m2 0v-4m0-70v-4m2 74v-4m2-58v-4m2 4v-4m4-16v-4m4 16v-4m2 4v-4m2 4v-4m2-21v-4m4 29v-4m2 70v-4m2-62v-4m4 0v-4m2 4v-4m2 78v-4m2-78v-4m2 78v-5m0-86v-4m2 25v-4m2 12v-4m4 70v-4m2-9v-4m0-94v-4m2 111v-5m0-82v-4m2 99v-4m0-70v-4m4 65v-4m0-90v-4m2 107v-4m0-78v-5m2 78v-4m0-86v-4m2 94v-4m0-86v-4m4-16v-5m2 37v-4m2 4v-4m4 91v-4m0-74v-4m2 16v-4m2-4v-4m2 74v-5m0-82v-4m2 95v-4m2-9v-4m2 17v-4m0-78v-5m2 58v-4m2 24v-4m0-86v-4m4 90v-4"/>
<path stroke="#a5ff52" d="m85 866v-4m0-292v-8m2 374v-5m0-57v-4m2-17v-4m4-16v-4m6 45v-4m2 66v-5m0-53v-4m4-4v-4m8 0v-4m4-9v-4m2 21v-4m2 70v-5m2-57v-4m2 4v-4m2 61v-4m0-65v-4m2 57v-4m2 16v-4m0-82v-4m2-20v-5m2 115v-4m4 8v-4m0-69v-5m8 83v-5m2-57v-4m2 0v-4m2 8v-4m4 66v-5m4-69v-4m2-70v-4m4 147v-4m0-69v-5m2 54v-4m0-144v-4m2 74v-4m2 106v-4m4-53v-4m2-12v-5m2 9v-4m2 4v-4m2 8v-4m2 74v-5m4-61v-4m2 65v-4m0-69v-5m2 21v-4m4 53v-4m4-49v-4m2 8v-4m2 66v-5m2-65v-4m2 0v-4m2-5v-4m8 21v-4m2-160v-4m2-70v-4m2 12v-4m2 226v-4m0-177v-4m2 259v-5m0-57v-4m2 61v-4m0-78v-4m2-94v-4m2 176v-4m0-94v-4m2 110v-4m0-69v-5m2-16v-4m6 41v-4m2 61v-4m0-65v-4m2 73v-4m0-209v-4m2 78v-4m0-103v-4m2 152v-4m0-152v-4m2 49v-4m2 4v-4m2-57v-5m4 41v-4m8-41v-4m2-24v-9m22 288v-4m0-54v-4m2 90v-28m0-58v-4m4 90v-16m0-57v-5m2 83v-5m2 5v-5m2 5v-5m0-61v-4m4 8v-4m4 8v-4m4 12v-4m2 8v-4m4 9v-5m4 5v-5m8 9v-4m4-5v-4m4 4v-4m4-20v-4m2 69v-8m0-53v-4m2 61v-4m2 8v-8m0-152v-4m2 152v-8m2 4v-12m0-156v-4m4 164v-4m0-103v-4m0-66v-4m2 62v-4m0-58v-4m4 86v-4m2-65v-5m2 181v-4m2-8v-4m0-66v-4m0-103v-4m2 82v-4m0-61v-5m4 181v-4m2 12v-12m0-168v-4m2 192v-45m0-127v-4m2 103v-5m4 62v-8m0-173v-4m2 197v-16m0-45v-4m2 65v-4m0-57v-4m0-128v-4m2 201v-4m0-61v-4m2 61v-53m0-140v-4m4 201v-53m0-140v-4m2 201v-12m0-119v-4m2 131v-8m0-119v-4m2 135v-8m2 8v-8m2-33v-4m0-147v-5m2 70v-4m4-119v-4m2 45v-4m2 21v-5m2 5v-5m2-4v-4m2 197v-16m0-160v-4m2 184v-8m0-127v-4m4 127v-4m0-70v-4m0-103v-4m2 82v-4m2 103v-8m0-181v-4m2 205v-20m0-91v-4m0-82v-4m2 205v-12m2 4v-4m0-103v-4m2-69v-5m6 74v-4m0-4v-4m2 62v-5m2-110v-4m2 65v-4m2 66v-4m0-119v-4m2 73v-4m0-61v-4m2 164v-25m0-65v-5m0-82v-4m2 193v-16m2 12v-4m0-74v-4m4 33v-4m2 65v-8m0-61v-5m4 0v-4m2 82v-8m2 0v-4m0-53v-4m4 69v-8m2 8v-8m2 8v-8m2 8v-8m2 8v-12m0-53v-4m2 65v-12m2 16v-12m2 8v-12m4 16v-12m2 8v-12m4-74v-4m2 94v-4m0-78v-4m2 17v-4m2 65v-16m2 20v-12m0-62v-4m2 78v-12m0-62v-4m2 78v-12m2 16v-12m0-57v-4m4 0v-5m6 5v-5m2 0v-4m2-24v-4m2 106v-16m2 20v-16m2-115v-4m2 8v-4m8-25v-4m2 25v-4m6 4v-4m6 12v-4m2-12v-4m2 8v-4m2 90v-4m2-70v-4m2 70v-4m0-111v-4m4 135v-4m0-82v-4m6 8v-4m2-16v-4m2 8v-4m2 90v-4m0-82v-4m2 90v-4m0-78v-4m2 90v-4m0-82v-4m2-37v-4m2 28v-4m2 99v-4m0-74v-4m2 82v-4m0-74v-4m2 82v-4m2-91v-4m2 29v-4m2 74v-4m4-66v-4m2-8v-4m8 49v-4m0-86v-4m2 49v-4m4-13v-4m6-20v-4m2 41v-4m2 0v-5m2 66v-4m2-45v-4m6-13v-4m2 91v-4m0-62v-4m2 74v-4m2-62v-4m4 33v-4m0-86v-5m2 103v-4m2 25v-5m2-69v-4m4 65v-4m0-74v-4m2-20v-4m2 41v-5m6-65v-4m2 61v-4m6 95v-5m2-102v-4m4-95v-4m4 144v-4m2-17v-4m2-49v-4m2 139v-4m0-65v-4m6 82v-4m0-103v-4m4 102v-4m0-65v-4m10-33v-4m2 209v-4m0-218v-4m2 222v-17m0-188v-4m2 209v-25m0-258v-4m4 98v-4m4 16v-4m2 4v-4m4 185v-4m2-160v-4m4 4v-4m4 20v-4m2-16v-4m2 20v-4m12 21v-5m4 0v-4m8 25v-4m2 8v-4m8 4v-4m6 4v-4m4 4v-4m6 119v-4m2-127v-4m2 28v-4m6 4v-4m8 21v-4m4-5v-4m6 13v-4m10 0v-5m8 5v-5m12 5v-5m2 13v-4m4-9v-4m4-37v-4m10 41v-4m2 4v-4m8 17v-4m4 4v-4m6-9v-4m2 17v-4m6 8v-4m2-13v-4m4-12v-4m8 33v-4m2 8v-4m2-13v-4m6 13v-5m8 13v-4m2-4v-5m4-8v-4m4 12v-4m2 17v-4m2 4v-4m2 4v-4m4 4v-4m4-17v-4m6 29v-4m2-4v-4m8-5v-4m2 13v-4m4-13v-4m2-12v-4m2 28v-4m2 0v-4m4 0v-4m2 4v-4m2-82v-8m2 70v-4m2-5v-4m2 45v-4m2 4v-4m2-20v-4m2 24v-4m2 4v-4m2 13v-5m4-4v-4m2 13v-5m2-12v-4m4 16v-4m4 0v-4m2 17v-4m2-21v-4m4 8v-4m2 21v-5m2 9v-4m2 0v-5m2-20v-4m2 8v-4m2-12v-4m2 8v-4m2 28v-4m2-8v-4m2 25v-5m2-20v-4m2 20v-4m2 8v-4m2 13v-4m2 4v-4m2 4v-4m4-29v-4m2 0v-4m2 28v-4m2 13v-5m2-8v-4m2 0v-4m2-8v-4m6 33v-5m4 9v-4m2 4v-4m4-29v-4m2-29v-8m2 164v-4m0-119v-4m2 20v-4m2-4v-4m2 25v-5m2 0v-4m2-12v-4m2 25v-5m2 0v-4m2-41v-8m2 37v-4m2-21v-8m2 37v-4m2 16v-4m2-4v-4m4 17v-5m2-12v-4m2 16v-4m2 9v-5m2-16v-4m2 20v-4m2-45v-4m2 49v-4m2 17v-4m2-17v-4m4 16v-4m2 9v-5m2 9v-4m2-17v-4m2 115v-4m0-90v-5m2 9v-4m2-25v-4m2 29v-5m2 5v-5m2-32v-4m2 32v-4m2-8v-4m2 25v-5m2-4v-4m2 13v-5m2 9v-4m2-5v-4m2-37v-4m2 21v-4m2 0v-4m2 32v-4m2 13v-4m2-9v-4m2-4v-4m2 8v-4m2 8v-4m2 8v-4m2-37v-4m2 13v-4m2 28v-4m2-12v-4m2 24v-4m2-4v-4m2-4v-4m2-12v-5m2 9v-9m2 111v-4m0-74v-4m2 86v-4m0-61v-4m2 65v-4m2 8v-4m0-61v-4m2-25v-4m2 24v-4m2 82v-4m0-65v-4m2 73v-4m0-61v-4m2 57v-4m0-98v-5m2 107v-4m2-78v-4m4 12v-4m4 111v-25m0-65v-4m2 94v-29m2-94v-4m2 127v-29m0-74v-4m2 13v-5m4 0v-4m2 0v-4m2-28v-5m2 140v-33m2-82v-4m2 0v-4m2 20v-4m8-24v-4m4 20v-4m2-33v-4m2 37v-4m2 0v-4m2 94v-4m0-66v-4m2 70v-4m2-62v-4m2-8v-4m4 20v-4m2 62v-4m2-58v-4m2 62v-4m0-78v-4m2 90v-4m0-70v-4m2 12v-4m2 62v-4m2 12v-4m2-66v-4m2 12v-4m2 62v-4m2-54v-4m2 62v-4m2-54v-4m2-4v-4m2 70v-4m0-62v-4m2 74v-4m0-58v-4m6 0v-4m2 4v-4m4-12v-4m6 74v-4m0-74v-4m4 82v-4m0-74v-4m8 78v-5m0-78v-4m2 91v-4m0-74v-4m4 0v-5m4 95v-4m0-62v-4m2 66v-4m2 4v-4m2-70v-4m2 74v-4m8-58v-4m2-12v-4m8 86v-4m0-66v-4m10 70v-4m0-70v-4m2 61v-4m0-94v-4m2 115v-5m2 5v-5m2 13v-4m0-66v-4m4 74v-4m4-87v-4m2 13v-4m2-25v-4m4 78v-4m4 37v-4m0-70v-4m2-29v-4"/>
<path stroke="#c5ff31" d="m83 927v-4m0-74v-4m2-283v-4m2 20v-4m4 296v-4m4-13v-4m8 21v-4m4 4v-4m2 4v-4m6 57v-4m0-90v-4m6 53v-4m14-29v-4m2 29v-4m4 8v-4m2 61v-4m0-61v-4m2 8v-4m2 12v-4m8-4v-4m4 8v-4m2 61v-4m4-86v-4m4-74v-4m2 164v-4m2-57v-4m2 73v-4m0-61v-4m6 69v-4m2 4v-4m14-57v-4m2-37v-4m2 33v-5m6 25v-4m4 57v-4m2-69v-5m2 17v-4m4-8v-5m2-176v-4m2 201v-4m0-218v-4m2 222v-4m2 4v-4m0-156v-4m2 225v-4m6-172v-4m2 78v-4m6 45v-4m2 65v-4m0-61v-4m6 65v-8m0-61v-5m2 46v-4m0-218v-4m6-21v-4m4 45v-4m2-70v-4m2 13v-4m4 41v-4m0-33v-4m2 8v-4m28 230v-5m4 78v-12m0-53v-4m2 69v-8m2 8v-4m2-53v-4m8 16v-4m2 70v-4m4-53v-5m8 9v-4m2 0v-5m2 9v-4m4 4v-4m4 0v-5m4-4v-4m10 29v-4m0-66v-4m0-82v-4m2 90v-4m2 86v-4m0-57v-4m0-58v-4m0-41v-4m2 90v-4m2-25v-4m2 45v-4m0-110v-5m2 21v-4m4 49v-4m0-62v-4m6 123v-4m0-106v-4m2 98v-4m0-33v-4m0-62v-4m2 181v-4m0-111v-4m4 127v-4m0-127v-4m0-29v-4m2 41v-4m2 119v-4m0-86v-5m2-82v-4m2 197v-12m2 16v-8m0-180v-5m4 62v-4m0-49v-4m4 4v-4m2 123v-4m0-128v-4m2 160v-4m0-139v-4m4 65v-4m4 62v-4m0-128v-4m2 54v-5m2 66v-4m2-41v-4m2 8v-4m2 16v-4m0-37v-4m2 95v-4m0-74v-4m2 98v-4m0-86v-29m2 41v-4m0-41v-4m2 45v-4m2-53v-5m2 91v-4m0-25v-4m4-58v-4m2 4v-4m2 82v-4m2-69v-5m2 70v-4m0-94v-4m2 8v-4m2 24v-4m4 181v-4m0-78v-4m6-33v-4m2 65v-4m4 13v-5m6 70v-4m0-53v-4m2 57v-4m2 8v-4m0-53v-4m4 0v-4m2 65v-4m0-49v-4m2 57v-4m0-49v-4m2 57v-4m0-49v-4m2 57v-4m0-49v-4m4-8v-5m2 13v-4m2-4v-5m2 0v-4m2 13v-4m2-5v-4m6 78v-16m2 20v-16m2-78v-4m6 25v-5m2 66v-4m2-49v-4m4 4v-4m2 4v-4m4 53v-4m4 0v-4m0-62v-4m2 74v-4m0-53v-5m6 54v-4m0-91v-4m2 4v-4m2 91v-4m0-95v-4m2 94v-4m0-106v-5m4 42v-5m2 91v-4m0-87v-4m4 82v-4m0-98v-4m2 115v-4m0-83v-4m8-37v-4m2 123v-4m2-127v-4m2 41v-4m4 86v-4m0-86v-4m2 20v-4m4 74v-4m2 4v-4m8-115v-4m2 111v-4m12-58v-4m2 66v-4m0-70v-4m4 78v-4m2 8v-4m0-62v-4m2-8v-4m2 74v-5m0-65v-4m4 74v-5m2-114v-5m4 119v-4m0-65v-4m2-9v-4m2 66v-4m0-78v-4m2 106v-4m4-86v-4m4 21v-5m2 25v-4m2 53v-4m8-78v-4m4-8v-4m4 102v-4m2 4v-4m0-65v-4m4 49v-4m4-29v-4m2 57v-4m2-37v-4m4 49v-4m0-61v-4m2-128v-4m2 66v-4m2 148v-4m2-185v-4m2 180v-4m2 0v-4m0-144v-4m2 165v-5m2-8v-4m2-119v-4m4 66v-4m2 65v-4m0-66v-4m4-41v-4m4 33v-4m2 111v-4m0-58v-4m2 148v-17m0-172v-4m2 193v-8m0-177v-4m6 172v-16m2 8v-20m2 45v-17m0-197v-4m4 33v-4m8 29v-4m4 8v-4m4 16v-4m8-8v-4m2 24v-4m2 144v-4m0-127v-4m2-13v-4m2 152v-4m0-127v-4m4-37v-5m4 54v-4m2 12v-4m10 12v-4m2-8v-4m4 20v-4m2-4v-4m4 4v-4m4 12v-4m2-28v-5m10 140v-4m4-90v-5m2-28v-4m2 32v-4m10 4v-4m4 17v-4m2 0v-4m2-25v-4m2 24v-4m4 4v-4m4-4v-4m4 25v-4m2-4v-5m2 13v-4m2 4v-4m2-37v-4m10 24v-4m2-24v-5m2 33v-4m2 12v-4m4 17v-4m6 4v-4m12-9v-4m2 9v-5m8 13v-4m6 0v-4m4 4v-4m2 8v-4m10-4v-5m2-12v-4m6 25v-4m8-41v-5m4 50v-4m10 8v-4m8 4v-4m8 8v-4m2-13v-4m2 0v-4m6-16v-4m2 24v-4m2-12v-4m2 29v-5m2 99v-4m0-95v-4m2-12v-4m2 16v-4m2 4v-4m2-82v-4m2 66v-4m2-4v-5m4 46v-5m2 99v-4m0-115v-4m2 24v-4m2 103v-4m0-95v-4m2 13v-4m2-5v-4m2 4v-4m2 13v-4m2-13v-4m2 17v-5m4 5v-5m2 0v-4m4-8v-4m2 21v-5m2-8v-4m2 21v-4m2 8v-4m2 0v-4m2-21v-4m2 8v-4m2-12v-4m2 8v-4m2 28v-4m2-8v-4m4 0v-4m2 20v-4m2 9v-5m2 13v-4m4 4v-4m2-4v-5m2-20v-4m2 0v-4m2 28v-4m2 13v-4m4-13v-4m2-8v-4m2 29v-5m2 13v-4m2 0v-4m2 4v-4m2 8v-4m2 4v-4m2 0v-4m2-25v-4m2 123v-4m0-148v-4m2 37v-4m2 20v-4m2-4v-4m2 25v-4m4-17v-4m2 115v-4m0-86v-4m4-46v-4m2 33v-4m2-20v-5m2 33v-4m2 17v-5m2-4v-4m2 0v-4m2 21v-4m2-13v-4m2 17v-5m2 9v-4m2-17v-4m4-29v-4m2 49v-4m2 17v-4m2-17v-4m2 17v-5m2 5v-5m2 9v-4m4-13v-4m2 21v-4m2 8v-4m2-25v-4m6-8v-4m2 32v-4m2-8v-4m2 25v-4m6 8v-4m2-4v-5m2-32v-9m2 21v-4m2 0v-4m2 33v-5m4 0v-4m2-4v-4m2 8v-4m2 8v-4m2 9v-5m2-32v-9m2 17v-8m2 28v-4m2-12v-4m4 16v-4m2-4v-4m2-12v-4m2 8v-4m2 28v-4m4 8v-4m4 70v-4m0-78v-4m2 94v-4m0-65v-5m6-32v-4m2 4v-4m2 106v-4m0-78v-4m2 12v-4m2 78v-4m2-57v-4m4 65v-4m0-70v-4m2 107v-37m4 37v-29m2-78v-4m2 111v-29m2 29v-33m2-98v-4m2 102v-4m0-74v-4m4 0v-4m4 25v-5m2 5v-5m2-20v-4m2-4v-4m2 28v-4m2 107v-41m2-107v-4m2 37v-4m6 8v-4m4 74v-4m2-54v-4m4-12v-4m2 82v-4m2-82v-4m4 86v-4m2-86v-4m2 24v-4m6 0v-4m2 78v-4m2-70v-4m2 78v-4m2 0v-4m6 4v-4m0-58v-4m2 8v-4m2 62v-4m4 0v-4m0-62v-4m4 74v-4m2 4v-4m0-58v-4m2-16v-4m2 78v-4m0-70v-4m4 82v-4m0-62v-4m2 70v-4m0-62v-4m2 70v-4m0-62v-4m6 70v-4m0-62v-4m2 62v-5m0-69v-4m2 86v-4m0-62v-4m4 0v-4m2 4v-4m4-4v-4m2 69v-4m0-78v-4m2 95v-4m0-66v-4m2 78v-4m0-62v-4m2 70v-4m4-17v-4m0-86v-4m2 24v-4m2 25v-4m4 57v-4m0-82v-4m2 99v-5m0-69v-4m2-13v-4m2 4v-4m6 17v-5m2 5v-5m4 13v-4m2 16v-4m2 66v-4m0-66v-4m6 57v-4m2 17v-5m0-69v-4m4 69v-4m0-78v-4m4 82v-4m0-82v-4"/>
<path stroke="#e6ff10" d="m85 931v-4m0-57v-4m0-308v-4m2 324v-4m0-300v-4m2 288v-5m4 70v-4m0-82v-4m4 37v-4m14 12v-4m2 57v-4m0-57v-4m2-33v-4m2 29v-5m2 21v-4m6 8v-4m2-8v-4m2-66v-4m2 53v-4m2 78v-4m0-94v-4m6 45v-4m10 20v-4m2 0v-4m2 8v-4m4 4v-4m4-8v-4m2 49v-4m2-62v-4m2 21v-4m2-91v-4m2 70v-4m6 49v-4m2-12v-4m2 8v-4m2 4v-4m2 69v-4m0-57v-4m2 12v-4m2 0v-4m2 4v-4m2-8v-4m6-25v-4m4 45v-4m6 61v-4m0-57v-4m2 0v-4m6 12v-4m4 4v-4m4-152v-4m2-70v-4m2 226v-4m0-185v-4m0-8v-4m2 217v-4m2 53v-4m0-70v-4m2 54v-4m0-140v-4m4 107v-4m2-17v-4m6 41v-4m2 53v-4m0-57v-4m2-140v-4m2 78v-4m2 119v-4m0-70v-4m2-164v-4m6-46v-4m4 82v-4m2-8v-4m32 230v-4m2-45v-4m4 12v-4m6 12v-4m2 8v-4m2 4v-4m2 70v-4m2-54v-4m6 13v-4m2 4v-4m2 4v-4m8 8v-4m4-4v-5m6 54v-4m2-70v-4m2 8v-4m2-4v-4m2-70v-21m2 13v-4m2 123v-4m0-115v-4m0-29v-4m4-13v-4m2 169v-4m0-78v-5m0-82v-4m2 78v-4m2 78v-4m2-70v-4m2 37v-4m2 4v-4m0-37v-4m0-62v-4m2 17v-4m6 119v-5m0-106v-4m6 180v-4m0-45v-4m0-115v-4m2 16v-4m0-24v-5m2 136v-4m2-78v-4m0-45v-5m4 58v-4m0-54v-4m2 144v-4m2-131v-5m6 189v-4m0-119v-4m2 8v-4m0-57v-4m2 180v-29m2 37v-4m0-176v-4m2 53v-4m2 70v-82m0-95v-4m2 103v-4m0-54v-4m2 21v-4m2 4v-4m2-5v-4m2 21v-4m4 176v-4m0-37v-4m2-139v-5m2 136v-4m2 37v-4m4-29v-4m0-54v-4m2 54v-4m2-115v-4m2 57v-4m2 4v-4m2 20v-4m2 99v-4m2 12v-33m0-135v-4m2-17v-4m4 148v-4m0-115v-4m2 74v-4m0-83v-4m2 173v-4m2-58v-4m4 33v-4m2-4v-4m4 0v-5m26 66v-4m4-111v-4m2 111v-4m0-62v-4m2 12v-4m2 17v-4m2-21v-4m2 21v-5m2 5v-5m4 13v-4m2 57v-4m2-53v-4m2 61v-4m2 4v-4m2-53v-4m2 0v-5m2 50v-4m0-70v-4m2 24v-4m4 58v-4m0-95v-4m2 107v-4m0-95v-4m4 99v-4m6-99v-4m2 107v-4m4-4v-5m0-90v-4m6 99v-5m0-82v-4m2 82v-4m0-90v-4m2 98v-4m2-107v-4m2 37v-4m4 78v-4m8 4v-4m2-90v-4m2 8v-4m2 4v-4m4 8v-4m2 57v-4m2-65v-5m2 21v-4m4 4v-4m2 66v-5m0-73v-5m2 95v-4m0-62v-4m8-8v-4m4 70v-5m4-106v-4m2 49v-4m2 37v-4m2 24v-4m0-66v-4m4 91v-4m4-70v-4m2 65v-4m0-61v-4m4 78v-5m0-57v-4m2 57v-4m2 17v-4m2-78v-5m4 29v-4m2 62v-4m0-54v-4m2 41v-4m2-12v-4m0-78v-4m4 53v-4m6 53v-4m0-66v-4m2-20v-4m2 106v-4m0-61v-4m2 78v-5m2-73v-5m2-61v-4m2 131v-4m0-66v-4m4 86v-4m2-127v-4m2 37v-4m2 107v-5m2-197v-4m4 144v-4m2-17v-4m2 41v-4m2-20v-4m2 65v-4m4-86v-4m4 33v-4m2 78v-4m4 73v-16m2 25v-17m2-172v-4m2-13v-4m2 185v-12m0-156v-4m2 160v-21m0-213v-4m2 266v-16m2 33v-12m0-173v-4m2 189v-8m4-165v-4m2-4v-4m6 185v-4m8-156v-4m2 20v-4m12 21v-4m2 131v-4m0-160v-4m8 172v-4m0-111v-4m2 4v-4m2 119v-4m2-103v-4m6 0v-4m4 111v-4m4 8v-4m2-107v-4m2 111v-4m4-95v-4m2-20v-4m4 37v-5m2 5v-5m12 13v-4m4-4v-5m18 13v-4m4 0v-4m16 4v-4m12 4v-4m4-5v-4m2 4v-4m4 21v-4m2-4v-4m2 8v-4m2-4v-5m2 13v-4m8 4v-4m2 0v-4m6-5v-4m4-12v-4m6 119v-4m0-78v-4m4 86v-4m2-95v-4m6 103v-4m0-86v-4m2 8v-4m4-4v-5m2 17v-4m2-4v-4m4-9v-4m6 25v-4m4 4v-4m6 4v-4m2-17v-4m4 25v-4m4 0v-4m10 4v-4m2-29v-4m2 24v-4m2-12v-4m4 25v-5m2-12v-4m2 16v-4m4-78v-8m2 66v-4m2-4v-4m2 135v-4m0-90v-5m2 9v-4m2-21v-4m4 25v-5m4 5v-5m2 5v-5m4-4v-4m2 17v-4m2 0v-5m2 9v-4m4 8v-4m2-17v-4m2 111v-4m0-86v-4m2-9v-4m2 21v-4m2 8v-4m2 0v-4m2-21v-4m2 8v-4m2-12v-4m2 8v-4m2 29v-5m2-8v-4m2 21v-4m2-17v-4m2 21v-5m2 9v-4m4 8v-4m4 0v-4m2-21v-4m2 0v-4m4 37v-4m2-13v-4m2 4v-4m2-8v-4m2 29v-4m2 12v-4m2 0v-4m2 4v-4m4 8v-4m2 0v-4m2-25v-4m2-29v-4m2 37v-4m4 12v-4m4 17v-5m2-8v-4m4 17v-5m2-36v-5m2 33v-4m2-20v-4m4 45v-4m4-9v-4m2 21v-4m2-13v-4m2 17v-4m2 8v-4m2-17v-4m2 17v-5m2-36v-9m2 50v-5m4-4v-4m2 17v-4m4 8v-4m2 4v-4m2-13v-4m2 21v-4m2 8v-4m2-25v-4m2 25v-4m2 4v-4m2-29v-4m2 33v-5m2-8v-4m2 25v-4m2 90v-4m0-95v-4m2 13v-4m4 4v-4m2-33v-4m2 16v-4m2 0v-4m2 33v-4m2 8v-4m4-13v-4m2 8v-4m2 103v-4m0-90v-5m4-28v-4m2 12v-4m2 24v-4m2-12v-4m2 20v-4m2 0v-4m2-4v-4m2-12v-4m2 8v-4m2 28v-4m2 17v-4m4 4v-4m6 4v-4m2 8v-4m2 49v-4m2 4v-4m0-86v-4m4 102v-4m2-70v-4m2 107v-29m2 4v-4m0-57v-4m4-29v-4m2 94v-4m0-66v-4m6 74v-4m0-61v-5m2 0v-4m2 103v-45m2-62v-4m2 111v-37m0-74v-4m4 115v-37m0-62v-4m6 103v-41m0-74v-4m4 119v-37m2-74v-4m2 115v-57m2 57v-45m2 45v-45m0-74v-4m2 24v-4m2-4v-4m2 74v-4m0-58v-4m2-8v-4m2 78v-4m2 4v-4m0-53v-5m2 54v-4m2-50v-4m2 54v-4m2 8v-4m0-62v-4m2 12v-4m2 54v-4m2 12v-4m0-58v-4m2 66v-4m0-58v-4m2 70v-4m0-54v-4m4 4v-4m4 4v-4m2-4v-4m2 4v-4m2 12v-4m4 58v-4m2-54v-4m2 62v-4m0-54v-4m4 54v-4m0-62v-4m2 16v-4m8 54v-5m0-65v-4m8 69v-4m0-69v-5m2 83v-5m0-65v-4m10 78v-4m4 4v-4m0-62v-4m4-17v-4m8 87v-5m0-65v-4m2-25v-4m2 98v-4m0-69v-5m2 87v-4m2-58v-4m2-29v-4m4 86v-4m0-74v-4m2 82v-4m2-53v-4m2 53v-4m0-86v-4m2 106v-4m4-49v-4m2 62v-5m6 0v-4m0-69v-5m2 83v-5m0-65v-4m2-25v-4m2 33v-4m2 41v-4m0-103v-4m4 78v-4"/>
<path stroke="#ffe300" d="m83 853v-4m2-295v-8m2 24v-4m2 361v-4m2 8v-4m0-53v-4m2-29v-4m2 90v-4m0-65v-5m2 78v-4m2-49v-4m2 8v-4m2 53v-4m0-53v-4m2 61v-4m0-53v-4m2 61v-4m2 4v-4m0-53v-4m6-33v-4m2 94v-4m4-41v-4m2 0v-4m6 37v-4m0-107v-4m4 29v-4m2 28v-4m2 86v-4m4-49v-4m2-4v-4m2 65v-4m0-53v-4m10 61v-4m0-53v-4m4 8v-4m4-78v-4m6 111v-4m0-128v-4m2 70v-4m2 33v-4m2 8v-4m20 12v-4m2 57v-4m4-65v-4m4 20v-4m2 8v-4m6-16v-4m2 73v-4m0-53v-4m4-8v-4m4-156v-5m0-41v-4m2 279v-4m0-53v-4m0-234v-4m2 299v-4m0-53v-4m8-107v-4m2 74v-4m4 94v-4m0-74v-4m2 90v-4m0-53v-4m2 0v-4m6-4v-4m2-58v-4m0-115v-4m2 164v-4m0-127v-4m0-25v-4m4 41v-4m2-58v-4m4 41v-4m4-57v-4m4 20v-4m24 205v-4m2 58v-4m0-50v-4m4 70v-4m6-37v-4m2 8v-4m6 70v-4m6-45v-5m10 13v-4m2 0v-4m2 8v-4m4 4v-4m4 53v-4m2-53v-5m2 0v-4m8-12v-4m2-25v-4m0-82v-4m2 90v-4m2-82v-4m2 90v-4m0-45v-4m2-8v-4m2 135v-4m0-53v-5m0-110v-4m2 184v-4m0-115v-4m0-41v-4m2-12v-4m2 172v-4m0-168v-5m4 66v-4m2 123v-4m0-57v-5m0-49v-4m0-53v-4m2 168v-4m0-66v-4m0-98v-5m4 62v-4m0-29v-4m2 103v-4m4-37v-4m0-54v-24m2 53v-4m2 82v-4m2 4v-4m0-74v-4m0-45v-4m6 53v-4m2 98v-4m0-86v-4m0-45v-4m2 53v-4m0-58v-4m4 165v-5m2-147v-4m2 147v-4m0-82v-4m2 119v-4m0-45v-4m2-173v-4m2 160v-4m6-24v-5m2 95v-4m4-144v-4m2 90v-4m2-33v-4m0-61v-4m2 90v-4m0-99v-4m2 86v-4m0-74v-4m2 13v-5m2 74v-4m0-65v-5m4 9v-4m2 69v-4m0-94v-4m2 90v-4m0-78v-4m2 152v-4m0-50v-4m2 8v-4m2 21v-4m0-25v-4m2 74v-4m0-62v-4m0-53v-4m2 176v-4m2-33v-4m0-53v-4m2 32v-4m4 13v-4m2 65v-4m4-49v-4m4 4v-4m2 4v-4m2 53v-4m0-49v-4m4 12v-4m2 4v-4m2 4v-4m2 0v-4m2-4v-4m6 57v-4m0-53v-5m2 13v-4m2 53v-4m0-53v-5m2 42v-5m0-82v-4m10 111v-4m2 4v-4m2 4v-4m0-49v-4m8 12v-4m2 4v-4m16-49v-5m2 5v-5m2-8v-4m2-16v-4m2 115v-5m2-69v-4m2 0v-5m4-20v-4m2 29v-5m6-16v-4m2 82v-4m4-4v-4m0-99v-4m2 41v-4m2 86v-4m0-74v-4m2-8v-4m2 94v-4m0-70v-4m2 4v-4m2 66v-4m4 4v-4m2 4v-4m0-70v-4m2 82v-4m2-111v-4m2 103v-5m4 13v-4m0-66v-4m2 74v-4m6 4v-4m0-58v-4m2-8v-4m2 78v-4m0-58v-4m6-8v-4m2 4v-4m2 41v-4m0-74v-4m4-4v-4m4 49v-4m2-9v-4m2-16v-4m6 86v-4m0-66v-4m4 21v-4m2 24v-4m4 58v-5m0-53v-4m2 66v-4m4-87v-4m2-20v-4m2 90v-4m0-70v-4m2 98v-4m2-61v-4m2 4v-4m4 41v-4m4-21v-4m2 49v-4m2-37v-4m4-8v-4m2-127v-5m2 197v-4m4-172v-4m4 29v-5m4 144v-4m4 12v-4m2-57v-4m4 74v-5m2-119v-4m2 119v-4m2-82v-4m4 156v-20m0-132v-4m2 164v-16m0-140v-4m4 185v-4m2-41v-66m2 115v-4m0-66v-82m0-127v-4m2 246v-16m0-160v-5m2 202v-17m2 33v-4m0-8v-17m0-156v-4m2 12v-4m2 181v-8m6 4v-4m0-152v-4m2 8v-4m2 0v-4m2 160v-4m2-136v-4m6 144v-4m2 4v-4m0-127v-5m4-4v-4m2 144v-4m0-119v-4m4 131v-4m2 4v-4m0-131v-5m10 136v-4m0-103v-4m2 111v-4m4 4v-4m0-107v-4m2 119v-8m4-99v-4m2 107v-4m0-103v-4m2 8v-4m4 12v-4m2-28v-4m4 12v-4m2 24v-4m4 103v-4m2-95v-4m2 103v-12m0-74v-4m2 90v-17m0-102v-4m2 33v-5m2 95v-4m0-78v-4m4 90v-4m0-90v-5m4 5v-5m2 13v-4m6-25v-4m2 25v-5m2 9v-4m2 0v-5m4-4v-4m8 25v-4m4-37v-4m2 37v-4m2 12v-4m4 86v-4m0-90v-5m2-4v-4m2-24v-4m2 32v-4m2 13v-5m2 99v-4m18 4v-4m2-90v-5m4 0v-4m4 103v-4m2-78v-4m2 4v-4m8 0v-4m2 8v-4m4 0v-4m2 8v-4m4-4v-4m2-13v-4m6 25v-4m8-41v-4m6 41v-5m4 17v-4m6 4v-4m6 4v-4m4 8v-4m4 82v-4m2-90v-5m2 0v-4m2 9v-5m8-12v-4m2 25v-4m2 4v-4m2-13v-4m2 17v-5m2 0v-4m2-69v-9m2 62v-4m2 0v-8m2 41v-4m2 8v-4m2-21v-4m2 21v-5m4 13v-4m2 0v-4m2 4v-4m2 8v-4m2-9v-4m2 17v-4m2 0v-4m2 8v-4m2-4v-5m2 17v-4m2-17v-4m2 21v-4m2-9v-4m8-4v-4m2 8v-4m2-8v-8m2 8v-4m2 29v-4m2-9v-4m2 21v-4m2-17v-4m2 21v-4m2 94v-4m0-82v-4m2 8v-4m2 4v-4m2 4v-4m2 0v-4m2-21v-4m2 0v-4m2 25v-5m4 0v-4m2 4v-4m2-8v-4m2 29v-4m2 12v-4m4 0v-4m2 4v-4m4 4v-4m2-25v-4m2-29v-4m2 37v-4m2 16v-4m2 0v-4m2 21v-4m2 0v-4m2-9v-4m2 21v-4m2 0v-4m2-37v-4m2 32v-4m2-20v-4m2 28v-4m4 8v-4m2 4v-4m4 4v-4m4 21v-4m2-17v-4m2 17v-4m2-37v-4m2 45v-4m2 12v-4m2-13v-4m2 17v-4m2 0v-4m2 12v-4m2 4v-4m2-13v-4m2 21v-4m4-21v-4m2 25v-4m2 4v-4m2-29v-4m2 33v-4m2-9v-4m4 13v-5m2 13v-4m2 8v-4m2 0v-4m2-33v-4m2 16v-4m2 0v-4m4 37v-4m2-8v-5m2 0v-4m4 13v-4m2 4v-4m2-29v-4m2 12v-4m2 25v-5m2-12v-4m2 21v-5m2 0v-4m2-4v-4m2-12v-4m2 8v-4m2 29v-5m2 17v-4m2-8v-5m2 70v-4m2-4v-4m0-70v-4m2 86v-4m0-57v-4m2 69v-4m2 4v-4m2-98v-4m2 8v-4m2 94v-4m0-70v-4m2 12v-4m4 17v-4m4-9v-4m2 66v-4m4 12v-4m0-57v-4m2 94v-37m0-66v-4m4 74v-4m2-90v-4m4 94v-4m2-70v-4m4 115v-33m0-57v-4m2 94v-33m0-57v-4m2 53v-4m2 45v-49m0-74v-4m2 28v-4m2 62v-4m2-99v-4m2 37v-4m2 70v-4m2 12v-4m2 0v-4m6-49v-5m4-12v-4m2 74v-4m2-74v-4m6-4v-4m8 82v-4m0-58v-4m4 66v-4m0-58v-4m2 70v-4m2 0v-4m2 4v-4m2 8v-4m2-54v-4m2 8v-4m6-8v-4m4 66v-4m2-50v-4m2 50v-5m0-61v-4m2 70v-5m0-61v-4m2 4v-4m2 16v-4m8-8v-4m2 16v-4m2-12v-4m2 20v-4m2 66v-4m0-54v-4m2-4v-4m2 66v-4m0-58v-4m4 62v-5m0-61v-4m2 61v-4m2-49v-4m2 12v-4m2 4v-4m4 41v-4m4-37v-4m2 66v-4m2-13v-4m2-53v-4m4-13v-4m2 91v-5m2-98v-4m2 33v-4m2 73v-4m0-65v-4m2 82v-4m2-66v-4m2 74v-4m0-54v-4m2 58v-5m0-57v-4m6 49v-4m0-74v-4m4-37v-4m2 53v-4m2 91v-5m2-12v-4m0-74v-4"/>
<path stroke="#ffbd00" d="m83 858v-5m2 21v-4m0-324v-4m2 24v-4m2 300v-4m8 16v-4m10 4v-4m4 12v-4m2-4v-4m4-8v-4m2 73v-4m6-45v-4m2-8v-4m2-62v-4m2 123v-4m0-70v-4m2-16v-4m2 28v-4m2 25v-4m2-4v-4m8 20v-4m2 4v-4m2 53v-4m0-49v-4m2 8v-4m4 4v-4m4-8v-4m2-66v-4m2 127v-4m0-70v-4m2 82v-4m0-57v-4m10 20v-4m2-12v-4m2 8v-4m2 4v-4m2 8v-4m2 12v-4m2 53v-4m0-49v-4m2 57v-4m0-49v-4m2-8v-4m4 12v-4m2 49v-4m0-78v-4m2 94v-4m2 8v-4m0-49v-4m6 0v-4m2 0v-4m2 61v-4m4 8v-4m0-49v-4m2 53v-4m2 8v-4m2 4v-4m0-49v-4m4-168v-4m2 168v-4m4-8v-5m2 46v-4m0-124v-8m2 156v-4m0-78v-4m2 33v-4m10 8v-4m4 29v-5m0-86v-4m4-82v-4m2-58v-4m4 37v-4m0-61v-5m2 5v-5m2 13v-4m4 33v-5m0-24v-4m2 8v-4m28 230v-4m2 8v-4m2 57v-4m0-45v-4m2 8v-4m8 16v-4m2 4v-4m2 8v-4m2 9v-5m4 9v-4m4 8v-4m2 4v-4m8 8v-4m4-4v-4m2 4v-4m2 53v-4m4-70v-4m2 53v-4m2 4v-4m4-139v-21m2 140v-54m0-90v-4m2 115v-4m0-66v-4m2 111v-4m0-160v-5m2 87v-4m0-83v-4m8 111v-4m0-41v-4m2 107v-4m0-54v-4m0-103v-4m6 66v-4m2 70v-4m0-66v-4m0-37v-4m4 37v-4m0-21v-4m2 4v-4m2 148v-4m2 12v-41m0-136v-4m2 181v-41m0-127v-4m4 0v-5m2 189v-4m0-172v-4m6 123v-4m4 61v-4m0-172v-4m2 57v-4m4-62v-4m4 0v-4m2 66v-4m0-41v-4m4 24v-4m0-24v-5m2 169v-41m0-82v-29m2 131v-4m4 33v-4m0-115v-4m0-45v-4m2 180v-4m2-123v-4m4 127v-4m2-45v-4m2-54v-4m2-12v-49m4 74v-5m2-78v-4m2 21v-4m2-17v-4m2 181v-37m2-62v-4m0-49v-4m2 127v-53m0-41v-4m0-41v-5m4 177v-4m0-62v-4m2 78v-4m2-41v-4m2 49v-4m0-49v-4m4 0v-4m8 16v-4m12 49v-4m0-45v-4m2-4v-4m10-9v-4m2 13v-5m4 54v-4m0-58v-4m2 21v-4m2 4v-4m4 12v-4m2 4v-4m2 0v-4m6 53v-4m0-45v-4m2 0v-4m2-25v-4m2 24v-4m2 13v-4m2-50v-4m2 8v-4m14 91v-4m2-91v-4m2 86v-4m4-70v-4m2-12v-4m4-12v-5m2 111v-4m8-8v-4m6-78v-4m2 82v-4m0-70v-4m2 4v-4m4 8v-4m2 49v-4m2-57v-4m2 86v-4m4-62v-4m2 57v-4m0-65v-4m6 78v-5m4 5v-5m0-57v-4m2 70v-4m0-54v-4m4 53v-4m4 4v-4m0-53v-4m2 29v-4m2-37v-5m2 74v-4m2-65v-5m2 54v-4m2 24v-4m0-53v-4m2 0v-4m10 61v-4m0-57v-4m4 28v-4m4 33v-4m4-70v-4m2 37v-4m2 57v-4m2 4v-4m2-70v-4m2-20v-4m2 41v-4m4 0v-4m4-5v-4m2 78v-4m4-119v-4m2 136v-5m0-94v-4m4 90v-4m0-180v-5m2 185v-4m0-131v-4m2 151v-4m0-49v-4m2-16v-5m2 33v-4m2-12v-4m4 53v-4m0-57v-5m2-12v-4m2-20v-5m2 58v-4m4 74v-4m0-50v-4m2 91v-58m2 70v-66m2 111v-12m0-185v-4m2-12v-5m2 17v-4m2 53v-4m2 103v-62m2 82v-12m0-140v-4m2 160v-12m2 37v-12m4 12v-8m0-169v-4m2 181v-12m0-144v-4m2 156v-13m2 13v-4m4-132v-4m2 144v-4m2 4v-4m2 4v-4m2-148v-4m4 33v-4m6 127v-4m2-156v-4m4 49v-4m2 12v-4m4 111v-4m6-95v-4m6 103v-4m0-91v-4m2 95v-25m6 29v-4m0-99v-4m4-16v-4m2 32v-4m2 103v-8m2 4v-4m2 4v-4m0-82v-4m2 4v-4m2 90v-17m2 5v-5m8-61v-4m4-4v-4m6 12v-4m2 0v-4m16 8v-4m2-4v-4m4 12v-4m8 0v-4m8 90v-4m4-82v-4m2 8v-4m4-8v-5m2 17v-4m2 8v-4m2-4v-4m4 0v-4m6 4v-4m6 8v-4m6-4v-5m2 13v-4m2-21v-4m12 111v-21m0-69v-5m8 17v-4m4-4v-4m4 8v-4m4-9v-4m2 17v-4m10 90v-4m0-78v-4m4 8v-4m2 82v-4m0-95v-4m8 103v-4m2-74v-4m8 0v-4m2-29v-4m2 25v-5m2-8v-4m2 25v-4m2 4v-4m2-13v-4m4 13v-5m2-69v-4m2 57v-4m2 0v-4m2 37v-4m4-17v-4m2 21v-4m2 4v-4m2 12v-4m2 0v-4m2 4v-4m2 8v-4m2-8v-5m2 17v-4m2 0v-4m2 8v-4m2-4v-4m2 16v-4m2-17v-4m2 21v-4m2-8v-5m2 17v-4m2 8v-4m2 0v-4m2-17v-4m2 8v-4m2-8v-4m2 4v-4m2 29v-4m2-9v-4m2 21v-4m2 86v-4m0-99v-4m2 21v-4m4 12v-4m2 4v-4m2 4v-4m2 0v-4m2-21v-4m2 0v-4m2 25v-4m2 12v-4m2-8v-5m2 5v-5m2-8v-4m2 29v-4m4 4v-4m4 8v-4m2 4v-4m4-25v-4m2-24v-9m2 37v-4m2 17v-5m2 0v-4m2 21v-4m2 86v-4m0-82v-4m2-9v-4m2 21v-4m2 0v-4m2-37v-4m2 32v-4m2-20v-4m2 28v-4m2 17v-4m2-4v-5m2 5v-5m2 17v-4m2 86v-4m0-90v-5m2 13v-4m4-9v-4m2 17v-4m2-37v-4m4 53v-4m4 0v-4m2 0v-4m4 12v-4m2-12v-5m4 21v-4m2 82v-4m0-99v-4m2 25v-4m2 4v-4m2-29v-4m2 33v-4m2-9v-4m2 21v-4m2-4v-4m2 12v-4m2 8v-4m4-37v-4m2 16v-4m2 0v-4m2 29v-4m2 12v-4m2-8v-4m2 0v-5m2 5v-5m2 13v-4m2 4v-4m2-29v-4m2 12v-4m2 25v-4m2-13v-4m2 21v-4m4-9v-4m2-8v-8m2 8v-4m2 86v-4m2 8v-4m2 0v-4m0-53v-4m2 12v-4m2-21v-4m4 29v-4m2 8v-4m2 41v-4m0-78v-4m2 86v-4m4 12v-4m0-57v-5m2 66v-4m0-62v-4m2 74v-4m2-49v-4m2 53v-4m2-78v-4m2 86v-4m0-57v-5m6 66v-4m0-53v-4m2 0v-5m2 54v-4m0-74v-4m2 90v-4m0-62v-4m2 0v-4m4 17v-5m2 66v-4m2 4v-4m2-74v-4m4 78v-4m2-66v-4m2 54v-5m0-78v-4m2 99v-4m2-66v-4m2 25v-5m2-4v-4m2 13v-5m2 54v-4m0-58v-4m4 21v-4m4 0v-5m2 46v-4m2-50v-4m2 66v-4m0-50v-4m2 46v-5m0-61v-4m2 24v-4m2 4v-4m2 13v-5m4 54v-4m2-58v-4m2 17v-5m2-4v-4m2 4v-4m2 13v-5m2 50v-4m4 4v-4m0-46v-4m2 4v-4m2 50v-4m2 0v-5m0-53v-4m2 16v-4m2 58v-4m4-66v-4m4 70v-4m2 4v-4m0-54v-4m2 62v-4m0-54v-4m2-16v-4m4 82v-4m2-5v-4m2 13v-4m8 0v-5m0-53v-4m4-16v-5m2 83v-5m2 9v-4m2 4v-4m2-66v-4m2-25v-4m2 90v-4m0-61v-4m6-9v-4m2 86v-4m2-4v-4m0-66v-4m2 74v-4m0-66v-4m2 25v-4m2 45v-4m4-45v-4m2 20v-4m8 49v-4m0-61v-4m2 73v-4m0-57v-4m4 65v-4m0-57v-4m2 33v-5m0-90v-4m2 123v-4m0-66v-4m2 25v-4m2-25v-4"/>
<path stroke="#ff9700" d="m87 931v-4m0-45v-4m0-316v-4m4 320v-4m2-29v-4m2 21v-4m4 73v-4m0-45v-4m2 8v-4m2-4v-4m2 4v-4m10 45v-4m0-74v-4m4 41v-4m4 57v-4m0-45v-4m6-70v-4m2 49v-4m2 66v-4m2 12v-4m4 8v-4m2 8v-4m2-53v-4m2 8v-4m14 57v-4m4-20v-4m0-99v-4m6 99v-4m0-115v-5m2 144v-4m0-74v-4m2 90v-4m0-53v-4m2 8v-4m4 57v-4m14 4v-4m0-53v-4m2 65v-4m0-45v-4m4-37v-4m2 29v-4m4 69v-4m0-45v-4m2 8v-4m6-16v-4m2 16v-4m4-8v-4m2 16v-4m2-177v-4m2 185v-4m0-160v-4m0-70v-4m2 242v-4m0-226v-4m2 29v-8m2 266v-4m0-45v-4m4-103v-4m4 156v-4m2-74v-4m2 33v-4m2 0v-4m2 61v-4m0-45v-4m4-12v-4m4-17v-4m2-168v-4m4-17v-4m0-37v-4m6 86v-4m2-8v-4m28 176v-4m2 4v-4m8 74v-4m2 8v-4m0-45v-4m2 57v-4m0-45v-4m2 58v-5m0-49v-4m2 62v-4m8-37v-4m4 8v-4m8 4v-4m2 8v-4m4 4v-4m6-4v-4m2 0v-5m2 41v-4m2-49v-4m2-4v-4m4 41v-4m0-54v-4m2-65v-25m2 8v-4m2 140v-54m2 50v-5m2-90v-4m0-49v-4m2 20v-4m2 41v-4m0-49v-4m2 0v-4m2 156v-54m0-49v-4m2-41v-4m4 102v-4m0-98v-4m2 168v-45m2-95v-4m4 115v-4m0-86v-4m2 41v-4m6 98v-4m4-37v-4m0-82v-4m2-45v-4m2 180v-33m2 33v-4m0-176v-5m2 156v-4m2 33v-24m0-95v-4m2-49v-4m2 8v-4m4-54v-4m2 91v-5m4 21v-4m0-45v-4m2 78v-4m0-54v-24m4 180v-4m2-119v-37m2 90v-4m2 29v-4m0-123v-4m2 90v-4m0-99v-4m2 8v-4m2 144v-4m0-62v-4m2 111v-4m0-168v-4m2 8v-4m4 49v-4m0-74v-4m2 111v-4m0-99v-4m2 189v-41m4 41v-4m0-66v-4m2-78v-4m2 127v-4m4-12v-5m4 13v-4m6 12v-4m4 4v-4m2 4v-4m2 0v-4m6 12v-4m4 45v-4m0-41v-4m2 45v-4m0-45v-4m4 53v-4m2-49v-4m2 12v-4m2-4v-4m2-46v-4m6 62v-4m8 0v-4m6 53v-4m2-37v-4m8-33v-4m6-21v-4m4 13v-4m4-9v-4m2 82v-4m0-94v-4m2 20v-4m2 25v-4m2 0v-4m2 73v-4m2-90v-4m2 103v-5m2 0v-4m2-4v-4m2 4v-4m0-78v-4m4 16v-4m2 54v-4m0-91v-4m2 115v-4m0-70v-4m2 8v-4m2-8v-4m2 20v-4m2 70v-4m0-62v-4m8-8v-4m2 8v-4m2-37v-4m4 41v-4m2 4v-4m6 70v-4m0-54v-4m4-8v-4m2 16v-4m6 49v-4m0-53v-4m4 33v-4m0-66v-4m4-4v-4m2 98v-4m2-45v-4m4-29v-4m4 90v-4m2-70v-4m2 86v-4m0-49v-4m2 49v-4m0-53v-4m2 74v-5m4-49v-4m4 8v-4m2-29v-4m2 50v-4m0-66v-4m2 82v-4m4-33v-4m2 4v-4m2 49v-4m2-78v-4m2 94v-4m2 12v-4m4-49v-4m0-74v-4m2 119v-4m4 16v-4m0-180v-4m6 20v-4m10 53v-4m4 119v-4m10 17v-5m0-86v-4m4 74v-4m0-66v-4m2 78v-4m0-66v-4m2 173v-17m2 21v-17m2-90v-4m2-156v-4m2 70v-4m2 168v-54m2 58v-53m2 78v-13m0-143v-5m2 169v-13m0-151v-5m2 165v-17m2 13v-17m2 12v-16m0-119v-4m2 148v-17m2 25v-4m0-148v-4m4 20v-4m2-16v-4m2 20v-4m6 144v-4m2 4v-4m0-132v-4m2 136v-45m2-74v-4m4 127v-4m0-123v-4m2 135v-8m2 4v-4m2 4v-4m0-103v-4m2 4v-4m2 8v-4m2 8v-4m6 0v-4m4 78v-4m2-70v-4m2 107v-4m8 4v-4m2-111v-4m2 24v-4m2 95v-17m2 17v-17m2 4v-4m0-74v-4m2 103v-4m2-17v-4m0-94v-4m2 119v-4m2-74v-4m2 86v-4m2-86v-4m12-17v-4m2 25v-4m2 8v-4m2 0v-4m2 12v-4m2-13v-4m2 17v-4m10-29v-4m2 37v-4m2 12v-4m4-8v-4m2-5v-4m2-24v-4m2 32v-4m2 13v-4m6 0v-5m10 17v-4m4 4v-4m2-4v-4m4 0v-5m2 17v-4m6 8v-4m12 4v-4m2 0v-4m2 8v-4m4-4v-4m2 86v-25m0-74v-4m2 103v-21m0-61v-4m2 86v-12m6-62v-4m4-45v-4m2 127v-4m2 4v-8m2 8v-12m0-74v-4m2 90v-8m0-66v-4m2 4v-4m2 4v-4m4 4v-4m8 4v-4m4 0v-4m4-4v-4m2 0v-5m2 9v-4m4 94v-4m0-107v-4m2 25v-4m2-9v-4m2 25v-4m4-13v-4m2 13v-4m2 4v-4m2-66v-8m2 57v-4m2 0v-4m2 37v-4m2 4v-4m2-17v-4m2 21v-4m2 4v-4m2 12v-4m2 0v-4m2 4v-4m2 8v-4m2 82v-4m0-86v-4m4 12v-4m4 0v-4m8 0v-4m2 16v-4m2 8v-4m2 0v-4m2-17v-4m4-4v-4m2 111v-4m0-103v-4m4 17v-5m2 21v-4m2-17v-4m4 21v-4m2 12v-4m4 4v-4m4-25v-4m2 0v-4m2 25v-4m2 12v-4m2-8v-4m2 4v-4m2-9v-4m4 33v-4m2 0v-4m2 4v-4m2 8v-4m2 4v-4m2 0v-4m2-21v-4m2-24v-4m2 32v-4m2 17v-4m2 0v-5m2 21v-4m2 0v-4m2-8v-5m2 21v-4m2 0v-4m2-33v-8m2 33v-5m2-20v-4m2 29v-5m2 17v-4m2-4v-4m2 4v-4m2 16v-4m2-8v-4m2 12v-4m2 8v-4m2-12v-5m2 17v-4m2-37v-4m2 41v-4m2 16v-4m2-16v-5m4 17v-4m2 8v-4m2 8v-4m2-12v-4m2 16v-4m2 8v-4m2-21v-4m2 25v-4m2 4v-4m2-25v-8m4 21v-5m2 21v-4m2-4v-4m2 12v-4m2 8v-4m2-4v-4m2-29v-4m2 16v-4m2 0v-4m2 29v-4m2 12v-4m2-8v-4m2 0v-4m2 4v-4m4 12v-4m2-29v-4m2 12v-4m2 25v-4m2-13v-4m2 21v-4m2-4v-5m2 0v-4m2-8v-4m2 4v-4m2 25v-4m2 16v-4m8-4v-4m2 61v-4m6-86v-4m2 86v-4m0-62v-4m6 25v-4m2 57v-4m2-61v-5m2 58v-4m0-66v-4m2 25v-4m2 61v-4m0-49v-4m2 53v-4m0-58v-4m10 62v-4m2 45v-45m0-62v-4m2 74v-4m2-45v-4m2 4v-4m2 45v-4m2 0v-4m0-66v-4m2 29v-5m2-4v-4m2-28v-5m2 33v-4m2 62v-4m0-58v-4m2 74v-4m2 0v-4m2 8v-4m4 4v-4m0-45v-4m2 53v-4m2-4v-4m0-54v-4m4-4v-4m2 70v-4m6 4v-4m2 4v-4m2 8v-4m2-4v-4m0-50v-4m2 17v-5m2 46v-4m10-42v-4m2 54v-4m0-41v-5m4 50v-4m2-54v-4m6 12v-4m2 41v-4m0-53v-4m4 61v-4m0-53v-4m2 16v-4m6 45v-4m2 8v-4m0-53v-4m2 16v-4m2-12v-4m2 20v-4m2 8v-4m2 50v-5m0-49v-4m2 58v-5m0-49v-4m4 53v-4m0-53v-4m4 8v-4m2 12v-4m2 4v-4m2 49v-4m2-12v-4m0-66v-4m4 95v-5m0-49v-4m2 58v-5m0-49v-4m2 41v-4m2-45v-4m6 65v-4m2-90v-4m2 94v-4m0-57v-4m2 65v-4m2 13v-5m2 0v-4m0-53v-4m2 16v-4m2-4v-4m4 0v-4m2 45v-4m0-66v-4m4 53v-4m0-82v-4m4 127v-4"/>
<path stroke="#ff7100" d="m83 923v-4m0-57v-4m2 20v-4m4-8v-4m4 57v-4m0-66v-4m4 33v-4m10 4v-4m2 4v-4m2 57v-4m2-49v-4m2-29v-4m2 25v-4m4 24v-4m4 49v-4m2 0v-4m0-49v-4m2 37v-4m0-91v-4m4 25v-4m2 29v-5m2 25v-4m2-4v-4m2 16v-4m6 53v-4m0-41v-4m2 49v-4m2-45v-4m2 53v-4m2-49v-4m2 57v-4m2-45v-4m2 49v-4m0-49v-4m2-62v-4m2 49v-4m2 21v-4m2-82v-4m2 65v-4m6 90v-4m2-57v-4m2 61v-4m0-49v-4m2 4v-4m2 8v-4m2 57v-4m2-45v-4m2 4v-4m6 0v-4m6 8v-4m6 0v-4m2 53v-4m0-49v-4m6 12v-4m6 4v-4m0-217v-5m4 46v-5m2 230v-4m0-49v-4m4-8v-4m4-17v-4m2 33v-4m14-58v-4m2-98v-4m0-17v-4m10 8v-4m4-49v-4m4 12v-4m28 226v-4m4 12v-4m10 20v-4m2 4v-4m2 9v-5m2 9v-4m2 57v-4m2-45v-4m4 8v-4m2 4v-4m2 4v-4m10 0v-4m2 4v-4m6-21v-4m6 49v-4m0-41v-4m6 45v-4m2-123v-4m2 37v-4m0-41v-5m0-36v-5m2 128v-4m2 24v-4m4-33v-4m2-102v-5m2 62v-4m2 70v-4m0-58v-4m0-45v-4m4 8v-4m2 41v-25m2 148v-4m0-45v-4m0-82v-21m2 4v-4m4 29v-4m0-45v-5m2 50v-4m2 94v-4m0-82v-4m0-37v-4m2 45v-4m0-41v-4m2 12v-4m2 41v-4m2-33v-4m2 45v-4m2 131v-29m0-94v-4m0-41v-4m2 4v-4m6 123v-4m0-74v-4m0-49v-5m4 115v-4m0-111v-4m12 156v-4m2-94v-45m4 156v-4m2-91v-4m2-57v-4m10 53v-4m2 16v-4m0-61v-5m2 74v-4m2-8v-4m0-58v-4m2 70v-4m4-53v-4m2 160v-41m2-9v-4m4 33v-4m2-4v-4m4 0v-4m8 16v-4m2 4v-4m4 4v-4m6 0v-4m2-4v-4m8 28v-4m0-69v-5m2 41v-4m2 13v-4m4-9v-4m2 21v-4m2 4v-4m4 12v-4m2 4v-4m2 0v-4m4 8v-4m2 0v-4m4 33v-4m2-37v-5m2 13v-4m2 37v-4m2-78v-5m2 91v-4m2-78v-4m2 78v-5m6 9v-4m8-74v-4m4-17v-4m4 74v-4m0-82v-4m4-9v-4m4 111v-4m2-4v-4m2 12v-4m4-8v-4m0-66v-4m2 8v-4m2 70v-4m0-62v-4m2 70v-4m2 8v-4m4-13v-4m0-61v-4m4 78v-4m2 4v-4m0-54v-4m2-12v-4m4 24v-4m4 58v-4m2-58v-4m2 12v-4m4-8v-4m6-41v-4m2 37v-4m4 78v-5m0-69v-4m2 45v-4m6 12v-4m6-21v-4m2-16v-4m4 74v-5m2 5v-5m6-86v-4m2 86v-4m0-45v-4m6-16v-5m2 46v-4m2-25v-4m2 16v-4m2 41v-4m0-49v-4m2-58v-4m2 58v-5m2 21v-4m4 57v-4m0-115v-4m2 37v-4m2 94v-4m4-139v-4m4 131v-4m0-49v-4m2 24v-4m0-66v-4m2 115v-4m2-49v-4m2-4v-4m2-13v-4m2-20v-4m2 106v-4m4-29v-4m6 115v-16m2 20v-16m0-168v-4m2 16v-4m2 45v-4m0-111v-4m2 160v-4m2 20v-4m2 9v-5m0-82v-4m2 156v-16m2 24v-16m2 8v-16m0-132v-4m2 148v-12m0-111v-4m2 123v-16m2 24v-12m0-111v-4m4 16v-4m8-8v-4m2 25v-4m6 82v-4m0-66v-4m4-33v-4m4 49v-4m6 111v-37m2 37v-37m4 41v-4m2-103v-4m4 21v-5m2-4v-4m2 99v-29m2-66v-4m4 13v-5m2 95v-4m0-115v-4m2 119v-21m2 21v-29m2 29v-21m8-57v-4m4 82v-4m0-78v-4m8 8v-4m2 0v-4m2 12v-4m2 8v-4m2 0v-4m16 8v-4m2-4v-4m2 12v-4m2 4v-4m2-33v-4m12-4v-4m8 49v-4m6 4v-4m14-4v-4m6 8v-4m2 8v-4m2 78v-12m4 12v-12m0-66v-4m2-21v-4m2 29v-4m2 8v-4m8-8v-4m2 90v-21m8-57v-4m2 0v-4m6-33v-4m2 119v-4m0-82v-5m2 87v-4m0-66v-4m6 82v-8m4-66v-4m6-12v-5m2 21v-4m4 8v-4m12 0v-4m2-25v-4m2 25v-4m2-9v-4m2 25v-4m2 0v-4m2-8v-5m2 13v-4m2 4v-4m2-66v-4m2 53v-4m2 0v-4m2 37v-4m2 4v-4m2-17v-4m2 21v-4m2 4v-4m8 12v-4m2-8v-4m2 12v-4m2 4v-4m2 4v-4m2 0v-4m2 12v-4m2-16v-5m2 21v-4m4 8v-4m2 8v-4m2 0v-4m2-16v-5m2 5v-5m2-4v-4m2 4v-4m2 25v-4m2-4v-4m4 0v-5m2 17v-4m2 8v-4m4 8v-4m4 0v-4m2-17v-4m2 0v-4m2 25v-4m2 12v-4m2-8v-4m2 4v-4m2-9v-4m2 25v-4m2 12v-4m2 0v-4m2 78v-4m0-70v-4m4 8v-4m2 0v-4m2-21v-4m2-24v-4m2 32v-4m2 17v-4m2 0v-4m4 16v-4m2-8v-4m2 20v-4m2 0v-4m2-33v-4m2 29v-4m2-17v-8m2 29v-4m2 16v-4m2-4v-4m2 4v-4m2 16v-4m2-8v-4m2 12v-4m2 8v-4m2-12v-4m2 16v-4m2-33v-8m2 41v-4m4-4v-4m2 16v-4m2 4v-4m2 8v-4m4-8v-4m2 16v-4m2 8v-4m2-20v-5m6-4v-4m2 25v-4m2-4v-4m2 20v-4m2-4v-4m6 8v-4m2-29v-4m2 16v-4m2 0v-4m2 29v-4m4 0v-4m2 0v-4m2 4v-4m2 8v-4m2 8v-4m2-29v-4m2 12v-4m4 8v-4m2 21v-4m2-4v-4m2 0v-5m2-8v-4m2 4v-4m2 25v-4m4 4v-4m2 12v-4m2 41v-4m0-58v-4m2 74v-4m2-41v-4m2 53v-4m0-41v-4m2 33v-4m0-70v-4m2 78v-4m0-66v-4m2 20v-4m2 13v-4m2 57v-4m0-53v-5m4 21v-4m2-8v-4m8 0v-5m2 13v-4m2 53v-4m0-49v-4m2 45v-4m0-66v-4m2 82v-4m0-54v-4m2 0v-4m2 4v-4m2 17v-4m4 57v-4m2-66v-4m2-4v-4m2 78v-4m2 0v-4m2-13v-4m6-24v-4m2-5v-4m2 13v-4m2 45v-4m0-50v-4m4 21v-4m2-13v-4m2 62v-4m0-41v-4m2-17v-4m2 12v-4m2 13v-5m2 37v-4m0-53v-4m2 24v-4m2 4v-4m2 13v-4m2-9v-4m4 4v-4m2 58v-4m2 0v-4m0-42v-4m2 50v-4m0-42v-4m2 54v-4m0-37v-4m6 0v-5m2 5v-5m2 42v-5m2-49v-4m2 62v-4m0-42v-4m6 41v-4m0-49v-4m6 62v-5m0-45v-4m2 54v-5m0-45v-4m2-16v-4m6 65v-4m4 17v-4m6-54v-4m2 0v-4m2 49v-4m0-57v-4m2 73v-4m2 9v-5m4-57v-4m4-4v-4m6-9v-4m2 78v-4m0-49v-4m2 49v-4m0-57v-5m2 66v-4m0-57v-5m2 25v-4m2 37v-4m0-66v-4m4 33v-4m2 20v-4m4 54v-5m2 0v-4m2-4v-4m0-53v-4m4-13v-4m2 82v-4m0-49v-4m2-58v-4m2 111v-4m0-57v-5m2 25v-4m2 41v-4m0-62v-4"/>
<path stroke="#ff4c00" d="m727 833v-4m2 8v-4m2 74v-82m2 86v-16m12 12v-49m2 57v-12m2 4v-54m2 54v-45m2 37v-33m2 45v-45m6 78v-66m8 66v-58m2 58v-54m2 54v-58m4 58v-49"/>
<path stroke="#ff2600" d="m733 895v-78m14 86v-45m2-5v-4m4 17v-4m14 82v-70m6 12v-4m4 13v-5m4 54v-54"/>
<path stroke="#e80000" d="m747 858v-5m10 91v-78m2 78v-70m2 4v-4m2 70v-78m2 78v-70m2 0v-4m2 16v-4m2 8v-4m8 58v-70"/>
<path stroke="#b90000" d="m731 825v-4m2-4v-5m12 46v-5m4-4v-4m2 17v-4m4 8v-4m2 4v-4m2 12v-4m4-4v-4m10 20v-4m8 12v-4"/>
<path stroke="#830000" d="m765 874v-4m14 4v-4"/>
<path stroke="#000" d="m83 919v-57m2 65v-49m2 49v-45m0-324v-16m2 381v-57m0-296v-28m2 385v-49m2 37v-66m2 74v-61m2 65v-49m2 49v-45m2 49v-45m2 41v-49m2 49v-49m2 49v-49m2 49v-49m2 49v-45m2 45v-49m2 37v-70m2 78v-57m2 61v-49m2 53v-45m2 41v-45m2 45v-45m2 41v-49m2 29v-91m2 107v-66m2 58v-78m2 86v-61m2 69v-49m2 45v-53m2 57v-45m2 45v-53m2 53v-49m2 49v-41m2 41v-45m2 45v-45m2 45v-45m2 45v-49m2 49v-45m2 45v-45m2 41v-49m2 29v-95m2 111v-66m2 70v-53m2 25v-111m2 131v-70m2 78v-53m2 57v-53m2 53v-45m2 41v-53m2 53v-49m2 53v-53m2 53v-49m2 49v-45m2 45v-45m2 45v-45m2 41v-53m2 57v-45m2 45v-49m2 37v-74m2 82v-57m2 61v-45m2 45v-45m2 49v-45m2 41v-49m2 45v-49m2 49v-57m2 61v-49m2 49v-45m2 41v-57m2 61v-49m2 49v-45m0-189v-32m2 266v-49m0-168v-70m2 287v-49m0-181v-49m2 275v-49m2 53v-45m2 41v-61m2 33v-115m2 135v-74m2 82v-53m2 49v-70m2 78v-49m2 49v-53m2 53v-45m2 41v-53m2 49v-53m2 24v-82m2 99v-62m0-143v-17m2 29v-41m2 41v-58m2-8v-37m2 74v-61m2 61v-61m2 65v-57m2 45v-41m2 20v-24m2 8v-4m24 263v-46m2 46v-46m2 54v-41m2 45v-45m2 49v-41m2 45v-45m2 49v-45m2 49v-45m2 49v-49m2 54v-46m2 50v-50m2 54v-49m2 53v-49m2 49v-49m2 53v-49m2 49v-49m2 49v-45m2 45v-45m2 45v-45m2 45v-49m2 49v-45m2 45v-45m2 45v-45m2 45v-49m2 45v-45m2 41v-45m2 41v-45m2 32v-49m2 41v-41m2 41v-49m2 49v-41m2 25v-54m4 66v-49m0-74v-29m2 25v-49m2 151v-65m0-50v-36m2 172v-49m0-66v-49m2 172v-37m0-82v-37m2 33v-49m2 160v-62m0-53v-49m2 45v-49m2 53v-45m2 168v-53m0-66v-45m2 156v-62m0-53v-49m2 45v-33m4 156v-45m2 53v-41m0-94v-21m2 136v-74m2-41v-45m2 41v-37m2 172v-41m0-90v-37m2 37v-41m2 176v-41m0-90v-37m2 33v-41m2 49v-41m2 164v-49m0-78v-45m2 49v-41m2 45v-37m0-4v-4m2 45v-29m0-4v-16m2 176v-37m0-90v-45m2 160v-41m0-82v-49m2 16v-53m0-5v-4m2 82v-41m2 54v-41m2 45v-45m2 94v-20m4 94v-33m2 37v-33m2 21v-58m2 66v-41m0-70v-57m2 148v-62m0-45v-58m2 70v-66m2 177v-37m0-70v-61m2 168v-45m0-62v-61m2 61v-57m4 41v-74m2 127v-20m0-33v-70m2 82v-61m2 65v-53m2 148v-66m0-41v-58m2 62v-45m2 164v-41m0-70v-49m2 25v-37m4 164v-58m2 66v-49m2 53v-41m2 37v-45m2 49v-45m2 41v-49m2 53v-45m2 45v-45m2 41v-45m2 49v-41m2 41v-41m2 41v-41m2 41v-41m2 37v-41m2 37v-45m2 49v-41m2 37v-45m2 45v-49m2 53v-45m2 41v-49m2 24v-69m2 90v-54m2 58v-49m2 53v-45m2 33v-54m2 62v-45m2 45v-45m2 45v-45m2 49v-41m2 41v-41m2 37v-41m2 45v-41m2 41v-41m2 37v-41m2 41v-49m2 33v-58m2 70v-49m2 53v-45m2 29v-83m2 91v-86m2 82v-78m2 78v-78m2 69v-82m2 74v-94m2 102v-86m2 91v-70m2 70v-74m2 65v-82m2 78v-86m2 94v-69m2 65v-74m2 66v-78m2 78v-78m2 66v-82m2 98v-70m2 46v-87m2 103v-70m2 70v-66m2 58v-70m2 78v-62m2 62v-62m2 50v-66m2 70v-66m2 62v-62m2 62v-62m2 66v-62m2 37v-78m2 86v-61m2 74v-62m2 58v-58m2 58v-54m2 45v-61m2 74v-54m2 54v-54m2 45v-57m2 62v-50m2 45v-53m2 58v-50m2 41v-53m2 53v-53m2 25v-66m2 94v-53m2 21v-66m2 86v-53m2 61v-53m2 61v-69m2 37v-62m2 86v-53m2 49v-53m2 41v-58m2 78v-49m2 41v-53m2 65v-45m2 33v-53m2 65v-49m2 49v-45m2 45v-45m2 25v-58m2 42v-66m2 74v-58m2 78v-45m2 45v-53m2 53v-53m2 41v-53m2 37v-62m2 86v-49m2 57v-45m2 33v-49m2 8v-70m2 107v-53m2 65v-49m2 49v-160m0-4v-16m2 180v-115m2 123v-90m2 86v-168m2 160v-176m2 172v-127m2 139v-49m2 33v-49m2 16v-66m2 107v-49m2 49v-49m2 45v-53m2 69v-86m2 62v-86m2 98v-49m2 61v-86m2 91v-46m2 17v-62m2 66v-62m2 50v-66m2 57v-69m2 90v-78m2 37v-103m0-4v-4m2 152v-90m2 106v-82m2 86v-82m2 82v-73m2 73v-73m2 65v-70m2 83v-62m2 66v-66m2 66v-62m2 62v-66m2 74v-58m2 62v-62m2 50v-70m2 78v-62m2 62v-70m2 82v-61m2 65v-61m2 53v-66m2 83v-66m2 61v-65m2 45v-78m2 94v-65m2 123v-107m2 107v-103m2 103v-103m2 66v-66m2 66v-62m2 99v-95m2 95v-95m2 95v-103m2 103v-99m2 99v-86m2 57v-66m2 66v-70m2 99v-95m2 95v-99m2 99v-86m2 86v-115m2 94v-70m2 62v-82m2 90v-70m2 74v-65m2 65v-65m2 65v-74m2 78v-65m2 61v-94m2 107v-78m2 82v-74m2 78v-78m2 78v-86m2 90v-86m2 86v-90m2 90v-82m2 82v-78m2 78v-82m2 82v-111m2 111v-90m2 86v-82m2 86v-90m2 90v-82m2 82v-99m2 99v-86m2 86v-78m2 78v-86m2 86v-78m2 78v-78m2 78v-115m2 115v-86m2 86v-78m2 78v-86m2 82v-86m2 90v-99m2 99v-123m2 119v-95m2 99v-90m2 86v-82m2 82v-74m2 78v-94m2 94v-94m2 94v-78m2 78v-78m2 78v-86m2 86v-82m2 82v-90m2 86v-78m2 82v-90m2 90v-86m2 86v-94m2 94v-82m2 78v-78m2 82v-78m2 78v-4m0-12v-62m2 74v-90m2 94v-4m0-12v-66m2 82v-107m2 107v-82m2 82v-78m2 74v-74m2 78v-82m2 78v-74m2 78v-4m0-21v-65m2 90v-4m0-21v-61m2 86v-4m0-25v-74m2 78v-61m2 86v-4m0-12v-66m2 82v-82m2 82v-86m2 86v-78m2 78v-86m2 86v-123m2 123v-4m0-8v-82m2 94v-4m0-12v-66m2 82v-4m0-12v-74m2 90v-4m0-8v-66m2 78v-4m0-8v-66m2 78v-78m2 74v-74m2 78v-78m2 78v-78m2 74v-90m2 94v-78m2 78v-78m2 78v-74m2 70v-78m2 78v-74m2 78v-90m2 86v-90m2 94v-90m2 90v-78m2 74v-103m2 107v-86m2 86v-99m2 99v-78m2 74v-78m2 82v-94m2 94v-86m2 86v-86m2 86v-156m2 156v-107m2 107v-111m2 107v-74m2 78v-78m2 74v-95m2 99v-82m2 78v-78m2 82v-78m2 78v-82m2 82v-82m2 78v-70m2 70v-82m2 86v-78m2 78v-78m2 78v-78m2 78v-82m2 82v-74m2 74v-94m2 90v-74m2 78v-90m2 90v-74m2 74v-70m2 70v-74m2 74v-94m2 94v-94m2 94v-103m2 99v-99m2 103v-82m2 82v-90m2 90v-78m2 74v-90m2 94v-82m2 78v-74m2 78v-74m2 74v-74m2 74v-74m2 74v-78m2 78v-99m2 99v-103m2 103v-82m2 82v-74m2 74v-86m2 86v-86m2 86v-99m2 99v-78m2 78v-70m2 70v-74m2 70v-70m2 74v-74m2 74v-70m2 70v-74m2 74v-99m2 95v-123m2 123v-95m2 99v-86m2 86v-90m2 90v-78m2 74v-74m2 78v-90m2 86v-70m2 74v-78m2 78v-115m2 115v-90m2 90v-111m2 111v-90m2 90v-78m2 78v-86m2 86v-86m2 86v-74m2 70v-82m2 86v-78m2 78v-74m2 74v-90m2 90v-78m2 78v-115m2 115v-82m2 82v-74m2 74v-90m2 90v-78m2 78v-78m2 78v-74m2 74v-74m2 74v-86m2 82v-70m2 74v-70m2 66v-90m2 94v-78m2 78v-78m2 78v-103m2 103v-82m2 82v-90m2 90v-74m2 70v-78m2 82v-78m2 78v-74m2 74v-78m2 78v-111m2 111v-99m2 99v-103m2 103v-78m2 78v-74m2 74v-82m2 82v-86m2 86v-86m2 82v-78m2 82v-78m2 78v-111m2 111v-103m2 103v-86m2 86v-99m2 99v-82m2 82v-90m2 90v-94m2 94v-107m2 107v-107m2 70v-49m2 53v-45m2 41v-49m2 53v-45m2 33v-58m2 66v-49m2 53v-45m2 45v-41m2 25v-70m2 70v-66m2 74v-58m2 62v-53m2 49v-53m2 61v-49m2 49v-45m2 41v-53m2 45v-66m2 74v-53m2 53v-49m2 45v-53m2 57v-49m2 45v-49m2 37v-66m2 74v-54m2 54v-58m2 58v-58m2 62v-49m2 53v-49m2 45v-45m2 37v-58m2 54v-62m2 70v-49m2 45v-54m2 37v-69m2 86v-58m2 54v-58m2 66v-45m2 41v-50m2 54v-45m2 37v-50m2 58v-45m2 45v-41m2 33v-50m2 54v-41m2 33v-54m2 58v-50m2 54v-45m2 28v-53m2 66v-46m2 46v-46m2 50v-41m2 33v-46m2 54v-45m2 37v-46m2 50v-41m2 37v-42m2 42v-42m2 46v-37m2 37v-46m2 46v-41m2 41v-41m2 41v-41m2 32v-45m2 45v-49m2 54v-42m2 46v-46m2 33v-53m2 53v-49m2 49v-53m2 62v-50m2 45v-45m2 45v-45m2 37v-57m2 61v-53m2 62v-50m2 37v-53m2 66v-50m2 50v-46m2 41v-49m2 49v-49m2 49v-49m2 45v-49m2 41v-57m2 65v-49m2 53v-45m2 50v-50m2 41v-53m2 37v-66m2 78v-57m2 65v-49m2 49v-49m2 33v-62m2 70v-49m2 41v-57m2 57v-57m2 69v-49m2 29v-66m2 82v-57m2 57v-53m2 61v-45m2 41v-53m2 57v-45m2 41v-49m2 41v-53m2 61v-53m2 37v-62m2 74v-49m2 16v-78m2 103v-57m2 69v-49m2 33v-62"/>
</g>
<g fill="none" stroke-width="1" shape-rendering="crispEdges">
<path stroke="#ff9400" d="M1388.5 38v40M1388.5 542v22"/>
<path stroke="#a4ff53" d="M1388.5 78v6M1388.5 564v6"/>
<path stroke="#16ffe1" d="M1388.5 84v30M1388.5 570v14M1388.5 640v60"/>
<path stroke="#00a4ff" d="M1388.5 114v90"/>
<path stroke="#0058ff" d="M1388.5 204v60M87.5 96v105M87.5 607v40"/>
<path stroke="#16ffe1" d="M97.5 112v48M111.5 68v22M113.5 44v10"/>
<path stroke="#0000ff" d="M87.5 210v40M97.5 98v14M97.5 160v5M111.5 60v8M111.5 90v7M113.5 54v6"/>
</g>
<path d="M140.5 37.4V448.4M198.5 37.4V448.4M256.5 37.4V448.4M314.5 37.4V448.4M372.5 37.4V448.4M430.5 37.4V448.4M488.5 37.4V448.4M546.5 37.4V448.4M605.5 37.4V448.4M663.5 37.4V448.4M721.5 37.4V448.4M779.5 37.4V448.4M837.5 37.4V448.4M895.5 37.4V448.4M953.5 37.4V448.4M1011.5 37.4V448.4M1070.5 37.4V448.4M1128.5 37.4V448.4M1186.5 37.4V448.4M1244.5 37.4V448.4M1302.5 37.4V448.4M1360.5 37.4V448.4M1418.5 37.4V448.4M81.5 346.5H1476.6M81.5 243.5H1476.6M81.5 140.5H1476.6" stroke="#b9b9b9" stroke-width="1" stroke-dasharray="1.1 2.43" fill="none"/>
<path d="M140.5 541.4V952.4M198.5 541.4V952.4M256.5 541.4V952.4M314.5 541.4V952.4M372.5 541.4V952.4M430.5 541.4V952.4M488.5 541.4V952.4M546.5 541.4V952.4M605.5 541.4V952.4M663.5 541.4V952.4M721.5 541.4V952.4M779.5 541.4V952.4M837.5 541.4V952.4M895.5 541.4V952.4M953.5 541.4V952.4M1011.5 541.4V952.4M1070.5 541.4V952.4M1128.5 541.4V952.4M1186.5 541.4V952.4M1244.5 541.4V952.4M1302.5 541.4V952.4M1360.5 541.4V952.4M1418.5 541.4V952.4M81.5 850.5H1476.6M81.5 747.5H1476.6M81.5 644.5H1476.6" stroke="#b9b9b9" stroke-width="1" stroke-dasharray="1.1 2.43" fill="none"/>
<rect x="81.5" y="37.4" width="1395.1" height="411.0" fill="none" stroke="#000" stroke-width="1.25"/>
<text x="81.5" y="473.9" text-anchor="middle" class="tk">0</text>
<text x="139.6" y="473.9" text-anchor="middle" class="tk">1</text>
<text x="197.8" y="473.9" text-anchor="middle" class="tk">2</text>
<text x="255.9" y="473.9" text-anchor="middle" class="tk">3</text>
<text x="314.0" y="473.9" text-anchor="middle" class="tk">4</text>
<text x="372.2" y="473.9" text-anchor="middle" class="tk">5</text>
<text x="430.3" y="473.9" text-anchor="middle" class="tk">6</text>
<text x="488.4" y="473.9" text-anchor="middle" class="tk">7</text>
<text x="546.5" y="473.9" text-anchor="middle" class="tk">8</text>
<text x="604.7" y="473.9" text-anchor="middle" class="tk">9</text>
<text x="662.8" y="473.9" text-anchor="middle" class="tk">10</text>
<text x="720.9" y="473.9" text-anchor="middle" class="tk">11</text>
<text x="779.1" y="473.9" text-anchor="middle" class="tk">12</text>
<text x="837.2" y="473.9" text-anchor="middle" class="tk">13</text>
<text x="895.3" y="473.9" text-anchor="middle" class="tk">14</text>
<text x="953.5" y="473.9" text-anchor="middle" class="tk">15</text>
<text x="1011.6" y="473.9" text-anchor="middle" class="tk">16</text>
<text x="1069.7" y="473.9" text-anchor="middle" class="tk">17</text>
<text x="1127.8" y="473.9" text-anchor="middle" class="tk">18</text>
<text x="1186.0" y="473.9" text-anchor="middle" class="tk">19</text>
<text x="1244.1" y="473.9" text-anchor="middle" class="tk">20</text>
<text x="1302.2" y="473.9" text-anchor="middle" class="tk">21</text>
<text x="1360.4" y="473.9" text-anchor="middle" class="tk">22</text>
<text x="1418.5" y="473.9" text-anchor="middle" class="tk">23</text>
<text x="1476.6" y="473.9" text-anchor="middle" class="tk">24</text>
<text x="75.2" y="454.4" text-anchor="end" class="tk">0</text>
<text x="75.2" y="351.6" text-anchor="end" class="tk">0.25</text>
<text x="75.2" y="248.9" text-anchor="end" class="tk">0.5</text>
<text x="75.2" y="146.1" text-anchor="end" class="tk">0.75</text>
<text x="75.2" y="43.4" text-anchor="end" class="tk">1</text>
<path d="M81.5 448.4v5.8M139.6 448.4v5.8M197.8 448.4v5.8M255.9 448.4v5.8M314.0 448.4v5.8M372.2 448.4v5.8M430.3 448.4v5.8M488.4 448.4v5.8M546.5 448.4v5.8M604.7 448.4v5.8M662.8 448.4v5.8M720.9 448.4v5.8M779.1 448.4v5.8M837.2 448.4v5.8M895.3 448.4v5.8M953.5 448.4v5.8M1011.6 448.4v5.8M1069.7 448.4v5.8M1127.8 448.4v5.8M1186.0 448.4v5.8M1244.1 448.4v5.8M1302.2 448.4v5.8M1360.4 448.4v5.8M1418.5 448.4v5.8M1476.6 448.4v5.8M81.5 448.4h6M1476.6 448.4h-6M81.5 345.6h6M1476.6 345.6h-6M81.5 242.9h6M1476.6 242.9h-6M81.5 140.1h6M1476.6 140.1h-6M81.5 37.4h6M1476.6 37.4h-6" stroke="#000" stroke-width="1.1" fill="none"/>
<text x="779.1" y="28.0" text-anchor="middle" class="ti">Raw attenuated backscattering coefficient</text>
<text transform="translate(27 243.9) rotate(-90)" text-anchor="middle" class="lb">Altitude (km)</text>
<rect x="81.5" y="541.4" width="1395.1" height="411.0" fill="none" stroke="#000" stroke-width="1.25"/>
<text x="81.5" y="977.9" text-anchor="middle" class="tk">0</text>
<text x="139.6" y="977.9" text-anchor="middle" class="tk">1</text>
<text x="197.8" y="977.9" text-anchor="middle" class="tk">2</text>
<text x="255.9" y="977.9" text-anchor="middle" class="tk">3</text>
<text x="314.0" y="977.9" text-anchor="middle" class="tk">4</text>
<text x="372.2" y="977.9" text-anchor="middle" class="tk">5</text>
<text x="430.3" y="977.9" text-anchor="middle" class="tk">6</text>
<text x="488.4" y="977.9" text-anchor="middle" class="tk">7</text>
<text x="546.5" y="977.9" text-anchor="middle" class="tk">8</text>
<text x="604.7" y="977.9" text-anchor="middle" class="tk">9</text>
<text x="662.8" y="977.9" text-anchor="middle" class="tk">10</text>
<text x="720.9" y="977.9" text-anchor="middle" class="tk">11</text>
<text x="779.1" y="977.9" text-anchor="middle" class="tk">12</text>
<text x="837.2" y="977.9" text-anchor="middle" class="tk">13</text>
<text x="895.3" y="977.9" text-anchor="middle" class="tk">14</text>
<text x="953.5" y="977.9" text-anchor="middle" class="tk">15</text>
<text x="1011.6" y="977.9" text-anchor="middle" class="tk">16</text>
<text x="1069.7" y="977.9" text-anchor="middle" class="tk">17</text>
<text x="1127.8" y="977.9" text-anchor="middle" class="tk">18</text>
<text x="1186.0" y="977.9" text-anchor="middle" class="tk">19</text>
<text x="1244.1" y="977.9" text-anchor="middle" class="tk">20</text>
<text x="1302.2" y="977.9" text-anchor="middle" class="tk">21</text>
<text x="1360.4" y="977.9" text-anchor="middle" class="tk">22</text>
<text x="1418.5" y="977.9" text-anchor="middle" class="tk">23</text>
<text x="1476.6" y="977.9" text-anchor="middle" class="tk">24</text>
<text x="75.2" y="958.4" text-anchor="end" class="tk">0</text>
<text x="75.2" y="855.6" text-anchor="end" class="tk">0.25</text>
<text x="75.2" y="752.9" text-anchor="end" class="tk">0.5</text>
<text x="75.2" y="650.1" text-anchor="end" class="tk">0.75</text>
<text x="75.2" y="547.4" text-anchor="end" class="tk">1</text>
<path d="M81.5 952.4v5.8M139.6 952.4v5.8M197.8 952.4v5.8M255.9 952.4v5.8M314.0 952.4v5.8M372.2 952.4v5.8M430.3 952.4v5.8M488.4 952.4v5.8M546.5 952.4v5.8M604.7 952.4v5.8M662.8 952.4v5.8M720.9 952.4v5.8M779.1 952.4v5.8M837.2 952.4v5.8M895.3 952.4v5.8M953.5 952.4v5.8M1011.6 952.4v5.8M1069.7 952.4v5.8M1127.8 952.4v5.8M1186.0 952.4v5.8M1244.1 952.4v5.8M1302.2 952.4v5.8M1360.4 952.4v5.8M1418.5 952.4v5.8M1476.6 952.4v5.8M81.5 952.4h6M1476.6 952.4h-6M81.5 849.6h6M1476.6 849.6h-6M81.5 746.9h6M1476.6 746.9h-6M81.5 644.1h6M1476.6 644.1h-6M81.5 541.4h6M1476.6 541.4h-6" stroke="#000" stroke-width="1.1" fill="none"/>
<text x="779.1" y="532.0" text-anchor="middle" class="ti">Attenuated backscattering coefficient (SNR-screened)</text>
<text transform="translate(27 747.9) rotate(-90)" text-anchor="middle" class="lb">Altitude (km)</text>
<text x="780" y="1004.5" text-anchor="middle" class="lb">Time (UTC)</text>
<rect x="1530.5" y="709.10" width="22" height="8.70" fill="#ebebff"/>
<rect x="1530.5" y="700.70" width="22" height="8.70" fill="#b4b4ff"/>
<rect x="1530.5" y="692.30" width="22" height="8.70" fill="#8282ff"/>
<rect x="1530.5" y="683.90" width="22" height="8.70" fill="#4b4bff"/>
<rect x="1530.5" y="675.50" width="22" height="8.70" fill="#1919ff"/>
<rect x="1530.5" y="667.10" width="22" height="8.70" fill="#00f"/>
<rect x="1530.5" y="658.70" width="22" height="8.70" fill="#0005ff"/>
<rect x="1530.5" y="650.30" width="22" height="8.70" fill="#0019ff"/>
<rect x="1530.5" y="641.90" width="22" height="8.70" fill="#002eff"/>
<rect x="1530.5" y="633.50" width="22" height="8.70" fill="#0042ff"/>
<rect x="1530.5" y="625.10" width="22" height="8.70" fill="#0057ff"/>
<rect x="1530.5" y="616.70" width="22" height="8.70" fill="#006bff"/>
<rect x="1530.5" y="608.30" width="22" height="8.70" fill="#0080ff"/>
<rect x="1530.5" y="599.90" width="22" height="8.70" fill="#0094ff"/>
<rect x="1530.5" y="591.50" width="22" height="8.70" fill="#00a8ff"/>
<rect x="1530.5" y="583.10" width="22" height="8.70" fill="#00bdff"/>
<rect x="1530.5" y="574.70" width="22" height="8.70" fill="#00d1ff"/>
<rect x="1530.5" y="566.30" width="22" height="8.70" fill="#00e5f7"/>
<rect x="1530.5" y="557.90" width="22" height="8.70" fill="#10fae6"/>
<rect x="1530.5" y="549.50" width="22" height="8.70" fill="#21ffd6"/>
<rect x="1530.5" y="541.10" width="22" height="8.70" fill="#31ffc5"/>
<rect x="1530.5" y="532.70" width="22" height="8.70" fill="#42ffb5"/>
<rect x="1530.5" y="524.30" width="22" height="8.70" fill="#52ffa5"/>
<rect x="1530.5" y="515.90" width="22" height="8.70" fill="#63ff94"/>
<rect x="1530.5" y="507.50" width="22" height="8.70" fill="#73ff84"/>
<rect x="1530.5" y="499.10" width="22" height="8.70" fill="#84ff73"/>
<rect x="1530.5" y="490.70" width="22" height="8.70" fill="#94ff63"/>
<rect x="1530.5" y="482.30" width="22" height="8.70" fill="#a5ff52"/>
<rect x="1530.5" y="473.90" width="22" height="8.70" fill="#b5ff42"/>
<rect x="1530.5" y="465.50" width="22" height="8.70" fill="#c5ff31"/>
<rect x="1530.5" y="457.10" width="22" height="8.70" fill="#d6ff21"/>
<rect x="1530.5" y="448.70" width="22" height="8.70" fill="#e6ff10"/>
<rect x="1530.5" y="440.30" width="22" height="8.70" fill="#f7f600"/>
<rect x="1530.5" y="431.90" width="22" height="8.70" fill="#ffe300"/>
<rect x="1530.5" y="423.50" width="22" height="8.70" fill="#ffd000"/>
<rect x="1530.5" y="415.10" width="22" height="8.70" fill="#ffbd00"/>
<rect x="1530.5" y="406.70" width="22" height="8.70" fill="#fa0"/>
<rect x="1530.5" y="398.30" width="22" height="8.70" fill="#ff9700"/>
<rect x="1530.5" y="389.90" width="22" height="8.70" fill="#ff8400"/>
<rect x="1530.5" y="381.50" width="22" height="8.70" fill="#ff7100"/>
<rect x="1530.5" y="373.10" width="22" height="8.70" fill="#ff5e00"/>
<rect x="1530.5" y="364.70" width="22" height="8.70" fill="#ff4c00"/>
<rect x="1530.5" y="356.30" width="22" height="8.70" fill="#ff3900"/>
<rect x="1530.5" y="347.90" width="22" height="8.70" fill="#ff2600"/>
<rect x="1530.5" y="339.50" width="22" height="8.70" fill="#ff1300"/>
<rect x="1530.5" y="331.10" width="22" height="8.70" fill="#e80000"/>
<rect x="1530.5" y="322.70" width="22" height="8.70" fill="#d10000"/>
<rect x="1530.5" y="314.30" width="22" height="8.70" fill="#b90000"/>
<rect x="1530.5" y="305.90" width="22" height="8.70" fill="#a20000"/>
<rect x="1530.5" y="297.50" width="22" height="8.70" fill="#8b0000"/>
<rect x="1530.5" y="297.5" width="22" height="420.0" fill="none" stroke="#000" stroke-width="1.2"/>
<text x="1558" y="305" class="cb">1e-4</text>
<text x="1558" y="725" class="cb">1e-7</text>
<text transform="translate(1608 510.3) rotate(-90)" text-anchor="middle" class="cb">1/m/sr</text>
</svg>
</body></html>
